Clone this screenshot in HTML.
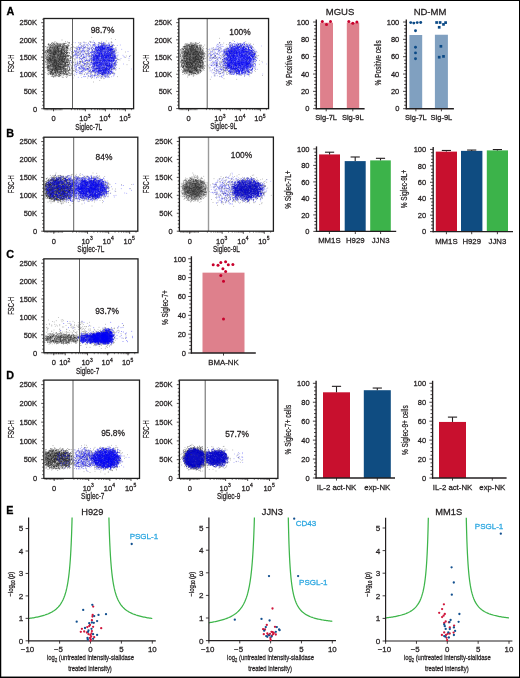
<!DOCTYPE html>
<html><head><meta charset="utf-8"><style>
html,body{margin:0;padding:0;background:#fff;}
body{width:520px;height:678px;overflow:hidden;}
svg{display:block;font-family:"Liberation Sans", sans-serif;}
text{stroke:currentColor;stroke-width:0.26px;}
svg{will-change:transform;}
</style></head><body>
<svg width="520" height="678" viewBox="0 0 520 678">
<rect x="0.5" y="0.5" width="519" height="677" fill="#fff" stroke="#000" stroke-width="1"/>
<text x="6.60" y="14.90" font-size="10.8" text-anchor="start" fill="#000" color="#000" font-weight="bold" >A</text>
<text x="6.30" y="137.40" font-size="10.8" text-anchor="start" fill="#000" color="#000" font-weight="bold" >B</text>
<text x="6.30" y="257.50" font-size="10.8" text-anchor="start" fill="#000" color="#000" font-weight="bold" >C</text>
<text x="6.30" y="379.40" font-size="10.8" text-anchor="start" fill="#000" color="#000" font-weight="bold" >D</text>
<text x="6.30" y="514.30" font-size="10.8" text-anchor="start" fill="#000" color="#000" font-weight="bold" >E</text>
<defs><marker id="mk0" markerUnits="userSpaceOnUse" markerWidth="2.80" markerHeight="2.80" viewBox="0 0 2.80 2.80" refX="1.40" refY="1.40" overflow="visible"><rect width="2.80" height="2.80" fill="#3a3a3a" fill-opacity="0.6"/></marker></defs>
<path transform="scale(0.25)" d="M367 149l78 6 17 3-99 8-5-1-66 4 25 3 6-2 13-2 8 2 19-1 13 1 3 3 29 0 15-1 12 1 11-3 2 0-45 5-7-1-46 3-10-1-18 1 3 5 6 3 1-1 3-1 17 2 17-4 4-1 5 5 23-1 6 1 4-2 4-3 32 1 10 1-6 9-8-1-2-4-5 4-8 1 0-3-2 0-29 1-3-3-24 2-1 3-23 0-5-1-3 1-13-2-17-3-1 3-9 2 5 2 3 2 5 1 1 0 7-3 2 3 13-4 15 4 2-4 3 2 3 3 8-4 1 2 10-1 1 2 4 0 13 0 2-4 10 2 12 1 11-3 4 3 28-3 5 8-15 2-11-2-7-2-3 1-16 4-12 0-12-1-4 0-18 0-12-2-5 1-8 2-8-3-13 1-5-2-14 3-8 7 8 0 4-1 6 1 2-4 5 2 7-1 10 0 2 3 5-3 5-1 35 0 14 0 6 0 6 0 0 4 11-5 25 3 8-1 48 2-38 2-10 5-7-4-2 4-1-2-47 2-1-1-3-3-16 1-25-1-3 2-1 2-6-3-19-2-1 4-3-1-8 2-6-3-14-2 13 8 5 2 5 1 2-1 4-2 12 0 12-2 1 3 11 2 1-1 2 1 20-2 15-2 8 2 5 1 4 0 8 0 7-2 20 3 3-1 74 3-5 2-13-1-41-2-14 3 0-1-5-1-7 1-1-1-24 3-2-2-4-2-10 2-5-1-2 3-1 1-9-5-3 5-10-2-1 2-15-5-17 3-7 1 0-3-25 1-5-1-10 7 1 1 30-2 3-1 11 4 1-3 6 2 3 1 22-1 11 2 1-3 9-1 6 4 22-5 9 5 4-2 9-3 1 1 15 0 13 3 39-2-27 8-7-2-1 0-13 3-7-3-13 3 0-2-5-2-8 4-9-4-2 0-2 3-1 1 0-4-12-1-3 5 0-3-15-2-1 0-10 4-19-3-16 0-6 4-8-3-1 0-15 0 20 9 0 0 7 0 4 0 8-3 7 1 0-3 8 5 0-1 4-4 6 0 1 1 34 3 1-3 0 2 2-2 4 3 7-3 12 4 10-2 43-3 36 1-54 9-2-2-12 0-27 3-8 0-2-4-25 1-4-1-6 3-11-3-15 1-1 2-3-1-20-3-2 5-1-5-2 4-4-4-8 5-6-2-10-1-2 5 11-1 2 4 5 0 2 0 4 0 3 0 1-1 3 0 14 1 3-4 1 3 0-1 6 2 2-4 1 0 5 0 5 5 30-5 7 0 5 0 2 1 7 4 7-2 0-1 0 1 7-1 2 3 29-2 10 1 43 3-65 3-3 1 0-3-1-1-10 2-1 1-4-3-2 1-3 2-12-4-2 4-23 0-4 1-8-4-12 2-12-1-7 2-5 0-4 1-1-4-17 3-10-3-5 1-15 0 44 4 1 5 14-1 0-1 7-3 4 2 2-1 18 4 7-5 6 0 16 2 15 3 9-1 9-2 2 0 3-1 4 0 4 0 30 9-19-4-1 4-31-2-4 2 0-2-1 2-4-1-1 0-6-2-14 1-35-1-4 0-6 2-3 2-8-2-10-3-12 0-1 4-2-2-23 3 9 4 3 1 17-3 12 2 9-3 11 3 2-2 6-1 1 5 17-2 5-2 16 4 11-4 1 2 0 2 2-3 1-1 3 2 8-1 9-1 0 2 11-1 6-1 11-1-49 9-15 0-2-1-1 0-22 3-2-4-1 2-1-2-1 4-2 0-6-5-5 3-4-3-19 1-4 0-27 4-1-3-2-1 23 7 5 3 16-3 9-2 0 2 10 3 0-4 13-1 3 2 6 3 4-4 3-1 6 3 14 1 3-2 3-1 2 4 1-5 9 5 30-1-28 5-13 1-6 1 0-5-1 5-11-5-20 2-10 3-8 0-13-3-10 0-2 1-8-1-10-2 5 6 28 4 3 0 29-4 10 4 3-4 5 1 8 0 8 3 2-3 19-1 31 7-38 0-4-1-16 4-3-4-3 1-37 3-1-3-76 5 59 0 15 1 38-1 1 2 10 1-16 7-25 6" fill="none" stroke="none" marker-start="url(#mk0)" marker-mid="url(#mk0)" marker-end="url(#mk0)"/>
<path transform="scale(0.25)" d="M445 166l-20-2-28 6 2 2 7-3 11 2 35 8-5-2-26 0-4 2 0-1-3-1-11-3-5 2-17 0 25 6 3 1 1-3 1 5 2-4 1 0 10 1 12 1 12-1 2 2 14 6-13-1-7-3-2 1-4 4-7-1-9-4-14 0-1 4-6-1-4-3-2 2-1 2-2-1-3 1 0 1-6 6 8-5 2 4 7-4 1 0 1 2 8-2 0 5 0-3 0 3 4-3 1 2 0-2 2 3 1-5 2 5 1-4 3 1 12 1 5 2 4-5 2 0 14 5 2 6-6-1-4 1-2-5-2 0-1 1-3 1-2 1-2-3 0 0-1 4-10 0-4-2-1-2-3 0-14 5-2-4 0 0 0 1-1 1-1-2-9-1-12 4-12-2-2 1 6 6 4-3 4 2 8-2 1 3 0-3 11 5 2-5 6 1 6 0 2 0 2 1 9 3 0-1 1-3 2 1 2 1 0 0 4 1 3 1 4 0 4-3 1 3 0-4 5 0 2 2 0-2 6 8-8-1-6-2-5 5 0-3-6-1-4 1-6 2-1-4-3 3-5-2-2 3-2-1-9 2-2-4-4-1-3 1-2-1 0 4-5-3-4 3-6-1-1-1-11-1-11 4-4 0 12 1 4 1 0 4 2-2 14 2 1-1 2-1 5 1 4-4 3 2 9 2 1-4 0 1 3 1 4 2 2 0 2-4 7 0 5 0 1 4 8 0 2 1 0-4 0-1 14 5 0 6-1-1-3-1-2 2-5 0-5-3-1 3-2-4-9 4 0-5-1 2 0-2-8 5 0-1-2-4-2 0-4 0 0 1 0 3-7-1-4 2-2-3-5 2 0-1-1 2-2-4-3-1-1 0-2 4-1 1-10-1-12-2-4 3-1 1 13 2 4-1 2 3 2-4 1 0 5 0 1 5 1-5 2 2 0 3 0-4 1 2 13 2 2-4 0 2 6 1 5-3 1-1 3 3 1-3 3 3 2-3 9 4 3-3 1 1 5-1 3 0 7 4 2-2 4-1 1 1 6 1 3 6-11-4-2 1-5-1-3 0-5 1-6-1 0 0-7 4-1 1 0 0-10-3-3 1-1-1-4 3-1-2-4-3-4 1-4 0-6 3-1-1 0 2-8-1-6 1-5-3 0 1-10-2-4 1 2 4 4 1 6-1 1 4 4-3 2 4 6-3 11-1 0 4 2-3 2-1 0 0 1-1 13 3 3 1 1 1 5-5 2 4 2 1 9-5 1 1 0 0 7 4 2 0 0-4 0 2 2 0 4-1 1 2 5-4 2 3 1 1 9 5-26 0-11-2-1 0-8 3-5-2-16-2-4 5-1-4-1 3-7-4-2 5-2 0-5-1-3-1-5-2-7-1-1 3-6-1 13 6 2 0 3 3 0-2 3-2 4 3 3-3 2 3 2-1 4-3 3 1 1 4 0-3 7-2 0 2 0-2 17 5 1 0 1 0 0-4 3 3 1-3 0 1 3-1 7 3 8-2 9 1 0-1 4 0 2 3 0 6-2 0-5-1-1-4-7 0-2 5 0-4-8 4 0-2-3 0-2-2-2 0-1 3-7-4-1 2-6 1-1 2 0-3-1-2-3 5-21-1-1-2-3 3-4-5-22 2-4 7 3 2 13-3 0 0 3 1 9-1 9 1 1-2 6 1 1 3 1-3 5-2 13 4 7-4 7 5 4-5 4 1 0 3 1-3 2 3 9-3 4 4 2-5-6 8-1 3-5 0 0-4-4 0-4 2-3-2-6 3 0-2-6 2-4-1 0 2-2-4-1-1-3 0-4 5-4-1-6-4-1 4 0 1-1-1-4-2-3 3 0-3 0 2-1 0-3 0 0 1-2-2-1-3-1 3-10-1-16 0 23 7 4-2 1 0 11 0 4 2 1-3 3 5 1 0 10-1 1-2 6 3 0-5 3 4 7-3 3 0 5 4 6-3 1-2 2 0 8 2 7 1-21 7 0 0-2-4-7 3-5-3-8 0 0 3 0-3-1 2-4 3-3-4-7-1-5 3-3-3-2 0-5 4 0 2 2 3 3 0 5 0 5-1 3 1 6 2 0-4 0 0 10 2 4 0 8-2 4 4 10 0 3-3 1 5-5-1-10 4-10-4-8 2-6-2 0 0-5 3-1 1-1 1 0-1-2-3-2-1-26 2-15-1 12 8 16-2 40 2 5 7-47-4" fill="none" stroke="none" marker-start="url(#mk0)" marker-mid="url(#mk0)" marker-end="url(#mk0)"/>
<defs><filter id="bl0" x="-50%" y="-50%" width="200%" height="200%"><feGaussianBlur stdDeviation="2.0"/></filter></defs>
<ellipse cx="56.50" cy="59.50" rx="8.50" ry="14.00" fill="#333" fill-opacity="0.6" filter="url(#bl0)"/>
<defs><marker id="mk1" markerUnits="userSpaceOnUse" markerWidth="2.80" markerHeight="2.80" viewBox="0 0 2.80 2.80" refX="1.40" refY="1.40" overflow="visible"><rect width="2.80" height="2.80" fill="#262626" fill-opacity="0.7"/></marker></defs>
<path transform="scale(0.25)" d="M248 160l14 7-42-1-12 5 3-1 5 2 3 0 5 1 3-3 27 3 2 0 6 0 3 0 5-5 5 3 1 1 1-1 1 1 9 6-12-1-5 2-10-5-1 2-1 2 0-4-2 2-2 1-1 1-2 0 0-4-4 2-2 2-2-1 0-3-2 5-1-1-1-3-2 4-2-5-3 4 0 1-1-3-1-2-1 3 0-2-3-1-6 5-1-3-1 2-2 1-2-4-1-1-1 2 0 1-4 1-1-4-1 0-4 4 0 0-6-1-1-2 0 2-1 0-2 0 2 3 2 4 1-3 2 3 1-4 4 2 0 3 0-2 1-2 2 2 3 0 0-3 3 1 1 3 0 1 3-5 0 5 4-3 1-1 2-1 1 2 1-2 0 5 3-3 0 2 2 1 1 0 0-1 2 1 0-2 2 2 0-5 0 0 1 5 0-3 3 0 0 1 2 0 0-2 1 2 1 2 0 0 5-2 1 1 0 1 1-1 0 1 2-5 1 4 1-2 0 3 4-2 0-1 1 0 2 0 4 1 0 2 1-2 3-2 3 3 1-2 0-1 5 2 16 5-4-2-4 5-3-2-11-2-3 2 0-2 0-1 0 3-1 2-1-1-1-1 0-3 0 5 0-1 0-4-1 5 0 0-1-1-2-4-1 2-2 0-1 2-1-2-2-2-2 5-1-5-1 0 0 4-1 0 0 1 0 0-1-1-5 1 0-3-1-2-2 0-4 1 0 2-6 0-1-3 0 4 0-2-1 3 0 0-1-1 0 0-1-1-1 2 0-5-4 0 0 4-1-4-1 4-2-4-1 3-1 2 0 0-2 0-4-4 0 3 0 1-3 0 0-4 0 3-3 0-2 1 0-2-1-3-1 3 0 0-1-2-1 3-7-4 0 5-1 0 0 0-7-4-2-1 3 6 4 4 5 1 3 0 0-5 1 3 1-3 0 3 1 0 2-3 3 4 3-2 1 2 3-2 0-2 4 1 1 4 1-2 0-1 5 0 1 2 3-3 1 2 3 1 0-3 1-1 1 3 0 0 0-2 6 1 0 1 3-2 3 1 2 0 1 0 0 3 1-5 0 4 1 1 2 0 0-5 1 3 2 2 0-5 1 4 2-3 0 1 1 2 2-4 2 4 1-1 1-3 3 2 1-2 0 1 1 0 1-1 1 0 3 2 6-1 3 4-3 4-4-1-5-1-2 3-1-2-1 1-1 1 0-4 0 0-1 5-3 0-3-3 0 1-1-1-3 0 0-1-1 1 0-1-1 4-1-1-4 1 0-2-2 2 0-5 0 1 0 0-1 2 0 0-1-2-1 2-1 0-2 1-5-1-2-2 0 1-1 0-2-2 0 2 0-1-3 4-1-3-1 1-2 2-2-3 0-1-1 4-1-3-2 2-2 0 0-4-1 0-1 3-2-1-5 0-3 3 0-3-2 3 0-3-1 2 0-3-1 1-1-1 0 1-2 3-1-1 0 0-1-3-2 2 0 2 0 0-3-4-1 0 0 3-4 1-1 0 0-1-5 7 1-1 2 0 0-2 6-1 0-1 2 1 0 4 0-3 0 0 0-1 1-1 1 2 4 0 0 0 1 2 1-3 3 0 1-1 0 0 1 4 1-3 1-1 1 4 0 1 2 0 0-5 3 2 3 3 1-3 0-2 1 5 1-2 0-2 0 2 2-2 2 0 0 1 1 3 1-4 0 1 2 3 0-3 2 3 2-3 2-1 1-1 1 5 0 0 0-4 0-1 1 0 1 0 1 2 1-1 1 0 2 1 1 3 2-4 0 0 1 3 1-2 0 3 0 0 0 0 1-3 1-1 1 1 0 1 2 2 6-4 1 1 1 0 0-1 0-1 0 4 1-3 2 3 0-4 5 3 0 2 1-1 0 0 0-3 3 4 2-5 15 4 6 1-4 4-10-2-2 3 0-2-3-2-4 0-1 1 0-1 0 4-1-3 0 1-2 1 0 1 0 0 0 0-1 1-2-5 0 0-1 1-2-1-3 3 0 1 0 1 0-3 0 3-1 0-1-3-1 3 0 0-1-4 0-1-2 3-1 2-1-2-1-1 0-2-1 1 0 1-1 2-1-2 0-1-1 2 0 2-8-2-2-2-3 2-6 2 0-3-1 1-1 0-1-2 0-1-1 0-1 0 0 4-1-3 0 0-4 3-2-3 0 1-1 1 0 0-2-3-1 3-4 1-1-1 0-1 0 2-3-1 0 1 0 0-1-3-1 4-2-4 0 4-1-3-3 0 0-1 0 0-4-1-4 4 0-4-1 2-3-2 2 7 5-1 0 3 5-1 2 0 7 2 0 0 3-2 4-1 4 0 0 0 0 2 1-3 1 0 0 2 1-2 0 1 1 3 1 0 0-3 0-1 1 2 0 1 1-2 2-1 0 1 3 0 4 2 1 0 3 0 0 1 1 1 0 0 2-2 1-3 2 4 1-1 1-3 1 5 1-1 0-4 1 1 0-1 1 3 2 0 2 1 1-4 1 5 2-1 1-2 1 3 0-3 1 2 1 0 4-2 1 3 0-2 0-2 2 3 1-2 3 3 3-4 2 4 3 0 10-5 10 7-4 3-9 1-1 0-2-4-2-1-3 5-1-5 0 3 0-1-3 1 0-3-1 1-1 2 0-3-1 3-1-1-1 3-1-5-2 2 0 1-2 2 0-2 0-2 0 3-1 1-2-2 0 1-1-4 0 4-2-1-1 1-1-4-1 5-2 0-1 0 0-1-2 1 0-5-1 5-4 0 0-1-1-4 0 4 0-2-1 0-1 2-3 0-2-4-1 2-3 1 0-2-1 1-12 1 0-1 0 0-1 3-3-2 0 0 0-3-3 3-1 2 0-3-2-2-2 2-1 2-1-2 0 3-2-5-1 1-1 0-2-1 0 1-2 3-6-4 0 4 0-4-2 3-5-1 0-1 2 5 0 1 2 0 0 4 3-2 2-1 1-2 1 0 1 1 3 4 1-1 1 0 0-1 0-1 1-1 2 2 5 2 1-4 3 2 1 0 0-3 0 2 3 0 0 3 3-4 0-1 2 2 2 1 0-3 0 0 2 5 3-2 2-3 1 2 2 1 5 1 2-2 0 0 1 3 0 0 0-4 1 2 5-3 1 1 2 1 0 3 2-3 1 1 1 2 0-5 2 0 0 0 1 0 4 5 1-4 0 2 2-1 0 2 1-2 1-2 3 5 3-1 10-1 0-2 5-1 2 5 11 6-3-5-14 1-1-1-1 2-4-2-2 3 0 0-3 1-1 1-1-5-1 1-1 3-5-4-1 4-1-2 0 0 0 0-1-1 0-1-1 1 0 2-1 2-1-3-2 2-2-2 0-2-1 2 0-2-2 2 0 1-1-3-2 0-1 4 0-1-2 2 0-4-2 2-1 1-2-1 0 1 0 0-1-2-1 1-1-3-1 0-1 5-1-3-3-2-4 3-2-1 0 3-1-1-4-4 0 3 0 2-1-2-3-1-3-2 0 1-2-1 0 1 0 4-4 0-2-1 0-1-1-1 0-1-1 3 0-4-1 0 0 2-1 1 0 2-2-5 0 4-2 0 0 0 0-3-2 1-2-2-2 5 0-1 0-1 0 2-2 0-3-4-2-1 1 11 0 0 4-5 2 4 1-4 0 0 2 3 1 0 1-1 0 0 0-2 2 1 0 3 1 1 3-3 1-2 0 2 1 3 0-1 0-2 2 2 0-2 1-2 0 0 2 2 0-2 3 2 1-1 2 2 0-3 2 2 4 2 0-3 0-1 0 3 1-2 0-1 0 2 2 1 0 2 1-4 2 4 1-3 0 2 0-3 4-1 2 3 0 1 1 1 0 0 1-1 2 1 1-2 1-1 0-1 4 4 1-2 2 0 0-1 1 0 0-2 1 1 0-1 1 3 2-3 0 5 1-5 0 1 0 3 2-4 1 0 0 5 1 0 1 0 2-5 0 0 1 1 0 0 0 3 5-3 1 3 0-3 1-1 1 5 1-5 0 0 2 2 1-2 3 2 0 2 1-2 2 2 1 0 3-2 1 1 1-1 8 3 9-1-7 6-4 1-4-2-6 0-3 0 0-1-2 0-3-1-1 2-1-2 0 3 0 0 0 1-1-1-1 0-1 0-1-1 0-2-1 0-2 4 0 0 0-3-2 0-2 0 0 3-2-5 0 4-1 0 0-1-1-3-1 0 0 0 0 1-3-1-1 3 0 2 0-5-1 3-2-3 0 2-4-2-1 4-3 0 0 0-2-1-2-2-3 0-3 3-1-1-1 2 0-4-2 0-3 3 0-3-1 4 0-2 0-2-1-1 0 4-1-2 0 0 0 2-1 0-3-2 0 1-1-3-2 2-2 3-3 0 0-5-1 4 0-3-3 2-2-1-2-2-1 4 0-3-2 4 0 0 0-5-3 0-3 4 0-4-2 5-4-1 1 7 3 0 3-1 0-4 1 3 5-1 1 0 0-1 5 3 2 1 2 0 3-1 0 0 2-1 1 1 1-3 0 0 1 0 4 2 0-1 3-1 2 1 1 3 0 0 1-5 1 0 1 2 0-2 1 5 0-2 0-2 2 0 3 4 0-3 0-1 1 2 5-3 0 4 1-1 1-2 1 3 2-1 0-3 1 4 1 1 2-4 2 0 6 4 2-3 1-2 1 0 1 5 0-3 0 0 0 3 1-3 0 1 1-1 0-2 0 4 1 0 5 1 1-5 2 0 4 5 1-3 2 1 0-3 9 3 4 5-5 3-7-4-5 2 0-3-1 2-1-1 0 0-1-1 0 2-1 1-1-3-1 5-1-3-1 3-1-3-2 0-2 1-2-1 0 1-1 1 0-4-2 3-1 2 0-5-1 1 0 4-4-4-1 0-1 2-1-3-2 0-2 2-1-1 0 0-3-1 0 3-1-3-4 0 0 2-1 0 0 3-1-2-2 0 0 0-2 1-1-1-1-3 0 0-1 2 0 3-3-2-1 2 0-2-3 1 0-2-1 2-1-4-1 1-1-1-1 4-1-2-1 3 0-5 0 4-2-2-1-2-6 5-1-1 0-4-1 3-2 2-3-1 0 1-1 0-1-3-2 2-1-2-2 3-1 3 2 3 0-3 0 1 1-2 1 4 0 0 0 0 2-2 0 2 0-5 0 1 3 2 1 0 2-2 4-1 0 1 0-1 4 1 2 1 3-1 0 1 2 3 0 0 1-2 1-1 3-2 0 0 0 3 1-3 1 0 1 3 0 0 1-3 1 4 1 1 1-1 2-2 1 0 3-2 1 3 0-1 2-1 0 3 0-2 1 0 0 2 1-2 0 2 0-1 1 1 3-1 0 0 0 1 1 1 0-3 0 0 4 3 0-3 1 3 1-1 1-1 3 1 0-3 1 3 0-2 0-2 1 2 1 2 1-2 1 2 1-2 1-2 0 5 1-4 1 0 0-1 1 0 2 2 0-2 4 2 1-1 4 1 2-1 2 4 2-5 7 5 1-3 2 0 0 2 7 4-11 1-1-1-6 3 0-1-2-3-1 0-5-1-2 5 0-4-1 3-4 1-2-1-2 1-3-1 0 0-1-3-1-1 0 4-1-1-1 0-1-1 0 2-1-3-1-1-3 2 0-2 0 4-4 0-1-4 0 3 0-1 0-2-2 5-4-5-1 5 0-1-2-4-3 3 0 0-1-2-1 0-2 4 0-5 0 5-1-5-2 5 0-2-1-1-1 0 0 3 0-3 0-2 0 4 0 0-1-4-2 5-5-2-1-1-4 1-6-1 0 1-2-1-1 2-1-2-3 2 0-3-2 4-1 0 0-5-1 1 0 4-6-4-2-1 6 6 3 0 2 5 1-4 4 2 0 2 1-2 1-1 0 1 4-1 2 1 0-1 1-2 1 1 2 1 0-1 1 1 1 1 0-3 3 0 1 5 1-1 1-1 1 0 1 2 1-2 0-3 3 4 1-4 0 1 0 2 1 1 1 1 0-3 2 2 0-2 2 0 1-1 0 1 3-1 1 1 2 0 0-2 1 0 1 2 2 2 0-1 1-2 0 4 1-3 0 1 0 2 4-2 0-3 3 0 1 5 1-1 1-4 1 1 0 1 1-1 2 4 1-4 2 3 1 0 0-3 0 0 1-1 0 0 1 3 3 2 2-3 1-2 2 5 2 0 3-4 0 2 1 0 1-1 3 3 5-5 1 3 2 1 4 4-2-2-4 5-1-4-10-1-2 1-1 1-1-2-1 5-4-3 0 2 0-3-4 3 0-4-1 3 0-2-1 3-1 1-1-4 0 3-1-1-1-3-2 4 0-3-2 1 0 0-1-1-2 4 0-1-4-1 0 0 0 1-3-2 0 3 0-2-3 1-1 0-2 1-1-2-6-1-1 2 0-4-2 1 0 4 0-2-3-2-2 3-1 1 0 0-2-5-1 3 0-2-2 0-7-1-1 1 0 1 0-1 0-1 0 1-3 2 0-2 0 0-1 2 0 2-1-2-2 0 0-1 0 2-2-1-2 0-3-3-1 0 0 0-3 2-1-1-11 6 14 2 4-2 2 4 1-4 1 3 1-3 0 4 1-2 2-2 0 1 1 1 1-2 0 2 1 1 2-1 3 2 2-3 0 0 1-2 3 3 0-1 1 0 1 1 0-3 0 3 2 0 3 2 1-5 2 4 0-1 0-3 2 0 1 1 3 0 0-1 1 1 1 1 1 3 3-1 0-2 1 3 0-5 3 1 2 3 1-3 3 4 1-1 0-2 1-1 1 4 1-5 0 5 1 0 4-1 1-1 0-2 0 1 1 2 1 0 1 1 0 0 2-4 6 1 1-1 3 4 1-3 7-2 4 1 3 9-5-2-1-1-3-1-4 1-6 0-1 4-1-4-1 4-1-1 0-4-3 4-1 1 0-2-1 0-1 1-4 0 0-3-1-1-1 4-3 0-1-4-2 2-3-2-1 3-1-2-3-1-1 1 0 1-1-1 0-1-3 5-1-3-1 2 0-1-1 2 0-3-3-2-6 2 0 1-3-2-1 0-1 4-3-3-3-2-1 4 0-1-1-3 0 1-2-1-1 5 0-3 0 2-1-1-1-1-1-2-1 5-2-5-1 4-2-4 0 4 0-4 0 2-5-1-1 3-3 1-3-5 16 11 5-3 2 3 4-5 2 4 2-1 1 0 1 0 4-3 2 2 0 1 0 0 5 2 1-1 2 0 1-2 1-2 2 3 2 0 1-2 5 3 7-2 9 3 2-5 5 0 5 1 1 1 4-1 0-1 7 1 10 2-29 4-3 3-13-1-4 0-11-3-2 1-13 0-7-1-1 3-1-2-5-1" fill="none" stroke="none" marker-start="url(#mk1)" marker-mid="url(#mk1)" marker-end="url(#mk1)"/>
<defs><marker id="mk2" markerUnits="userSpaceOnUse" markerWidth="2.80" markerHeight="2.80" viewBox="0 0 2.80 2.80" refX="1.40" refY="1.40" overflow="visible"><rect width="2.80" height="2.80" fill="#0808f4" fill-opacity="0.55"/></marker></defs>
<path transform="scale(0.25)" d="M407 165l-33-1-73 7 13 0 10 2 9-4 6 1 15 3 1-1 8-4 1 1 6 0 7 2 1-1 22 1 15-2 25 3 7 0 6 7-15-2-6 1-7 0-4-3-7 0-8 3-18-1-7-1-4 1 0 0-1 2-4-1-12 0-3 0-12-1-7 0-5 2-10-3-4 2-4 5 10 1 3 0 9-2 5 3 4-5 5 1 1 1 10 1 1 1 10-4 0 3 2-3 3 1 1-1 2 3 2 0 7 1 3 1 9-1 2-3 2 1 15 2 4-2 3-1 1 1 4 1 1-1 1 2 4-4 1 1 7 4 3-4 0 3 1-2 1 1 0-2 17 1 12-2-34 6-2 0 0 1-5 3-4 1-1-2-1 0-2-3-1 2-11 0-3-2-1 0-6 4-4-3 0 1-1-2-2 2-3 0-6-2 0 4-1 0-3 1-6 0-2-1-1-3-6 1-5 0-2 1-2 0-8 0-8 2-8-4-2 2-3 1-1 1 0-3-2-1-8 2-2-3-1 3 0 1-5 1 0-1-2 0-1-1 0-3-2 5-3-1-7 0 4 4 2 0 9 3 0 0 0-4 1 2 3-1 5-1 4 3 0-3 1 0 3-1 1 4 4-3 12 0 1-1 4 2 2-1 4-1 2 4 1 0 3 1 5-4 8 2 2-3 2 4 2-4 3 0 2 4 0 0 4-4 2 0 1 1 5 4 10-1 0-1 1-3 0 4 15-4 0 3 1-2 4 4 5-2 3 2 4 0 2 0 3-2 3 0 0-1 5 2 4 0 22 1-22 6-6 0-2-5 0 5-1 0-5-4-1 2-4 2-2-4-2 2-5 1-4-4-4 4-4 0-11-4 0 0-4 4 0-1-1-1-1 2 0-4-5 4-5 0-2 0-1-2-2 3-4-1-1-2-8-1-1 4-7-3-2-2-1 3-12-3-1 0-2 4-3-1-6-1-7 3-3-2-3 2 0-5 0 4-3 1 0 0-2-2-10 0-4-1-3-2-3 1 0 2-9 1 0-1-13 5 13-1 2 2 1 2 2-3 0 1 3-3 2 1 0-1 3 5 1-1 2 1 4-2 5-2 2 1 3 0 2 2 3 1 2-3 3-1 1 2 9-3 3 3 3 1 0-4 0 5 5-4 3 4 5-4 0 4 22-4 6 2 2 1 5-2 2 0 1 1 3 0 8-1 1-2 1 5 2-3 12-2 0 5 9-4 1 2 8 1 2-2 20 3 40-3-50 8-11 0-2 0 0-2 0 0-11 1-1 2-10-1-14-1 0 1-10-4-3 1-2 4-4 0-4-5-29 0-4 3-1 1-4 0-7-1-3 1-6 1-7 0-2-4-2-1-3 5-6 0-1-4-5 0-4 3-2 1-1-1-8 6 3-1 2-3 1 1 2 1 3 2 2-3 0 4 7-1 5-2 5 2 1 1 5-2 1-2 2 0 1 2 0 2 5 0 5-5 0 4 6-2 3 1 0-2 2 4 9 0 18 0 1-1 3 1 5-3 7 0 4 3 4-2 0 0 6-2 4 3 1-1 0-1 6-1 3 1 2 3 5-2 2 0 2-2 1 1 2 2 2-2 10 0 3 3 5 0 31 0 26 4-22 1-33-1-3 1 0 1-1-3-4-2-3 5-4-5-7 0-5 2-2 1-2-3-16 2-5-1-1 0-2 2-1 2-3 0-6 0-2-5-4 0-1 4-1 1-5-5-1 2 0 1-2-2-2 3-2-2-4 1-2 0-10-2-3 4-1-1-4 0-6 1-1-4-2 3-3 1-5 0-1 0-9-4-1 2-4 0-2-2-8-1-1 3-3-3 0 3-6-2-7 0-1 4-6-1 16 4 1 0 4 0 2-1 6 0 0 1 10 3 2-1 1 1 3-4 2 0 0 0 2 2 2-1 0 1 6-1 9-2 4 5 6-5 2 5 1-4 2 4 2-2 1-3 1 2 2 2 2 0 7-4 3 1 1-1 1 0 5 3 2 0 6-3 4 0 1 2 0 2 4-3 9 1 1 3 2-2 1-1 7 1 6-3 1 5 1 0 8-1 3-2 2 3 2-1 1 0 2-3 3 3 1 0 36-3 19 4-32 1-18 0-16 2-6 0-3 0-8 2-4 1-9-3-1-1-4 1-2 3-5 0-1-3-1-1-1 0-8 4-6-2-4 2-5-3-10 3-5-4-3-1-1 1-1 4-4-1-5-1-8 2 0-3-6 1-4-1-5-1-3 2-2-1-2-1-2 0 0 0-10 0-6 0-21 9 25 0 0 1 9-1 9-4 2 4 1-2 7 3 2-5 0 5 3 0 1-3 0 0 2 0 3-1 0 0 0 1 2 2 4-3 2 2 2 1 0-2 8 2 3-2 10 2 5 1 2-4 5 2 1-3 9 3 0 0 2-3 2 0 2 3 3 0 1-3 0 5 3-4 4 2 1 1 1-3 1 0 3 1 5 2 6-1 4 1 2-1 0 1 1 0 2-2 10 0 5 1 8 1-5 3-21 0-2-1-3 5-1-2-1 2 0-3-5 3 0 0-5-4-1 3-8-2 0-2-4 1-3 2-8 0-1 0-5 1-2 0-4-3-1 1-22 2-10-4-13 0-7 4-4-3 0 3-1-1-1 0-8 1 0-3-3-1-2 4-7 0-24-1 13 3 3 5 5 0 3-4 1 1 2 3 5-4 0 0 15-1 2 1 2-1 1 3 1 2 3-3 0 2 1 0 6-3 2 1 9 0 5 2 7-2 7 3 3-1 0 1 10-5 1 4 11 0 0-1 2 2 4-4 0 4 8-4 4 3 0-4 1 1 0 2 10-1 5 0 9-2 1 4 2 1 7-3 5 2 33 0-28 2-5 1-3 0-11 4 0-4-9 4-1-1 0 1-7-3-1 2-1 0-3-2-3-1-1 0 0 4-5-5-1 3-1-1-8 1-8-3-3 2-2 3-2 0-2-3-3 0 0-1-7 4-1-5-2 0-4 1 0 1-10-2-6 2-4-1-2 0-2 0-4 1-5 0-1-2-3 3-11 0 0-3-1 3-10 0-4 1-4-1-5-1-1 2-23 4 14-2 9 2 4 1 2 0 1-1 0 2 11-4 6 2 1-1 1 1 1-1 2-1 3 3 1 1 2 1 1-5 0 5 11-2 2-3 5 2 6 2 7 0 2 1 6-3 0 1 1-1 3-2 3 4 10-4 1 5 2 0 5-5 5 4 2 1 2-5 7 2 3 3 1-2 1-2 5 1 5-1 3 4 2-3 3 2 8 0 1-4 3 1 0 0 2 1 1 1 9-1 3 4-6 5-1 0-1-2-4-2-9 4-6 0-12-4-1 3-1-4-1 4-6 1-4-3-2 0-4 0-5-2-4 3-9-1-2 0-1 2-1 1-4-1-3 0-6 1-3 0-1-2-10 2-4-3-1 1-1 1-1 0-1 0 0 1-1-2-4 0 0-1-6 3 0-5-1 4-2 0-1-1-1 0-3 0-1 1 0-2-4-1 0 2-2-2-2 3-2-1 0 0-2-2-1 1-1-2-2 0-9 4-4-4 0 6 3 0 2 5 0-3 6 2 5-2 9-1 6-1 1 1 0 0 4 2 1 0 2 0 4 0 0 1 0-1 0 1 4-1 2 0 0-2 5 2 5 1 1-3 4 0 4 0 3 2 3-3 1 0 7 2 2 2 0 0 9 0 4 0 2 0 3-2 1-2 0 5 2-2 4 0 0-1 7 2 1-2 4 1 0-2 6 2 1 2 2-2 2-3 15 1 15 4 62-5-73 8-6-2-11 4-1 0-2-2-5-1 0 2-1-2-9 1-1-1-1-1-3 5-9-4-2 1-1 0-1-2-2 5-3-5-1 3-1-2-12 3-2-2 0-1 0 1-2-2 0 4 0-4-4 1-1 1-1-2-1 1-7 4 0-3-3 1 0 1-1-3-2 3 0 1 0-5-14 0-4 2-2 1-4-2 0 1-1 0-3 2 0-4-1 5-1-2 0 0-4 2-2-2-1 0-5-2-4 1-9 3 6 2 0 0 1 2 8 0 2-3 5 5 4-5 4 2 14 3 11-1 8-2 2 2 1-1 1-2 8-1 12 2 0 1 5 2 3 0 0-1 3-3 7 4 4-3 0 0 6-1 6-1 2 3 2 0 7 2 0-2 1 1 1 1 0-3 0 1 0 2 2-1 0-4 10 4 0-2 1 2 11 4 0-1-3 2-1-3-12 2-1 0-6-1-7 3-1-2-3 1-2-3-3 3-8 2 0-1-1 0 0-3-2 0 0 0-1-1-1 5 0-1-7-4-7 4-2 1-1-4-2-1-6 5-5 0-21-4-5-1-3 2-2 2-9 1-10-4-5-1-5 1-10 2-8-1 36 9 19-2 8 2 1-1 1-4 1 3 2-3 1 1 3 4 1-3 5 2 0-1 1-1 0 2 9-3 2-1 6 0 3 5 11-5 7 5 3-3 0 3 5-2 2 1 2-3 1 0 2-1 5 4 17 0 3-1-10 4-11 2-5 0-6 0-1-1-2 0-12-1-3 0-2-1 0 4-11 0-5-1-2 0-18 0-5-1-2-1-5-1-13 0-3 1-4 0-9 3-14-1 64 3 9 0 31 1" fill="none" stroke="none" marker-start="url(#mk2)" marker-mid="url(#mk2)" marker-end="url(#mk2)"/>
<defs><marker id="mk3" markerUnits="userSpaceOnUse" markerWidth="2.80" markerHeight="2.80" viewBox="0 0 2.80 2.80" refX="1.40" refY="1.40" overflow="visible"><rect width="2.80" height="2.80" fill="#0808f4" fill-opacity="0.8"/></marker></defs>
<path transform="scale(0.25)" d="M394 171l11 2 3 0 7-3 20 2 4 7-7 0-14-4-3-1-2 3-1-1-3 1-1-3-2 4-11-1-2 1-8 7 8-2 2 2 1-3 4 3 3 0 1-1 4-2 1 0 3-1 2 2 1 2 3-3 1 1 1 2 0 0 0-5 1 3 4-2 3 0 10 2 0-1 13 3-3 3-3-2 0 2-1 0-3-2-1 4-1-3-2-1-2 5-1 0 0-1-2-2-3 3 0-2 0 1 0 1 0-2-1 0-3-2-3 2-1 1-1-1-3 0-5 1 0 1-1-5 0 4 0-2-1-1-1 4 0-5 0 2-2 3 0 0 0 0-3-5 0 2-1 1-1 1-3 0 0-2-3 0-1-2-1 1-2 1-4 1 0 0-2-2-1 4-2 0-2-3-7 6 5 3 2-3 2-1 0-1 2 5 0-5 3 5 0-5 3 3 5-2 1-1 0 0 0 3 4 0 1 1 0-2 1 3 2-3 0 3 3-3 1 0 0-2 0 1 2-1 0 4 2-4 0 1 1 3 1-3 1 1 0 1 0-2 1-1 0 2 1 0 0-1 2 0 0-1 3 4 1-1 1 2 0-3 2 3 4-3 1 1 0-3 3 0 4 3 1-2 0 3 0-3 1 2 0 1 3 0 1 0 1-1 0-1 0 3 3-4 1 4 2-3 2 4-5 0 0 3-2-3-1 5 0-5-1 0 0 4-2-1-1-3-1 0 0 4-1 0 0-2-1-2 0 4 0-2-3 0-1 0 0 2-1-3 0 1-2 0-1-2-3 3-6 1-2-2-2-1-1 0-1 3-5-4-1 0-3 4-3-3-2-1 0 2-1 0 0-1-1 1-1 2-1 0-1-4-2 5-1-5 0 1-1 0 0 4-3-2-1-2 0 2-1 2-3-4 0 2-1-1 0 0-2 0-18 9 3-2 3-1 1-2 4 3 1-2 1 1 0-1 1 2 6 1 1-1 0-2 0 4 4 0 1-5 1 3 4 2 3-5 4 2 0-2 1 4 0-1 3 1 0-3 3-1 4 2 2-1 6 3 2-1 1 0 1-2 3 1 1-1 2 4 1-4 0 4 2-3 2-2 1 5 6-4 0 1 1 2 2-2 3 0 3 1 2 1 1-1 2 2 0-3 4-1-2 9-2-4-3 2 0-1-2-1-3 5 0 0-2-4-2 3-1-1 0-2-3 0 0 3-2-4-2 0-1 2-1 2 0 1-4-1-2-2-1 2-1-1-3 0 0 0-1-2-2-1 0 1-1 1-1 2 0-4-1 5-2-5-4 1-4-1 0 4-1 1 0-2-1 2 0 0-1-4 0 3-2 0-1 0-2 1-1-1-1-3-1 3-2-4 0 4-4-3 0 0-1 3-1 1-2-2-2 2-1-3-2-2-2 0-1 3-2 2 0-3-2-2-1 3-2-3-2 0-3 2-2 0-2 0 3 7 3 0 1 2 2-2 2 1 2-1 1-3 4 4 1-1 0 1 1-2 1 2 2 1 7-5 0 5 3-2 2-1 0 1 0-2 2 1 6-2 1 1 1 4 0-5 1 2 10-1 1 4 0-3 1 2 0 1 2 0 1-2 1 2 2-1 1 1 1 0 1-2 1 2 0-4 1-1 2 4 1 1 1-5 1 0 0 4 3-1 0 1 1-1 1-1 0-2 0 5 1 0 2-1 3-3 2 3 1 0 1-4 2 2 3 2 0-3 1 0 3 2 11 1-3 4-6 2-3-3-1 1 0-2 0 3-4-3 0 5-3-5-11 0-1 5-1-4-3 3-1 0 0-4-1 2 0 0 0 2-4-2-1 3-2-5 0 3-1-3-1 5 0 0 0-1-1 1-2-2-3-2-2 0-2 0-1 2-1 1-1 1-2-5-1 0 0 3 0-2-1 4-2-1 0 0 0-2-1-2-4 2-1 2-2-3 0 0 0 2-1-2-1-1-2 2-2 2 0-2-1 0-2 2-2-3 0 1 0-2 0 3-4-2-2 1 0 2-4-1 0-2-2 1-1-1 0 3-1-3-6 0-2 2 0 8 7-4 2 4 0-4 3 4 0-4 1 0 3-1 1 0 2 3 2 0 2-1 1 0 1 0 1 3 2 0 1-3 0-2 2 0 1 1 7 4 4-1 0 0 1-2 1 2 1-3 3 2 0 1 1 0 0-1 0 2 3-4 0-1 3 3 0-3 2 4 0-1 1-2 0 2 0 1 1-4 1 0 1 2 1-1 2 3 2-4 0 4 0 0 2 1 0-2 5-1 2 0 0-2 1 0 1 0 0 4 1-4 0 1 1 2 0 1 1 1 0-1 0-2 4-1 0-1 2 2 0 1 0-3 1 4 2 0 2-4 2 1 1-1 4 1 9 10-11-5-3 0-3 4 0-3 0 2 0 2-2-2-2-3-1 5-1-5-3 2-3-1-2 4-3-2 0-2-6-1-5 4-1-4 0 3-2-2-7 3 0-1-4 0-1-2-1 4-10-2-3-2-1 2-4 0-1-3-1 0-2 5-1-5 0 0-2 5 0-3 0 3-1-5 0 1-2 0 0 0-3-1 0 5-1-5 0 5 0-2-3 1 0 1-1 0-1-3 0 1-1 1-1 1-1 0-1-3 0 0-14 6 10-2 3 4 3-2 1 0 2 0 0 1 3-2 1 0 1 3 3 1 0-3 1 1 2 1 3-1 1-1 2 2 2-2 2-1 1 4 8-3 2 2 3 1 0 0 1-4 1 2 0-3 2 1 3-1 0 4 1-3 1 0 0 0 2 1 2-2 2 5 1-3 1-2 1 5 1-2 1-1 4 0 0 0 0-1 0 3 1 1 1-4 0 4 1-2 0-3 1 1 1 0 4 0 1 2 1 1 1-4 0 3 1-3 0 2 2 3 0-2 3 2 1-3 1 1 0-3 0 0 0 3 1-1 4-1 5 0 1 1 0 6-3 2-2-3-4 4-3-5-5 0-1 3 0 2-3-4-3-1-4 5-9 0-3-2-2-3-3 1-2-1-1 3-1 1-5 1 0-4-3 3-3-1 0 2-4-2 0-3-2 4-1-1-2 1 0-1-2 2 0-5-4 4 0-2-1 2-1-1-1-2-2 4-2 0-1 0 0-2-2-3-1 5-2-1-1 0-2-1 0-3-2 4-3-1-4 1-1-1-3 0-8 6 9 1 3-4 1 5 2-4 3 1 0 3 2-2 0-1 1 2 0 1 3-4 0 3 1-3 1 1 1 0 1-1 2 0 1-1 1 0 1 2 2-2 2 0 0 3 1-2 7 4 0 0 0-1 3 0 0-4 1 3 2 1 2-2 2 1 3-3 0 3 0 1 0-3 2 2 8-2 2-1 1 5 1-2 1-1 1-2 2 1 4 4 2-1 1-4 0 3 1-1 0 2 2-1 1 0 3 1 5-4 2 3 0 1 6-4 1 4 0-3 1 3 1-4 3 3 4 5-6 2-2-2-5 0-3 2-3 1 0-1 0-3-2 1-1 3 0-5-1 4-3-2-1 3-2-2-1-3 0 3 0-2 0 3-3 1-1-1-3-3-1 3-1 0-1 0-1 0-1 1-1-2-2-2-4 3-1-4-2 0-6 1-2 4-1-3-2-1 0 0-1 2 0-2-2 3 0-3-2 2-2-1 0 3-1-4-1-1 0 3-1 2-2-2-2 0-3-2 0 3-2-1 0-3-1 3-4 0-3-2 0 3-4 1 0-3-3 3-8 0 4 5 4-3 4 4 3-1 0-4 1 3 0-3 1 5 7-5 2 3 0-1 1 2 2-1 4 0 0-1 1 3 2-1 2 0 0-2 4 2 4 0 1-4 1 5 1-1 2 1 3 0 0-3 5 3 5 0 1-1 1-4 2 3 0-3 2 0 1 2 2-1 2 4 2-2 1 2 1-1 0 1 1-2 1 2 0 0 3-3 1 2 3-1 7-3 4 9-5-2-2 3-1-1-5-2 0-1-1 0-7 3 0 0 0 2-2 0 0 0-2-4-3 4-3-1-1-2-2 0-1-1-1 4 0-1-1 1-8 0-2-1-1-4-3 3-1-1-3 0-1 3-2-1-4-2 0-2 0 4-3-1-2 1-1-3-2 3 0 1-2-1-3 0-1-4-1 4-1 0-4 0-6-2 0 0-2 0-4-1 6 10 3-5 0 1 2 3 2-4 1 3 1 2 7-4 2 4 2 0 0 0 1-4 1-1 2 4 0-2 2-2 3 0 2 4 3 1 3-2 1 0 3 1 1 1 1 0 3 0 0-3 1 1 0 2 0 0 2-2 1 2 0-4 1 2 1-2 0 4 0-2 1 0 0-3 3 5 2-5 0 2 2-2 1 1 0 1 4-2 1 5 0 0 0-3 1 0 6-2 6 3-6 5-1 2 0-1-2 2 0-2-6 0-1-3 0 4-2 0-1 0 0-4-3 4-1-2-3 3-2 0-1-2 0-1-2 3-5 0-1-2 0-2-1 4-1-2-2-1-1-2 0 2-2-1-2 2 0 0-1-3-1 2 0 1-2 0-1-2-1 0 0 2 0 0-1-3-2 1-2-1 0 4-1 0-1 0-4-1-1 1-1 0-2-4-1 2 0 2-7-3-3 0 0 2-3-2-4 3 13 6 2-4 0 3 0 0 11 0 1 0 2 0 6 1 1 1 0 0 4-3 0 0 4 2 1-1 0-2 1 1 3 3 0-5 2 0 0 0 1 4 0 0 0-3 1 3 1-2 2 0 0 3 0-1 3 0 2 0 3 1 1-2 2 0 3-1 4-2 4 1 2 0 3-1 1 3-7 3-3 1-2 0-4 3-11-3-1 1-6-1-1 2-1 0-2-1-3-2-1 1-4 3-4-4-4 2-1-2-6 4-8 5 25-3 6 2 9 2 1 1 10 1" fill="none" stroke="none" marker-start="url(#mk3)" marker-mid="url(#mk3)" marker-end="url(#mk3)"/>
<ellipse cx="103.50" cy="59.50" rx="9.50" ry="12.00" fill="#0a0aff" fill-opacity="0.3" filter="url(#bl0)"/>
<line x1="72.50" y1="18.50" x2="72.50" y2="108.70" stroke="#606060" stroke-width="1.0"/>
<rect x="43.85" y="18.50" width="89.75" height="90.20" fill="none" stroke="#1e1e1e" stroke-width="1.3"/>
<line x1="41.25" y1="108.70" x2="43.85" y2="108.70" stroke="#231f20" stroke-width="0.8"/>
<text x="37.05" y="111.50" font-size="7.5" text-anchor="end" fill="#231f20" color="#231f20" font-weight="normal" >0</text>
<line x1="42.25" y1="105.26" x2="43.85" y2="105.26" stroke="#231f20" stroke-width="0.8"/>
<line x1="42.25" y1="101.82" x2="43.85" y2="101.82" stroke="#231f20" stroke-width="0.8"/>
<line x1="42.25" y1="98.38" x2="43.85" y2="98.38" stroke="#231f20" stroke-width="0.8"/>
<line x1="42.25" y1="94.94" x2="43.85" y2="94.94" stroke="#231f20" stroke-width="0.8"/>
<line x1="41.25" y1="91.50" x2="43.85" y2="91.50" stroke="#231f20" stroke-width="0.8"/>
<text x="37.05" y="94.30" font-size="7.5" text-anchor="end" fill="#231f20" color="#231f20" font-weight="normal" >50K</text>
<line x1="42.25" y1="88.05" x2="43.85" y2="88.05" stroke="#231f20" stroke-width="0.8"/>
<line x1="42.25" y1="84.61" x2="43.85" y2="84.61" stroke="#231f20" stroke-width="0.8"/>
<line x1="42.25" y1="81.17" x2="43.85" y2="81.17" stroke="#231f20" stroke-width="0.8"/>
<line x1="42.25" y1="77.73" x2="43.85" y2="77.73" stroke="#231f20" stroke-width="0.8"/>
<line x1="41.25" y1="74.29" x2="43.85" y2="74.29" stroke="#231f20" stroke-width="0.8"/>
<text x="37.05" y="77.09" font-size="7.5" text-anchor="end" fill="#231f20" color="#231f20" font-weight="normal" >100K</text>
<line x1="42.25" y1="70.85" x2="43.85" y2="70.85" stroke="#231f20" stroke-width="0.8"/>
<line x1="42.25" y1="67.41" x2="43.85" y2="67.41" stroke="#231f20" stroke-width="0.8"/>
<line x1="42.25" y1="63.97" x2="43.85" y2="63.97" stroke="#231f20" stroke-width="0.8"/>
<line x1="42.25" y1="60.53" x2="43.85" y2="60.53" stroke="#231f20" stroke-width="0.8"/>
<line x1="41.25" y1="57.09" x2="43.85" y2="57.09" stroke="#231f20" stroke-width="0.8"/>
<text x="37.05" y="59.89" font-size="7.5" text-anchor="end" fill="#231f20" color="#231f20" font-weight="normal" >150K</text>
<line x1="42.25" y1="53.65" x2="43.85" y2="53.65" stroke="#231f20" stroke-width="0.8"/>
<line x1="42.25" y1="50.21" x2="43.85" y2="50.21" stroke="#231f20" stroke-width="0.8"/>
<line x1="42.25" y1="46.76" x2="43.85" y2="46.76" stroke="#231f20" stroke-width="0.8"/>
<line x1="42.25" y1="43.32" x2="43.85" y2="43.32" stroke="#231f20" stroke-width="0.8"/>
<line x1="41.25" y1="39.88" x2="43.85" y2="39.88" stroke="#231f20" stroke-width="0.8"/>
<text x="37.05" y="42.68" font-size="7.5" text-anchor="end" fill="#231f20" color="#231f20" font-weight="normal" >200K</text>
<line x1="42.25" y1="36.44" x2="43.85" y2="36.44" stroke="#231f20" stroke-width="0.8"/>
<line x1="42.25" y1="33.00" x2="43.85" y2="33.00" stroke="#231f20" stroke-width="0.8"/>
<line x1="42.25" y1="29.56" x2="43.85" y2="29.56" stroke="#231f20" stroke-width="0.8"/>
<line x1="42.25" y1="26.12" x2="43.85" y2="26.12" stroke="#231f20" stroke-width="0.8"/>
<line x1="41.25" y1="22.68" x2="43.85" y2="22.68" stroke="#231f20" stroke-width="0.8"/>
<text x="37.05" y="25.48" font-size="7.5" text-anchor="end" fill="#231f20" color="#231f20" font-weight="normal" >250K</text>
<line x1="42.25" y1="19.24" x2="43.85" y2="19.24" stroke="#231f20" stroke-width="0.8"/>
<text transform="translate(13.55,63.60) rotate(-90) scale(0.62,1)" font-size="9.5" text-anchor="middle" fill="#231f20" color="#231f20">FSC-H</text>
<line x1="53.54" y1="108.70" x2="53.54" y2="111.30" stroke="#231f20" stroke-width="0.8"/>
<text x="53.54" y="121.10" font-size="7.5" text-anchor="middle" fill="#231f20" color="#231f20" font-weight="normal" >0</text>
<line x1="85.40" y1="108.70" x2="85.40" y2="111.30" stroke="#231f20" stroke-width="0.8"/>
<text x="83.50" y="121.10" font-size="7.5" text-anchor="middle" fill="#231f20" color="#231f20" font-weight="normal" >10</text>
<text x="87.80" y="117.70" font-size="5.0" text-anchor="start" fill="#231f20" color="#231f20" font-weight="normal" >3</text>
<line x1="105.42" y1="108.70" x2="105.42" y2="111.30" stroke="#231f20" stroke-width="0.8"/>
<text x="103.52" y="121.10" font-size="7.5" text-anchor="middle" fill="#231f20" color="#231f20" font-weight="normal" >10</text>
<text x="107.82" y="117.70" font-size="5.0" text-anchor="start" fill="#231f20" color="#231f20" font-weight="normal" >4</text>
<line x1="125.43" y1="108.70" x2="125.43" y2="111.30" stroke="#231f20" stroke-width="0.8"/>
<text x="123.53" y="121.10" font-size="7.5" text-anchor="middle" fill="#231f20" color="#231f20" font-weight="normal" >10</text>
<text x="127.83" y="117.70" font-size="5.0" text-anchor="start" fill="#231f20" color="#231f20" font-weight="normal" >5</text>
<line x1="91.43" y1="108.70" x2="91.43" y2="110.20" stroke="#231f20" stroke-width="0.6"/>
<line x1="94.95" y1="108.70" x2="94.95" y2="110.20" stroke="#231f20" stroke-width="0.6"/>
<line x1="97.45" y1="108.70" x2="97.45" y2="110.20" stroke="#231f20" stroke-width="0.6"/>
<line x1="99.39" y1="108.70" x2="99.39" y2="110.20" stroke="#231f20" stroke-width="0.6"/>
<line x1="100.98" y1="108.70" x2="100.98" y2="110.20" stroke="#231f20" stroke-width="0.6"/>
<line x1="102.32" y1="108.70" x2="102.32" y2="110.20" stroke="#231f20" stroke-width="0.6"/>
<line x1="103.48" y1="108.70" x2="103.48" y2="110.20" stroke="#231f20" stroke-width="0.6"/>
<line x1="104.50" y1="108.70" x2="104.50" y2="110.20" stroke="#231f20" stroke-width="0.6"/>
<line x1="71.41" y1="108.70" x2="71.41" y2="110.20" stroke="#231f20" stroke-width="0.6"/>
<line x1="74.94" y1="108.70" x2="74.94" y2="110.20" stroke="#231f20" stroke-width="0.6"/>
<line x1="77.44" y1="108.70" x2="77.44" y2="110.20" stroke="#231f20" stroke-width="0.6"/>
<line x1="79.38" y1="108.70" x2="79.38" y2="110.20" stroke="#231f20" stroke-width="0.6"/>
<line x1="80.96" y1="108.70" x2="80.96" y2="110.20" stroke="#231f20" stroke-width="0.6"/>
<line x1="82.30" y1="108.70" x2="82.30" y2="110.20" stroke="#231f20" stroke-width="0.6"/>
<line x1="83.46" y1="108.70" x2="83.46" y2="110.20" stroke="#231f20" stroke-width="0.6"/>
<line x1="84.49" y1="108.70" x2="84.49" y2="110.20" stroke="#231f20" stroke-width="0.6"/>
<line x1="111.44" y1="108.70" x2="111.44" y2="110.20" stroke="#231f20" stroke-width="0.6"/>
<line x1="114.97" y1="108.70" x2="114.97" y2="110.20" stroke="#231f20" stroke-width="0.6"/>
<line x1="117.47" y1="108.70" x2="117.47" y2="110.20" stroke="#231f20" stroke-width="0.6"/>
<line x1="119.41" y1="108.70" x2="119.41" y2="110.20" stroke="#231f20" stroke-width="0.6"/>
<line x1="120.99" y1="108.70" x2="120.99" y2="110.20" stroke="#231f20" stroke-width="0.6"/>
<line x1="122.33" y1="108.70" x2="122.33" y2="110.20" stroke="#231f20" stroke-width="0.6"/>
<line x1="123.49" y1="108.70" x2="123.49" y2="110.20" stroke="#231f20" stroke-width="0.6"/>
<line x1="124.52" y1="108.70" x2="124.52" y2="110.20" stroke="#231f20" stroke-width="0.6"/>
<line x1="131.46" y1="108.70" x2="131.46" y2="110.20" stroke="#231f20" stroke-width="0.6"/>
<line x1="45.02" y1="108.70" x2="45.02" y2="110.30" stroke="#231f20" stroke-width="0.55"/>
<line x1="46.32" y1="108.70" x2="46.32" y2="110.30" stroke="#231f20" stroke-width="0.55"/>
<line x1="47.62" y1="108.70" x2="47.62" y2="110.30" stroke="#231f20" stroke-width="0.55"/>
<line x1="48.92" y1="108.70" x2="48.92" y2="110.30" stroke="#231f20" stroke-width="0.55"/>
<line x1="50.22" y1="108.70" x2="50.22" y2="110.30" stroke="#231f20" stroke-width="0.55"/>
<line x1="51.52" y1="108.70" x2="51.52" y2="110.30" stroke="#231f20" stroke-width="0.55"/>
<line x1="52.83" y1="108.70" x2="52.83" y2="110.30" stroke="#231f20" stroke-width="0.55"/>
<line x1="54.13" y1="108.70" x2="54.13" y2="110.30" stroke="#231f20" stroke-width="0.55"/>
<line x1="55.43" y1="108.70" x2="55.43" y2="110.30" stroke="#231f20" stroke-width="0.55"/>
<line x1="56.73" y1="108.70" x2="56.73" y2="110.30" stroke="#231f20" stroke-width="0.55"/>
<line x1="58.03" y1="108.70" x2="58.03" y2="110.30" stroke="#231f20" stroke-width="0.55"/>
<line x1="59.33" y1="108.70" x2="59.33" y2="110.30" stroke="#231f20" stroke-width="0.55"/>
<line x1="60.63" y1="108.70" x2="60.63" y2="110.30" stroke="#231f20" stroke-width="0.55"/>
<line x1="61.93" y1="108.70" x2="61.93" y2="110.30" stroke="#231f20" stroke-width="0.55"/>
<text transform="translate(88.72,129.50) scale(0.72,1)" font-size="9" text-anchor="middle" fill="#231f20" color="#231f20" font-weight="normal" >Siglec-7L</text>
<text x="102.50" y="33.40" font-size="8.4" text-anchor="middle" fill="#231f20" color="#231f20" font-weight="normal" >98.7%</text>
<path transform="scale(0.25)" d="M878 153l0 18 1-1 16 2 24-2 84 5-119 2-11 0-54 3 100 4-65 6-9 6 29-3 3-1 5 0 2 3 23-1 3 0 1-1 30 10-14-5-2 0-3 5-14-5-3 0-3 2 0-1-1 1-22 0-3 3-5-5-15 2 0-1-1 0-6 2-9 2-7-4-9 7 17 3 11-1 28 0 28-1 11 0-8 6-5 0-2 0-4-3-1 4-30 0-3 0-3-2-23 1 0 0-4 1 15 5 1 0 7 2 19-5 17 1 9 4 2-2 6-3 16 1 6 1-18 8-4-3-16 1-5-2-6 4-2-4-21 4 0-4-2 4-4 1-12-5-1 4-7-1-6-2-2 8 11-1 3 2 7 1 3-3 2 1 5 0 3 2 3-3 5-2 14 5 13-4 7 2 11 2 8-5 19 5 45-1-53 3-10 2-11 0-2 1-13 1-7 0-21-4-1 4-9-5-16 2-7 4 24 4 8 1 12 0 38-4 0-1 2 3 3-2 14 1 100 0 10 3-111 6-2-1-2-4-7 3-4 0-2 1-4-2-15-1-1 1-8 1-4-3-2 3-2 1-6-2-27-2-6 4-16 7 28 0 10-3 1-1 8 2 3 2 0-4 134 4-94 6-8-3-1-2-9 4 0-4-8 3-11 2-10-2-3-3-1 2-2-2 0 3 0 1-8-3-12 2-15 0 6 8 28-2 15-1 2 2 5-1 4-2 15 4 3-2 1 0 5-1 0-2 3 0-7 11-10-3-7-2 0 0-7 1-7 2-43-1 3 4 9 4 9 1 8-4 5 4 1 0 13-2 9-1 0-1 1 4 5-4 8 1-4 7-4-2-2 0-11 0-13 4-13-3-3 8 8-4 15 5 3 0 4-3 3-1 3-1 5 0 8 2 2-1 12 0 1-1 58 0-101 6 0 3-15-3-7 7 3 3 35-1 155-1-171 5-38 10 55-2" fill="none" stroke="none" marker-start="url(#mk0)" marker-mid="url(#mk0)" marker-end="url(#mk0)"/>
<path transform="scale(0.25)" d="M932 161l51 6-64 3 44 3 51 4-14 2-7-3-7-1-6-1-2 4-17-3-5-1-1 4-1 0-1-1-8 2-18-1-8-2-6 1-7 1 19 6 3-3 4 4 4 0 1-2 12 0 1 0 1 1 2-2 4 2 6-4 3 2 1 0 6 2 7 0 3-4 15 1 14 8-2-3-1 2-5 2-3-1-1 0-7 1-2-2-3-2-4 2-6 2 0 1-2-5-1 1 0-1-6 2-3 2-1-3-1 2-2 2-2 0-3-2 0 1-3-2-5-2-2 4-11-3-10 1-4 1-2-1-11 3-2 5 17-2 2 1 1-1 1 2 1-4 2 3 11 0 0-2 0 4 6-2 2 2 23-4 9 0 4 3 6 1 3-1 5 0 6-3 0 1 1-2 4 5 4 6-3-2-12-2-11 3-5-4 0 2-1 1-2 0-6 1 0-1-5-3 0 4 0 0-1 0 0-1-1-1-3 1-10-3-2 3-5 1-3-2-2 0-2 3-2 0-3-1-2 1 0-2-2-2-3 4-7-5-10 5-15 1 1 2 1 1 3-2 13 2 1-3 3 4 2-1 0-3 1 1 4 1 0-1 1 2 5 1 1-1 0 1 2 0 5 0 0-4 3 5 3-1 1-2 5 2 2 1 4-5 0 2 1 1 6-1 7 1 9-3 4 3 1 2 2 0 7-5 9 1 1 0 0 3 1-1 1 1 4-4 6 2 6 3 5 0-6 4-3 0-2-1-3-1-1 2-1-1-2-1-8 2-1-2-3 4-3-5-1 2-2 0 0 0-2-1-2-1-1 3-3 2-2-2-1 2-1-4-3-1-1 4-9 0-13-2-2-2-2 2-1-2-2 2-1 3-2-5-3 3-2-3-1 3 0 0-2-1-6-1-1-1-1 2 0 3-2-5 0 5-1 0-3-5-1 1-1 2-2-1-5 3-1-5-4 4 0-4-2 1-12 6 9 0 1 4 4-3 1 1 1 2 6-1 1-4 0 1 8 3 2-3 5 4 1-1 1-3 3 1 2-2 4 4 2-4 4 4 1 1 3-5 2 4 0 0 3 0 2 0 6 1 3-5 2 5 5-4 1 0 4 1 0 1 6-2 1 4 2 0 5-5 2 4 2-2 4 2 0-3 1 2 0 2 1-4 5 0 0 0 0 1 7-2 2 1 4 2 12 4-3-1-4 3-6 0-2 0-6 2-2 0 0-3-18 0-4-1 0 0 0 4-3-2-9-2-8 0-1 0-5 0-7 1-6 3-11-5-2 0 0 0-1 5-1-5-1 1-4 1-4 3-3-5-1 3 0-2-2 3-1-4-3 0-1 5-3-4-1-1-15 0-1 0-1 2 0 9 11-2 8-2 4-1 1 1 3 1 1 2 4-4 2 2 6-1 0 1 0-1 0 2 5 1 2-2 0-2 3 1 7 0 5 3 4-3 0-1 1 0 13 2 1 3 2 0 2-3 4-2 2 3 9-1 1 0 3-1 10 1 2 1 0 0 4 0 0-1 5 2 1 0 2-4 1 0-7 6-11 4-3-4-1 1-6 3-3-2-1-2-3 5-1-4-3-1-4 2 0 1-6-1-1-2-4 1-5 0-9 1-10 1-2 2-10 0-5 0-2-3-5 0 0 3-1-4-4 1-8 3 0-3-1-1-3 1-14 3-2-1-7-4 6 10 9 0 2-4 7 1 5 0 4 1 6 0 8-1 3 2 0-2 1 3 5-3 0 0 6-1 12 0 1 0 2 3 1-2 4 4 0-4 1 0 2 1 5 1 0-3 1 4 1-1 10-2 1 2 1-1 2 2 0 1 0-3 0 0 4 0 0 3 10-1 10 1 2-4 5 0 2 7-8-1-8 0-12-1-3 3-5 2-3 0-14 0-2-1 0-1-4-2-4 0-1 3-1-2-2 0-1 0-2-1-3 4-1-4-2 4-5 0-8-4-2 2-2 1-6-4-3 1-2 2-12 0-2-2-6-1-5 11 3-1 5 0 4-4 2 1 1 0 2 2 1-2 5 3 4-4 3 3 2-1 2-2 3 2 3 0 5 0 4-2 1 3 2-1 6-1 3 4 0-5 3 1 0 1 1-2 1 3 0 2 7-2 2-2 2 4 3-4 10-1 1 5 3-3 2-2 2 1 2 3 0-2 0-1 1 0 3 2 3-2 1 2 2-2 11 4 1-4 23 4-25 4-8-2-3 0-1-1-2 2-3 1-1-2-1 1-1-2-2 2 0-1-6 1 0-1-8-1-1 4-2-1-6-2-2 1-2 1-2 2-2-5-4 5-3-2-2-2 0-1-2 4-2 1-1-4-3 0 0 0-2 0-3 2-1 0-1-3-1 0-1 0 0 5 0-2-5-2-4-1-2 5-4-5 0 4-1-2-2-1-2 3-1-2-1-1-2 3-16-1 13 8 2-4 5 0 0 2 1 0 12-2 1 2 1-2 3-1 1 0 12 0 0 0 1 3 2-2 3 4 2-5 9 2 4 1 6 1 2-1 4 2 1-4 3 0 9 0 9 0 4 1 1 0 1 3 1-4 15 10-9-5-3 5-18-5-2 5-11-3-1 1-4 1 0 1 0 0-3-1-2-4-4 3-1-3-4 4-3-2-2-1-1-1-3 0 0 1-3 2-2 0-1-1-1-1-3 2-1 2-1-1-1-4-2 5-2-5 0 4-1 1-3-1-2-1-1-1-1-1-1 2-2-2-9 4-4-4-3 4 0-4 0 4-1-1-7-3-2-1-1 3 28 5 3 1 5 0 0-2 6 1 1 0 3 1 3 2 2-5 3 1 2 0 11 1 7 1 1 0 0 0 1-3 2 1 2 3 12-4 4 1 7 1 1-1 6 2 13 2 3 5-16-3-2-1-8 3-3-2-1 4-1-4-2 2-1 0-6-2-1 1-4-2-14 1-4 3-4 1-3-4-1-1-1 1-2 0-1 4 0-5-7 5-3 0 0-5 0 0-1 2-10-1-9 4-1-2-4-2-8 1-7-1 22 5 2 2 2 2 1-1 1-1 3-2 5 0 0 1 11-1 1 4 1 0 1-3 0 4 0-5 2 5 0-1 6-1 5-2 8-1 6 2 6 3 1-1 1-3 6 4 11-1 0-1 4-1 4 2 1 1-9 4-32 0-7 0-2-2 0 3-3 1-6-5-22 3-5 1-6-4-5 4-4-2 59 6 14 0 20 2-52 13" fill="none" stroke="none" marker-start="url(#mk0)" marker-mid="url(#mk0)" marker-end="url(#mk0)"/>
<ellipse cx="192.50" cy="59.00" rx="9.00" ry="13.50" fill="#333" fill-opacity="0.6" filter="url(#bl0)"/>
<path transform="scale(0.25)" d="M761 173l2-2 4 0 7 2 7-2 3 0 0 2 14-3 2 8-6-4-4 0-2 2-3 1-2-1-3 3 0-4 0 2-2 1-5 1-2-4-1 2-3 0-2-2-2 1-2 2-4 0 0 0-2-1-1 2-6-5 0 2-2 2-5-2 0 0-3 9 1-5 2 3 2 2 1 0 2-3 0-1 3-1 0 5 0-4 0 2 1-3 3 3 1-2 1 2 1 0 1 1 1-1 2-1 4 2 0 1 1 0 1-3 1-2 0 1 0 4 0-4 2 2 1 2 1-2 0 2 0-3 0 0 2 1 0 0 1-1 0 0 2-1 1 3 0 0 2-4 1 2 1 3 0-1 2-4 2 3 0 2 0 0 1-1 2-2 2-1 0 3 1 1 5-3 1 1 1 2 1-4 4 2 0 0 2-3 2 3 6 4-3 4-6-2 0-3-2 4 0-2-3 1 0-1-7 1-1-1-1 0 0-1-1 3 0 1-2 0 0-5-1 5 0-2 0-2-2 4-4 0-1-1-1-4-1 4-3-3-1 2-1-2 0 2-3 1-1 0 0 1-1-1 0-4-1 2-2 0-1-1 0 3-2-2-1-2-1 0-1 3 0-3-1 1-5 0-2 0-1 3-3 1 0-3-1-1-1 1-2-1-2 3 0 0 0-4-1 2-1-1-2 0 0 0 0 0-1 0-3 1-4 7 0 0 3-1 1-1 3-1 2 1 2 0 0 1 1 2 1-3 1 4 0-4 2 2 1 2 1-3 1 2 2-2 1-2 0 0 1 5 3 0 1-5 1 2 2 3 0-4 1-1 1 3 0 0 2 2 0-3 1 2 1-1 0-3 1 1 1 3 3-3 3 0 0 2 0-2 1 2 1-3 0 5 1-1 3 1 2-1 1 0 1-2 2-1 4 4 1-4 1 4 1-5 2 3 0 0 2-3 1 4 1-4 1 5 1-5 2 1 0 3 1-1 0-2 0 0 2 4 2-3 6 2 3-1 10-1-12 7-2 1-2 0 0-2 0-1-5-1-1 1 0 2 0 1-1-3-1 2-1-2-1 4-3 0-2-4 0 1-5 0-1 1-2-1-2 1-1-1-2 3 0-5 0 0-1 5 0-3-4 1 0-2 0 4-1-4-4 3-1-4-1 2 0 0-1-1-1 4-1-4-1 4-1-4 0 2-2-1 0 1-1-1-1 1 0-1-6 3-2-4 0 0-1 2-2 2 0-3-2-2 0 5-1-5-3 4 0-1 0-3-6 4-3-4-1 1 0 0-1 0 0-1 0 2-4 0-4-1-1 2-1-2 1 9 4 1 0-5 1 3 1 2 2-4 1 3 2-1 1 1 1-4 1 1 2 3 0-3 0 1 1 2 0-2 2-2 0 2 1-2 1 4 1-1 0 1 6-3 1-1 1 4 0-4 1 2 0 2 1 0 1-3 0 3 5 0 2-2 1 2 1-4 0 4 1-1 1-1 4-2 1 1 0 3 2-4 5 2 0 0 2 2 1 0 0-2 1-1 0 0 2 0 1 2 0 2 1-2 0 1 1-3 0 4 0-3 1 0 0 1 2-2 1 2 1 1 3-1 1 2 1-2 0 0 3-1 1 1 2-3 3 1 0 3 0-3 1 0 0 4 2-1 2 0 0-1 2 1 5 6-2-3-1 2-3 0 0 1-1-3-1 0-1 4-1 0-1-5 0 5-1-5-1 3 0 1-3-4-1 4-1-4 0 5-1-3 0 1 0-1-1-2-2 0 0 0-2 2-1 0 0 3-1-2-1 2-1-1-1-4-1 0-1 5-1-1 0-1-5 0-1 2 0-4-2 0-1-1-1 3-1-3 0 1-1 4-1 0 0-4-1 0-1 0-3 3 0-3-1 4-2-3-3 0-1 2-2-3-1 3-3-2 0-2-3 4-1-2 0-1 0 1-1-1-1 3-1-3 0 4 0-1 0-1-2-3 0 2 0 1-1 2-2-5-1 1 0 0 0 2-1-2 0 1-3 3-1-3 0 1 0 0-1-1 0 0-1 0-1-2-3 5-1-3-1 3-4-3-1 2-5-1 2 6 1-1 1 3 6 0 2-4 3 2 1 1 1-2 0 1 2-3 1 0 1 4 0 0 4-3 0 1 2 1 0 1 2 1 1-5 0 0 0 5 1-3 1 1 1-3 3 3 1 0 0 1 2-3 0 1 1 0 0-1 1-1 1 3 1-2 5 1 2 0 0 0 2-2 0 0 2 4 1-1 0 0 0 0 1-3 0 0 1 4 2-1 2 0 0-2 1-1 2 3 0-2 1 3 0 0 4-1 1 0 1 0 1 2 0-2 1-1 0 0 1 3 1-3 0-2 1 0 1 5 0 0 2-1 3-1 2 0 0 1 0-4 1 2 3 2 0-1 1-3 0 1 1 3 1-2 2 2 2-3 0 2 1-3 3 5 2-5-2 10-2 1-1-5-2 3-3 1-3-2 0 3-2-5 0 4-1 0-2 0 0 1-1 0 0-1-2 0 0 0-2 0-1-1 0-3-4 2 0 3-1-5-2 4-2 0-1-3 0 1-1 0-2 0 0-2 0 4 0 1-1-1-3 1 0-2-4-3 0 4-3-1-3-2-1 3-5-3-1-1 0 5 0-1-1 1-2-3-1 3-3-5-1 3-3 1-2 1 0 0-1-3-2-2 0 0-1 4-1-2-1-2-1 1-1 1 0 1-1 0-1 0 0 1-1-4-1 5 0-3-2-1 0 3-2 1-1-4-1-1-1 4-1 0-7-1 0 2-2-5 0 5 3 6 0 0 3-4 5 0 2 4 0-4 2-1 0 1 2 4 1-5 1 0 0 5 3 0 2-4 0 1 2 2 5 1 0-1 4-4 0 2 1 2 0-2 1 0 3-1 1 3 3-1 3-2 1 0 1 4 2 0 0-2 1 1 0-2 1 2 1-3 0 4 1-1 3 0 0 0 1 0 0-2 0 0 1 3 1-1 1-3 0-1 0 0 0 1 2-1 0 0 5 2 0 1 1-3 2 1 1 1 1 2 1-2 3-2 1 2 2 3 2-3 0 0 0 3 1-2 1-1 0 3 1-2 1-2 1 1 3-2 0 5 0-4 0 1 3 3 8 0-7 2-1 2 0-2-2 0 0 3-4 1-2-5 0 5-2-5-1 0-1 3-1 0 0 0-2-2-2 2-1 2 0-4-1 1-1 3-1-4-1 0 0 2 0 2-1-1-1-1 0-2 0 0-2 3 0 0-1 1-1-3 0 2 0 1-2-2 0-3 0 0-1 0 0 5-2-1-1-4 0 5-1-1-3-3-2 4-2-4 0 3 0-4-2 4-3-2-3 3-2-3-1 0-2 1 0-2 0 0-1 4-1-1 0-4 0 5 0 0-2-3-1 1-3 0-3 0 0-2 0 0 0 0-1-1-1 1-1 2 0-2-1-1 0 4-6 1 0-5 0 1-1-1-3 2-1-1-3 2-2 0-4 2-3 6 3 0 0-5 0 3 1-1 1-1 2 0 0 2 1-1 0 0 2 1 0 1 2 1 1-5 0 3 3 0 0 1 1-4 0 3 2 1 2-2 1 0 1 0 1 2 1-3 2 4 0-1 1-4 2 4 5-1 2-3 0 2 2-2 0 2 1 1 2 0 2 1 0-4 1 0 1 4 1-2 0-1 3 4 1-1 0 1 2-5 2 3 0 1 1-4 1 0 0 5 0-1 1-3 0-1 0 5 2-2 0-3 1 1 1 1 2 3 1-5 2 4 1 1 1 0 5-1 0 1 0-4 0 1 0-2 1 0 1 3 2 2 2-2 2-1 0 0 0 1 1 1 1-2 1 2 0-3 1 3 0-2 1 2 0-3 7 4 7 2-11 4-1-1 0-3 0-1-1 2-1 3 0-2-3 0-2 2-1-1 0-2 0 2-3 1 0-5 0 2-1 0 0 1-1-2 0 0 0-1 0 3-1 2-2-2-3-1 0 1-1 2-1-5-2 5-2-4 0 3-4-3-1-1-3 2 0 0-1-2-2 5 0-4 0 1-1-1-1 3 0 0-1-3-2 2-1 2 0-5-5 4-2-2 0 2 0 1 0-2-1 2-1-5-1 1-2 3 0-2-1 2 0-1-1 2-2-3 0 1-1-2-1 4 0-1-1-1 0-1-2 2-1 1-1-1-1-1-2-2 0 1-1-2 0 1-1 0 0 0-4-1-2 3 0 0-2 0-1 2 0-4-3 4-2-1-1-2-2 0-2 2 3 4 2 3 1-2 2-2 1-1 1 2 1 1 3-2 1-1 1 1 0 4 1-5 0 4 2-3 0 3 4-3 0-1 1 0 1 4 0 0 0 1 0-3 0 2 1-2 1 2 1 1 2-3 0 0 3 3 1-4 0 3 2 0 1 1 4-3 1 0 0 1 1-2 0-1 0 0 1 5 0 0 1-5 0 1 1 1 2 1 1 0 0 1 0 0 2 0 4-4 1 0 2 0 2 2 0-1 1 3 2 0 0-1 0-1 5 2 1-1 2-2 1-1 0 5 0 0 6-5 1 0 0 2 2 3 0-4 0-1 5 2 0-1 2 3 1 1 0 0 1-5 2 0 0 0 1 4 3 7-5-4-3 3-1-2-1 1-2 2 0-3-2 1-1-1-1 1-1 2 0 0-1-4 0 3-2-3 0 3-3 0 0-4-2 0 0 3-4 2-1-4-4 4-1-5 0 1-1-1 0 2-1 1-4 0 0 1-5 1 0-1-1 0 0-1 0 1-1 1-2-5 0 0-2 1 0-1-2 4-1-2-2 2-1-2-2-2 0 1-1-1-1 2-4-1 0 0-1 1-1 3 0 0-4-5 0 0 0 2-1-2-4 4-1 1-1-4-2 3-1-4-1 4-1 0-5 0-1-3 0 4-1-4-1 1-1 1-2 7 2-3 2-1 1 2 1 1 2 2 1-1 0 1 1-4 0 0 1 1 0-1 0 0 1 4 0-3 1-1 0 3 5-3 0-1 2 3 0 1 1 0 0 1 1-3 1 0 1-1 0 1 0-2 2 0 2 5 0-2 1-3 0 3 1-3 1 2 1 2 3-1 0 1 1 1 0-5 1 5 0-1 1-4 0 1 1 3 1 0 1-2 0 2 1-2 3 0 0 2 1-2 1 1 0 2 2-5 4 4 1-2 1 3 0-4 3-1 1 2 1 2 4-3 1 2 0-2 1 1 1-2 2 0 0 5 0-1 0-3 1 3 2-1 2 2 1 0 1-1 1 1 0-2 0-3 1 3 0 0 0 0 0-2 0-1 1 4 2 0 2-3 1 0 0 2 1-3 1 1 1 3 1-2 3-1 0-1 2 0 5 0-3 9-1-1-4-2-1 2 0 0-2 0-1 3-1-4 0 2-1-1-2-2-2 3-2-2-2-1 0 2-2 0-9 1-2 1 0 0 0-2 0-1 0 2 0-2-1-1-2 0 0 1 0 1-1 3-2 0-1-5-1 3 0 2 0-4-1 3-1-4-1 0 0 2-3 2 0-1-1 1-2 0-3 0 0-3-1 4-1-5-2 0-1 4-4-1-1 2 0-5-1 2 0-1 0 1-2 0-3 0 0-1-1 1 0-1-2 1-1-2 0 1-5 3-3 0-2-1-1 2-1-4-1 4-3-5-1 0-10 11 8-4 7 3 1 1 1-1 1-3 0 4 0 0 1-4 1 2 2-2 1 1 2-2 1 1 0 3 2 1 0-1 2-3 1 2 1 2 1-2 1-3 1 5 0-4 0 0 2 2 0-2 3 4 1 0 0-1 1 1 3-2 2-2 1 4 2-2 3-3 3 4 1 1 1-5 1 0 0 5 1 0 1-4 0 3 1 1 0-2 1-2 1 0 0 0 0 1 2 1 0 1 2 0 0-3 1 4 0 0 1 0 0-4 2 1 1 0 3 3 0-1 1 0 2-2 1 1 2-2 1-1 0 5 2-5 4 5 4-5 2 1 2 5-9 3-2-1-2 1 0-3-1 1 0 0-1 1-1-1 0-1-2 2-4 1-1 2-2-1-2-2-1-2 0 5 0-4-1 1-1-2 0 1-1 0-1 2 0-3 0 4-4-1-6-3-1 3-3 2 0-5-1 5 0 0-1-5-1 5 0-2-1 1-2 0-1-2-1 3 0-3-1 3-1-1-1-1 0 1-1 0 0-3-1 2 0 1-1 1 0-2-1-3-1 3-3-3 0 0 0 3-1 2 0-3-2-1-3-1 0 5-2-3 0-1-1-1-1 3 0-2-1 1 0 0-1 2-2-2-2 3-2-1 0 1-3-5-1 5 2 3 0 0 5 1 2 1 5-4 1 4 1-4 0 0 3 2 4 0 5 0 1-1 0-1 1 3 1-3 0 3 0-3 2 1 1 0 0 3 1 0 0-3 1 2 1-1 1 1 0 0 0-1 3 1 1 1 1-1 3 1 0 0 1-3 1 4 2-1 0-4 1 2 0 3 3 0 4-5 2 1 1 1 1 1 2 0 0-2 1-1 1 4 2-4 4 2 1 1-6 4-3 0-4 0-1 1-1 1-4-2-1-1-1 0-1 0-5 1-2-1-2 0-3 5-1-5-1 3-2 1-6 0-1-1-1-2-7-1-3 0-5 2-3-2-6 4 20 2 2 0 3 1 16 4 1-5 2 0-25 8" fill="none" stroke="none" marker-start="url(#mk1)" marker-mid="url(#mk1)" marker-end="url(#mk1)"/>
<defs><marker id="mk4" markerUnits="userSpaceOnUse" markerWidth="2.80" markerHeight="2.80" viewBox="0 0 2.80 2.80" refX="1.40" refY="1.40" overflow="visible"><rect width="2.80" height="2.80" fill="#0808f4" fill-opacity="0.45"/></marker></defs>
<path transform="scale(0.25)" d="M879 171l117 1-79 7-26 0-9-1-5-4-8 3 0 0-2 5 3 3 4-1 5-1 4-2 5 4 20 0 23-5 115 4-133 7-20-5-5 0-7 1-1 3-3 0-4-2-1-1-4 1-1 0-28 9 0-1 9-4 1 1 6 2 5 1 2 1 1-5 3 4 2 0 3 1 2-2 11-3 3 4 11 0 17-2 13 2 52-4 40 7-84 3-10-2-7 0-9-2-1 1-2 3-1-1-1 2-6 0-2-2-1-2-2 1-1 1-7 0-4-2-3 3-1 1-2-3-1-2-2 3-8-1-1-2-3 1-4 1-7 0-20-2 4 9 8-1 3 0 2 2 2 0 2-2 8 1 3 2 10-3 2-2 1 2 6 1 4-1 1 1 5-3 0 1 3 2 1 2 1-5 1 1 4 1 1 2 1-2 1 3 2-4 2 4 3-4 0 0 6 4 17 2-16 2-9-3-4 3-1-3-4 1-1 4 0-3-2-2-4 3-10-2-6-1 0 5-5-4-2 3-10 0-2-3-3 3-1 0-10-2-11 9 2-3 3-2 4 5 1-3 0 3 0-2 3-2 0 4 5-4 6 0 2-1 0 5 3 0 4-4 4 0 0-1 4 3 0 0 14-3 1 3 1 0 10-1 0 2 0 0 9-2 0-1 3 4 2 0 5-2 2-3 10 3 46 2 39 6-81 0 0 0-3-4-4-1-5 5-5-2 0 2-7-1-2-4-1 0-3 1 0 0-4 2-2 0-15-2-7-1-15 1-1 1-1 0-3 3-11-3-1-2-15 4 7 7 4-5 2 4 3-2 2 2 3-3 1 3 1-1 0 0 2-1 2 3 0 0 5-1 3-3 0 0 8 4 1-4 2 0 2 1 0 2 1-4 1 2 5 1 5-3 0 3 3 0 4 1 4 0 13-2 1 0 0 0 7 3 11-1 44-4-43 9-17-3-3 4-5-1-1-1-4 2-7-3-1 0-4 4-2-1-7-2-2 0-9 0-1 2-5-3-17-1-3 5-6-5-8 6 6 1 4 2 2-1 8-2 10 3 1-1 2-2 1 4 3-4 5 2 14 2 3-4 2 3 3 2 5-4 2 0 3-1 2 3 0 2 0-5 1 5 3-2 1 2 13 0 1-3 4-1 119 10-123-3-4-1-1 3-2-1-6 1-1 0-2 0-3-2-3 2-1-1-3-2-7 1-1-2-1 0-1 3-8 0-5-1-7-1-1 4-2-1-2-2-1 3 0-1-3 1-2-4-3 4-1-3-1 0-4 1-12 8 5-2 7-2 2 3 0-4 2 0 2 0 5 5 2-1 0-3 2 3 1-2 1 1 2 1 9 0 4-2 4-2 1 5 0-2 10-2 0 0 0 0 10 1 1 0 4-1 1 0 2 1 0 0 1-2 2 2 4 2 143 0-138 4-4-1 0 2-8 2-1-3-11 2-3 0-2 0-1-2 0 0-3 2 0-2-2 3-2-1-2-4-6 2-2 0 0-1-12 4 0-1-2 0 0-1-2 2-3 0-5-1-4 1 0 0-3-4-4 3 0 1-1-3-2 1-8 3 14 0 16 1 1 0 3-1 7 4 0-1 0 0 10 0 5-2 3 0 2 3 4 1 2-4 0 2 2 1 4-2 1 0 2-2 0 0 0 4 5-3 0 1 0 1 5-2 2 2 94-2-83 8-10 1 0-4-4 4-2-2-5-1-5 1-4 1-1 0-1 1-12-1 0-2-6 0-2 3-2-2-8 0-2-2-5 0-5 1 0 2-1 2-1 0-1-4-15-1 8 8 6-2 1 5 8-3 0 0 1 3 3-1 6-2 4-1 4 2 0-2 1 1 0 1 1-3 1 2 1 3 3-3 1 2 8 1 2 0 0-2 1 1 1-4 4 5 12-1 11-2 4 3 76-2 20-2-126 6 0-1-10 2-1 1-12 2-1-1-1-1 0 1-6-3-5 3-3-4-1 5-20-5-4 2 7 4 5 5 1-3 3 0 11 3 5-5 1 5 3-1 0-3 13 4 2-2 2-1 22-2 136 8-132 3-13-3-10 1 0-3-2 3-12-2 0 0-18-1-7 4 0 6 4-4 8 3 16 2 1 0 2-3 4 1 88-3-91 10-2-2-7-2-34 2" fill="none" stroke="none" marker-start="url(#mk4)" marker-mid="url(#mk4)" marker-end="url(#mk4)"/>
<path transform="scale(0.25)" d="M938 166l-19 7 3-3 3 3 24-1 27-2 1-1 23 10-11-2-3 1-8 0-1-2 0 1-3-3-4 4-1-2 0 3 0-1-4-2-3 2-2-4-1 2-4 2-1 1 0-3-4 0-3 2-3-1-4-2-2 3-3-4-4 2-1 3-8-1-4 4 3 0 1 1 5-2 3 3 1 0 5 1 1-1 5-3 3-1 0 3 2-1 1 3 3-5 2 5 4 0 3-1 1-1 1 0 0-3 1 5 2-1 0 1 2-4 4 2 4-3 4 5 1-2 5-3 2 4 2 1 0-3 1-2 3 3 4-3 0 2 5 2 1 0 4-1 5 8-6-5 0 3-3 1-1-3-4 1-2 0-1 3 0-1-1-2-1-1-2 0-2 1-4-2-1 2-4 2-4-4-1 3 0 1 0-2-1 0 0 3-1-1-2 0-1 1-5-4-5-1-1 4-1-4-1 0-1 5-1 0-1-3-2 1 0 1-1 0-2-4 0 3 0-1-1-2-2 5-2 0-3-2 0-2 0 1-1-1 0 4 0-5-4 0 0 0-1 5-1-1-3 0-1 0 0-3-1 1-3 3 0 0 0-1-2 1-2-5-1 0-3 4-1-3-13 5 0 3 6-2 3 3 0-1 1 2 1-2 1 1 4-4 1 3 0-3 3 4 2-3 1 4 1-1 1-3 2 3 1 1 1 0 1-2 1 0 0 1 1-1 1 2 0-2 1-3 0 2 0 2 2 1 3-5 0 5 1-3 1 2 0 0 1-2 1-2 0 4 1-3 3 4 0-2 0-3 1 2 0-1 1-1 1 3 8-1 1 3 0-2 2-3 1 5 2-3 0-1 3 0 0 1 0 1 1 2 1-4 1 0 0 1 1 3 1 0 1-1 3 0 1 0 1-2 1 2 1 1 0-3 1-1 0 2 0 2 7 0 1-4 0 0 1 3 0-3 0 3 1-4 0 5 9-4 2 0 0 1 1-1 0 0 9 3 0 7-3-2-4-3-1 1 0 2-1 2-1-1-1 0 0 1-1-1-3-2 0 3-1-1 0 1-1-4-1 0-1 3 0-3-1 0-2 2-4-3-2 2-9 0 0-2-1 4-1-4-2 2 0-2-1 1-1 2-2 0-1-3-1 4-1 1 0-1-1-2-6 1-1-1-2-1-1-1-1 2-1-2 0 3-3 2-1-4-2 3-4 1-3 0-1-2-2-2-1 4 0-4-2 3 0-3-5 4 0 0-2-4-1 4-1 0-1-2 0 2-1-1-2 0-1-4 0 5-2-3-1-1-2 4 0-5-1 5-2-1-2-1 0 1-5-2-10-1-2 9 4-1 1 2 6-3 1-1 1 3 3-3 1 1 0 3 2-2 0-3 1 1 1 0 1 1 1 3 0-5 1 3 1 2 0-5 1 2 0-2 4 2 0 3 0-3 0 0 2-1 1 4 0-3 1 0 1-1 0-1 3 3 1 1 0 1 3-4 0 4 1-4 0 3 1-1 0 0 4-2 1 1 0 2 1 1 0-4 1 4 0 0 1-2 0-3 1 0 4 0 0 5 1-2 2-2 1 3 2-1 2-3 3 1 2-1 0 1 2 2 3-1 1 0 1-1 2 4 0-2 0 0 2-1 0-1 0 1 3 0 1-1 0 2 2 0 1 0 1-3 0 3 0-2 2 2 1 1 0-4 1 3 0-1 1 1 1 0 2-2 1 0 1 2 0-3 1 0 2 5 1-2 1-2 4 0 1 3 4-1 1-3 0 4 0-2 4-2 5 3 3-2 5 0-3 9-3-3-1 1 0 2-1 0-5-3 0 2-2-3 0 5 0-5-2 1-3 1-2-2 0 0-3 3 0-3-1 5 0-5 0 3-1 2 0 0-1-3-2 1 0-3-2 5-3-4-3 1 0 2-4-4 0 4-5-3 0 1-5-2-2 0 0 2 0 0-1-2 0 2-4 3 0-4-1 0 0 0-1-1-2 4 0-3-1 3-1-2 0 0-2 0 0 0-1 0-1-1 0 1 0 3 0-3-6 0 0 1-2-3-1 3-1 2-1-5-1 4 0-2-1 2-3-1 0-1-1 0-2 2-1 0-1 1-3-2 0-1-1-1 0 3-2 0-1 0-3-4-1 3-1 2 0-2-1 2-1-2 0 2-1-3 0 0 0 0-3-1 0 4 0-4-1-1 0 2-1 3 0-5-4 5-1 0 0 0-2-1-3-1-1 1 0-2-1 3 0 0-1 0-6-5-4 5 7 4 3-1 3 0 1-2 3 3 0-1 1-1 0 4 3-4 1 4 2-1 0-1 2 2 1-4 1-1 4 3 0 2 2 0 0-1 2 0 2 1 1-3 1 2 1 1 0-2 4 1 5 1 3-1 1 0 0-4 1 5 0-5 3 4 1-3 6-1 0 3 0 1 1-2 1 2 1 1 4-3 1 0 0-1 1 2 1 2 1-4 0 2 1 0 2 1 4 1 1-4 0 4 6-3 0 2 1-2 1-1 1 4 0-2 6-2 3 2 1-1 1 1 3-3 4 4 1 1 1-4 0-1 0 0 1 0 2 5 2-3 2-1 1 4 1-4 0 1 1-2 1 5 0-2 0-1 1-1 1 2 2 0 4 2-7 1 0 4-2-4-1 3-1 2-1-1-1-2-1-2 0 4-1-1-2 1 0 0 0 0 0-3 0-1-1 3-1-1-1 0-1-2-2 1-1-1-2 4 0 0-1 1-6-5-1 4 0-4-2 4-3 1-1-4-2 4-1-3 0 1-2-3-1 4-1 1-1-5 0 0-1 5-1-4 0 2-2-2-1 3-1 0-2 0 0-1 0 2-1-4 0 1 0 2-2-2-1-2 0 2 0 2-1-1-2 0-2-2-1 0-3 4 0-2-4 0-1-2-2 3-1-2 0 0-1 1-2 2-1 0-4-1 0-2-3 1 0-1-1-2-1 3 0-2-3 3 0 0 0-4-1 2 0 1-4 2-1-5-4 5-3 0 0-5-3 2-2 3-1-4-1 1 0 1-1-1-2 2-11-3-3 4 0 0 5 6 4-3 1 0 0 1 4-2 1 4 1-5 1 3 3-1 2-1 3-1 1 3 1-1 0-2 0 4 1 1 4-5 0 5 2-5 2 3 1-2 2 2 1 1 0-4 0 2 0-1 3 4 3-5 1 3 0 0 1 1 2 1 9-2 1-2 3 3 1-3 2 2 0-1 3-1 1 3 1-3 3 0 4 1 1 1 1 2 0-4 1 2 1-2 4 0 0-1 3 2 2-1 2 2 1 1 0-1 2 0 0 1 2 1 0-4 0-1 0 5 1-2 2-3 1 2 0 1 0-3 1 3 0 1 3-2 0 1 4 2 4-1 1-2 1 0 0 2 4 1 4-1 1-1 2-2 3 2 4 2-6 5-2 1-2 0-3-3 0 1-1 0-1 0-1-2 0 3-1-1-2-1-3 0-2 2 0-1-1-3-3 0 0 1 0-1-1 2 0 1 0-1-1 1-1-2-3 0-3 2-1-3-1 3-1-1 0 3-1-3-2-2 0 2-2 1 0 1-1 0-2-2-2-2-1 1-1 2-1-3-4 1 0 4-2-1-1-4-2 4-1-2 0 2-2-2-1 0-4 0-1 2-4-3 0 4-1-3 0 2-4-4-2 3 0-3-3 3-2-3-1 3 0-1-2 3 0-3-2 0 0-2-1 1-3 3-1-4-1 2-1 2-1-4-1 1-3-1 0 0 0 1-1 4-1-1 0-2-1 0 0 3-1-2-1-1-2 1 0 2-5-5-1 1-3 1 0 2 0-2-1 2-2-3 0 1-3-2-2 4 0-2-1 3-1-5-1 0 0 0-3 4-2 5 3 2 3-3 8-1 2 4 0-2 4-2 0 3 1-2 2 2 1-3 0 3 1-2 2 1 3-1 3 3 1-2 0-3 0 4 0-2 1-1 0 1 0 1 3 2 4-4 1 2 1-2 3 1 0 0 1 3 1-1 1-1 0-3 2 0 6 2 3-1 0 4 2 0 3-2 0-2 2 3 5 0 1 0 0 1 3-1 0-4 2 2 0-2 4 0 0 4 1-1 2-3 2 0 1 5 1-5 2 5 1 0 1 0 1-2 6 2 2 0 1-2 1-3 0 1 1 1 1-2 0 2 1 1 1-3 1 5 0-5 2 4 2-2 1-1 5 0 12 1 0-1-2 5-7 1 0-1-3 4-1-3-2 2-6 2-2-4-2-1 0 0 0 5-2 0-1 0 0-3-1 1 0-1-1 0-3 2-2 0-3 0-1-2 0 2-1-3-4 1 0 2-1-3 0-1 0 2-1 2-3 0 0 0-3-1 0 2 0-5 0 4-1-2-1 1-1 0-1-2-2 1-2 2-1-2 0 3-2-3-3 0-3 1 0-3-1 0-1 1-3 1 0 2 0-4 0 2-2-1-5 2 0-1-1 2-2-2 0 2-1-4-3 4-3-3-1 1 0 2-1-1-3 1-2 0-1-3 0 4 0-5-1 3-2 0 0 1-2-2-1-1-3 2-1 0-2-2-4 2 0 1-8-1-1 0 0 2-1-2-4 1-2-4 0 8 4 2 2-2 4 1 1-3 2 2 3-2 1 3 3-2 0 3 2 1 0-3 1 3 1-3 0 0 3-1 2 0 2-1 1 2 2 3 2-3 0 0 2 1 3-3 1 5 0 0 1-1 0-3 1 0 1-1 1 4 1 0 1-4 1 4 1-2 0 0 2 2 1-1 1-2 1 2 1 1 2-1 1-2 0 3 0-1 1 2 1-4 0 1 2 0 0-2 1 0 0 5 0-3 1 0 3 2 0-4 1 0 0 1 2 4 0-5 1 0 0 2 2 2 2 0 1-3 0-1 2 4 1 0 2-3 0 4 1-1 0-4 1 3 4-1 2 0 0-1 1 4 0-3 0-2 1 4 0-1 3 1 2-4 0 3 0 1 0-2 1-1 1 2 1-1 2 0 0 2 1-3 2-1 0 3 2 1 6-4 1 3 0 2 2 0 8-3 2-1 1 4 0 0 1 5-10-2 0 2-4 1 0-1-2-2-1 3-3-5-1 3-1 2-2-3-4 2 0-4-4 2-1-1-1-1 0 1-1-1 0 2-1 0-1 2-1 0-1-2 0-1-1 4-2-2 0 0-1 0-1-1-6 0-1 0 0-1 0 1-1-1-1 0 0-1-1 0-4 3 0-3-2 5 0-1-2-3-1 4-1-1 0-1 0 1-1-1-1 2 0-5-2 3-1-3-6 5 0-1 0-2-1 1-2 1 0-2-1-2 0 4 0-1 0-1 0 1-2 1-1-4 0 3 0-2-1 4-2-4-6 0-5 2-1-3-1 5-1-3-3-1 0 2-1 0 0 0-1-1 0 2-2 1 0-3 0-2-2 1-1 2 0-3 0 4 0-4-1 1-1 0 0 3-1-2-2 1 0-2-3 3-1-3 0 2-2 2-5 1 10 4 2 1 2-5 1 2 0 3 3-4 1-1 0 4 2 1 0-5 1 3 0-2 1 4 2 0 1-5 0 1 2 1 0 2 1-2 0 1 0 1 1-2 0 1 5-3 1 5 1-1 0-2 1 1 3-2 2 1 2 2 4-4 2 3 6-1 1 2 1-1 6 2 1-5 0 3 0-3 4 1 1 0 5 1 1 2 1 0 1-1 2 1 1-4 1 2 0 1 6-3 0 3 1-2 1 0 0 3 0 0 1-2 2-2 0 5 0-4 1 0 1 2 0-3 0 2 4-1 0 3 1 1 2 0 1-5 1 0 0 0 1 5 2-3 4 2 1-3 4 2 2-2 7 3-5 4-7 1 0 0-2 1 0 1-6-3-1-1-2-1-4 4-2 1 0-5-3 1-3 4-1-4-1 3 0-3 0 0-2 4 0-1-2-4-1 0-4 2 0 3-3-3 0-1-2 0-3 1 0 1 0 1-3 1-1-3-1 0-1 0-1 3-2-3-3-2-1 2-1-1-1-1-6 5 0-2-1 2 0-3-1 3 0-2-1 0-1-1-1 1-1-1 0 0 0 1-3 0 0 0-3 1 0 0-3-1 0-3 0 4-2-3 0 3-1 1-1-3-2 1 0-2-1 4-1-5 0 3-2 2 0-5 0 5-1-3-2-2-1 2-2 1-1-2-2 3-1-1-1-1-7 0-3-1-3 1-7 4 17 2 2-2 8 5 0 0 3-3 1 3 1-3 0 3 2-2 2 1 1-3 3 0 1-1 2 2 2-1 0 0 4 2 0 1 1-4 0 3 1-2 0 4 4-1 3-3 1-1 0 1 1 1 1-1 1 3 1-1 1 2 5-3 1 3 1-2 1 2 1-5 3 0 1 0 0 5 0-1 2 1 0-5 2 3 2-1 2 2 1-3 0-1 5 3 4 0 1 1 1-4 1 0 3 2 2 3 6-2 3 2 2-2 0 1 2 1 0-2 1-1 14 0-14 8-9-4-3 4-3 0 0-3-2-1-1 5-2-2 0 1-1-4-2 0-4 4 0 1-2-3-1 1-3-1-1-1-4 2-1-3-1 1 0 0-1 2-1 1 0-4-1 4 0-2-1 0-5 2-2 0 0-4 0 0 0 3-1 2 0-2-1 1-2-1 0-3 0 0-1 0 0 3-1 2-1-3-2 0 0 2-1 0-2 0 0-3-1 4-2-5-1 5-1-1-2-4-2 5-5-4-2 1-2 3-1-1-4 0-1 0-2-4-1 4-1-1-3 1-1-2-2-2 7 10 0 1 2-5 1 3 0 1 2 1 3-5 0 4 2-3 0-1 4 0 3 4 1-1 0-2 3-1 2 2 5 2 1-2 7-1 0 3 1-2 0 2 1 0 0-2 1-1 8 3 0 1 1-2 1-1 2 1 1 2 1-3 0-2 0 1 2 1 2 2 1 0 2-1 2 1 2-1 0-3 5 2 6 1 0-3 0 1 1-1 3 1 1-1 4 5 5-4-13 9-3 0 0-3-3 1-1 3-6-4-5 3-5-2-1-2-1 2-4-1-3 1-3 0-3-2-1 2-2-1-2 0-2 0 0-1-1 2-2-1-2 1-7-2-2 4-1-2-2 1-2 0 0-3-6 4 20 2 12 0 5 0 16 5 16-5" fill="none" stroke="none" marker-start="url(#mk3)" marker-mid="url(#mk3)" marker-end="url(#mk3)"/>
<ellipse cx="240.00" cy="59.00" rx="12.00" ry="12.00" fill="#0a0aff" fill-opacity="0.5" filter="url(#bl0)"/>
<line x1="207.20" y1="18.50" x2="207.20" y2="108.60" stroke="#606060" stroke-width="1.0"/>
<rect x="178.85" y="18.50" width="89.71" height="90.10" fill="none" stroke="#1e1e1e" stroke-width="1.3"/>
<line x1="176.25" y1="108.60" x2="178.85" y2="108.60" stroke="#231f20" stroke-width="0.8"/>
<text x="172.05" y="111.40" font-size="7.5" text-anchor="end" fill="#231f20" color="#231f20" font-weight="normal" >0</text>
<line x1="177.25" y1="105.16" x2="178.85" y2="105.16" stroke="#231f20" stroke-width="0.8"/>
<line x1="177.25" y1="101.73" x2="178.85" y2="101.73" stroke="#231f20" stroke-width="0.8"/>
<line x1="177.25" y1="98.29" x2="178.85" y2="98.29" stroke="#231f20" stroke-width="0.8"/>
<line x1="177.25" y1="94.85" x2="178.85" y2="94.85" stroke="#231f20" stroke-width="0.8"/>
<line x1="176.25" y1="91.41" x2="178.85" y2="91.41" stroke="#231f20" stroke-width="0.8"/>
<text x="172.05" y="94.21" font-size="7.5" text-anchor="end" fill="#231f20" color="#231f20" font-weight="normal" >50K</text>
<line x1="177.25" y1="87.98" x2="178.85" y2="87.98" stroke="#231f20" stroke-width="0.8"/>
<line x1="177.25" y1="84.54" x2="178.85" y2="84.54" stroke="#231f20" stroke-width="0.8"/>
<line x1="177.25" y1="81.10" x2="178.85" y2="81.10" stroke="#231f20" stroke-width="0.8"/>
<line x1="177.25" y1="77.67" x2="178.85" y2="77.67" stroke="#231f20" stroke-width="0.8"/>
<line x1="176.25" y1="74.23" x2="178.85" y2="74.23" stroke="#231f20" stroke-width="0.8"/>
<text x="172.05" y="77.03" font-size="7.5" text-anchor="end" fill="#231f20" color="#231f20" font-weight="normal" >100K</text>
<line x1="177.25" y1="70.79" x2="178.85" y2="70.79" stroke="#231f20" stroke-width="0.8"/>
<line x1="177.25" y1="67.36" x2="178.85" y2="67.36" stroke="#231f20" stroke-width="0.8"/>
<line x1="177.25" y1="63.92" x2="178.85" y2="63.92" stroke="#231f20" stroke-width="0.8"/>
<line x1="177.25" y1="60.48" x2="178.85" y2="60.48" stroke="#231f20" stroke-width="0.8"/>
<line x1="176.25" y1="57.04" x2="178.85" y2="57.04" stroke="#231f20" stroke-width="0.8"/>
<text x="172.05" y="59.84" font-size="7.5" text-anchor="end" fill="#231f20" color="#231f20" font-weight="normal" >150K</text>
<line x1="177.25" y1="53.61" x2="178.85" y2="53.61" stroke="#231f20" stroke-width="0.8"/>
<line x1="177.25" y1="50.17" x2="178.85" y2="50.17" stroke="#231f20" stroke-width="0.8"/>
<line x1="177.25" y1="46.73" x2="178.85" y2="46.73" stroke="#231f20" stroke-width="0.8"/>
<line x1="177.25" y1="43.30" x2="178.85" y2="43.30" stroke="#231f20" stroke-width="0.8"/>
<line x1="176.25" y1="39.86" x2="178.85" y2="39.86" stroke="#231f20" stroke-width="0.8"/>
<text x="172.05" y="42.66" font-size="7.5" text-anchor="end" fill="#231f20" color="#231f20" font-weight="normal" >200K</text>
<line x1="177.25" y1="36.42" x2="178.85" y2="36.42" stroke="#231f20" stroke-width="0.8"/>
<line x1="177.25" y1="32.99" x2="178.85" y2="32.99" stroke="#231f20" stroke-width="0.8"/>
<line x1="177.25" y1="29.55" x2="178.85" y2="29.55" stroke="#231f20" stroke-width="0.8"/>
<line x1="177.25" y1="26.11" x2="178.85" y2="26.11" stroke="#231f20" stroke-width="0.8"/>
<line x1="176.25" y1="22.67" x2="178.85" y2="22.67" stroke="#231f20" stroke-width="0.8"/>
<text x="172.05" y="25.47" font-size="7.5" text-anchor="end" fill="#231f20" color="#231f20" font-weight="normal" >250K</text>
<line x1="177.25" y1="19.24" x2="178.85" y2="19.24" stroke="#231f20" stroke-width="0.8"/>
<text transform="translate(148.55,63.55) rotate(-90) scale(0.62,1)" font-size="9.5" text-anchor="middle" fill="#231f20" color="#231f20">FSC-H</text>
<line x1="188.54" y1="108.60" x2="188.54" y2="111.20" stroke="#231f20" stroke-width="0.8"/>
<text x="188.54" y="121.00" font-size="7.5" text-anchor="middle" fill="#231f20" color="#231f20" font-weight="normal" >0</text>
<line x1="220.39" y1="108.60" x2="220.39" y2="111.20" stroke="#231f20" stroke-width="0.8"/>
<text x="218.49" y="121.00" font-size="7.5" text-anchor="middle" fill="#231f20" color="#231f20" font-weight="normal" >10</text>
<text x="222.79" y="117.60" font-size="5.0" text-anchor="start" fill="#231f20" color="#231f20" font-weight="normal" >3</text>
<line x1="240.39" y1="108.60" x2="240.39" y2="111.20" stroke="#231f20" stroke-width="0.8"/>
<text x="238.49" y="121.00" font-size="7.5" text-anchor="middle" fill="#231f20" color="#231f20" font-weight="normal" >10</text>
<text x="242.79" y="117.60" font-size="5.0" text-anchor="start" fill="#231f20" color="#231f20" font-weight="normal" >4</text>
<line x1="260.40" y1="108.60" x2="260.40" y2="111.20" stroke="#231f20" stroke-width="0.8"/>
<text x="258.50" y="121.00" font-size="7.5" text-anchor="middle" fill="#231f20" color="#231f20" font-weight="normal" >10</text>
<text x="262.80" y="117.60" font-size="5.0" text-anchor="start" fill="#231f20" color="#231f20" font-weight="normal" >5</text>
<line x1="226.41" y1="108.60" x2="226.41" y2="110.10" stroke="#231f20" stroke-width="0.6"/>
<line x1="229.93" y1="108.60" x2="229.93" y2="110.10" stroke="#231f20" stroke-width="0.6"/>
<line x1="232.43" y1="108.60" x2="232.43" y2="110.10" stroke="#231f20" stroke-width="0.6"/>
<line x1="234.37" y1="108.60" x2="234.37" y2="110.10" stroke="#231f20" stroke-width="0.6"/>
<line x1="235.95" y1="108.60" x2="235.95" y2="110.10" stroke="#231f20" stroke-width="0.6"/>
<line x1="237.29" y1="108.60" x2="237.29" y2="110.10" stroke="#231f20" stroke-width="0.6"/>
<line x1="238.45" y1="108.60" x2="238.45" y2="110.10" stroke="#231f20" stroke-width="0.6"/>
<line x1="239.48" y1="108.60" x2="239.48" y2="110.10" stroke="#231f20" stroke-width="0.6"/>
<line x1="206.40" y1="108.60" x2="206.40" y2="110.10" stroke="#231f20" stroke-width="0.6"/>
<line x1="209.93" y1="108.60" x2="209.93" y2="110.10" stroke="#231f20" stroke-width="0.6"/>
<line x1="212.42" y1="108.60" x2="212.42" y2="110.10" stroke="#231f20" stroke-width="0.6"/>
<line x1="214.36" y1="108.60" x2="214.36" y2="110.10" stroke="#231f20" stroke-width="0.6"/>
<line x1="215.95" y1="108.60" x2="215.95" y2="110.10" stroke="#231f20" stroke-width="0.6"/>
<line x1="217.29" y1="108.60" x2="217.29" y2="110.10" stroke="#231f20" stroke-width="0.6"/>
<line x1="218.45" y1="108.60" x2="218.45" y2="110.10" stroke="#231f20" stroke-width="0.6"/>
<line x1="219.47" y1="108.60" x2="219.47" y2="110.10" stroke="#231f20" stroke-width="0.6"/>
<line x1="246.41" y1="108.60" x2="246.41" y2="110.10" stroke="#231f20" stroke-width="0.6"/>
<line x1="249.94" y1="108.60" x2="249.94" y2="110.10" stroke="#231f20" stroke-width="0.6"/>
<line x1="252.44" y1="108.60" x2="252.44" y2="110.10" stroke="#231f20" stroke-width="0.6"/>
<line x1="254.37" y1="108.60" x2="254.37" y2="110.10" stroke="#231f20" stroke-width="0.6"/>
<line x1="255.96" y1="108.60" x2="255.96" y2="110.10" stroke="#231f20" stroke-width="0.6"/>
<line x1="257.30" y1="108.60" x2="257.30" y2="110.10" stroke="#231f20" stroke-width="0.6"/>
<line x1="258.46" y1="108.60" x2="258.46" y2="110.10" stroke="#231f20" stroke-width="0.6"/>
<line x1="259.48" y1="108.60" x2="259.48" y2="110.10" stroke="#231f20" stroke-width="0.6"/>
<line x1="266.42" y1="108.60" x2="266.42" y2="110.10" stroke="#231f20" stroke-width="0.6"/>
<line x1="180.02" y1="108.60" x2="180.02" y2="110.20" stroke="#231f20" stroke-width="0.55"/>
<line x1="181.32" y1="108.60" x2="181.32" y2="110.20" stroke="#231f20" stroke-width="0.55"/>
<line x1="182.62" y1="108.60" x2="182.62" y2="110.20" stroke="#231f20" stroke-width="0.55"/>
<line x1="183.92" y1="108.60" x2="183.92" y2="110.20" stroke="#231f20" stroke-width="0.55"/>
<line x1="185.22" y1="108.60" x2="185.22" y2="110.20" stroke="#231f20" stroke-width="0.55"/>
<line x1="186.52" y1="108.60" x2="186.52" y2="110.20" stroke="#231f20" stroke-width="0.55"/>
<line x1="187.82" y1="108.60" x2="187.82" y2="110.20" stroke="#231f20" stroke-width="0.55"/>
<line x1="189.12" y1="108.60" x2="189.12" y2="110.20" stroke="#231f20" stroke-width="0.55"/>
<line x1="190.42" y1="108.60" x2="190.42" y2="110.20" stroke="#231f20" stroke-width="0.55"/>
<line x1="191.72" y1="108.60" x2="191.72" y2="110.20" stroke="#231f20" stroke-width="0.55"/>
<line x1="193.02" y1="108.60" x2="193.02" y2="110.20" stroke="#231f20" stroke-width="0.55"/>
<line x1="194.32" y1="108.60" x2="194.32" y2="110.20" stroke="#231f20" stroke-width="0.55"/>
<line x1="195.63" y1="108.60" x2="195.63" y2="110.20" stroke="#231f20" stroke-width="0.55"/>
<line x1="196.93" y1="108.60" x2="196.93" y2="110.20" stroke="#231f20" stroke-width="0.55"/>
<text transform="translate(223.70,129.40) scale(0.72,1)" font-size="9" text-anchor="middle" fill="#231f20" color="#231f20" font-weight="normal" >Siglec-9L</text>
<text x="240.00" y="35.00" font-size="8.4" text-anchor="middle" fill="#231f20" color="#231f20" font-weight="normal" >100%</text>
<path transform="scale(0.25)" d="M372 692l-51 3-97-3 61 7 2 1 4-3 14 0 62 4 52 5-21-2-2 1-6-2-5 4-11-2-23 1 0 0 0-2-7 0-6 2-5-2-20 2-1 1-6-2-3-3-19 1-7-1-3 2-3-2-8 3-11-2-1 4-4-2-1-1-13 0-3 0-9-2-10 1-5 5 3 3 4-3 3 4 22-1 9 2 1-5 20 1 5 3 23 0 1-1 0-2 5 4 6-1 4-2 0 1 3 2 2-1 2-2 13 2 3 1 3-4 3 1 3-1 12 4 1 0 9 0 2-3 5 0 7 0 2 3 5-2 13 1 9 5-17-2-12 3-2 1-4-5-2 0-1 0-28 3-6 0-8-1-5 3-13-1 0-4-4 3-1-1-2-1-4 3-2-1-12 2-3-3-6 2-5-1 0-2-1 3-3 1-7-3-3 0-7 1-6 0-4 0-3-3-4 0-3 5-4 0 0-1 0-3-11-1-2 4-3-2-2 1-23-3 15 7 5 0 7 3 1-1 2-3 1 4 3 0 3-4 5 5 2-1 6 1 6-5 1 1 7 3 7 1 3-1 8-4 0 0 7 2 2 1 4 1 2-4 6 0 1 0 5 2 6 3 4-1 0-4 1 0 3 0 9 4 2-2 6 0 2 0 1 1 2-3 0 3 7 0 7 0 11-3 9 3 1 0 2 0 4-1 0 1 2 1 2-1 2-2 1-1 5 3 5 2 2-3 9 3 4-3 15 1 4 1 8 0-8 4-2 3-9-1-4 1-1-1-4-2-5-2 0 5-2-5 0 1-3 1-7-1-3 1 0 2 0-4-1 4-7 0 0 0-7 1-5-3-2 2-2 0-2-1-1-3-2 4-1 1-4-3-3 0-4-2-2 3-1-2-1 2-3 1-1-4-2 0-1 5-2 0-3 0-3-3-7 0-6 0-2 2-4 1-2-2-3 1 0 0-2-1-1-3-3 5 0-3-2 3 0-1-2-2-1 1-3 0-4-3-1 5-10 0 0 0-1-3-9-1-1 0-1-1 0 5-1-1-5-3-4 3-5-3-1 4-1-5-1 1-2 1-1 3-7-1 0-1-1-2 0-1-9 1 0 2-2 2-14 0-1-1 0-3-8 1 0 4 0 5 4-2 2 2 2 0 6-3 2 1 2-1 1 2 5-3 4-1 2 2 0 3 2 0 1-3 0 1 0-1 0 0 5 0 1 0 3 0 2 0 2 2 4-3 1-1 2 1 1 4 3-4 3 0 4 2 13-3 5 2 1-2 1 1 3 3 1 0 1 1 5-1 0-1 2 0 4 0 7 2 6-3 5-2 6 4 1 0 3-2 0 3 1 0 7 0 8-3 4 3 0-2 2 0 5 0 0-3 12 2 0-1 4 0 2 3 0-4 0 0 4 3 10-2 0 4 2-2 2 0 5-2 3 4 5-1 0 1 5-4 1 2 7-1 0-1 1 1 8 1 1-3 9 5 1-5 1 2 1-2 93 6-41 0-46 1-5 1-5 3-6 0-1-4-1-1-1 0-3 4-6-4-1 1-4 0-4 0 0 4-8-2 0-2-8 1-1 2-3-4-6 3-2-1-6-2 0 1-5 3-2 0-13 1-3-1-1-4-4 0-3 1-5 3-1 1-1-4-1 2-22 0-2 0-2-2-2 1-1-1-7-1-1 5 0-4-1 2 0 1-1-4-5 0 0 1-2 0-1 0-1 2 0 2-3 0-2-5-1 2-5 3-2-2-5-3-6 0 0 0-1 2-1 0-1 3 0-4-6 4-10-1-4-4-1 0-1 5 0-2-6 1-1-2-3-2-3 1-3-1 0 2 0 3-2 0-1-2-1-2-2 0-2-1-1 4-1 1-2-1-2 1-4-5 0 4-1 0 0-1-4-1-1 0-2-2-1 4-4 1-2-1-2 1 1 3 6 2 1 0 3 0 3-1 2 0 1 1 2 0 2 0 2-2 1-2 8 0 0 3 6-3 1 2 16 3 2-5 2 2 3 0 6-1 4 1 6-1 5 4 0-5 0 5 2-4 5 4 3-3 1 1 1 1 1-2 1 1 3 0 6-2 0-1 2 2 1 0 3 0 1 0 5 2 1-1 4 1 2-4 0 4 0-2 3-2 3 2 1-1 1 2 0 1 0 1 1-5 5 1 4 4 7-3 4 1 5-2 1 2 1-2 0 4 1-1 5-2 0-1 4 3 1-3 2-1 6 0 5 5 3-5 2 4 0 0 3 1 3-2 2 1 6-1 0 0 1-3 4 0 2 4 0-1 1-1 2 0 2-2 3 0 0 2 1-1 1 3 1-1 8 1 2-3 11 2 4-3 3 5 2-4 5 4 83 6-88-2 0-1-3-2-2 2-1 2 0 1-5-2-4-1-2-2-2 3-1-1-2 2-4-1-6-2-2 2-3-3-5 0-6 3-2 2 0-5-1 0-4 0 0 4 0-3-3 2 0-2-4 0-3 1-1 3-1-3-2 1-2-2-8 4-1-3-1 3-2-2-5 2-1-4-2 0-7-1-4 1-2 2-1 0-2-3-1 4-2-2-3 2-7 0 0 1-7-2-2 2-3-2-5 0-2 1-1-4-2 0-10 3 0 1-6-1-3 2 0-1-1-2-1-2 0 0-9 4-1-3-4 1 0-1-2 0-1 3 0-1-5-1-4 2-5 1-7-1-1 0-3 0-4 0-2 1-2 0-1-4-1 3 0 0-8-1-3-1-2 2-8-4-3 3-2-2-14 2 8 4 1 1 5 0 0-1 6 2 3 2 2-1 0-1 2-2 1 3 3-2 0 2 1-1 1 1 5-2 11 2 0-2 1 1 2-3 2 0 2 1 1 4 1-5 1 1 2 0 2-1 2 3 1-2 2-1 8 5 10 0 3-4 2 2 10-3 0 1 3 3 1-1 2 0 9 2 5-5 8 2 0 3 4-4 0-1 6 3 1-2 1 3 0-2 5 0 1 2 5 0 1-2 9 0 5-2 9 4 2-1 2 2 2 0 0-1 2-1 2-3 3 2 1-2 4 0 1 1 0 0 3 2 1 0 3-2 2 4 7-4 5 1 1 0 1 0 4 1 1 2 1 0 9-1 0-1 3-3 8 2 5-2 21 0 13 0 1 10-24-4-5 3-4 2-9-3-4 2-1 0-2-3-1 1-4 0 0-2-1 5-1-5-3 4-1-3-4 4-1-2 0 2-2 0-1 0-3-1-2-4-2 0-2 2-4-2-7 5-3-3-5-2-2 3-6-3-1 4-1 0 0-2 0 1-2 1 0-4-3 4-2 1-1-3-1 0-4 2-6 1-2-2-3-1-5-2 0 0-1 1-8 3-3-2-3 0-12-2-1 2-1 2-1 1-1-1-2-1-1-1-3-2-3 2 0-1-1 1-6 2-1-2-3-2 0 3-2 1-4-3-6 1-4 1-2 1-1-1 0-2-10 3-2-3-1 4-2-4-1 3-10-2-4 3-1-2-1 2-4-4-7 3-4-1-3-2-3-1-5 1-1 3-5-3 0 3-1-2-1 1-3-2 3 8 2 1 3 0 5-2 4-2 9 2 10 0 1 1 1 2 2-5 1 0 5 3 1 2 0-4 3 1 11 2 1-2 0-2 4 3 2-3 0 4 0 0 6 1 1-4 1 2 3 2 3-3 1-1 2-1 4 4 0-2 3-2 10 2 7 0 1 3 0-2 1-3 10 4 5-3 0 3 2-1 0-1 1 3 0-5 2 1 1 3 1-4 1 5 3-4 8 2 5 2 6-2 1-2 7 0 2 1 3-1 1 2 1 0 1-3 0 4 3 1 0-5 4 3 0 2 6-4 8 1 2-2 18 2 3 0 1 1 1-2 1 1 3 2 3-3 3 3 0-3 6 1 4-1 4 4 3-5 9 4-16 2 0 5-2-1-13-1-5 1-3-2-10-1-1 1-2-1-1 2-16 1-4-3 0-1-1 4-1-3-3 3-1 1-4-4-5 0-3 4-2 0-2-1-2-1-3-1-4-2-2 1 0 1-2-2-3 3-4-3 0 0 0 2-3-1-1-1-1 5 0-5-2 3-6-2-1 3-8-2-1-2-4 1-1 2-2 2-2-5-1 1 0 2-2-2-8 4-4-3-1-2 0 5-4-1-3 0-1-1-3-3-7 1-2-1-3 1-3 0 0 4-1-4-5 0-1 3-3 1-2-2-4 0-3 1-11 1-3-5-3 1-3 4-2-4-1 2-3 0-2 1-2 1-2-2-1-3-2 5-11-1-4 4 8 1 7-3 1 3 3-2 1 4 4-2 3-1 1-1 1 3 2 1 7-4 0 0 11 1 6-1 0 3 1-3 1 0 4 2 1 0 7 1 3-1 4-3 1 2 2 2 4-1 1 0 2-2 1 3 6-1 3 0 1-3 1 5 6-3 0 0 9 0 6 1 4 0 4-1 4-1 3 3 2-1 3-2 7 2 5-2 4 0 1 2 0 1 4-3 1 3 3-1 8 1 2-1 3 1 0-3 9 4 1-3 0 3 1-2 0-2 2 0 4 1 4-1 1 0 6-1 1 3 1 0 1-3 6 0 9 2 1 1 0-3 8 0 16 7-13 2-4-3-12 5-1 0-8-5-4 0-10 2-1-1-2 1-5 0-1-2-3 2-1 0-3-2-5 3-9 1 0-2-4 0-2 0-8 0-1 1-1-2-1 2 0-3-4 5-1-5-6 1 0 1-18 2-9-2 0 0-1 1 0-3-1 2-11-2-2 2-1 2-2-3-1 1-1-1-2-1-6 1-3 2-2-2-3 3-1-2-1 2-4 1 0-5-11 3 0 2-14-3-4-1-5-1-2 4-5 1-12-1-2 1-12-5-6 2 8 6 12 0 6 0 14 0 5 2 1 0 5 1 4 0 4-3 1 3 5 0 2-1 2-4 1 5 2-3 2 3 0-3 0-1 13 2 5-3 3 0 3 2 0-2 25 4 3-3 0 1 1 0 14-2 5 0 2 3 7-2 2 4 6-3 2 1 1 0 16 1 3 1 5-4 2 2 3 2 2-2 2 1 1 0 1-2 0-2 3 0 1 3 33 0-19 7-24-2-23 0-6-2-10 5-2-2-4 0-5 0-6-2-24 0-15 4-14-3-49 0-4 1-4-3 39 8 16 3 24-5 4 2 1 1 19 0 5-3 36 2 3-1 11 0 42 6-118 3-41-2-5 2-5-2 39 9 48-5" fill="none" stroke="none" marker-start="url(#mk0)" marker-mid="url(#mk0)" marker-end="url(#mk0)"/>
<path transform="scale(0.25)" d="M387 693l-66 8 6 10 22 0 26-1 1 3 14-4 1 1 19 8-10-3-3-1-20 0-15 0-30 4 0 1-5-1 3 7 3 0 5-3 5 0 19 1 1-1 3 0 2 3 0-1 4-4 3 5 9-1 0-3 7-1 0 1 4 2 12-3 2 4 5 5-1-1-5 1-16-3-4 5-7-1 0 1-1-1-2-3-1 0-2 2-2 2-8-4-2 0-4-1-1 4-1-4 0 5-5-4-4 0 0 2-3-2-2 1-1 1-1-3-1 4-4-2-2-1-1 0-9 4-3-4-16 9 13-4 3 3 4 1 2 0 2 1 2-1 8-2 4 3 2-5 3 2 1 0 1 1 2 2 6-4 4 4 3-2 3 1 4-2 0 1 7 0 3 1 5-2 6-2 1 5 5-2 1-2 7 1 0 3 17 4-8-2-1-1-10 2-10 2 0-3 0 2-5 2-1-2 0 2-1-1-2 1-3-2 0 0-2 0 0 0-1 1-4-3-5 1-2-2-1 1-1 3 0 1-2-2-1 2-2-5-5 0-12 2-1 2-1-3-3 4-1-2-1-3-2 1-4 4-2-2-2 2-3-4-10 4-1 2 13 3 1-1 0 2 4-1 9 0 3-1 3 1 2-1 1 2 3-4 1 1 6 2 8-3 7 1 2 1 2-1 1 1 1-1 0 3 2-4 0-1 7 3 10-1 4 2 4-4 5 0 3 5 6 0 11-3-7 7-5-2-5 4-4-4-7 3-1 1 0 0 0-4-1 3-1 1-1-5-2 0-3 5-2-3-2 3-3-1-7-2-2 1 0 2-3-2-9-1-1-1 0 0-3 1 0-1-1 3-3 1-1-3 0 3-11-2-3-2-6 3-2-2-5 2-3-2 0 1-11-2-1 4 0-2-1-1-1-1-1 0-3 4-2 6 4-5 5 1 1 0 0 1 2 1 1-2 4 0 6-1 0 1 0 1 2 0 2-2 3 1 2-1 4 2 6-2 3 1 0 4 2-4 6 4 0 0 2-2 5 2 0-1 6-1 5 1 4-2 1-2 5 5 1-4 1 0 1 1 1-1 7 3 2-3 7 0 0 4 2-1 4-1 3-3 3 2 1 3-21 6-4-1-2-1-3-1-8-2-2 4-7 1-3-3-6 3-4-2-2 0-4-2-1-1 0 1-1 2-2-1-1 2-3-2-2 0-1-2 0 4-2-3-3 2 0-2-1 1-5-2-2 5-3 0-8-2-5 1 2 3 1 3 8-2 4-1 1 3 1-1 2-3 1 4 8 0 3-1 1-1 11 3 0-2 3-3 4 2 4-2 4 1 3 3 2 1 3-5 1 5 3-3 1-1 3 4 2-4 12 2 0-3 1 4 3 0 10-4 1 6-3 5-14-4-1-1-1 4-3-4-1 0 0 2-1-2-1 2-1 3-5-3-10 1 0 2-2 0-3-1-3-2-2 3-5-4-4 0-2 3-6-1-8 2 0-5 0 0-4 0-7 2-6-2-1 4 14 6 3-4 8 4 6 1 1 0 2-3 1-1 1 1 2 3 3-1 1 1 0-5 1 0 2 1 2 4 3-1 0-2 0-2 1 1 5 4 1-3 0-2 2 5 2-3 2 1 2 2 6-3 1 2 3-1 6-2 5 4-7 4-6 0-7 0 0 2-5-4-3 1-5 0-3-1 0 1-2-1 0 0-2 4 0-3-3-1-12 2-4 2 0-4-10 1-9 2-1-2-12 1-14 0 22 4 16-1 8 3 15-3 1 3 14 0 6 1 5-2 16 8-32-2-19-1-3 1 22 8-10 16" fill="none" stroke="none" marker-start="url(#mk0)" marker-mid="url(#mk0)" marker-end="url(#mk0)"/>
<ellipse cx="57.00" cy="189.00" rx="10.00" ry="7.50" fill="#333" fill-opacity="0.35" filter="url(#bl0)"/>
<path transform="scale(0.25)" d="M201 701l21-4 18 4 28 6-14-2 0 1-12-2-1-2-7 1-8 3-4-3-4 1-2-1 0 4-26 5 7 1 7-2 7-2 1 2 1 0 0 2 3 0 0-1 3-3 1 1 2 1 3-1 3 3 5-4 1-1 1 3 3-3 0 3 2-1 3 2 0-2 1 1 0-3 6 3 1 1 3-1 1 0 3 1 3 1 0-4 3-1 3 3 1-2 17 3-16 6-1 0-5 0-1-2 0-2 0 1-1-1-2 0-1 0-3 1-1 0-1-1-1 4 0 0 0 1-3-1-5-2 0-2-2 2-1 0-1 0 0 0 0-1-4 3 0-3-2 4 0 0-1-4 0 4-1 0 0 0 0-1-2-1-1-1-2-1-1 1 0 2-2-3-2 2-2 1-2-2-1-1-1 4-3 0-3-3 0 2-3-1-1-3 0 4-1 1 0-2-4 1 0-1-5 2-2-2-9-1 0-1 3 9 1 0 2-3 2 0 0 2 1-3 2 2 1 2 3 0 1-2 0 1 3-2 1 0 1 0 2 3 1-2 1-2 0 0 2 3 1-1 1 2 1-1 0 2 0-5 2 5 1 0 1-4 0 2 0-1 2 0 0 1 1 0 0 0 0 2 0-4 1 1 0 2 2-1 0-2 1 1 0 0 1 1 1-1 0 2 0-1 2-3 1 3 4-3 1 5 0-3 0 0 4 1 1 1 2-3 0 2 1 0 1 0 0 1 2-4 0 1 3-1 5 5 0-4 2 0 0 3 1-2 0 1 2-3 1 1 0 3 0-3 1 3 1-4 0 3 1 1 1 1 1-3 0 1 2-2 0 4 1-5 0 3 3 0 1 1 3 1 3-1 2-1 1-3 6 2-8 6-1 2-1 0-1 1 0-1-3 0 0 0-2 1-3-1-1 1-1-4-1 3-3-3 0 1 0 0-11 2-1-2 0 1 0-2-2 1-3-1 0 4-1-4-1 3 0-3-5 1-2 1 0 0 0 2-1-5 0 2 0-2-1 4-1 1-1-4 0 2 0 1-1-4-4 3 0 0-3 1-1-1-1-2 0 3 0-3-1-1 0 0-2 5 0-1-1-2 0 3-1-2 0 2-1-4-2 1-1-1-1-1-1 5 0-2-2-1-1 1 0 0-1-3-5 5-1-2 0 1 0-1-6-2-1 0-1 2-1 0 0 1-1 1-3-1-1-1 0 2-1 0-2-3-1-1 0 1-1-1-2 7 1 2 1 1 0-2 1-2 2 2 0-2 1 4 4 0 2-1 2-2 0 0 0 2 1 0 1-2 0-1 1 0 1 4 1 0 2 0 0-5 1 4 1-2 0-1 0 3 1 0 1-2 0 3 2-4 1 1 2 3 0-5 2 1 1 3 2 1 0-3 0 0 0 1 1 1 2 1 4-1 2 0 2-4 1 5 0-3 0 2 1-4 0 4 1-2 1-2 1 1 0 1 0-1 3 1 0 0 3 0 2 0 5 3 3 0 0-3 0 3 1-4 1 2 1-3 0 4 2-3 0 0 0-1 0 0 1 0 2 3 1-3 0 5 2-5 2 5 1-2 2 0 5-3 1 0 0 4 2-3 2 0 0 2 1 2 3-2 1 2 2-3 1-1 0 0 9 3 2 2-9 3 0-2-1 2 0 1-4-4 0 1-1-1-1 3-2 0-1-3 0 1 0 1-1 2 0-2 0 0-1-2 0 2-3-1-2 0-1 0-1-1-1 0-1 3 0 0-2 1-1-1-1-3-3 0-1 4-1 0-1-3-2 2 0 1 0 1 0-5-1 5 0-1-3-4-3 1-1 2-2 1-1-2-1 3-1-1 0-4-4 5-1-2 0 0-1-1 0-2 0 5-2-2 0-3-1 1-1 1-1 0-2 0-1 1-5 0-1-3 0 3 0-3-1 4-5-3-3-1 0 3-2 0-2 2-1-1-2-1 0-3 0 1-1 2-1-3 0 2 0-2-1 0-1 4 0-4 0 1 0 2-2 0 0 1 0-3 0 4-1-5 0 5-1-2-2-2-1 0-1 0 0 0-1-1-1 1-1 1 0-2-3 3 0 0 0-1-1 2-1-3 0 2-1 2-1-4 0 5 0 4 2 0 1-2 1 3 0-4 3 3 0-2 3-1 1-1 4 5 0 0 0-5 0 2 1 2 0 1 2 0 1-1 2-2 0 3 0-4 0 2 5 0 0-3 1 4 1 1 2 0 0 0 1-4 3-1 2 1 1-1 0 0 6 3 1 2 1 0 0-1 1-3 0 1 0 3 0-2 1 2 0-4 1 3 0 1 1-1 0-4 1 5 0-3 1 3 0-3 1-1 0 1 0-2 0 2 1 3 1-2 1-3 0 2 1 0 1 1 0-3 3 5 0-2 1 2 1-3 1 3 0 0 3-4 0 1 0 1 1 0 1-3 1 2 1 0 0-1 4 1 1 1 1 1 0-1 0 0 1 0 1-3 1 0 3 2 1-2 1 3 0 0 1 2 1-2 1 1 2 0 0-2 0 3 0 0 1-4 0 4 0-1 2 1 0-2 1 1 2 1 1-4 3 1 0 2 3 0 0-3 0 0 1 1 2-2 0 5 1-2 0-1 11 7-8 1-2 0-1 1-1-2-1 0-1 0 0-3-2 2-3 1 0 2 0-4-1 1-4 3 0-5-2 0-1 3-3 1 0-2-2 3-1-5-1 2 0 1 0-1 0-2-2 4-1-3-1 4-1-2 0 2-1-3 0 0-1 2 0-4-2 0 0 4-1 0-1 0-2-3 0-1 0 5-2 0 0-4-1 1 0 2 0 1-1-2 0-1 0 3 0-4-1 1-2-2-2 5-1 0 0-3-1-2-1 0-1 2-2 1 0-2-1 4-1-3 0-2-2 3 0-1 0 1 0 1-1 1 0-3 0 3-2-5-1 2 0-2-1 3-3 1-1-4-1 4-1 0-1-1 0-2-3-1 0 5-1 0 0-4 0 0 0 2-2 2-1-4-1 4 0-2-2 0-1-1 0-2 0 1-1 3-2 1-1-5-1 5-1-3-1 3-1-5-2 3-3 2-3 0-2-4-1 1 0-1-2 1 0 1-1-1-1 2-1 0-3-1-1 2-1 2 1 3 1-4 1 2 1 0 0 0 3 0 1 3 0-5 1 2 1 3 1-2 0 0 1-3 2 0 3 4 1 0 0-1 1 0 0 0 1-3 1 4 0-2 0 0 0 1 1-3 1 5 1 0 0-5 1 2 0-1 0 4 0-4 1 1 0 3 1 0 2-5 0 2 1 3 1-2 0-1 0-2 2 5 1-2 1-1 0 1 5-1 0-2 2 5 1-4 4 4 0 0 1-5 1 0 0 0 0 2 1 2 1 1 3-2 1-2 0 0 0 3 1 1 0-4 1 2 0 2 1-1 1-3 1 4 1-3 0 1 1 1 1-2 1-2 0 1 1 3 1 1 0-3 4 0 0 2 1-4 0 4 1 1 0-3 1-2 1 3 0 1 1 0 3-3 1 3 2-2 1-2 3 5 0 0 1-1 4-4 1 1 1-1 0 0 3 2 0-2 1 4 0-2 0-1 1 3 3 1 0 0 0 0 0-1 1-4 0 1 1-1 0 3 6 0 2 2 1-5 3 3 6-2-10 7-1-2-1 0-2 1-3 0-2 2-1-2 0 4-1-5 0 1 0 2-2-3 0 3 0-3-1 3 0 0 0 0 0 2 0-4-4-1 0 3-1-1 0 2-3-3 0 2-2-3-1 0-1 4-1 1 0-1-3-2-1-1-1-1-1 4 0-3 0 4-1-1 0 0 0-2 0-1-1 3-1 1 0-2 0 2 0-2-1-2-1 1-1 1 0 2-1-4 0 1-1 2-4 0 0-4-1 0 0 1-1 2-1 2-1-1 0-3-1 4-1-3-2 2-1-3 0 4-1-5-1 5-2-1-1 1-1-3 0-2-1 2 0-1-1 3-3 1 0-1-1-3 0 2-2-2-1 3-3 0-1-2 0 0-2-2-1 3-2 2-3-4 0 3-4 0-2 1-2-4 0-1-1 3 0 2 0 0-1 0 0-4-2 1-2 0-1-1 0-1 0 5-2-5 0 0-1 5-1-2-1 1-1-1 0-2 0 2-2 1 0-1-2-2-3-1 1 6 2 1 2 4 1-3 1 1 0-2 1-1 0 2 0 1 6-1 3 1 0 2 1-5 0 4 1-2 0 2 1-1 3 2 1-1 2-2 0 3 2-4 0 0 0 3 1 0 1-1 0 1 0-1 1-3 0 2 0-2 2 1 1-1 0 4 0-4 1 3 1-3 0 5 0-1 1-4 1 0 3 3 2-2 1 2 0-3 2 3 1-3 0 5 1-5 1 3 3-1 2-1 0-1 1 2 1-2 0 5 0-2 1 2 1-4 1 2 1-1 0-1 0-1 0 4 1 1 3 0 0-2 4 1 2-1 0-2 2-1 0 4 2-1 0-1 3 2 1-1 0-1 0-2 1 1 1 3 1-3 0-1 2 5 1 0 2 0 1 0 0-4 3 2 1-3 0 2 0 3 1-1 1-3 2 1 3-2 1 5 0-4 1 2 1 1 1-2 1 0 2 1 4-3 1 4-3 2-3 1-5 1-5 1-4-3-2 5 0-4-2 1-2 3-3-3-1 3 0-4-1 1-1-1 0-1-1 4 0-2-1 0 0 0-1 1 0-2-1 0 0 0-1 3 0-4-1 4-1 1 0-5-1 3 0-3-1 2 0 3-1-3-1 2 0-4-1 5-1-1-1 1 0-5-3 1 0 2 0 2-5 0-2-4-1 0-1 4-3-4-2 1 0-1-1 3 0-4-1 5-1-1-1 0-1 1 0-3 0 0-2 0-1-2 0 4-3 1-1-4-3 1-4-2 0 2-1-2 0 5 0 0 0-3 0-2 0 2-2-1 0 2-1 1-1-1 0-1 0 1-1-1 0-1 0 3-1-1 0-1 0 1-2 1-1 0-2-2-1 3 0-4-1 0-1-1-3 1-1 0 0 3-1-4-1 4-2-4-1 0-1 1 0 3 0-4 0 1-4-1 4 7 1-1 0 0 1 5 1-2 0-1 0 3 1-4 2 0 1-1 1 3 0 2 1-1 1 0 1-4 1 5 0 0 1-3 1 3 0-2 2 1 2-2 1 1 0 1 0-3 0 0 1 0 1 4 0 0 2-5 2 2 2 1 0 1 0-2 0 1 1-3 2 2 0 2 1 1 0-3 0 3 0 0 1-5 1 3 2 2 0 0 1 0 1-3 2 2 0-2 2-2 2 0 0 1 1 3 0-4 0 5 1-4 1 3 1-2 1 0 0 0 0 1 1 1 0-1 1-1 5 1 0 0 1-3 0 3 0 0 1 0 0-1 1 1 1-1 2 1 1 0 3-2 0-1 1 0 2 4 0 0 1 1 0-1 0 1 3-3 1 3 0-1 0-3 2 0 2 1 1 2 2-2 0 1 0-2 1-1 1 4 1-3 2 0 1-1 0 5 1-5 0 1 1 4 1 0 0-4 0 0 3 0 1 1 2 1 3 2 2-4 2 6-1 2-3 2-2-5-2 4-1 0-1-2-3 3-5-2 0-2-1 1-1-1 0-1 0 5-3-3 0 3-2-5 0 1-2-1-1 2-1-1 0 3-2-4 0 5 0-3-1-2 0 0-3 1-3 2 0-2-1 0 0 4 0-2-1 1-1-2-1 1-1-3-3 3-1-1 0-1-1 3-1-1-1 0-1 1-1-1 0 2 0 0-1-5 0 1 0 4-1-1 0 0 0-3-2 0-1 0-1-1-1 3-1 0 0 2 0-5-3 0-2 1 0 0-2 0-1 3 0 0-1-2-1-2-1 5 0 0 0-1-1 0 0-1-3-2-1-1 0 0-1 5 0-5-1 5-3-3 0 0-1 0-2 1 0-3 0 3-1 1 0-1-2-3 0 5 0-4-2 3 0-4-1 0-3 3-1 0 0 0-1-1-6-1-2 5 5 1 4-1 5 2 1 1 0 0 0-1 0-1 2 2 0-3 0 2 2 1 0-1 0-1 1-1 2 5 1-5 0 5 0-2 1-2 1 4 1 0 1-4 0-1 2 3 0 1 0-4 2 1 2 0 1 0 2 1 1-2 1 2 1 1 0-1 1 2 2-2 0 3 3-4 0 0 0 3 0 0 0-1 1 1 1-1 1 1 1-4 1 3 6 0 1-3 2 3 0 1 1 1 1-4 1 1 1 1 0 0 2 1 3-4 0 2 0 0 1 2 0-1 0 0 2 1 1-1 2 1 0-1 1-1 1 2 1-1 3 2 5-1 1-3 5 0 2 2 2 1 3 2-5 2-10 0-1-2-5 1-3 1-1 2-3-2-3-2-1 2 0-2-4 0-1 3 0-3 0 1-2 4-1-2-2-3-1 4-2 1-2-5 0 1-1-1 0 5 0-4-1-1-1 2-1 2-2-4-1 0 0 0-1 0-1 3-4-1 0-1 0 0-1 0-1 1 0-2 0 3-1 2-3-3-1-1-21 9 7-4 2 0 6 0 2 3 4 0 3-3 2 3 12 1 3 1 3-5 6 2 1-1 2 3 11-1 4 0 14 3-21 2-49 0 43 4" fill="none" stroke="none" marker-start="url(#mk1)" marker-mid="url(#mk1)" marker-end="url(#mk1)"/>
<defs><marker id="mk5" markerUnits="userSpaceOnUse" markerWidth="2.80" markerHeight="2.80" viewBox="0 0 2.80 2.80" refX="1.40" refY="1.40" overflow="visible"><rect width="2.80" height="2.80" fill="#0808f4" fill-opacity="0.6"/></marker></defs>
<path transform="scale(0.25)" d="M318 700l11-1 56 5-7 2-13 1-1-4 0 2-11 1-4-1-3 1-9-1-32 2-4-2-6 1-10 1-1-1-7-2-3-2-3 2-2 3-1 0 0-2-18 2-3-1-5 0-2-4-18 1-17 6 19 3 1 0 2-3 2 4 1-4 4 1 1 2 1 1 2-1 4-2 0 1 1 2 3-4 2-1 6 0 3 0 7 3 1 1 7 0 4 0 3-3 0 4 3-1 1-1 0 2 17-3 1-2 2 3 3-2 2 3 1 1 1-3 2-2 3 5 0-3 3 3 5-3 3 3 3-3 1 1 4-2 3 3 7 0 0 1 10-2 0 1 2-4 0 2 1 1 0 1 7 1 1-3 1 0 1 3 12 0 1 0 2-5 5 0 1 4 4-3 1 3 21 1 0-1 3 4-6 3-2 0-2-1-2-1-3 0-3 1-9-3-4 1-3 0 0 3-1-4 0 4-1-1-1-2-3 2-1 0-1-2 0 3-8-5-2 5-2-3 0 3 0-3-4-1-1 2-3-1-1 2 0-1-2 2 0-2-2 0-2-3-4 1-1 4-1-4-2 4 0-2-1-2 0 1 0-1-2 1-2-2-4 4 0-1-1-1-1 3-1-4-2-1-2 2-1-2-2 3-1-2-2-1-1 4-3 0-1-2-2-2-1 0 0 3-2 0-1-2-2 2-1-3-5 4-2-4-4 2 0 0-1 3-4-1-3-2-2-2 0 3-4-2 0 2-1 0-1 1-1-2 0 2 0-2 0 1-1-3-1 2-4 3-4-1-1-1-1 2 0-2 0 0-1-2-1 3 0 1-2-1 0-4-2 1 0 0-1-1-10 1-3 4 0-2-2 1-1 0-2 1-3-5-2 3-2 1 0 0-1-1-1-1-2 0-1-1-1-1-1 3-2 2-7-5 0 3-1 0-4 1-1-3-1-1-1 0-5 5-7 1 2 5 3-3 0 3 5-2 1 2 1-5 4 2 1 1 1-3 1 4 1-2 3 3 1 0 1-4 2 4 2-2 1-2 1 4 0-2 2-1 0 2 0-4 1 2 4-1 3 3 2 1 0-2 1 2 1 0 0-2 2 1 3 1 0-2 2-2 2 0 3 1 2 0 2 0 3-2 1 2 2-2 2 4 0-2 0 3 0-2 2-2 2-1 6 0 0 5 2-5 1 3 2 2 0-4 0 4 1-5 1 2 4 1 1 2 0-2 1-2 1 4 0-2 1-1 2-2 4 2 3-1 2 0 1 2 2 0 0-3 1 3 1 1 1-4 2 1 4 1 1-1 3 0 0 1 3 2 0-4 3 2 1 0 1-2 1 1 1 1 1 2 1-4 0 5 2 0 1 0 0-1 1-3 1 2 1 1 1-2 1 3 0-3 0 2 2-1 0-3 1 2 2 0 1 1 0 2 3-2 11-1 4 2 2 1 1 0 1-4 2 1 0 0 6 0 1 1 0-2 1 1 1-1 0 2 1-2 1 1 0 3 1 0 1-5 4 3 0-3 1 2 1 1 1 0 0-3 1 5 0-5 4 2 1 0 1-1 2 4 0-2 1-2 0 0 2 4 1-5 2 4 0-4 1 0 1 3 1-3 1 2 3 1 1 1 1 1 4-1 14 6-2-1-2 1-2-3-1 1-1 3-2-1-2-4-2 1 0 4-1-5 0 3-5 0-3 2-2-3-3 2-2-3-2 4-2-1-2 1 0-5-3 4 0 1-4-1 0 1-1-3-2 1-1-2-3 1-2 2-2-4-1 3-1 1 0-2-1 1-2-3-1 3 0-1-2-2-1 2-2-2-2 2-1 1-1-2-3-1 0 0-2 4-1-4-3 1 0 2-1 1-2 1-1-1 0-1 0 2-1-2-1-2 0 2 0 1-4 0-1 1-1 0-1-5-1 5 0-5-1 3-1-2 0-1-2 3 0-3-1 1-1 1-2 0-2 0 0 2-1-3 0 2-5-1-2 2-4 1-2-5-2 4-2 1 0-2 0-3-2 1-2 0-1 0-3 1-1 1-2 0-1-2-1 3 0-4 0 0-2 0 0 4 0 1-1-1-2 1-1-5-1 4 0-3-4 0 0 4-4-5-1 3-3 0-5 2-3 0-1-5-1 3 0-3-1 0-1 5-1-3-4 2-3 1-1-4-1 1-1-2-1 3-1 2-2-3 0 3-1-4 0-1 0 2-2 0 0-1-1 0-2 1 0-2-1 4-1-3-2 3 0-2-1 3-4 0 0-2 0 1-1-3 0 3 0-2 0-1-1-1 0 0-1 3 0 1 0 1-1-1-1-1-2-3 0 4-1 0 0 1-1-3 0-1 0-1 0 2-1 3-1-3-2 1 0-3-1 0-2 3-1-3 0 5-1-4-1 0 0 3-1 0-1 1 0-2-1-1 0-1-3 3 0-1-1-1-1 3-1 0-1 0-5-1-2-3-1 2-2 0 0-3-2 3-2 2-1-3 0 3-5 4 1-1 3-1 4-1 1 0 1 2 1-2 0 4 1-2 3-1 3-1 1 1 0 3 3-2 1 2 1-1 2 0 1 2 0 0 1-4 2 4 2-5 0 3 0 1 0-1 1 2 3-4 0 1 0-2 1 4 1-2 0 2 1 0 1-1 1 1 2 0 0-2 2-1 1 0 1 4 1-2 0 2 1-1 0 0 1-1 1-2 0 1 3 0 1-1 3 1 0-2 1 1 0 0 3 0 0 2 1-1 0-2 1 3 2-3 1 0 4 3 1-1 5 2 1-2 2-1 1 1 1 0 0-2 0 3 1-1 0-1 0 2 3 2 2-1 3-2 0-2 0 3 2 2 1-2 0-3 1 2 1-1 4-1 1 4 0-3 0 1 1 0 0 3 1-3 0 2 1 1 0-3 1 1 0 1 1-3 2 0 2 1 2-1 1-1 0 5 0 0 1-2 0-2 1 1 0 1 4-3 0 0 1 0 1 4 0-2 1 0 0 2 0-1 4 1 2 0 1-3 4 4 5-2 3 2 0-5 0 4 3 0 0-4 1 2 3 1 1 1 2-2 3 1 0 1 0 0 0-2 1-2 0 3 0 2 1-1 1 1 0-4 2 3 3 1 1-1 3 1 1-5 0 0 1 3 2 0 0 2 2-5 0 0 1 0 0 2 2 3 1-3 1 1 0 2 3-5 1 5 2-2 0-2 1 1 0 3 2-5 0 5 1-1 1 0 1-4 0 0 2 2 1-2 2 3 1 2 1-4 0 0 2 2 1 2 0-4 0 0 2 4 0 0 4-4 1 4 1-2 1 0 3-1 5 3 0-4 3 3 0-1 1-2 0 4 1-5 0 5 0-4 2 3 0-1 1 2 1-2 0-2 1 2 2-1 3 0 1 2 9-3 1 3 2-1 9 1 24-2 70 3-39 5-7 0-56-3-7 1-2 2-3 1-3-3-1 0-1-1-2 2-4 2 0-1 0-4-3 3 0-2 0 0 0 4-2-4 0 0 0 4-1-5-1 5-2-5-1 0-3 5 0-2-3-2-1 0 0 1-1-1 0-1 0 1 0 3-2-4-1 2 0-1 0 0-1 3-3 0-2-1-1 2 0-2-1-3-1 1-1-1-1 0 0 0 0 2-1 2 0 1-1-5 0 5 0-2 0 1 0-4-1 0-1 4 0-1 0 2-1-4-2 1-1 1-1-1-1 1 0 1 0-3-1 4-1 0 0-4-1 0-2 2-1 0-2 1-4-1-1-1 0 2-2 0-1-3 0 1-3 1 0-1 0 2-1 0 0-2-1-1 0 0 0 3 0 0-1-1-1-3-3 4-1-1-3-1-2 2-1-4-1 5-1-3 0-1-8 0-3-1-4 1-1 1-2-1 0 2 0-2-1 3-5 1 0-2-1 2 0-3-3 0 0 1-2 0-2-1 0 3-2-1-3-2 0 2-1-2-1-2-1 0 0 1-2 0 0 4-1-2 0 0 0 2-1-1 0 0-2 0-3-1 0 1-2-3-2-1-4 1-2 3-4 0-1 0-1 0-1 0 0-2-2 0-2-1 0 4-1-5 0 3-1-3-1 0-1 4-2-2-1 3-1 0-1-1-1 0-1 0 0 0-1 1-1-1-1-4-4 5-1-3 0 2-3 0-1 0-2-3 0 3-2-1-1 1-1 0 0-2-2-2-3 0 0 1-2 2 0-2-1-1-2 5 0-5-1 1-5 1 0 0-1-1 0-1-1 2-3 0-1 0-1 2-2-1-2 1-3 0-4-2-1 3-1 0 0-2-1-2-1 1 0 2-2-4-6 3-1-3-2 9 2-2 0 0 1 2 1-1 2-2 1 4 1 0 6-2 0 3 2-2 1 0 1-2 1 3 2 1 1-3 1 2 1-3 1 4 1-5 3 3 1 2 0-3 3 1 1 2 2-4 0 4 2-5 2 4 2 1 0-4 2 2 2 1 0 0 1 1 1-1 1-1 0-1 0-1 1 0 0 2 1 2 1-4 0-1 0 1 0-1 3 4 0-4 0 3 2-3 1 4 3-4 0 3 0-3 4 4 0 0 1-1 1-1 0 1 1 0 1-1 0 2 2-4 0 4 1-4 1 2 0 3 0-1 2-1 0-1 1 0 3 0 1 2 1-1 0-2 1 2 2 1 0 1 2-4 2 0 0 3 0-1 1-1 1 2 0 0 4-3 3 4 0-2 1-1 0-2 1 2 0 2 0-4 1 3 1-2 0 3 1-4 0 4 0 1 4-2 1 0 1-3 5 0 2 0 1 4 1 0 0-4 3 2 4 2 0-1 3-1 1 2 0 0 1 1 0-1 2 0 0-3 2 3 1 1 0-2 4-2 2-1 0 2 3 1 0 2 1 0 1-2 0 0 1 1 0 0 3-1 0-1 1 1 1-2 2 2 1 1 1-3 0 2 0-3 1 5 0-1 0-2 3 2 0 1 2-5 3 2 0 2 1-4 2 4 6-4 1 3 0 1 2 1 2-1 1 1 2-2 1 1 1-2 0 0 4 1 0 1 5-4 2 3 1-3 0 5 1-1 2-1 0 1 1 1 0-5 0 1 2 3 2-1 0-1 2 0 4 0 0-1 0 0 2 1 1-1 1 0 0 1 4-2 2 3 0-2 4 1 1 0 0 3 0-5 0 3 1-2 2-1 0 4 1-1 1-2 1 3 0-3 1 1 1 3 5-5 1 2 0 3 4-3 1-2 5 0 0 3 4 2 11-2 72 8-33 0-48 0-3 0-2-5-1 2-1-2-3 1 0-1 0 0-2 0-5 4-1-1-1 0 0 2-1-4 0 0 0 1 0 1-1-3-3 5-1-3-3-2 0 0 0 0-1 1-1-1 0 4-2 1-1 0 0 0-1-2-3 2-9-3-1 2-1 0 0-4-3 1-3-1 0 1-1 1-1 2 0 1-1-2-1 1-1 0-1-1-2 1-1-4 0 4-1-3-2 4-1 0-1 0-1-5-1 4-1-2-2 0 0 1-1-2 0 0-1 1-3-2 0 3-1 1-3-1-2 2-1-1-2 1 0-2 0 1-1-1 0 0-2-1-3 2-3-3 0 1-1 3 0-2-1-3-1 3-1 0 0-1-2-1-3-1-1 4-2 1 0-5 0 4-2-2-1-2 0 2-1 3 0-1 0-4-1 0-1 3-3 0-1 2 0-3-1 3-4 0-1-3-1 1-2 1-1 1 0-3 0-2 0 4-1 0 0 0-3-1 0 2-1 0-4-3 0-2-1 5-1-4-8 2-6-3 0 3-1-3 0 0 0 2-1 0-1 1-3-1 0 1-1-3-1 5-1-3-3 2 0 0 0 1-2-1-1-1-1-1-2 0-1 0 0 1 0 2 0-2-3-1-3 3-1-4-1-1 0 1-1 1-1 1-1-3-1 5-1-5 0 3-2 1-1-2-1 2 0-3-3 0-2-1 0 3-1 1 0-1 0-3-1 2-1-2 0 1 0 2-1-2-2 1-1 1-3-3-1 3-5 1 0 0-1-3-1 1 0-2-2 4 0-3-1 3-1-2-2 1-1-1-1-2-1 0-2 5-1-1-2-1-1 0-2-3 0 3-3-2-1 0-1 4-3-4-1 2-1-1-1 0-1-1-1 3-1-4 0 2-2-1-1 1-3 3-3-1 0 0-3-4-3 10 4 0 3-3 0 4 3-5 0 1 1 0 0 1 2-2 0 0 1 5 0 0 0-2 2-2 1 3 4-2 3-1 0 0 0 2 1 1 5-2 1-2 0 4 1-4 1 0 0 3 0 2 3-1 0 0 0-1 1-3 3 5 1-1 1-4 3 5 1-1 3 0 1-4 4 3 1-1 2 1 0 0 1 0 0-1 0-2 0 4 0-1 2-1 0 0 0-2 1 5 0 0 2-3 0 1 5 0 1-3 2 0 3 4 3-1 1-2 1 2 1-2 1 2 3 1 1 0 1 0 0-4 0 4 2 0 1-4 5 3 0-2 1 1 7 1 0 0 0-1 1 0 3 2 3-1 2-2 0 4 0 0 3-4 1 2 1 0 0 1 1-1 4 1 0 0 1-3 1 0 0 4 2-1 0 0 0-4 0 0 0 2 2 1 0 0 1 1 0-4 2 4 1 0 3 0 1-3 2 1 0 0 1 0 3 2 1-1 6-3 1 2 1-1 1 3 0 0 2-1 1-3 2 0 0 5 1-3 1 2 2 0 2-2 1 2 0-1 1-1 1-2 2 3 1-2 0 1 0 2 1 1 2-2 2-2 0 3 1-1 0 2 2-1 0-3 2 4 1-3 1-1 1 3 3-1 1-2 1 2 1 2 1-3 0 2 1-1 0 0 1-3 0 2 0 3 2-3 0 3 1-5 1 3 1-3 2 0 0 1 1 0 1 1 0 2 2-3 1 1 0-1 1-1 4 1 0 3 1-1 0 2 0 0 1-5 0 3 1-3 0 0 2 0 1 0 1 2 1 1 0-3 5 1 1 1 2 2 0 0 2 0 1 0 0-1 3 2 2 0 1 0 0-4 1 3 1 1 0 0 2-2 2-2 1 1 1 1 1-2 0 1 1 0 0 0 3 3 1-1 0-4 1 0 0 0 8 4 92 1-66 3-26 3-1-2-1 2-2 0-3 0-1-2-1 1 0 0 0-3 0 2-1 2-1-3 0 3-1-4-4-1 0 0 0 1-3 4-1-5-2 0 0 3-2 1 0 1-2-2-1 2-1-5-3 0-1 2-2 3-4-3-2-2-1 2 0 3-1-1 0-1-1 1-1-3-6 1-1 2 0-2-3 3 0-4-1 0-1 0-2 2-1-1 0 0-1 3-1-4 0-1 0 5-3-3 0 2-1-2-2 1-2-1 0-2 0 4-7-3-1 2-1-2 0-1 0 1 0-1-5 4-1-4 0 5-2-1-1-2 0 0 0 2 0-4-1 0-1 5-1-1-1-2-2 2-2-4 0 5 0-4-5 1-1-1-1 1 0 1-1 1 0-4 0 1-1 3-1 1-1-5-1 0 0 2 0 2-2 0-1-1-2 2-2-2-1 1-2 1-1-1 0 1-1-2-1-1-1-2 0 4 0-2 0-1-2-1-3 0-5 2-1 2-3 1 0-5 0 1-3 1 0 1 0 0-1 1 0-2-2 0-1 1-2 2-2-1 0-4-1 1-2 4-2-3-1-1-3 3-2-1-3 1 0-3 0 0 0 2-3-3-1 4 0-1-1 1-1-4 0 1-1 3-2-3 0 3-1-3 0 1-1-1-1 0-1-1-4 0-1 1-1-1-2 4-2 1-2-2 0 2 0-5-1 3-1 1-4-4-1 5-8-4 0 4-2 0-1-4-2 4-1-2-2-2-4 0-2-1-2 1 0 1-2 2-3-2 0 3-1-5 0 5-1 0 0 0-1-4 0 0 0 3-2-4-1 4 0 1 0-2 0-3-3 2-2 2-1-3-5 0 0 3 0-2-1-1 0 1-1 0-4-2 0 1 0 1-4-1-3 5 5 3 1 2 1 0 2-1 0-2 0 0 3 0 0 1 1-3 1 5 1-4 1 0 2 3 1 0 1-3 1-1 2 4 0 1 2-5 0 2 3 3 1-4 1 4 1-2 1-1 4 2 1-4 4 5 1-5 1 3 3-1 3-2 1 4 1 1 0-3 0-2 1 3 1 2 0 0 1-1 1 1 0-2 3-2 2-1 1 0 2 1 0 4 0-1 2-2 1 2 0-3 1 3 3-1 0-2 0 0 0 2 2-2 1-1 0 0 0 4 4 1 0-1 1-3 1 3 5 1 2-1 2 1 2 0 0-3 1-2 0 2 1 1 1-2 0-1 1 1 0-1 0 4 3-3 2 3 1-4 0 1 2 2 3 0 0 1 2-1 0-2 1 4 1-3 0 3 1-2 1-3 1 5 0-3 1-1 1 1 0 1 3 2 1-3 4 1 0-3 1 2 0 3 0-4 2 3 1-4 1 0 6 0 3 4 1-4 0 1 1 1 0 3 0-1 1-4 0 0 2 5 1 0 0-3 0 0 1 1 2 1 0-2 3 2 2 0 0 0 0-3 1 3 0-3 0 2 2-3 1 5 1-4 1 0 2 0 2 0 2 1 1-1 0 3 2 1 4-5 1 0 2 4 0-1 3 0 0 2 0-5 1 4 1-3 1 2 0 0 1 0 2-2 0 4 4-2 0-3 1 1 1 2 0 0 1-3 1 1 3 4 1-1 3 0 0 1 0-1 4-4 0 0 1 0 2 0 0 1 3 1 3 0 0 0 1 3 0 0 5-2 1 0 0 0 1 2 0-3 0 3 3-2 0-3 0 4 1-1 1 0 2 0 5 0 1 0 0 1 3-4 0 5 0-1 1-2 6-1 1 3 0-2 0 0 1 3 1-5 0 3 3-3 70 4 8 1-66 1-7 0-5 1-4-1-1 0 0 1-1 1-5 3-1-5 0 3 0 0-1-1-1-1-1 1-1 1-2-3-1 5-2-1-2-1-1 0-3 1 0-1-4-2-2 2 0 2-4 0-2-3-1 2 0-1-2 2-1 0-1-2-1-2-2 2-1-2-2 4-4-1-3-2-1-1-1 0 0 0-1 1-3 0 0-1-3 4-1 0 0 0-1-4-2 3-1-4-4 1-2 3-3-2 0 1-3-1-1-1-2-1-2 5 0-3-1 1-1 0 0-1-2 3-1-5 0 0-1 2 0-1-1 0-2 1-1-2 0 5-7-2-2-3-1 4 0-3-3 1-2 0-2 0-1-2-1 5 0-2-4-3-2 0-1 1-1 2-1 0-2-3 0 0-1 1-1 3-2-2-1-1-1 2 0 0-2 1 0-3-1 0-2 1-1-1-2 2-1 1-1-3-1 2-2 2-1-1-1 0-1-1 0-2 0-1-3 3-1 1-2-4-3 4 0-3 0 4-1-2 0 1-1-2-1 2-1 1-1 0-1-4-2 2-1-3-1 3-2-3 0 2-1 1-1 0 0 0 0 0-1 0-1 2 0-4-2 2-3 0-3-3 0 0 0 3 0-2-1 2-1 0-2-1 0 2-1-3-3-1 0 2-2-1 0-1-1 0-2 3-3 1 0 1-2-2-1 0 0 1-1-2 0 0-3 0 0 3-1 0-1-1-2 0-1-1-2-3-1 1 0 1-2 1 0-3 0 5-1-5-1 0 0 2-2 0-2 1 0 0-1 0-2-2-2 4-1-4-1 1-1-1 0 2-6 0 0-2-1 4 0-4-1 1-7 3 10 5 3-2 0-1 0 2 6 2 2 0 0-5 2 2 0 1 1-3 1 3 1-3 0 4 0-1 0-3 0 5 1-5 1 3 0-3 2 5 6-4 6-1 1 0 0 1 2 3 0-4 0 1 0 0 3-1 2 5 3-3 0-1 0 4 1-4 0 2 6 2 3-1 2 1 0-2 1 0 2 2 2-1 2-4 0 5 3-5 0 1 0 1 1 0 0-2 2 2 2 1 0 2 3-2 1-2 3 3 2 0 1-1 0-1 2 1 1-3 2 0 1 0 2 3 1 0 1 1 1 1 1-3 1-1 0 4 1-1 0-2 4 0 0-2 4 0 0 4 3-2 1-1 1 1 1 2 2 0 1-3 9 3 1 1 2-4 1 2 1-2 0 3 1-2 2 2 0-4 0 4 2-2 1 0 1 3 1-1 0-4 2 1 0 2 1 0 2-3 1 5 1-4 3 4 2-3 0-1 1 2 1 1 0-1 2-3 1 2 1 3 4-5 3 1 2 3 2 0 1-3 0 1 5-1 3-1 2 4 0-1 1 0 1 0 1 1 2 1 0-3 4-1 0 2 3-3 0 5 1-5 1 0 0 1 1 2 0 1 1 0 0-1 3 0 0 2 2-1 3-4 3 4 3 0 4-3 3 3 1 1 3-5 0 3 6 0 3-2 2 0 2 0 5 1 7-2 23 2 8-1-7 7-27-1-7-1-3 0 0 0-5 4-15-1-2-1 0 0-2-1-1 4-3-4 0 2 0 1-1 1 0-4-1 4 0-1-1 0 0-3-1 2-1-2 0 3-3-1 0 2 0-5-1 2-2-1-2 4-2-3-1-1-1 3-3 0-2-2-1-1 0-1-2 1-4 1-3 2-1 0-2 1 0-2 0 0 0-1-1 1-1 2-2-5 0 0-1 5-1-1 0-4-1 1-1 1-2 2-4 1-2-5-3 5-2-5-1 5-1-4-1-1-1 0-2 2 0 3-1-1-3-1 0 2-1 0 0-5-1 4-1-3-1 3 0 0-1-1-1 1-3-2-3 0 0 3-7-5-2 0-1 2-1-2-5 2 0-2-1 5-2 0-2-5 0 3-4 0-1-3-3 1-2 3-2-3-2 4-3-1-1-4-1 2-1 0 0 2-6-1-1-2-1 3-2 1-1 0-1-5-1 2-1-2-4 5 0-1-3-2-1 1-5-3-2 4-1-1 0-2-2 3 0-1-1-2-1 2-5-1 0 3-1-5 0 5-1-1-1-4-1 2 0-2-1 4 0 0-3-4-2 3-1 0 0 1-4-2-2 2-1-3-1-1-5 5-1-4-1 0 0 3-1-4 0 2-3 1-2 0-1-3-3 2 6 8 10 0 2-3 3 4 1 0 2-2 1 2 14-4 1 1 2-1 1 2 2-2 1 2 2-1 2 3 1-3 2-2 2 1 3-1 1 0 2 0 5 1 0 0 1 3 3-1 3 1 1-4 2 1 1-1 1 2 1 1 0-2 1 1 1-1 2-1 0 4 2-4 0 3 0 0 1 2 3-4 5 4 7-4 2-1 0 2 3 1 5 2 0-4 4 2 1 0 1-3 3 5 0-4 2 4 6-2 1-3 3 4 2-2 0 0 3-2 3 2 1-2 1 3 0-3 3 2 9 1 0 2 1-2 2 0 5 0 3 2 5 0 3-3 3 1 0-1 6 2 1-1 1 0 1 1 1 0 1-4 2 1 1 3 7-3 5 1 5 1-16 5-5 3-12-5-1 3-6-1-1-2-1 0-1 3-9-3-5 0 0 4-6-3-6-1-2 5-17-5-19 2-6 3-2-3-6 3-2-2 0 0-1-1 0 1-8 2-2-3-2-2-5 4-8-3-5-1 0 3-15 1-10-1 41 4 18 2 2-3 3 2 19-2 7 1 35 0 63 0-76 7" fill="none" stroke="none" marker-start="url(#mk5)" marker-mid="url(#mk5)" marker-end="url(#mk5)"/>
<defs><marker id="mk6" markerUnits="userSpaceOnUse" markerWidth="2.80" markerHeight="2.80" viewBox="0 0 2.80 2.80" refX="1.40" refY="1.40" overflow="visible"><rect width="2.80" height="2.80" fill="#0808f4" fill-opacity="0.7"/></marker></defs>
<path transform="scale(0.25)" d="M367 707l-36 5 2-1 35-2 10 3 26 6-9-2-9 0-4 0-2 0 0 2-1-1-2 2-4-5-5 1 0 0-10 2-2-2-4 4-40 6 17 0 0-2 2-2 1 3 4 1 0-4 2 2 1 1 1 1 2-3 1 3 1 0 3-5 0 3 5 0 2 0 3 1 0-3 2 0 0 1 2 3 0-2 0 2 2 0 0-2 2-3 2 1 5 4 0-4 2 2 0 2 0-2 0 1 9 1 9-1 1-1 0 2 2 0 1-3 2 1 2-2 1 2 9 1 4 2-1 0-3 0-1 0-1 3-2-1 0 2-1-3-4 0-1 2-1-3-1 3-1-3-2 5-1 0 0-1-3-1-1-3-2 1-4-1-1 4-1-1-2-1 0 0 0 3-2 0-2 0 0-4 0 4-1-5-1 1-1 2-1-1 0 3-1-3-1 0-1-2-3 4 0-3-1 2 0-1-1 0 0 2-2 0-3-4-1 5 0-5-5 1-2 0 0 3-1-1-1 1 0 1 0-3 0 0-3 2-3 0 0-1-1-1-1 3-1-5 0 2-1 1-1-3-4 0-1 5-3-1-2 1-1 0-1-5-1 2 0 0-4-1-4 6 4 3 1-4 0 4 0-3 2 1 0 1 2 2 1-1 1-2 1-2 3 3 1 1 2-3 2 1 0-2 4 3 1-2 1 1 3 2 1 0 1-2 0 2 1 1 0-2 1-1 3-2 0 4 3-2 3-1 4-1 2 0 1 2 0-1 1 0 1 0 2 1 1-1 0 3 0-1 2-1 1 1 2 0 3 1 1 0 2 1 0-2 1 1 2-1 1-2 0-1 1 5 3-1 0 1 2-3 0-1 1 3 0-1 0-1 2-2 0 0 1 5 0 0 1-1 1 1 3-4 1-1 1 3 0 0 2 1 2-3 7 4 13 6-9-4-2 3-1-1-1 2 0-1-3 1-1-2 0 1-1 1 0 0-1-5 0 3-1-1-1 0-1 3 0-3-6 1-1 0-3-1 0 1-3 0-1 0-1 0-1 2 0-3-1-2-1 2 0 2-1 1-3-2-1 2 0-5-3 3-2 0 0-3-3 5 0-2-2-3 0 5 0-1-1 1-2 0-3-4-1 0 0 4-2-5-2 2 0 3 0-2-1-2 0 3-3-1-2-3-5 2-3-2-1 1-1 3-1-1 0-3 0 5 0-4-3 2-2 0-2 0-1 2 0-2-1 1 0-2-1 1-2-2-1 2 0-2 0 1-1 2 0-1 0 2-2-3-1 3-2-2-1 2 0-1 0-2-1 1-2 2-2-4-8 2 1 8 2-5 5 3 2 0 0-2 1-1 2 0 0 4 1-4 2 4 0-3 1 2 1 0 1-1 3 3 3 0 0-5 1 4 1 1 5-2 1-3 0 1 0 0 0 0 7 2 2-1 1 1 1 0 2 0 0 0 0 2 2-1 2-3 0 0 1 4 0 0 0-1 0-4 0 1 3 4 0-1 2-1 1-2 1 2 1 2 1-2 3-3 0 5 2-4 2 2 1-3 2 5 1-5 1 1 0-1 1 5 1-1 1 1 0-1 0 0 2-2 0 0 2 3 1-4 1 3 0 1 3 0 2-5 1 0 2 0 1 5 3-1 2-4 4 0 0 3 2 2 3 0 1-1 0 1 1-3 8-1-2 8-2-1-1 3-2-4-3-1-1 2-2 2-1-1-2-1 0-1 0 0-1-1-3 0-1 2 0 0-1 3-2-4-1 0-1 4-3 0 0 0-2-1-2-4 0 4-4-1 0 0-6-1-3 1 0 2-1-2 0-3-2 4-2 1 0-2-2 2 0 0-2-3 0 3-1-3 0-2-3 3 0-2-2-1 0 3 0 0 0-2-1 1 0 2 0-4 0 4-4-4-2 0 0 3-3 1 0 0 0-1-2-2-1 3-4-1-1-1 0 0-1 0-1 2 0 1-3-2 0 1-3 0 0 0-2 0 0-1-2 1 0 1 0-2-1-3 0 0-2 4 0-2 0 0-1 1-2 1-1 1-1-3 0-1 0 4 0 0-2-1-1-3 0 3 0 0 0-4-1 3 0 0-1-2 0 4-1-3 0-2-2 3-4-2-1 3 0-4-2 10 3-4 3 1 1 4 0-5 4 1 0 1 1 0 0-1 1 0 1-1 0 4 2-3 1 0 0 4 3-4 1 4 1-2 2 2 3 0 0-1 1-3 0 3 3 1 0-2 3-3 0 3 2-3 4 2 1 1 0 2 1-3 1-1 0-1 4 0 0 1 1-1 0 2 0 2 0-4 1 4 2 0 2-4 1 1 2 3 1-4 1 2 2-1 1 0 1-1 1 3 1 2 1-4 1 1 0 3 1-4 2 0 0-1 1 4 1 0 1-1 0-2 0-1 1 1 0 2 0-2 1 2 1-3 2 3 1-1 1 3 4 0 1-1 4 1 1-5 1 4 1-3 0 4 4-1 1 0 0-2 1 0 2 1 0-2 0 2 1-2 5 0 1 1 2 1 1-3 2 5 4-1-4 6-2-1-1-1-1 0-1 2-5-1-1 1 0-3-1 1-1 0-1 1-1-3-2 5-1-5-2 4-4 1-1-5 0 2-2 1 0 2-1-2 0 0 0-1 0-2-1 3-1-2-2 0-1 3-1-1-4 2-2-4-1 4-2-5-2 3-3-1 0-2-6 2 0-2 0 5-2-3 0-1-2 3 0 1 0-2-1 0-3 1 0-4-1 2-1 2 0-1-1 0 0 1 0 0 0 0 0 0-2-1-2-2-1 2-4 2 0-5-3 3-1 1 0-1-1-2-5-1 0 4-2 0-2 0-2 1-1 0-1 0 0-1-2-3-1 3 0 0-2-2 0-1-1 0-1 4-5-3-5-2-7 3 11 3 6 0 1 1 3 3 6-2 0-1 1 3 1-1 1 1 4-2 1 0 1-2 1 2 1-1 0 0 1 4 2-1 3-3 7 1 0-1 1 2 0-1 2-2 0 3 2-2 1 3 3-1 3-2 0 0 1 1 1-2 0 1 1-1 0 2 2 1 1 2 3-1 1-4 4 2 0 3 0-1 0 0 0-3 4-1 0 2 3 0 1 3 0 0 0-2 3 2 3-3 0 1 3-2 1-1 1 3 1-1 5 0 8-2 8 3-8 5-2-1-1-1-3 0 0 5-3-4-3 3-1-2-2 1-1 1 0-3 0 4-1-4 0 1 0 1-1 2-1 0-3-1 0-1 0-1-1-1-3 4-1 0-4-1-2-4-1 3 0-2 0 2 0-1-1-1 0 1-1-1 0 3 0 1-1-4-2 3 0-1-1-1-1-1-3 2-2 1-1-1-2 1 0-1 0 1-1-3-2 4-1-1-1 0-3 1-5-2-4 1-1 0-1-3-2 1-1 1 0-2-1 1-1-2 0 0-1 5 0-3-2 1 0-2-4 0-2 0-1 3 0-3-1 3-2-4-1 0 0 1 0 0-3-1-2 4-4-2-6-2 7 10 9-3 0-1 1 3 0 1 1-1 3-3 3 3 5-3 0 4 0-2 1 2 0-4 1 2 1 3 3-5 2 1 1 3 1 1 2 0 3-3 0 0 1 0 0-1 2-1 0 0 0 4 1-3 0 3 1-1 1-1 0-1 4 2 1 2 0-2 1 0 0-1 0 0 2 3 1 0 1-2 4 0 1-2 0 1 0 0 0 2 4-2 0 0 2-2 0 2 1-2 1 4 0-3 2 1 1 2 0-2 1 0 1-1 2-1 2 2 0 0 2 2 1-3 0 0 2 2 4-3 0 3 1 1 1-4-7 7-2 1-3 1-1-1-1-1-2 1-1-2-1 0 0 2-5-2-1 5-1-4 0-1 0 1-2 4-1-4-1 2-4-3-3 4-2 1-6-3-1 3-2-1-1-2-3-1-1-1-3 0-5 0-1 1-4 0-11-1 5 8 7-2 10 0 1 2 1-2 10 0 1 3 4-2 2 2 4 2 6-3 2-1 3-1-18 9" fill="none" stroke="none" marker-start="url(#mk6)" marker-mid="url(#mk6)" marker-end="url(#mk6)"/>
<ellipse cx="86.00" cy="188.50" rx="17.00" ry="7.00" fill="#0a0aff" fill-opacity="0.25" filter="url(#bl0)"/>
<line x1="73.70" y1="137.20" x2="73.70" y2="231.20" stroke="#606060" stroke-width="1.0"/>
<rect x="43.85" y="137.20" width="93.95" height="94.00" fill="none" stroke="#1e1e1e" stroke-width="1.3"/>
<line x1="41.25" y1="231.20" x2="43.85" y2="231.20" stroke="#231f20" stroke-width="0.8"/>
<text x="37.05" y="234.00" font-size="7.5" text-anchor="end" fill="#231f20" color="#231f20" font-weight="normal" >0</text>
<line x1="42.25" y1="227.61" x2="43.85" y2="227.61" stroke="#231f20" stroke-width="0.8"/>
<line x1="42.25" y1="224.03" x2="43.85" y2="224.03" stroke="#231f20" stroke-width="0.8"/>
<line x1="42.25" y1="220.44" x2="43.85" y2="220.44" stroke="#231f20" stroke-width="0.8"/>
<line x1="42.25" y1="216.86" x2="43.85" y2="216.86" stroke="#231f20" stroke-width="0.8"/>
<line x1="41.25" y1="213.27" x2="43.85" y2="213.27" stroke="#231f20" stroke-width="0.8"/>
<text x="37.05" y="216.07" font-size="7.5" text-anchor="end" fill="#231f20" color="#231f20" font-weight="normal" >50K</text>
<line x1="42.25" y1="209.69" x2="43.85" y2="209.69" stroke="#231f20" stroke-width="0.8"/>
<line x1="42.25" y1="206.10" x2="43.85" y2="206.10" stroke="#231f20" stroke-width="0.8"/>
<line x1="42.25" y1="202.51" x2="43.85" y2="202.51" stroke="#231f20" stroke-width="0.8"/>
<line x1="42.25" y1="198.93" x2="43.85" y2="198.93" stroke="#231f20" stroke-width="0.8"/>
<line x1="41.25" y1="195.34" x2="43.85" y2="195.34" stroke="#231f20" stroke-width="0.8"/>
<text x="37.05" y="198.14" font-size="7.5" text-anchor="end" fill="#231f20" color="#231f20" font-weight="normal" >100K</text>
<line x1="42.25" y1="191.76" x2="43.85" y2="191.76" stroke="#231f20" stroke-width="0.8"/>
<line x1="42.25" y1="188.17" x2="43.85" y2="188.17" stroke="#231f20" stroke-width="0.8"/>
<line x1="42.25" y1="184.58" x2="43.85" y2="184.58" stroke="#231f20" stroke-width="0.8"/>
<line x1="42.25" y1="181.00" x2="43.85" y2="181.00" stroke="#231f20" stroke-width="0.8"/>
<line x1="41.25" y1="177.41" x2="43.85" y2="177.41" stroke="#231f20" stroke-width="0.8"/>
<text x="37.05" y="180.21" font-size="7.5" text-anchor="end" fill="#231f20" color="#231f20" font-weight="normal" >150K</text>
<line x1="42.25" y1="173.83" x2="43.85" y2="173.83" stroke="#231f20" stroke-width="0.8"/>
<line x1="42.25" y1="170.24" x2="43.85" y2="170.24" stroke="#231f20" stroke-width="0.8"/>
<line x1="42.25" y1="166.66" x2="43.85" y2="166.66" stroke="#231f20" stroke-width="0.8"/>
<line x1="42.25" y1="163.07" x2="43.85" y2="163.07" stroke="#231f20" stroke-width="0.8"/>
<line x1="41.25" y1="159.48" x2="43.85" y2="159.48" stroke="#231f20" stroke-width="0.8"/>
<text x="37.05" y="162.28" font-size="7.5" text-anchor="end" fill="#231f20" color="#231f20" font-weight="normal" >200K</text>
<line x1="42.25" y1="155.90" x2="43.85" y2="155.90" stroke="#231f20" stroke-width="0.8"/>
<line x1="42.25" y1="152.31" x2="43.85" y2="152.31" stroke="#231f20" stroke-width="0.8"/>
<line x1="42.25" y1="148.73" x2="43.85" y2="148.73" stroke="#231f20" stroke-width="0.8"/>
<line x1="42.25" y1="145.14" x2="43.85" y2="145.14" stroke="#231f20" stroke-width="0.8"/>
<line x1="41.25" y1="141.55" x2="43.85" y2="141.55" stroke="#231f20" stroke-width="0.8"/>
<text x="37.05" y="144.35" font-size="7.5" text-anchor="end" fill="#231f20" color="#231f20" font-weight="normal" >250K</text>
<line x1="42.25" y1="137.97" x2="43.85" y2="137.97" stroke="#231f20" stroke-width="0.8"/>
<text transform="translate(13.55,184.20) rotate(-90) scale(0.62,1)" font-size="9.5" text-anchor="middle" fill="#231f20" color="#231f20">FSC-H</text>
<line x1="53.81" y1="231.20" x2="53.81" y2="233.80" stroke="#231f20" stroke-width="0.8"/>
<text x="53.81" y="243.60" font-size="7.5" text-anchor="middle" fill="#231f20" color="#231f20" font-weight="normal" >0</text>
<line x1="87.54" y1="231.20" x2="87.54" y2="233.80" stroke="#231f20" stroke-width="0.8"/>
<text x="85.64" y="243.60" font-size="7.5" text-anchor="middle" fill="#231f20" color="#231f20" font-weight="normal" >10</text>
<text x="89.94" y="240.20" font-size="5.0" text-anchor="start" fill="#231f20" color="#231f20" font-weight="normal" >3</text>
<line x1="108.68" y1="231.20" x2="108.68" y2="233.80" stroke="#231f20" stroke-width="0.8"/>
<text x="106.78" y="243.60" font-size="7.5" text-anchor="middle" fill="#231f20" color="#231f20" font-weight="normal" >10</text>
<text x="111.08" y="240.20" font-size="5.0" text-anchor="start" fill="#231f20" color="#231f20" font-weight="normal" >4</text>
<line x1="129.63" y1="231.20" x2="129.63" y2="233.80" stroke="#231f20" stroke-width="0.8"/>
<text x="127.73" y="243.60" font-size="7.5" text-anchor="middle" fill="#231f20" color="#231f20" font-weight="normal" >10</text>
<text x="132.03" y="240.20" font-size="5.0" text-anchor="start" fill="#231f20" color="#231f20" font-weight="normal" >5</text>
<line x1="93.90" y1="231.20" x2="93.90" y2="232.70" stroke="#231f20" stroke-width="0.6"/>
<line x1="97.62" y1="231.20" x2="97.62" y2="232.70" stroke="#231f20" stroke-width="0.6"/>
<line x1="100.26" y1="231.20" x2="100.26" y2="232.70" stroke="#231f20" stroke-width="0.6"/>
<line x1="102.31" y1="231.20" x2="102.31" y2="232.70" stroke="#231f20" stroke-width="0.6"/>
<line x1="103.99" y1="231.20" x2="103.99" y2="232.70" stroke="#231f20" stroke-width="0.6"/>
<line x1="105.40" y1="231.20" x2="105.40" y2="232.70" stroke="#231f20" stroke-width="0.6"/>
<line x1="106.63" y1="231.20" x2="106.63" y2="232.70" stroke="#231f20" stroke-width="0.6"/>
<line x1="107.71" y1="231.20" x2="107.71" y2="232.70" stroke="#231f20" stroke-width="0.6"/>
<line x1="72.76" y1="231.20" x2="72.76" y2="232.70" stroke="#231f20" stroke-width="0.6"/>
<line x1="76.48" y1="231.20" x2="76.48" y2="232.70" stroke="#231f20" stroke-width="0.6"/>
<line x1="79.12" y1="231.20" x2="79.12" y2="232.70" stroke="#231f20" stroke-width="0.6"/>
<line x1="81.17" y1="231.20" x2="81.17" y2="232.70" stroke="#231f20" stroke-width="0.6"/>
<line x1="82.85" y1="231.20" x2="82.85" y2="232.70" stroke="#231f20" stroke-width="0.6"/>
<line x1="84.26" y1="231.20" x2="84.26" y2="232.70" stroke="#231f20" stroke-width="0.6"/>
<line x1="85.49" y1="231.20" x2="85.49" y2="232.70" stroke="#231f20" stroke-width="0.6"/>
<line x1="86.57" y1="231.20" x2="86.57" y2="232.70" stroke="#231f20" stroke-width="0.6"/>
<line x1="115.04" y1="231.20" x2="115.04" y2="232.70" stroke="#231f20" stroke-width="0.6"/>
<line x1="118.76" y1="231.20" x2="118.76" y2="232.70" stroke="#231f20" stroke-width="0.6"/>
<line x1="121.40" y1="231.20" x2="121.40" y2="232.70" stroke="#231f20" stroke-width="0.6"/>
<line x1="123.45" y1="231.20" x2="123.45" y2="232.70" stroke="#231f20" stroke-width="0.6"/>
<line x1="125.12" y1="231.20" x2="125.12" y2="232.70" stroke="#231f20" stroke-width="0.6"/>
<line x1="126.54" y1="231.20" x2="126.54" y2="232.70" stroke="#231f20" stroke-width="0.6"/>
<line x1="127.77" y1="231.20" x2="127.77" y2="232.70" stroke="#231f20" stroke-width="0.6"/>
<line x1="128.85" y1="231.20" x2="128.85" y2="232.70" stroke="#231f20" stroke-width="0.6"/>
<line x1="135.99" y1="231.20" x2="135.99" y2="232.70" stroke="#231f20" stroke-width="0.6"/>
<line x1="44.88" y1="231.20" x2="44.88" y2="232.80" stroke="#231f20" stroke-width="0.55"/>
<line x1="46.25" y1="231.20" x2="46.25" y2="232.80" stroke="#231f20" stroke-width="0.55"/>
<line x1="47.61" y1="231.20" x2="47.61" y2="232.80" stroke="#231f20" stroke-width="0.55"/>
<line x1="48.97" y1="231.20" x2="48.97" y2="232.80" stroke="#231f20" stroke-width="0.55"/>
<line x1="50.33" y1="231.20" x2="50.33" y2="232.80" stroke="#231f20" stroke-width="0.55"/>
<line x1="51.69" y1="231.20" x2="51.69" y2="232.80" stroke="#231f20" stroke-width="0.55"/>
<line x1="53.06" y1="231.20" x2="53.06" y2="232.80" stroke="#231f20" stroke-width="0.55"/>
<line x1="54.42" y1="231.20" x2="54.42" y2="232.80" stroke="#231f20" stroke-width="0.55"/>
<line x1="55.78" y1="231.20" x2="55.78" y2="232.80" stroke="#231f20" stroke-width="0.55"/>
<line x1="57.14" y1="231.20" x2="57.14" y2="232.80" stroke="#231f20" stroke-width="0.55"/>
<line x1="58.51" y1="231.20" x2="58.51" y2="232.80" stroke="#231f20" stroke-width="0.55"/>
<line x1="59.87" y1="231.20" x2="59.87" y2="232.80" stroke="#231f20" stroke-width="0.55"/>
<line x1="61.23" y1="231.20" x2="61.23" y2="232.80" stroke="#231f20" stroke-width="0.55"/>
<line x1="62.59" y1="231.20" x2="62.59" y2="232.80" stroke="#231f20" stroke-width="0.55"/>
<text transform="translate(90.83,252.00) scale(0.72,1)" font-size="9" text-anchor="middle" fill="#231f20" color="#231f20" font-weight="normal" >Siglec-7L</text>
<text x="104.00" y="160.00" font-size="8.4" text-anchor="middle" fill="#231f20" color="#231f20" font-weight="normal" >84%</text>
<path transform="scale(0.25)" d="M920 701l2-5 34 2-18 8-54 1 10 3 8-1 1 0 9 2 16 1 138 6-140 0-19 1-18-5-10 0-1 3-22-2 23 10 18-3 7 0 19-1 17-1 22 2 82 9-81-1-3 1-1 0-3 0-16-4-14 0-6 2-2-1-1-2-8 3-10 0-9-1-9-1-10 0-20 7 11 3 4 0 28-4 5 3 6-1 2-1 18 3 5-4 7 3 1-1 6 2 6-3 3 2 43-1 26 3-66 0-2 1-9 1-13-2-8 1-4-1-4 5-3-5-1 0-6 0-5 3 0-1-6 2-28 1-3-5-22 2 17 5 3 0 18 2 8 2 0 0 1-4 28 4 19-1 8-2 9 2 13-4 105 8-86 3-12 0-14-3-1-2-6 3-7 2-5-3-8 0-3-2-4 5-8-3-5 2-7 0-6 0-2 0-6 1-5-4-1 2-9-2-10 4-10-5 22 6 9 1 12 2 7 1 39-1 10 0 5 2 1 0 2-3 4 6-16 3-4 0-7-4-5 0-11 3-1-2-10 1-14 1-9-1-8 0-14 0-8-3 0 7 6 4 24-1 1 1 9-1 1 0 1 1 13-4 2 4 26-3 1-2 5 0 1 5 4-3 24 1-1 7-19-4-9 4-4-1-6-2-3 1-7-2-15 5-3-3-3 3-13-4-1 2-1-2-11 4-11-5-6 4-2 0 13 6 0-3 8 2 4 2 22-1 1-1 2-2 25 3 6-3 23 2 118-2-104 6-36 3 0 1-17-5-11 0-11 5-6-1-1-1-33-1-3 2 28 4 5 0 3 1 10 0 12 2 1-1 8-2 21-1 92 1-91 5-18 1-17 1-10 2-35-2-26-3 41 8 2 2 2 0 13 0 4-1 6-3 0 0 22 3 6 1 0-4 9 0 4 5 6 0-58 1-15 5-19-4-17-1 18 11 24-4 41 8" fill="none" stroke="none" marker-start="url(#mk0)" marker-mid="url(#mk0)" marker-end="url(#mk0)"/>
<path transform="scale(0.25)" d="M1009 701l6-1-13 6-54-2 12 9 10-4 18 3 1 0 3 1 13-2 0 0 22 0 23 5-7 3-14-2-8 2-4-5-4 3-1-2-18-1-13 4 0 1-1-4-2-1-1 4-4-2-10 2-9 1-22 1 15 1 4-1 6 4 9 0 4-2 1-2 2 2 1 2 3-3 4 4 1-4 1 2 1-1 21-2 2 1 2 1 1 2 6-1 9-1 10 0 32 7-10-3-4 3-19 2-4 0-2-4 0 2-10 2-2-1-2-3-3 2 0 0-4-3 0 3-1 1-9-3-4 1-1-2-3 3-7 1-3 0-1-1-5 2-1 0-1-2-4-3 0 2-5 0-2 2-1 0-4 0-1-2-1-1 0 3 0-2-22-1-5 2 13 4 17 1 2 3 2 0 0-3 4-1 2-1 1 0 3 0 1 4 1 0 0-4 2 1 1 1 0 2 1-1 8-3 1 3 6-1 1-1 1 2 2-3 1 1 3 2 5 1 7-1 1-1 7 3 1-2 4-2 1 2 6 1 0-4 2 0 1 3 1 0 5 1 2-2 17-1 3 10-6-1-2-1-8-1-5-1-2 0-1 1 0 0-6 3-1-3-3 2-1-4-2 4-1-4-1 4-3-2-1 3-1-4 0 4-1 0-3-1-1-2-2 3-1-1-1 1-3-3 0 1-2-3-4 0-1 1-3 0-4 1-2-1-1 1-3-2-3 0-3 5-1-4-1 3-3-1-8-2 0-1-2 1-1-1-6 5-4 0 0 0 0-5-1 3-5 0-3-2-2 4-2-2-1 2-3-4-6 0-4 6 0 3 2-1 1 0 5-1 0-2 1 4 14-1 1 0 4-2 2 1 0 1 0-3 5 1 0-1 2 2 6 1 0 0 1 1 0-3 1-1 5 3 0-1 1-1 11 4 2-5 1 0 1 2 2 1 2-3 1 4 1-4 0 4 2 1 1 0 2-4 1 3 5 0 1 0 1-2 0-2 1 2 0 1 4-1 3 0 1 1 0 0 0-2 0 2 1-1 1-1 1 1 0 2 1 1 0-4 10-1 3 3 1 1 7 1 1-5 0 0 6 5 2-3 1 1 1-3 2 0 3 1 1-1-13 8-5 3-2 0-11-1 0-1-3 1-2-1-1-3-1 1-2 3-3 1-4-3-1 0-3-1 0 1-1-2 0 2-2-1-1 2 0 0 0 1-8-2 0 2-3-3 0-1-5 5-2-3 0-2-2 1-2 2 0 0-1 2-2 0-2 0-1-2 0 1-4-4-2 2-2-2-3 0-2 1-5 4 0-1-3 1-2-5-2 5-3-3-1-1-2-1-4 4-2-2-1-1-4-1-4 5-4-1-17 2 10 0 14 2 4 1 0-2 0-1 2 2 2 3 3 0 4-3 3-1 5 1 0 3 2 0 3-4 1-1 8 4 1-1 0-3 8 1 0-1 4 3 0 1 1-1 4-2 0-1 2 5 1-4 1 4 3 0 4 0 3-1 0-2 1 3 0-3 2-1 2 1 2 0 3-2 1 0 1 3 1-2 3 2 3-3 1 4 1-1 0 1 2-4 1 1 2 2 0 0 6-1 3 1 1 1 1-2 1-1 1 3 1-4 1 0 2 6-5 3-2 2-1-1-3 0-4-1-2 2-3-4-1 2 0 2-1-4-1 4 0-2-3 1-5 1 0-2-3 0-1-3-1 4 0-2-1 3-3-2-6 2-4-4-4 2-1-2-1 1-1 1-1 0 0-3-1 3-2-1-1-1-3 0-3 4-4-2-3 2-1-3-1 0-1 3 0-2-1 0-3 1-1-4-5 2-3 3-5-4 0 2-2 1-3-3-3 3 0-3-2 3 0-3-2 0 0-1-1 1-3 3 0-1 0-3-7 0 0 5-7-4-3 3 11 4 2 3 3-1 4-1 4 2 4-3 0-1 1 4 7-4 0 1 3 1 2 0 1-1 1 0 3 1 2 0 3-1 1 3 0-2 2-3 0 4 1 1 3-5 2 2 4 3 3-1 0 0 0-3 2 0 0 2 0-2 0 2 2-2 1 2 2-3 2 5 0-5 0 0 2 3 2 1 4-1 0-3 3 4 5 1 1 0 0-4 0 0 3 4 5-5 1 5 1-3 0-1 3 4 1-4 4-1 1 5 1 0 0-4 2 4 6-2 1-3 3 0 2 1 1 1 3 1 4 0 1 1 3-2 4-1-6 6-1 4-1-4 0 3-2-4-6 3-3-2-11 1 0 0 0 1-5-2 0 2-1-3-1 2-4-1-8-1-2 2-2-2 0 0-5 5-1-2-2 1-5-4-7 2-4 2-4 0-1 1-4-2-2-1 0 3 0-4-2 3-1-3-1 3-9 0-1-4-3 2-1 3-4-2-2 1-2-3 0 1-6-1 0 3-12-3-4 3 1 5 3 0 5-1 11 1 3-1 2 2 1 1 2 0 0-3 0 0 3 3 1-2 1 0 3-2 0 2 1 2 6 0 3-5 4 5 0-2 7-3 1 3 3-2 1-1 1 0 2 1 0 1 1 0 2 1 3 1 3-1 5-2 6 2 2 1 4-3 6 1 3 1 1 2 1 0 1-2 5 0 1-1 2-2 11 2-2 7 0-3 0 2-8-1-2-1-5 4-6-3-2 2-8-2-4-1-8 3-2 1-2-2-1 0 0-2-3 0-1 3-3-2-5 1-4 0-4-1-3 2-2-2-1 3-4 0-1 1-5 0-5 0-3-4-10 0-2-1-3 0-6 4-18 1-2 0 21 6 1 0 12-5 0 3 6 2 22-1 1 1 3-1 0 1 1-1 1-2 1-2 1 1 0 2 1-3 2 5 1-2 2 0 11 0 15 1 8-1 4-2 2 1 12-2 8 1-36 8-2-1-12-1-1-1-2 3 0 0-5-2-3-1-8 4-1-3 0 4-5-3-4 3-3-1-30 1-5-2 37 7 17 0 3-4 2 3 0-2 4-1 52 7-1 4-28-4-5 0-16 1-15-1 56 7" fill="none" stroke="none" marker-start="url(#mk0)" marker-mid="url(#mk0)" marker-end="url(#mk0)"/>
<defs><filter id="bl1" x="-50%" y="-50%" width="200%" height="200%"><feGaussianBlur stdDeviation="2.2"/></filter></defs>
<ellipse cx="194.30" cy="189.00" rx="10.00" ry="8.00" fill="#505050" fill-opacity="0.75" filter="url(#bl1)"/>
<defs><marker id="mk7" markerUnits="userSpaceOnUse" markerWidth="2.80" markerHeight="2.80" viewBox="0 0 2.80 2.80" refX="1.40" refY="1.40" overflow="visible"><rect width="2.80" height="2.80" fill="#262626" fill-opacity="0.5"/></marker></defs>
<path transform="scale(0.25)" d="M771 692l4 5 7 4 33 4-26 2 0-5-1 3-11-1-3 0-6 2-26 6 16-1 3 2 1-2 1 2 1 0 1-2 0 2 6-1 1 0 7-1 0-3 1 0 1 2 6-1 1 0 4 2 0-3 13 1 2 3 3 2-3 0-3 0-3 2-1 3-6-2-4-3-1 0-3 5-4 0 0 0-6-3 0 0-2 2-1 0-4-1 0 1-1-3-1 3-1-1-1-1 0 3-2-3-2-2-2 3-1 0-10-2 0 1-5 3-1-2-9 5 5-2 1 2 1 0 0 0 3-1 1 0 0 4 1-1 1 1 1-3 7-1 1-1 0 3 0-1 1 1 1-1 2 1 1 2 1-3 1 1 0 1 0-3 2 0 1 2 4-2 2 4 2-2 0-1 0 3 1-5 1 4 1-3 0 4 0 0 4-5 1 3 0-2 1 3 0-4 1 0 0 1 0-1 0 4 0 0 1-1 1 0 1 2 0-3 0-1 1-1 1 0 1 3 1-1 0 0 2 0 1-1 1 0 2 4 0 0 1-2 3-3 1 3 1 0 1-2 0 2 0 2 2-4 1 3 5 0 1 1 4-1 1-4 12 11-5 0-5 0-1 0-2-4 0 4-1-1 0-4-2 4-1-3-1 2-1-3-1 2 0 1 0-2 0 4-2-5-1 4 0-3 0 4 0-1-1 0 0-4-1 4 0-1-2 0-1-1 0-2 0 0-5 1-1 3-1-3-2 2-1-1-1 1 0-2-1 0-1 1 0 2-2-4 0 1 0 4-1-4-2 0-4-1-2 1-1 3-1-4-1 0-1 3 0-3-3 1-3 4 0-1-1-2 0-2-4 2 0 2 0 0-2 0-1 1 0-2-1-2 0 2-3 2-1-1-1-4-1 1 0 2-1 1-1-4-1 2-1 0-2 1-4 2 0-3-7-1-1 3-1-2-8 5 5 2 2 2 2-3 0 2 5-4 3 4 2-4 0 2 1 1 0 2 0 0 1-3 0 3 1-5 0 1 1 2 1-2 1 4 1-5 2 3 2-1 3-1 2 2 0-1 0 0 1 1 3 0 1 2 1-1 2-2 1 3 0 0 1-1 1-2 0 0 1-1 0 1 1-2 1 2 1 0 1 3 2-2 0 0 0 0 1-1 1-1 1 0 0 2 1-1 0 2 1-1 1-3 0 4 1-2 1 2 1-3 0-1 2 0 0 4 0 0 1-4 1 0 2 4 1-1 1-1 0-2 1 4 1 1 1 0 1-1 0 1 2 0 0-5 2 0 0 4 0-4 3 4 0 1 1 0 1-5 1 2 0-1 0 3 2-3 1-1 2 3 1-1 1 0 0 3 1-2 0-1 1 2 2 0 12-2 0 9-4-4-1 4-4-5-1 1-1 3-7-1 0-2-2 4-3-3-1 3-2-4-3 1-4 1-1 1-2-3-1 0-2 1 0 0-1-1-3 0-2 1-2 3 0 0-2-4 0-1-1 4 0 0 0-2 0 2-1-3-1-1-2 2-2 0 0 2-4 0-1-1 0 0-3 1-4-2-3-1 0-1-2 2 0 3 0-4-9 2-1 0-1-3-2 5-2-5 0 3 0-3-1 2-1 0 0 3-3-4-1 0-1 4 0-4-2 1-1 1 0 1-2 1-2-1-3-3-3 7 3 0 1 3 1-2 1 1 1 1 1-5 2 1 0-1 2 2 1-1 1 0 1 1 2 2 0-2 0 2 0 1 2-3 1 2 0-3 1 4 0-1 1-4 0 3 2 0 0 2 1-5 1 2 1 0 0 1 2-1 0 1 4 0 1-3 0 0 0 5 2 0 0 0 5-5 2 2 0-1 2 1 2 3 3 0 2-3 0 3 2-4 2 4 1-4 0-1 0 0 1 4 0 1 0-2 1 1 1-4 1 1 1 4 0-4 2 1 1 2 1 0 0-2 0 3 1-5 0 2 1 3 0-2 1-2 0 3 1-1 1 2 2-5 3 3 3 1 0-4 1 1 0 1 2 0 1-1 0 1 0 3 3-1 2 0 1-1 0-1 2-1 2 0 3 2 2-3 1 0 2 4 0-3 7 4 1-4-1 10 0-3-1 0-4-2-2 5-2-4 0 4 0-3-1 2-1-2 0 2-1-1-1 0-1 2 0-4-3 2-6-3-2 3-1-1-1 2 0-2 0-2-3 2 0-1-1 1-1-1 0 0 0 2 0-1-1 3 0-4-1 1-1-1-1 0 0 1 0 3-1-2 0-1 0-2-1 5-3-2-2 2-1-3-1 2 0-3-1 2 0-2 0-1-1 2 0-2-3 4-2 1-2-4-1 0 0 1-1-2 0 3 0-3-1 1-1 1-1-1-1 4-1-5 0 4-2 0-4 0 0 0 0-3-1 3 0 0-1 0-1 0-1 0-1 0-2 0 0-3-1 2 0-1-1-1 0-1-3 2 0-1-1 4 0 0-3-4 0-1-1 0-1 1-1 3-1-2 0 3 0-5-1 2 0 2-1-3 0 2 0 1-3-4 0 5-1-5-1 3 0 0-1 2 0-3 0 3 0-3-2 1 0-2-2 0-1 2-1 1-2-1 1 3 2 4 0-4 1 4 0-3 3 4 0-2 1-2 0 0 0-1 3 1 1 1 1 2 1 0 1-2 0-2 3 2 2 0 0-2 1 5 4-4 0 4 2-1 1 1 1-3 0 2 1 0 0-4 1 5 5-2 1-2 0-1 1 5 1-1 0-4 3 5 2 0 0-3 0 1 2-1 2-2 1 3 0 2 0 0 1-1 0-2 2 0 1 1 0-2 0-1 1 0 0 5 2 0 1-4 4 2 0-2 1 1 0 0 2 3 0-3 0 0 0 2 1-2 4 2 0-2 0-2 1 0 2 5 0-5 2 3 0-2 7-1 1 2 2 0 1 0 0 2 1-2 3-1 1 4 1-2 0 0 1-2 1 3 1-3 0 3 7-3 4 4 4 5-8-3-4 3-2-2-2 0-1 3-3 0-2 0-2-2 0 1 0 1-2-5-1 4-1-2 0-1 0 3-1 0-1 1 0-3 0 0-2 1 0-2 0 1 0-2-1 0-1 1 0 2-1 0 0 0 0-1 0 0-1 3-1 0 0-1-1-4-2 1 0 4-2 0-1-2-1-2 0 4-2 0-2-4-2 3-1-3-1 2-2-1-1-2 0 5-2 0 0-1-1-1-1 2-1 0 0-4-1 1-1 2-2-3 0 3 0 0 0-1 0-1-2-1 0 1-1 1-1 2 0-2-1 2 0-5-2 2-2-1 0 0-1 4-1-3-1 0-4-1 0 0-3 2 0-2-1 1-1 2-1-3-1 4 0 0 0-2-1-3 0 0-1 2-2 3-1-2-1-2 0 3-1 0-1 1 0-3-2 0 0 3-2-4-1 0 0 3-1-4 0 5-6-5-4 1-3 2 2 4 2 3 2-3 3 3 1-4 0 4 4-3 1 0 0 0 2 1 0 2 1-1 0-2 2 0 1 3 2-3 1 3 0-3 1 2 0 0 0-2 1-1 0 4 0-2 2-1 0 1 1-1 0 0 3 0 0-1 0 1 2 1 0 3 1 0 2-1 0-1 1-2 0 2 1 1 0-2 4 3 0-1 1-2 0-2 0 1 3 3 0 1 1-1 1 1 0-5 1 4 1 0 0-3 3 1 1 0 0 2 1-2 1 3 2 0 2 0 1-1 1 0 0-4 1 1 0-1 0 1 1 2 0-1 1 0 1 0 2 1 2 2 0 0 2-3 0-1 1 2 1-3 0 2 2 3 2-2 2 1 0 0 2-3 1-1 0 1 2 3 2-1 4-2 1 1 2-2 0 1 1 1 0-1 1 0 0 1 1 0 1-1 2 1 1-1 1 3 1-4-3 8 0 3-1-3-2 3-2-1-1-1 0-1-2 2-1-3 0 4-1-2-1-2-1 0 0 4 0-1-1-3-3 2-1 0-2 2 0-3-1 3-1-3 0 1-1-2-2 2-3-2 0-1 0 4-2 1 0-5-1 1-1 4 0 0-1 0 0 0-2-4 0 2-2-3 0 2-1 3-1 0 0-1-2-3 0 1-3-1 0 4-1 0 0 0-1-2 0 1-1-4 0 1-1 4 0-1-2-2 0 0-1 3-1-4-1 0 0 4-3-3 0 1-1 2-1-3 0 0-1 2-2 1-1-2-1 2-2-2 0 2-1-1 0 1-4-5-1 1-1-1-1 1-1-1-4 1-2 4-1-3 0 2-1-1-2 2 0-5-1 1 0 1-1-1-1 1 0 2 0 0-2-3-1 0-3 2-1-2-1 2-1-2-1-1 0 2-5 8 8 1 3-4 2 4 0 0 2-5 1 4 3 0 2-4 1 4 1 1 1-2 1-3 0 2 1 0 0 2 3-1 1-1 1 0 1-1 1 3 1 1 0-1 0-2 1 3 2-1 3-3 1 0 0-1 1 5 0 0 1-2 1-2 1 2 0 1 1-1 2-3 1 4 1 0 1 0 0-4 3 4 1-4 2 0 0 5 1-5 1 0 1 3 2 1 0-1 1 0 1-1 0 3 0-4 0 0 1 4 2-2 0-2 0 3 1 1 0-5 1 2 1 0 1 2 1-1 1 2 1 0 1-3 0 2 1-1 0-3 2 5 1 0 1-1 0-1 4 1 1 0 2-2 2 3 0-3 1 0 2-2 3 2 0-2 3 5 2-2 0 3-6 3-9 2-2-1-1-3-2 0-5 0 0 2-2 0 0 0-1-2-2 2-3 2-3-5 0 5-2-4 0 1 0-2-2 0-1 5-1-5-1 5-1 0 0-5 0 0 0 1 0 2-2 1-1-1 0 0-1-3 0 4-6-2-2 3 0 0-3 0 0-4-1 0 0 4-1-4-3 0-1 1-3 0 0-2-1 5-1-2-2-2 0 4-5-3 0 1 0 2-1-5-3 5-6-4-6 0 8 7 0-1 5-1 1 0 3 2 3 2 1-4 0 3 0 2 2-5 2 1 9 1 0-1 0 0 1-1 1 5 1-5 0 5 1-1 0-3 3 0 0 4 0-5 1 1 0 4 1-4 1 4 2-4 2 1 1 2 0-2 2 0 3 3 0-5 2 2 0 0 3-2 3 2 0 0 1 3 5 0 0-5 2 5 1-4 1 1 0 1 1 1 0-3 2 4 7-3 0-2-20 8-3 1 0-3-1 1-4-1-2 1 0 0-1 2-2-3-1 1-1 1-3-1-6 0 0 3-4-1 0 2-3-5-2 0-1 4-3 1-1-5-1 4-2-1-2-2-3 3-11-4 27 10 0-1 3-3 9 2 5-2 9 1 5-1 10 2-5 4" fill="none" stroke="none" marker-start="url(#mk7)" marker-mid="url(#mk7)" marker-end="url(#mk7)"/>
<path transform="scale(0.25)" d="M928 692l2 4 0 9-14 1-10 1-1 4 4 0 5-1 20 1 11 2 8-2 115 8-134 0-5-4-2 1-2-1-1 0-6-1-4 0-19 1-4 3-9-3-6 1-5 4 1 2 13 0 1-2 6 2 9-2 2 1 10 4 6-1 12 1 9 0 13 0 6 0 5-2 99 1 20 1-36 5-80-2-3-2-5 4-3 1-4-3-7 3-3 0-1-3-1 0-1 2-8-1-2-1 0-1-1 0-3 3-1-3-4 1-5 1-1-1-1 3 0-4-2 3-9-4-1 3-6-3-5 5 0-1-1 1-8 0-1-2-9 1-3-1-2 0-3 2-8 5 4 1 4-1 1-1 16 1 8-4 3 5 1-2 1-3 4 5 0 0 22-3 2 0 6-2 3 5 7-1 1-4 3 5 3-5 18 2 0-2 2 2 0 2 4 0 88-2-2 6-6 2-75-2-3-2-11 0-1 4-1 0-9-3-2 3-3 0-7 1-3-5-1 1-3 1-1-1-1 4-5-2-8 0 0 2-1-4-3 1-5 2 0-1-5 2-1 0-4-1-4 1-3-5 0 4-2-4-2 5-1-4-2 3-15-1-3-1-4-2-7 0-8 10 9 1 0-3 5-2 1 5 5-3 5 2 1-2 6-1 1 4 1-1 1-4 2 0 1 4 3-3 0 2 4 1 0 0 2-3 1 2 5 2 0-2 0-3 3 1 3 2 0 1 1 1 10-5 0 2 4 1 8 2 6-3 0 1 2-2 3 4 2-2 6-1 0 3 2-2 1 2 1-5 2 0 1 5 0-3 6 1 1-2 5 2 63 1 6-1 34 8-8-5 0 5-83-5-5 3-15 2-6 0-4-2-1-1-4 1-3 2-2-2-1 2 0 0-1 0-4-1-12-2-1 0-2 2-3 0-2-1-2 1-3-2-1 0-3 3-2-3-9-2-3 2-4 2-3 1-3-2-1 1-1-1-1-1-2-1 0-1-16 2-11 6 11-1 6 4 1-4 1 0 4 2 7 0 4 1 5 1 0-4 1-1 7 0 2 0 6 4 2 1 5 0 3-5 6 5 1 0 3-2 4-3 11 0 6 1 7 4 0-4 1 4 6-4 1 1 1 3 3-5 7 5 2-5 2 4 5-1 2-3 6 5 71-2 5-2 7 4-1 6-99-3-3 1-1 0-8 0-2-3-3 1 0 0-3 3-3-2-1-2-3 3-1-2-6 3-19-2-6 2 0 0 0-3-1-1-8 1-5 4-3-3-3 2-1-4-2 3 0-2-1 3-4-2-21-1-15 7 5 0 2-1 1 0 5 1 3-1 1-1 5 3 2-2 1 2 15-1 6-1 5 3 2-4 0 4 2-2 2 2 3-4 4 5 0-5 5 2 4 3 2-4 3 2 5-1 1 2 3-1 7-1 1-1 2 0 1 0 1 2 2 2 21-2 2-3 58 3 27 3-74 2-17-2 0 3-21-3-6 3-1 0-12 1-4-3-1 2-1 1-6-1-1 1-2-1 0-2-4 1-1-2-1 0-2 2-2-2-3 2-1 2-1-4-5 1-9 1-5 2-4 1-4-3-4 0-8-1 13 5 16 0 1 1 13 0 5 3 0-2 1 2 0-1 2 0 1-1 5-2 6 2 1 2 1-3 3 4 3-1 11-2 5-1 14 3 2 0 9-4 2 4 21-1 67-3 1 2 3 2-106 2-3 2-7 1-3 1-6 0-2 1-9 0-1 0 0-1-5-1-8-3-5 5-13 0-5-2-9 2 0-3-1-2 0 4-8 1 0-3-2 6 14 2 6-1 0 1 2 0 1-1 0-1 0 3 7-5 1 3 8-3 0 5 2-2 4 1 9 1 0 0 0-5 1 3 10-2 2 2 0 2 7-3 1 1 2-1 0-2 16 4 10 1 60-3 14 3 5-2-86 3-13 3-5-2-3-1-8 2 0 0-2 1-8-2-3 1-6 1-7 2 0-2-1 1-4-3-3 0-1 2-15 1-3-1-2-1-5 8 12-4 2 0 0 4 16-2 12 0 15 0 0 1 23-3 90 0-84 9-37 1-4-4-3 2-14 0-6-2-10 0 0 1-19 2-1-2 53 5 5 0 5 0 2 0" fill="none" stroke="none" marker-start="url(#mk4)" marker-mid="url(#mk4)" marker-end="url(#mk4)"/>
<defs><marker id="mk8" markerUnits="userSpaceOnUse" markerWidth="2.80" markerHeight="2.80" viewBox="0 0 2.80 2.80" refX="1.40" refY="1.40" overflow="visible"><rect width="2.80" height="2.80" fill="#0a0ad8" fill-opacity="0.8"/></marker></defs>
<path transform="scale(0.25)" d="M975 713l2-2 11 1 4-2 13 3 2-1 5 1 7 4-4-3-4 4-1 1-4-3 0 3-1-2 0 0-3 2-1-4-3 2-3-3-3 2-1 3 0-4-2 3-3-3-14 4-7-5-17 3-4-2 5 6 4-1 4 4 1-3 1 3 4 1 2-3 2 0 1 3 0-5 0 4 1-4 1 0 1 5 0-1 2-4 1 2 2 0 0-1 2 2 2 2 4-1 1 1 1-4 0 0 3 1 0 1 2-2 0 4 2-3 0 3 1 0 0-2 3-3 0 0 0 3 1-1 2 2 2-1 0 1 2 1 1-1 1 1 1-1 6-4 0 2 1 1 3 1 0 1 1-1 0-1 0 0 4 2 6-1 0-2 8 7-2 2-1-2-1 0-3 2-1-4-5 0-1 4 0-1-1 1-1-4 0 2-1-1 0-2-2 2-2-1 0 0 0 0-1 0 0 4 0-1-1-2-3 3-2-2-3 2-1 0 0-1 0-1-1-2-1 0 0 1-1 3 0-1-1 0 0-2-2-2 0 3 0 1-1-4-1 5 0-3-1 3-5-2-1-1 0 0-3 1-1 1 0-4 0 1-2-1-1 5 0-3 0-1-2 4-1-2 0-2 0 2-2-2-1-1 0 5-1-4-3 2 0-2 0 4-1-5 0 4 0 1 0-2-1 1-1-3-1 4 0-4-4 2 0 2-7-1 0-4-1 5 0-4-2-1-1 1-1 4-1-2 0 0 0 1-1-4-6 0-1 3-3 2-2-1-5 7 0-5 6 5 3-3 3 2 2 1 2 0 0-1 2-4 5 0 0 5 0-2 1-1 0 1 0-2 1 2 0 1 1 1 1-4 0-1 0 0 1 5 0-2 1-2 3 4 0-4 2-1 0 4 2 1 2-3 0-2 3 1 0 2 1 0 0-3 0 5 0-4 1 3 1-3 4-1 0 2 1 1 1 2 0-2 1 2 1-5 4 0 0 1 2 1 2 0 1-1 3 0 0 3 1-3 1 1 1 2 0 0 1-3 1 1 0-2 1 2 0 1 1-1 1 3 2-3 1-2 0 4 1 1 1 0 2-4 2 3 1-4 1 0 1 3 2 2 0-1 2 0 0 0 0-3 1 0 0 3 0 0 0-2 2-2 0 2 0-1 0-1 1 0 0 1 2 1 0 1 2 0 0 2 1-5 0 2 2 0 1 2 0 0 0-1 1 0 1 2 0 0 2-2 1-1 1 0 3-2 2 5 6-3 6 5-5 1-1-2 0 5-3-3 0 3-4-2-1-3 0 5-1-2 0 2 0-1-2-1-1 1-1-4-2 1-1 1 0 2-1-2-2 0-2 2-1-3-1-1 0 4-2 0-1-1-1 2-1-4-2 2 0 0-2 1 0-3-1 0 0-1 0 4-1 0 0 1-1-5 0 2-2-2-1 5-1 0-1-3 0 3 0-5-1 5-1-4-1-1 0 4-3 1-1-2 0 0-1 2-2-5 0 0-3 4 0-2 0 2-1-1-1-2 0 4-2-2-2 1-2-4-1 3 0 2 0-5-1 0-1 2 0-2-3 2 0-1 0-1 0 5-1-4 0 2 0 0 0-3-1 5-1-1-1-3-1 4 0-3-2-1-2-1 0 0-1 2-1 0-4 0 0 3 0-2-2 0-1 1-1 1-2-3 0 0-1-1 0 4-1 0-4-3 0-1-1 3 0-3-2-1 0 4-1-4-1 5-2-2 0 2-2-5-4 5-1-2-1 2-1-2 0 2-2-5 0 5-21 6 8-4 6 1 0 2 0-4 4 3 0-1 1 2 1 1 0-1 1-2 0 3 1-5 1 3 2 2 6 0 0-4 0-1 1 3 1-3 0 2 0 2 1 0 0-1 1-2 0-1 3 2 0-1 2 4 1 0 2-3 0-2 2 4 0 1 1-4 0 2 1 0 1-3 1 4 0 1 1-2 1 2 0-1 1-1 0 1 2-4 1 1 0 0 1-1 0 4 1 1 1-4 1 1 0-1 1 3 0 1 1-1 1-2 1 1 0 1 1-3 1 2 0-1 3-1 0 0 1 2 0-1 1-2 0 2 2 0 3 2 1-4 0 1 0 3 1 0 0-4 2 2 1 1 1 1 0-1 0-3 1 4 0-3 0 4 0-2 1 2 0-2 1-2 0 3 0-2 0 0 1 1 0-3 1 0 1 3 1-1 1 2 1-3 2 0 4 1 0-2 1 3 3-3 1 2 1 2 1-4 0 2 0-1 1 0 0-1 1 2 1 1 1 2 1-1 0-3 1 0 0 3 1-1 1-2 1 4 0-2 0 0 1 0 0 2 1-1 0-3 1-1 1 0 2 0 0 0 0 0 2 5 2-1 0 0 0-3 5 0 0-1 4 5 0-5 2 4 8-4 2 2-5 4 0 2-4-2 0 5 0 0-2-1-1-2-3 1-2 1 0-1-1 0 0-1 0 1 0 2-1-2 0-2-1 2-1-3-1 0 0 1 0 3-2 1-2-1-1 1-1-5-1 2-2-1-1 0-3-1 0 4-1 0-1-3 0 2 0 2-1-5 0 2-2-2 0 3-1 2 0 0-1-1-2-4-2 4-1-3-1 1-2 2-1 1-1-2-1 1-1-4 0 4-1-1-1-2-2 2 0 2 0-4-1 4 0-2 0-1-1-1 0 2-1 1 0-2-4 3-1 0 0-3-1-2-1 4 0-3-1 1-1 2-1-4-1 0-2 5 0-4 0-1-1 3-3-3-1 3-2-3-3 5 0-5-3 1-1 4-1-4 0 3 0-2-1 0-2 0 0 2-1 1-2-2 0-1 0-2 0 2 0 1 0-3-3 0 0 5 0-1-2-3-2 4-1-2-1 0-3-1 0 1-1-2-2-1-1 3 0 1-1 1 0-2-1 2 0-1-1-4 0 2-1-2 0 0-2 0 0 1 0 2 0 2-2-4 0 4 0-3-1 3-2-4-1 2 0 2-1-5-1 1-1 2-2-1-4 1-4-2-7 7 9-1 2 0 1 1 2 2 5-3 3-1 0 4 2-4 0 2 1-2 1 0 1 3 0-1 0 2 1 0 1-4 2 5 0-1 1 0 1-3 0 1 4 2 3 0 1-1 0-3 1 3 0 1 1-2 0 2 0-3 1-1 1 4 0 1 0-4 2-1 0 1 1 3 0-3 0 3 1 1 1-4 0 4 0 0 0-3 0 1 1 1 1 0 0-4 0 5 0-5 4 3 0 0 1-2 0 1 1-2 0 1 1 0 0-1 2 1 0-1 0 0 2 4 0-1 1-1 0 2 0-2 0-1 2 3 1 1 1-5 2 4 0 0 0-1 0 0 1 1 2-3 1 3 1-2 0 3 0-4 1 0 0 4 0 0 0-4 1 0 1 2 1 2 0-4 2-1 3 3 0-2 1 1 0 3 1-1 3 0 0-4 0 0 2 1 0 2 1 1 2 0 0-2 1-2 1 1 1 1 1 0 0 0 1 1 0 2 2-5 1 0 0 1 0 4 1 0 0-1 1 0 2-4 2 0 0 3 0-2 2 2 0-3 0 4 2-4 1 3 0-1 0 3 2-3 0 2 1-3 1 1 2 2 1 0 0-2 1-1 1 3 0-1 0-1 1 0 3 1 1-1 1 1 1-3 0 2 2 2 2-1 1 1 1-3 3 4 1-5 4 9-9 1-2-3-6 0 0 0-2 2-2 1-1 0 0 1-2-5-2 3-1 1 0-1-1-3-2 1 0 1 0 3-1-5 0 5-1 0 0-5-3 1-1 0-1-1 0 3-1 2 0-4-1 1-1-2 0 0 0 4 0 1-3 0-1-5-2 4 0-4 0 2 0-1-1 4-4-1-1 0-1-4 0 3-1-2-1 4 0-1-1 0 0 1 0-2-1 0 0-2 0-1-1 2 0 3-2-4 0 2-2-3-4 5-1-2-2-2 0 4 0-5-1 0 0 4-2 1-1 0-1-3-1-2-1 2 0 0 0 0-1 3-1-2 0 1-2-4 0 0 0 1 0-1-1 4 0-1 0-3 0 4-1-4 0 4-1-3-1 0-2 0 0 0-3 3 0 1-1-1-1-4 0 0-1 2 0 0-1 0 0 1-4 2-2-4 0 1-2-1-3-1-1 0-1 0 0 0 0 2-1 0-1 2 0-3-1 1-1-1 0-1-1 4 0-3 0 3-2-3-1-1-1 5-1-3-1-2-1 2 0-1-1 2-1 0-1-1-1 3-2 0-2-5 0 1-3 4-6-4-2 8 6 0 0-1 4 2 1-1 2-3 1 3 0 0 0-3 2 3 1 0 1 0 1-3 0 2 0-2 2 0 1 3 0 0 2 0 1-3 0 3 0-1 0-1 1 4 1-3 1-1 1 2 0-3 0 1 0 4 1 0 1 0 0-1 0-4 2 1 1 4 0-5 2 0 1 2 0 2 1-2 1-2 1 1 2-1 1 5 2-1 3-4 1 4 0-4 0 4 3-1 0-3 1 0 0 2 0 1 2 2 0-1 1 0 0 0 1-1 0 0 1 0 0 0 0-1 1-1 0 4 1-4 1 0 0-1 0 4 3-1 0-1 2-2 0 5 0-2 2-2 2 4 0-2 2-2 0 0 2 4 0-1 0-1 2 0 0 1 0-1 1-3 1 0 1 4 0-1 1-3 0 0 1 3 0 2 2-1 1-4 2 2 0 3 2-3 2-2 1 0 2 0 1 3 1-3 1 5 0-5 0 1 1 1 0 1 1 2 0-2 3-3 1 3 3 1 1-4 0 4 1-1 0-3 0 5 1-4 0 3 1-3 0 2 1-1 0-1 1 1 1 1 0-3 0 3 0 0 1 2 4 0 0-1 1-1 0 2 3-5 3 5 1 0 3-2 5-2-1 7-8 0-1 0-1 0 0-2 0 2-1-1-1-1-1 5 0-2-1-2-6-1 0 4-1-1-1-1 0 3 0-3 0-2 0 3-1-2 0 2-1 2 0-3-1 2 0-2-3-2 0 2-1-2 0 0-1 3-1-2-2 3 0 1-1 0 0-2 0 2 0-3 0 0-2 2 0-1 0 1-1-4-1 1-1-1-1 0 0 1-2-1 0 3 0-3 0 5-1-5 0 2-2-1 0 0-4-1 0 5 0-5-1 4 0-2-1 1-2 1-1 0-1-3-1 0-1-1-2 5-1-4 0 0 0 1-2 0 0 1-1 0-1-3-1 3 0-2-1 3-1-3-1 3 0 1-1 0 0-5-1 2-1 1 0-2-2-1 0 4-1-3 0 1 0 1-1-2 0 4-3-1-2 0 0-1-3 0 0 2-3-3 0 3 0-3-1 3-1-4-1 4-1-5 0 1 0 4-1-3-2 1-1-2-1 4-2-4-1 3 0-1-1-3 0 4 0 1 0-3-2 1-1-3-2 4-1 1 0-5 0 4-1-4-2 3-2-2 0 2 0 0-1 1-2-2 0-1-2-1-2 0 0 0-1 0 0 3-1-1 0 2-5-2-1 2-7 1 10 3 8 1 0-3 1 5 1-5 0 5 1-2 1 0 1 0 0 0 0-3 1 1 3 0 0 0 2 3 0-1 1 0 2 0 1-1 0-2 2 3 4 2 1-2 0 0 1 2 1-3 1-2 1 0 1 5 0-3 1-2 0 1 0 0 0 2 0 1 1-3 1 1 2 1 1 0 0 2 1-2 2-2 2 3 1 1 0-1 0-4 1 2 2 1 3-2 0 4 0-1 3 1 1-1 0-4 2 1 0 3 1-1 0 0 0 1 3 0 1-2 0 1 1-3 2 5 2-1 0 1 1-1 1 1 0-5 1 4 0 1 1-1 1-1 0-3 2 2 1-1 0 0 4 4 0-4 1 3 1 0 1 0 0-1 4 2 2-2 2-2 2 0 1 3 1-1 0 0 0-2 1-1 0 2 0 0 0 0 4 0 0 2 0 0 1 1 1-3 1 3 3-4 2 4 0-2 3-1 2 1 3 1-2 6-10-3-1-1-4 0-5 0 0 4-2-2-1 0-1 0-2 2-1-3 0 2-2 0-4 0-1-2-1 1-1 3-2-1-2 1-1-3 0 1 0 0-1 2 0-5 0 0 0 2 0 0-3-2-1 4 0-1-1 0 0 2-2-5 0 1-1 2 0-2-1 1 0-1-2 2 0-2 0 4-1-5 0 5 0-3-1 2 0 0-1-2 0 2-1 0 0 0-3-1 0 1 0-4-1 5 0-3-1-1 0-1-1 4-1 0-4 1 0-5-1 1-2-1-1 2 0 1-4-1 0 3-5-3-1 0-1 3-1-5-2 5 0-5-4 5-6-1-1 1-2-4-2 2-2-3-1 3-3-3-1 4-1 0-8 1 10 6 3-3 5 1 0 2 2-3 1 2 7-4 5 4 1-1 2-3 2 3 1-2 1 4 1-4 3 0 1 3 4-2 0-2 1 3 0 0 0-1 1-2 2 3 2 1 0-2 2 3 0-5 0 1 2 2 0 0 0 2 1-1 2-3 3 2 2-3 2 0 1 0 2 3 3 0 1-3 1 4 5 1 10-2 6-1 12 5-14 0-12-1-1 2-8-1-7 0-5 0 0 2-1 2 0-1-4-4 0 0-3 1-3 2-3-2-2 0-4 2-5 0-7-3-15 1 0 2 28 5 3-1 11 3 1-4 2 3 3-3 19 0 7 3" fill="none" stroke="none" marker-start="url(#mk8)" marker-mid="url(#mk8)" marker-end="url(#mk8)"/>
<ellipse cx="247.50" cy="189.60" rx="11.50" ry="6.50" fill="#0000b8" fill-opacity="0.5" filter="url(#bl0)"/>
<line x1="208.50" y1="137.10" x2="208.50" y2="231.20" stroke="#9a9a9a" stroke-width="1.4"/>
<rect x="179.40" y="137.10" width="94.00" height="94.10" fill="none" stroke="#1e1e1e" stroke-width="1.3"/>
<line x1="176.80" y1="231.20" x2="179.40" y2="231.20" stroke="#231f20" stroke-width="0.8"/>
<text x="172.60" y="234.00" font-size="7.5" text-anchor="end" fill="#231f20" color="#231f20" font-weight="normal" >0</text>
<line x1="177.80" y1="227.61" x2="179.40" y2="227.61" stroke="#231f20" stroke-width="0.8"/>
<line x1="177.80" y1="224.02" x2="179.40" y2="224.02" stroke="#231f20" stroke-width="0.8"/>
<line x1="177.80" y1="220.43" x2="179.40" y2="220.43" stroke="#231f20" stroke-width="0.8"/>
<line x1="177.80" y1="216.84" x2="179.40" y2="216.84" stroke="#231f20" stroke-width="0.8"/>
<line x1="176.80" y1="213.25" x2="179.40" y2="213.25" stroke="#231f20" stroke-width="0.8"/>
<text x="172.60" y="216.05" font-size="7.5" text-anchor="end" fill="#231f20" color="#231f20" font-weight="normal" >50K</text>
<line x1="177.80" y1="209.66" x2="179.40" y2="209.66" stroke="#231f20" stroke-width="0.8"/>
<line x1="177.80" y1="206.07" x2="179.40" y2="206.07" stroke="#231f20" stroke-width="0.8"/>
<line x1="177.80" y1="202.48" x2="179.40" y2="202.48" stroke="#231f20" stroke-width="0.8"/>
<line x1="177.80" y1="198.89" x2="179.40" y2="198.89" stroke="#231f20" stroke-width="0.8"/>
<line x1="176.80" y1="195.30" x2="179.40" y2="195.30" stroke="#231f20" stroke-width="0.8"/>
<text x="172.60" y="198.10" font-size="7.5" text-anchor="end" fill="#231f20" color="#231f20" font-weight="normal" >100K</text>
<line x1="177.80" y1="191.71" x2="179.40" y2="191.71" stroke="#231f20" stroke-width="0.8"/>
<line x1="177.80" y1="188.12" x2="179.40" y2="188.12" stroke="#231f20" stroke-width="0.8"/>
<line x1="177.80" y1="184.53" x2="179.40" y2="184.53" stroke="#231f20" stroke-width="0.8"/>
<line x1="177.80" y1="180.95" x2="179.40" y2="180.95" stroke="#231f20" stroke-width="0.8"/>
<line x1="176.80" y1="177.36" x2="179.40" y2="177.36" stroke="#231f20" stroke-width="0.8"/>
<text x="172.60" y="180.16" font-size="7.5" text-anchor="end" fill="#231f20" color="#231f20" font-weight="normal" >150K</text>
<line x1="177.80" y1="173.77" x2="179.40" y2="173.77" stroke="#231f20" stroke-width="0.8"/>
<line x1="177.80" y1="170.18" x2="179.40" y2="170.18" stroke="#231f20" stroke-width="0.8"/>
<line x1="177.80" y1="166.59" x2="179.40" y2="166.59" stroke="#231f20" stroke-width="0.8"/>
<line x1="177.80" y1="163.00" x2="179.40" y2="163.00" stroke="#231f20" stroke-width="0.8"/>
<line x1="176.80" y1="159.41" x2="179.40" y2="159.41" stroke="#231f20" stroke-width="0.8"/>
<text x="172.60" y="162.21" font-size="7.5" text-anchor="end" fill="#231f20" color="#231f20" font-weight="normal" >200K</text>
<line x1="177.80" y1="155.82" x2="179.40" y2="155.82" stroke="#231f20" stroke-width="0.8"/>
<line x1="177.80" y1="152.23" x2="179.40" y2="152.23" stroke="#231f20" stroke-width="0.8"/>
<line x1="177.80" y1="148.64" x2="179.40" y2="148.64" stroke="#231f20" stroke-width="0.8"/>
<line x1="177.80" y1="145.05" x2="179.40" y2="145.05" stroke="#231f20" stroke-width="0.8"/>
<line x1="176.80" y1="141.46" x2="179.40" y2="141.46" stroke="#231f20" stroke-width="0.8"/>
<text x="172.60" y="144.26" font-size="7.5" text-anchor="end" fill="#231f20" color="#231f20" font-weight="normal" >250K</text>
<line x1="177.80" y1="137.87" x2="179.40" y2="137.87" stroke="#231f20" stroke-width="0.8"/>
<text transform="translate(149.10,184.15) rotate(-90) scale(0.62,1)" font-size="9.5" text-anchor="middle" fill="#231f20" color="#231f20">FSC-H</text>
<line x1="189.74" y1="231.20" x2="189.74" y2="233.80" stroke="#231f20" stroke-width="0.8"/>
<text x="189.74" y="243.60" font-size="7.5" text-anchor="middle" fill="#231f20" color="#231f20" font-weight="normal" >0</text>
<line x1="222.17" y1="231.20" x2="222.17" y2="233.80" stroke="#231f20" stroke-width="0.8"/>
<text x="220.27" y="243.60" font-size="7.5" text-anchor="middle" fill="#231f20" color="#231f20" font-weight="normal" >10</text>
<text x="224.57" y="240.20" font-size="5.0" text-anchor="start" fill="#231f20" color="#231f20" font-weight="normal" >3</text>
<line x1="243.32" y1="231.20" x2="243.32" y2="233.80" stroke="#231f20" stroke-width="0.8"/>
<text x="241.42" y="243.60" font-size="7.5" text-anchor="middle" fill="#231f20" color="#231f20" font-weight="normal" >10</text>
<text x="245.72" y="240.20" font-size="5.0" text-anchor="start" fill="#231f20" color="#231f20" font-weight="normal" >4</text>
<line x1="264.28" y1="231.20" x2="264.28" y2="233.80" stroke="#231f20" stroke-width="0.8"/>
<text x="262.38" y="243.60" font-size="7.5" text-anchor="middle" fill="#231f20" color="#231f20" font-weight="normal" >10</text>
<text x="266.68" y="240.20" font-size="5.0" text-anchor="start" fill="#231f20" color="#231f20" font-weight="normal" >5</text>
<line x1="228.54" y1="231.20" x2="228.54" y2="232.70" stroke="#231f20" stroke-width="0.6"/>
<line x1="232.26" y1="231.20" x2="232.26" y2="232.70" stroke="#231f20" stroke-width="0.6"/>
<line x1="234.90" y1="231.20" x2="234.90" y2="232.70" stroke="#231f20" stroke-width="0.6"/>
<line x1="236.95" y1="231.20" x2="236.95" y2="232.70" stroke="#231f20" stroke-width="0.6"/>
<line x1="238.63" y1="231.20" x2="238.63" y2="232.70" stroke="#231f20" stroke-width="0.6"/>
<line x1="240.04" y1="231.20" x2="240.04" y2="232.70" stroke="#231f20" stroke-width="0.6"/>
<line x1="241.27" y1="231.20" x2="241.27" y2="232.70" stroke="#231f20" stroke-width="0.6"/>
<line x1="242.35" y1="231.20" x2="242.35" y2="232.70" stroke="#231f20" stroke-width="0.6"/>
<line x1="207.39" y1="231.20" x2="207.39" y2="232.70" stroke="#231f20" stroke-width="0.6"/>
<line x1="211.11" y1="231.20" x2="211.11" y2="232.70" stroke="#231f20" stroke-width="0.6"/>
<line x1="213.75" y1="231.20" x2="213.75" y2="232.70" stroke="#231f20" stroke-width="0.6"/>
<line x1="215.80" y1="231.20" x2="215.80" y2="232.70" stroke="#231f20" stroke-width="0.6"/>
<line x1="217.48" y1="231.20" x2="217.48" y2="232.70" stroke="#231f20" stroke-width="0.6"/>
<line x1="218.89" y1="231.20" x2="218.89" y2="232.70" stroke="#231f20" stroke-width="0.6"/>
<line x1="220.12" y1="231.20" x2="220.12" y2="232.70" stroke="#231f20" stroke-width="0.6"/>
<line x1="221.20" y1="231.20" x2="221.20" y2="232.70" stroke="#231f20" stroke-width="0.6"/>
<line x1="249.69" y1="231.20" x2="249.69" y2="232.70" stroke="#231f20" stroke-width="0.6"/>
<line x1="253.41" y1="231.20" x2="253.41" y2="232.70" stroke="#231f20" stroke-width="0.6"/>
<line x1="256.05" y1="231.20" x2="256.05" y2="232.70" stroke="#231f20" stroke-width="0.6"/>
<line x1="258.10" y1="231.20" x2="258.10" y2="232.70" stroke="#231f20" stroke-width="0.6"/>
<line x1="259.78" y1="231.20" x2="259.78" y2="232.70" stroke="#231f20" stroke-width="0.6"/>
<line x1="261.19" y1="231.20" x2="261.19" y2="232.70" stroke="#231f20" stroke-width="0.6"/>
<line x1="262.42" y1="231.20" x2="262.42" y2="232.70" stroke="#231f20" stroke-width="0.6"/>
<line x1="263.50" y1="231.20" x2="263.50" y2="232.70" stroke="#231f20" stroke-width="0.6"/>
<line x1="270.65" y1="231.20" x2="270.65" y2="232.70" stroke="#231f20" stroke-width="0.6"/>
<line x1="180.81" y1="231.20" x2="180.81" y2="232.80" stroke="#231f20" stroke-width="0.55"/>
<line x1="182.17" y1="231.20" x2="182.17" y2="232.80" stroke="#231f20" stroke-width="0.55"/>
<line x1="183.54" y1="231.20" x2="183.54" y2="232.80" stroke="#231f20" stroke-width="0.55"/>
<line x1="184.90" y1="231.20" x2="184.90" y2="232.80" stroke="#231f20" stroke-width="0.55"/>
<line x1="186.26" y1="231.20" x2="186.26" y2="232.80" stroke="#231f20" stroke-width="0.55"/>
<line x1="187.62" y1="231.20" x2="187.62" y2="232.80" stroke="#231f20" stroke-width="0.55"/>
<line x1="188.99" y1="231.20" x2="188.99" y2="232.80" stroke="#231f20" stroke-width="0.55"/>
<line x1="190.35" y1="231.20" x2="190.35" y2="232.80" stroke="#231f20" stroke-width="0.55"/>
<line x1="191.71" y1="231.20" x2="191.71" y2="232.80" stroke="#231f20" stroke-width="0.55"/>
<line x1="193.08" y1="231.20" x2="193.08" y2="232.80" stroke="#231f20" stroke-width="0.55"/>
<line x1="194.44" y1="231.20" x2="194.44" y2="232.80" stroke="#231f20" stroke-width="0.55"/>
<line x1="195.80" y1="231.20" x2="195.80" y2="232.80" stroke="#231f20" stroke-width="0.55"/>
<line x1="197.17" y1="231.20" x2="197.17" y2="232.80" stroke="#231f20" stroke-width="0.55"/>
<line x1="198.53" y1="231.20" x2="198.53" y2="232.80" stroke="#231f20" stroke-width="0.55"/>
<text transform="translate(226.40,252.00) scale(0.72,1)" font-size="9" text-anchor="middle" fill="#231f20" color="#231f20" font-weight="normal" >Siglec-9L</text>
<text x="241.50" y="157.90" font-size="8.4" text-anchor="middle" fill="#231f20" color="#231f20" font-weight="normal" >100%</text>
<path transform="scale(0.25)" d="M349 1293l-24-1-40 5 137 0 72 4 0 1-148 5-96 1 5 0 141 1 23 0 0 4 3-3 3 3 20 0 12-1 15-1-14 4-6 0-12 1 0 2 0 0-3 1-1-3-8-2-9 4-6 0 0-1 0 2-1-4-20 4-15-2-19 7 10 1 6 0 5-5 4 4 4 1 12-3 4-2 1 5 11 0 1-4 0 3 2-4 0 2 4-2 5 4 2 0 2 0 0-4 1 4 3-3 2 0 0 3 2 1 1 0 3-5 1 4 2-4 23 3 5-2 3 3-16 7-4 0 0-3-2 3 0-5-1 2-5-1-4 2 0 0-1-1-2-2-3 4-3-1-2-3 0 5 0-4-1 0 0 3 0-1-2 2-1-3-1-2-2 5 0-3-4 1 0 2-1-3-1 1 0-3-4 1 0-1-2 4-1-2 0 2-3-4 0 1-3 1-2-1-2 0-1-1-4 4-1 0-1 0-3-3-2 1-2 3-4-2-1-3-6 5-7 0-5 0-13-1-11-3-2 2-19 6 7 2 4 0 3-3 1-2 4 1 1 1 6 1 0 0 0 2 0-5 2 5 16-2 4 0 1 2 1-4 1 4 0-1 0-4 1 4 1-3 0 3 0 0 3-2 3 3 0 0 2-3 3-1 3 2 3 1 1-1 0-2 1 3 1 0 1-4 0 1 1 4 0-5 2 4 0-2 2 1 1-1 2 3 1-1 0-4 2 2 2-2 0 3 1 0 0 1 0 0 2 1 0 0 0-1 3 0 1-2 1-1 1 4 1-2 1-3 2 4 0 0 1 1 2-1 1-4 1 3 3 1 0-4 0 5 1-1 0 0 3-1 0 0 1-1 1 3 2 0 1 0 0 0 1-2 4-2 1 1 5 0 9 1 25 0 19 2-47 6-1 0-2 0-1-1 0 1-1 0-6-3-1 3-1 0-1-1-1-3 0 2 0 1-4 0-2-1-1 0-2 1-2-1-1-3 0 4 0 1-1 0 0-5-1 4 0-3-1 4-3-5 0 3 0-1-4-2 0 0-3 5 0-3-1 0-1-1 0 3-3 1-1-3-1-1 0 3-1-2 0 1-2 0-1 2-1-5 0 2 0-1-1 4-1-5-2 1 0-1 0 2-1 0-1-1-1 2-1 1-2-1-3-1-1-2-1 2 0 0 0 2-1-3-1-1-3 4 0-1-1 2-1 0 0-2-3-1-2 3-1-2-1-3 0 4 0-3-1-1-4 1 0-1-1 0 0 2-4 2-1-3 0 3-3 0 0 1-1-1-1 0-2-4-3 4 0-3-4 4-1-3-4 3 0-3-3-2-2 1-3 1-6 1-5 2-1-1 0-2-6 6 2-2 2 3 2-2 2 3 1 1 4-1 0 0 3-3 2-1 2 5 0-5 2 2 2 1 0 2 2-4 0 4 1-4 1 2 3-2 2 1 1 3 0-4 3 3 3-1 0-2 0 1 1-2 1 1 1 4 0-3 1-2 0 4 3-1 0 1 3-3 0 1 2-2 0 5 1-2 0-3 0 1 2 0 1 0 1 1 1 2 1-1 0-1 2 0 0 0 0-1 1 1 0 3 0-2 1 0 0 2 1-1 0-3 0 4 1 0 0-5 6 3 1 2 1-3 1 1 1-1 0 3 2-1 1 1 0-3 1 0 3-2 0 0 1 4 1 1 2-1 0 0 1 1 3-1 0-1 0-3 1 1 1 0 1 0 0 2 1-3 0 1 1 1 0 1 0 1 1-4 1 5 0-2 0-3 0 5 0 0 1-5 1 2 0 2 0-2 0-1 1 2 1-3 0 4 1-3 0 3 1 0 0-2 1 0 1 1 3 2 0-3 0 1 1-3 0 5 0-2 2-1 2 0 0-2 2 0 1 0 0 5 1-1 0-4 1 4 0-1 1 1 0-2 0-1 1 3 0-3 2 3 0-2 3 2 1-4 0 2 2 1 0-2 0 4 3-4 3 0 1-1 50 0-2 9-9 0-33 1-1-4-1 0-6 5-6-3-3 2 0-1 0 1-1-3-4 3 0-3-1 1-1 0 0 3-1 0 0-2-2 1-1-2 0-1-1 4-1-1 0-1 0-2 0 0-2 3-1-1 0 0-1 1 0-4 0 2-2 0 0-2-1 2-1 0-1 3-1-4 0 4-1 0 0-5-1 1 0-1 0 4-1-4 0 0-1 3 0-3-1 3 0 1 0 1-1-3 0 2 0-2 0 0-1-2-1 2 0-1 0 4 0-4-1 2-1-1-3-1 0 1-1-2-1 0-1 5-1-3 0 1-1 2-2-2 0 1-3 0 0-1-2 0-1 0 0 2 0-5-1 1-1 0 0 4-1 0 0-4-1 1-1 2 0 1-1-4 0 2 0-2 0-1 0 0-1 3-1 1 0-3-1 1 0 3-1-4 0 2-1-3 0 0 0 3-2 0-1 2 0-1-4 0 0 1-1 0-1-2-1 0-2 2 0-3-2 2 0-4-2 0 0 2-1-2 0 3-3 0 0-2 0-1-2 1-2-1 0 4-3-2-3-2 0 3-3-2-2 3-6-4 0 0-3 2-1-2 0 3-1 1-1 0-4-2-1 0 0-1-1 3-4-4 0 2-9 2-7 6 6 1 10-3 1 1 0-2 1 2 7-2 7 0 1 3 0-2 4-2 0 0 0 3 1 1 0-2 0 3 2-5 5 4 0-1 1 1 1-2 2 3 0-5 0 5 1-2 0 1 0-4 2 5 1-5 2 2 1 3 1-5 0 5 1-4 0 2 1 1 3 0 1-1 3 2 0 0 1-1 1-4 1 1 0-1 0 1 0 2 0-3 1 3 2 0 1-1 4 2 1-4 0 3 0 0 0-2 1 3 1-3 1 0 0 3 0-3 2 1 0-1 0 0 1 3 1-4 1 3 0-1 1-1 0 4 1-5 1 3 2-1 1 3 1-4 1 3 0-1 2 2 1-2 0-1 1 1 1-2 0 1 1 0 0-1 1 2 1-3 1 5 1-3 0-2 1 4 1-1 0-1 1-2 1 4 0-2 0 1 0-1 1 0 1 3 0-5 1 5 1-1 0 0 0-3 0 0 0 2 2-1 1-1 0 1 0 3 0-2 0-1 1 1 2 2 0-4 1 2 0 0 0 1 2-1 0 1 1-4 0 2 0-2 0 0 0 5 1-1 0 0 0 1 1-5 1 0 1 4 1 1 2-5 2 0 3 3 1-3 1 0 1 5 2-5 4 2 2-1 6 4-8 4-3 0-4 2-2-1-1-2-1-2-2 4 0-2-1 2-4 0-1-2 0-2-3 1-1 3 0 1-1-1-2-4 0 5 0-3 0 1 0-3-3 4-1-2-1 2 0-1-1 0 0 1 0-2-1 3-1-5 0 3-1 0-1-2 0 0-2 4-1-3 0 3-1 0 0 0 0 0-3-3-2 2-2-2-2 3-3 0 0-5-2 1 0 3-1-3 0 0-4-1-1 3-1-2-1 4 0-3 0 2-3-2 0 2-1-3 0 4-1-5-1 5-1-4 0-1-1 1 0 1-1-1-1 3-1-3-1 0-2 3 0-3 0-1-1 0-2 0-1 5-1-4-1 3 0 1 0-1 0-4-1 2-3 1-2 0-1-1-1 2 0 0-2 0-1-4-2 1-3-1 0 0-2 2-1 2-1-3 0 3-3 0-2-4-2 2-3 2-1-2-6 0-2 1-2-1-3-1-3 2-6-1-1 2-8-2-1 6 16-1 9 0 13 2 1 1 4-2 11 0 2 3 3-5 0 2 2-2 0 2 1 2 3-3 1 4 1-5 7 1 0 1 3 3 0-5 0 3 4-1 0-2 1 5 3-4 1 4 0 0 1-5 4 3 4 1 5 0 1-3 0 0 0 2 1 2 5-4 0 1 0 3 1-1 0-1 1-3 0 1 1 0 1 3 1-1 0 0 4-1 0-2 2 3 0-3 1 1 2 0 1-1 0 3 1 2 1-5 1 2 2-2 6 2 3 1 9-1 1 2 1 0 3-3-11 6-1 2-10-3-2 2-8 0 0-1-2 2-2-3-5 4-2-3-5 2-6 2 0-5-4 1-1 2 0 1-1-3 0 4-2 0-1-5 0 2 0 1-1-3 0 1 0 1-4-2-6 3-2 0-3 1-1-2-12 0-5-2-2 0-11 5-5-3-2 1-19-3-18 0 19 8 1-1 51 2 3-3 3 3 0-3 4 1 20-1 0 1 21 4 3-2 1-3 7 1 7 1-6 5-8 3-6-2-27-2-37 3-14 0 59 5 16 1" fill="none" stroke="none" marker-start="url(#mk0)" marker-mid="url(#mk0)" marker-end="url(#mk0)"/>
<defs><filter id="bl2" x="-50%" y="-50%" width="200%" height="200%"><feGaussianBlur stdDeviation="1.5"/></filter></defs>
<ellipse cx="66.00" cy="338.50" rx="12.00" ry="2.50" fill="#555" fill-opacity="0.25" filter="url(#bl2)"/>
<path transform="scale(0.25)" d="M234 1270l19 13-2-4-6 1-20 3-31-3 16 6 7 2 31-1 32 0 12-2 32 4 4-4 30 4-28 3-17-2-15 1-21 3-5 0-75 1-11 3 12 1 9 1 12-3 6 3 14-2 45 3 14-2 9 2 6-4 9 0 1 2 10-1 30 6-8 2-11 0-6 0-7-1-13 2-1-5-2 1-1 2-5 0-11-2-6 2-9-3-19 0-25 1-9 1-9 1-14-1-21 6 2-1 6 4 90-4 3-1 5 1 5 2 3 0 13-2 2 0 2 1 5 2 0-4 5 2 7 3 7 0 21 3-6 0-18 3-7-3-3 1-5-2 0 0-5 0-2 2-1 2-15-1-11-3-22 2 0 0-28-1 0 3-50-4 0 2 2 7 16 0 9-4 25 3 25 2 12-3 15 1 2 1 30 0 10 1 3-1 5-1 10-3 9 1-21 8-5-2-3 1-3-2-6 5-5-5-11 1-1 2-4 2-2-1-5-3-6 4-6-3-11 1-4 2-2-3-7 0-9 0-8 3-1-3-1 2-4-4-11 5-1-1-1 1-9-2-8-3-20 3 3 7 5-1 3-1 3-1 1 3 1 0 2 1 0-1 4-2 1 3 1-1 1-1 2 2 2 0 2 0 4-2 3 0 2 1 2-2 3 3 1-1 2-2 2 0 2 2 1-1 0 0 3 0 2 0 1-3 1 4 0 1 1-5 4 5 2-1 2-1 9-3 0 5 1-1 12-4 11 1 18 1 21 2 12 3-23 1-6 0-3-1-3 3-1-2-2 2-5 0 0 1-1 0 0-3-1-2-1 0-1 3-1-3-1 4-2-3-1 4-1-2 0-1-1 1 0 1-2-1-5-1 0 0 0 0-1-1 0 4-1-5 0 3-2-1-1 1 0 1-1-2 0 0 0 1 0-1-1 1-1-1-1 2-4-2 0 1-1 0-2-2-1 1 0-2-1 4 0-3-2 4 0-2-1-1-1-2 0 0-1 0-1 1-2 4-4-4 0 3-1-1-1 2 0-1 0 0-3 1 0-3 0 1 0 2-3-1-1-3-3 2-2 2-1-2-2-1-3-1 0 1 0-1-2 4-1-2 0 2 0-2-4 1-2 0-2-2-2 0-1 2 0-1-1 1 0-1-1-1-1-1-3 2 0 2-3-1 0-2-4 3-1-5-2 4-1 1-1-5-4 0-6 4-6-1 1 4 1 2 1-2 2 0 1 2 1 0 2-3 0 2 0 2 1-1 0 1 2-1 0 0 2 0 0-1 0 3 0-2 0-2 1-1 3 4 0 1 0-5 2 4 1 0 0-2 0 2 0-1 0-2 0 0 1 3 0 0 2 1 1-5 0 3 2-1 0 0 1 2 0-1 0-2 1 2 0 0 1 2 0-3 0 3 1-4 1 0 0-1 2 1 0-1 2 3 1-2 2 4 2 0 0-1 0-1 0-2 2-1 0 0 1 2 2 1 1 1 1 0 1 0 0-1 1 1 1-2 0 2 1-3 0 3 1 1 0-3 1-2 2 2 1 3 1 0 0-4 1 1 0-2 0 5 1-2 0 2 1-4 0 1 0-1 1 3 0-1 1 0 0 1 0 1 1-3 0 3 1 0 0-1 1 1 2 0 0-3 0 3 1-5 0 5 0 0 3-1 0-3 1-1 0 1 1 2 0 2 1-4 1 1 0 2 2 1 0 0 1 0 2-4 0 2 0 1 0-1 1 2 4-1 0-4 0 1 1 3 0-2 0 2 1-2 1-1 0 2 0-2 1 1 1 2 1-2 0 2 1-4 1 1 0 4 3-1 1-1 0 2 1 0 1-1 0-2 1-2 0 5 0-1 1 0 1-4 0 4 0-1 1-3 1 1 1 0 0 4 0 0 1-1 5 1 1-1 0-2 0-2 1 0 0 1 2 4 1 0 0-1 1 1 0 0 1 0 0 0 1-1 3 1 0-3 3-2 1 4 1-2 0 2 1 0 2 1 0 0 1-3 2 3 1 0 2 2-4 0-1 1-2 0-2-1-3 4-1-2 0 0-1 2 0 0 0-4-1-1 0 3-1-2-3 2-1-2 0 0-1 4-1-5 0 1-1 2-1 1-1 0-2 1-2-2 0 0-1-1-1-1 0 0-2 4-2-1 0-4-2 2 0-1 0 4-1-1 0-4-1 1 0 1-5 0 0 0 0 0-1 0-2 0 0 2-2-1 0-1 0-1-1 2-1-2-1 3 0-3-1-1-2 1 0 2-2 1 0 0-1-4 0 1-1 2-2-3-2 2 0-1 0 3 0-3 0-1-1 4-2 1-6-5 0 1-1 4-2-2-1 1 0-1-1 0-1-3 0 4 0-1-1 0 0-3-1 3-2-2-1-1-1 5 0-4 0-1-3 4 0 0-1-4 0 3-2-2-1 3 0 0 0 1-1-5 0 4-2 1-2-5-2 4 0-2-1 3-1-2 0 0-1 1-1-2-3-1-2 3-2-1-2-2-1 3 0-3-1 2-1 0 0-3-1 5 0-5 0 0-1 1-1 1-1 0 0 3 0-5-1 4 0-3-2 3 0-4-1 5 0-5 0 5-1-1-1-1-2-3 0 0-1 3 0-2-1 2-1 2 0 0-1-3 0 2 0 0-1-1 0-1-1-2-1 0-2 5-1-2 0 1-1 0-1-4-1 6 1 5 2-2 2 1 1-3 0 3 1-3 1 4 0-3 0 3 1-4 0 0 2 3 1-2 0-2 0 0 1 0 0 4 0-4 0 4 1-2 1 0 2-1 0-1 1 3 3-3 1 1 0 0 0 0 0-1 0 2 1 3 0-5 4 1 2 0 2 4 1-1 0 1 1 0 1-1 0 0 2 1 1-1 2-4 0 1 1 1 0 3 1-5 0 4 0-1 1-2 0-1 1 5 4-2 1 0 0 0 0-1 3 1 1 2 0-3 1 3 2-5 0 2 0-1 2 1 2-1 1 0 0 3 1-1 0 0 2-3 0 0 0 2 0-1 1 2 1 2 0-1 0-2 4 2 1 0 0 0 2-2 1-1 0 4 1 0 2-2 0 2 0-3 1-2 0 1 0 3 0-2 2 0 0-1 1 2 0 2 2-4 1 1 0 1 0 2 1-2 1-1 0-2 3 3 0 2 1-5 3 4 1-4 2 3 1 0 0 0 0 2 0-2 1 1 0-2 1 3 2-3 0 2 0-3 2 3 0-4 0 2 1-1 0 0 1 1 1-2 1 1 0 2 1-3 2 2 1-1 1 4 1-3 1-1 0 4 0-5 1 0 3 0 0 5 0-5 1 4 0-4 2 5 0-3 2-2 1 4 6-4 0 5 1-3 1-1 1 3 6 0-7 2 0 1-2-1-1 3-2-2-1 2 0-1-1 2 0-2 0-1-1 0-1 3 0 0 0 1-2-1-2-4-1 3-1-1 0 2 0 0-1-2 0-1-1 0-1 0 0 1-1 1-3 1 0-4 0 0 0 5-1-2 0-1-5-2 0 5 0-5-1 2-2 0-2-1 0 2 0 2 0-5-1 1-2-1 0 1-1-1 0 5 0-1-2 1-3 0-1-5 0 5 0-2-2-2-1-1 0 0 0 5 0 0-1-2-2-1-1 0-1-2-1 3-1 2-2-1-1 1 0-1-1-4-1 1-2 2 0-2 0-1-2 2 0 1-2 1-1-4 0 3 0 1-1-4 0 3-1-2-1-1 0 5 0-1 0-2-1 2 0-4 0 1 0 4-1 0 0-4-1-1-2 4-1-2-1 0 0 3-1-4-1 3-1 0-2 0 0 1 0 0-1 0-1-1 0-1 0 2-1 0 0-5-1 4 0-3 0 3-1-2-1 2 0-4-1 5-1-1 0-2-1 0 0 3 0-3 0 1-1-3-1 3-2-2-2 4 0-1 0-2-1 1 0-2 0 4-1-3 0-1-1-1-1 4 0-4 0 0-1 0 0 3-1-2-1-1 0 2-1-2 0 3-1 1-1-1-1 2 0-3-1 2 0-2 0-1-1 3-2-2 0-2 0 1-1 2-1-2-3 1-2-1-1 4 0-5-1 0-2 5-1-4-1 0-3-1 0 0-5 7 1 0 10-1 1 3 1-1 0-2 0 1 6 1 0 1 0-3 3 2 2 1 1-1 2-2 2 0 5 2 0-2 2 0 1 1 3 1 0-2 2 1 1 1 1-1 2 3 1-2 0 3 3-5 0 3 1 2 1 0 1-3 4-1 0 2 0-1 0 2 1-3 2-1 2 0 3 0 0 4 1 1 0-5 1 4 0-3 1-1 0 4 2-4 0 4 1 0 1 0 2-1 1 2 0-1 1-4 0 2 0-2 0 2 1 3 6 0 0-3 2 2 0-2 0-2 1 2 0-2 1 3 0 2 4-3 1 2 0-3 0 2 1 0 0-3 0 1 0-1 2 1 0 2 1-1 0-2 2 0 1 5 0-5 0 4 8 0 9-2 4-2 1 0 0 0 1 3 3 2 0-2 1-3-30 6-5 5-3-5-2 0-4 0-2 0-5 3-1-2-6-1-14 1-5-1-2 2-7-2-2 1-8 1-6-2-3 1-4 2" fill="none" stroke="none" marker-start="url(#mk7)" marker-mid="url(#mk7)" marker-end="url(#mk7)"/>
<path transform="scale(0.25)" d="M270 1286l58-1 8 4 107 0 46 5-234 0 28 2 74 5 118 4-201 6 19 1 82-1 37 1 9 1 2 0 12 0 11-2 25 1 13-1 8-2-44 9 0 0-7-1-3 2-1-2-1 1 0 1-1-4-2 2-1-2-2 0 0 4-3-2-1 1-3-2-1 3-3-2-1 2-175 3 160 2 8 0 0-3 1 0 1 1 7 2 1-1 1-2 0 2 0-1 1-2 1 1 0 2 1 2 0-4 0-1 0 4 1-3 0 3 0-4 1 2 1 0 2-1 0 3 0 1 1-4 1-1 1 3 0 1 1 1 1-4 0-1 0 3 1-3 0 0 1 2 2 3 1-3 1 3 2 0 0 0 0 0 1 0 3 0 3-3 3 0 74 3-34 3-7-2-11 5-8-3-16 2-2 1-2-1-1 0 0 0-2-1 0 0 0 2-1-4 0 4-1-2 0 0 0 1-1-1 0-1 0 3 0 0-2-2 0-2 0 2-1-1 0-1 0 2-2 2 0-4-2 1-2 2-1 1-1-1-1 0 0-1 0 1 0-1-1-1 0-2 0 5-1-3 0 2 0-1 0-2 0 3-1-3-1 3 0 1-1 0 0 0 0-3-1 0 0 2 0 0-1-1 0 2 0 0 0-3-1 3 0 0 0-1-1 1 0 0 0-4 0 4-1 0-1-1-1-2 0 3-1 0-1-2-1-1 0 3 0-2-1 2-1-3-2 3-2 0-1-1 0-1 0 2 0-5-1 5-2 0-2-2-3 2-6 0 0-2 0 0-2 0-2-1 0 3-9 0-7-4-11 2-15-3-21 11 0-2 1-3 4 2 4 2 1-2 7 2 3 1 1 0 1-1 0 0 4-3 5 2 1-2 2 4 3-3 0 2 1 1 1-4 1 0 1 1 3 2 0 0 3-1 1 1 0 0 1 1 0-1 1 1 2-1 1-2 1-1 1 3 3-2 1 3 0-1 0-2 1-2 0 4 0 1 1-5 0 4 0-3 1 4 0-2 0-1 1 1 0-1 1 0 0 1 0 2 0-2 0 1 2-1 0-1 0 1 1 1 0 1 0-3 0 1 1-2 1 4 0-4 0 4 1-4 0 0 1 2 0 1 1 1 0-1 0-2 0-2 0 0 1 1 0 3 1 1 1-2 2 0 0-1 0-1 1-1 0 2 1 2 0-1 1 0 1 1 1 1 0-5 0 1 1 4 0-4 0 0 1-1 0 4 1 0 0 0 1 0 0-4 1 4 0 1 0 0 0 0 0 0 0-5 1 2 0-2 0 3 0-2 1 3 1 1 0-2 0 0 1-2 0 2 0-1 0 1 1-2 1 4 1-5 0 1 0 4 0 0 2-1 0 1 0-5 0 0 1 5 0-4 0 2 0-1 1 3 0-1 0 0 0-3 2 1 0 1 0-1 0-2 1 2 1 1 0 2 1-1 0-3 1 4 0-2 0-2 0 4 0-4 0-1 0 2 1 0 0 1 1-1 1 2 0-1 1 2 0-2 2-2 0 3 0 0 1-1 0 2 1-4 1-1 0 3 1-1 0 0 0 3 1-3 0-2 1 4 1-4 0 0 0 5 1 0 1-2 0 1 0-3 1 0 1 2 0-3 0 1 0-1 2 4 3 1 3 0 4 0 42-2 4-3-20 9-17 0-12 1 0-3-1 3-2 1-1-4-1 3 0 1-1-3 0-1-2 0-1 3 0-2-1 2 0 1 0-2 0 0-1-3-1 5 0-3-2 2 0 0 0 1 0-5 0 5-1 0 0-1 0-1-1 1 0 1 0 0-1-2-1 2 0-2 0-2 0 1-1 3 0-1 0 0 0-1 0-1-1 3-1-4 0-1-1 5 0-5 0 2-1-2-1 1-1 2-1-1 0 3-1-3 0 2 0 1-1 0 0-4-1 3-1-3 0 0 0 1 0-2 0 5-1-2-1-3 0 1 0 3-1-4 0 1 0 3-1-4 0 5 0 0 0-3 0 0 0 0-1 2 0-1 0 2 0-5 0 3 0 1 0-2 0-2 0 2-1-2 0 1 0 0-1 1 0 1 0-1 0-2-1 0 0 2 0 0 0-1-1 4 0 0 0 0 0-1 0 0 0-1-1 2 0-5 0 2 0-2-1 0 0 5 0-4 0 3 0 1 0-5 0 3-1 1 0 1-1-2 0-2 0 4 0-5 0 5 0-5 0 4-1-2 0-1 0-1 0 1 0 1 0 0-1 1 0 2 0 0 0 0 0-5-1 2 0-1 0 2 0 0-1-3-1 3 0 1 0-1 0-1-1-1 0 3 0 1-1 0 0-3 0 1-1 0 0-2 0 1 0-2 0 2-1 1 0 2-1-3-1 1-1-1 0 3-1-5 0 4-1-3-1 0 0 3 0-4-1 5 0-1 0-3-1 0-1 3 0 0 0-1-1 2 0-3 0-1 0 1-1 0 0 1-1-1 0 2 0-2 0-1 0 2-1 1 0 0-1 0 0-2 0-1 0 1 0 0 0 2-1-1 0 1-1 1 0-1 0-1-1-2 0 3 0-2-1-2 0 2 0-2 0 1-1 1 0 2 0-3-1 1 0 2 0-1-2 0-1-2 0 1 0-1 0 1 0 1 0 1-1-1-1-2 0 3 0-4-1 2 0 0 0 2 0-2 0 3 0-2-1-2 0 1 0-1-1 2 0-2 0 4-2 0 0 0 0-4 0 2 0 0-1 2 0-5 0 2 0-2-1 3 0 2 0-1 0-4 0 4-1-4-1 5 0-1-2 1 0-3-1 3-2-3-1 0 0 3-1-2-1-2-1-1-1 2-1 3 0 0-1-1-1-1 0 2-1-2 0-1-1 3-2 0 0-2 0 0-2 0 0 0-1 1 0-3 0 1-2 2 0 1 0 0-1-4-1 4-1-3-2 1 0 2 0-1-1-1 0 0-1-1-1-1-1 2-1 2-1 0-1-1 0-1-2 2 0 0-1-1-2-2 0 3-1 0-2-1-1-2 0 3-1-2-5 2-1-4-6 6 4 2 1-1 4 0 1 2 0-2 2 2 1 0 1-3 1 2 1-3 1 2 1 3 1-5 2 4 0 1 1-5 0 5 1-1 2-4 0 0 0 5 0-1 2-3 1 3 0-4 1 5 1-1 1-2 0 1 2-3 0 4 0 1 1 0 0-1 0-1 0-2 0 3 0-1 2 0 0-3 0 2 1 1 0-1 0-1 1 0 0 2 0 1 1-3 2 1 0 2 0 0 1-1 1 0 1 0 0 2 1-1 0 0 2-3 2 1 1 1 0-2 0 0 0-1 0 3 1 1 0-3 0-1 0 5 0-3 0-1 1-1 1 3 0-2 0 2 0-2 1 3 0 1 0-1 1-1 0 2 1-3 1-1 0 2 1 2 0-4 0 2 0 2 0-5 0 5 0-2 0 2 0-1 0-1 1 2 1-3 1-2 0 1 0 3 0 1 1-5 1 5 0-4 0 0 1 2 0 0 0-2 0 4 1 0 1-2 0-1 1-2 0 0 0 0 0 3 0-2 1 4 0-5 0 2 1 2 0-2 1 1 0 1 0-2 0 2 1 1 0-5 0 3 0 1 0 1 0 0 1-3 0 1 0 1 1-4 0 4 2 0 0 1 0 0 0-3 0-1 1 4 0-2 0 1 0-4 0 3 0 1 1-3 0 1 0-2 1 0 0 0 2 2 0-2 0 0 1 2 0 2 2 0 0-2 1-1 0 3 1-1 0-1 0 2 0-3 1-1 0 5 1 0 0-2 0-2 0 3 0-4 1 0 0 3 1-1 0-2 1 3 0 2 0 0 0-1 1-3 1 0 0 0 1 4 0 0 0-3 0-1 1 0 0 3 0 0 1-1 0 2 0-2 1-1 0 1 0-3 0 5 0-5 1 4 0 1 0 0 0-3 0-2 1 2 0-1 1 1 0 2 0 1 0-2 0-3 0 1 0 1 0-2 1 2 0-1 0 4 0 0 1-1 0 0 0 1 0-1 0-3 0 0 0 2 1 0 0-2 0 0 0 2 0-1 0 0 0 0 0-2 0 4 1-2 0-1 0 2 1 2 0-2 0 2 0-5 1 4 1-2 1 3 0-5 0 5 0-1 0-3 0-1 1 4 0-1 1-1 0-1 0 0 0 2 0 1 1 1 0-2 1-1 0 2 0 1 0-3 0-2 1 0 0 3 0 0 0 1 1-2 0 1 0-1 0 0 0 0 0 0 0-1 1 3 0 1 0-5 1 4 0-4 1 3 0-3 0 5 0-1 0 1 0-5 0 3 1-2 0 4 0-1 1-2 0 1 0-1 0 2 0-4 1 4 2-2 0 3 0-4 0 3 1-1 0 2 2-5 0 2 1 2 0-4 0 5 1-4 1 3 0-4 0 4 0-3 1 4 0-1 1 0 0-1 0-1 0-1 1 1 0-2 0 4 1 1 0-3 0 2 0 0 0-2 0-2 1 1 0 3 0 1 1 0 0-3 1-1 1 2 0-1 0 1 1 0 0 1 2-1 1 0 7-1 20 1 50-2 0 6-25 0-2 1-15 0-20 3-9-5-2 5-5-1-1-3-1 1-1 3-3-5 0 5 0 0-1 0-2-1-1 1 0-3-2-1 0 2-1 2 0-3 0 0-1 2 0-3 0 2 0 2-2-3 0 1-1 1 0-2-1 0-1-1 0 0 0 3-1 1 0-5-1 0 0 2 0 2 0 0-1-2 0 1 0 0-1 1 0-4 0 1-2 0 0 0 0 3 0 0-1 1 0-5-1 5 0-4 0 0 0 2 0 0 0 2-1-3 0 3 0-3 0 3 0-4 0 1-1 3 0 0 0 0 0-3 0 1-1-2 0 0-1-1 0 2 0-1-1 3 0-1 0 2 0-4 0 2 0 2 0-2-1 2 0-5-1 5 0-3-1-2 0 1 0 2-1 0-1-3-1 4 0-3 0 2 0 0 0-2-1 0 0 4 0-1 0 0 0-4 0 4-1-2 0 2 0 0 0-3 0 2-1-2 0 1 0-1 0-1 0 2-1 0 0-2 0 5-1-4 0-1 0 0 0 3 0-3 0 2 0 3-1 0 0 0-1-1 0-2 0 2 0-1 0-3 0 3-1 1 0-2 0-2 0 3 0 0 0-3-1 4 0-2-1 3 0-3-1 0-2-2-1 3 0-3-1 5 0-3 0 0-1-2 0 4-2-4 0 1 0 0 0 3-1 1-1-5 0 4 0-3 0 1 0 1-1 0 0-3-2 5 0-2 0-1 0 1 0-2 0 1 0-2-1 4 0-2 0-1 0 0-1 2 0-3 0 4 0-2-1 0 0 0 0 0 0 1-1-2 0 1 0-1 0 1-1 0 0 0 0-1 0 1 0 0 0-1-1 3 0-1 0-2 0 4-1 0 0-4 0 0 0 3 0-4 0 1 0 2-1 1 0-2 0 1-1 2 0-4 0-1-1 0 0 5 0-3 0 3-1-1 0-2 0 1-1-2 0 1 0 0 0 1-1 2-1-1 0-4 0 4-1-3 0 0 0-1 0 1 0 0-1 2 0-1-1-1 0 2-1-2 0 3-1-2 0-2 0 2 0 2 0 1 0-5 0 0-2 1 0-1-1 5 0-3 0 2 0-4-1 0 0 2-1 3 0 0 0-3-1-2-1 1-1 2-1 1 0 0 0-4-1 5 0-4-1 0 0 0-1 0-1 4-1-1-2-1 0-3 0 5-1-4-1 3 0-1-4-3 0 4-1-1-1 0-1-2 0 0-1 0-1 1 0 3-1-3-4 3 0 0 0-2-1 1 0-1-1-3-1 0 0 4-2 1 0 0 0-1-1 1 0-3 0 3 0-5-3 0-1 0-1 3 0 0 0 2-1-3-1 2-1-2 0-2 0 3 0-1-1-1-1-1-1 0 0 5 0 0-2-3-2-2-1 5 0-3-2-1-1 2 0-3-3 1-4 5 11 5 1-3 3 1 0-2 1 4 1-5 0 0 2 1 0 3 0 1 1-1 0-4 0 3 1-1 0 1 2 2 0-1 1 0 0-2 0 1 1-3 0 1 0 3 1-4 0 0 0 4 2 0 0-2 1 1 0-1 1-1 1 4 1 0 1-2 0-1 1-1 0 1 0 2 2 1 0-5 1 3 0 2 1 0 1-3 2 2 0 0 2-3 1 1 0 1 1 1 1 0 1-2 1 1 1-3 0 0 0 3 1-1 0-1 0 1 0 0 0 1 0 0 2 0 0-3 1 4 0-4 0 0 1 1 1 4 0-3 0 0 1 3 0-5 0 2 1 2 0 0 0-1 0 0 1-3 1 1 2 2 1-1 1 0 0 0 1 1 0-1 1 1 0 2 0-2 0-1 0-2 1 2 0 2 1-3 0 0 0 2 0-2 0 2 0 0 0 0 0-2 1 1 0 3 1-3 0 0 0-1 0 4 1-2 1-1 0 1 0 2 1 0 1-4 0 2 0 1 0-4 0 0 0 0 1 5 0-1 1-4 1 1 0 2 0 0 0-1 1-1 0 0 0 2 0-3 1 0 0 4 0-2 1 1 0-1 0 3 0-3 0-1 1 4 0-2 0 2 0 0 1 0 0-2 0-1 1 0 0 3 0-5 0 1 0-1 0 3 0-1 1 0 1-2 0 1 0 3 0 0 0-2 0 2 1 1 0-5 0 3 0 0 1-1 0 0 1 0 0-1 0 3 1-3 0 0 1 4 0-2 2 1 0-1 0-2 1 0 0 3 0 1 1-3 0-1 1 2 2-3 0 3 1-2 0 4 0-4 0-1 1 0 0 3 0 1 0 0 1-4 0 5 0-4 0 3 1-4 1 1 1 4 0-4 0 2 0-3 0 1 1 1 0 0 1-2 0 4 0 1 0-2 1 1 0 0 0-2 0 0 1 2 0-3 0 0 0 1 0 1 1 2 0-1 0-1 1 1 0 1 0-2 0 0 1 1 0 0 0 0 1 0 0-4 1 4 0-2 0-2 0 2 0 0 0-2 0 5 1 0 0 0 1 0 0 0 0 0 0-2 0 2 1-1 0-2 0 2 1-3 0 2 0-3 0 3 1-3 1 5 0-2 0-2 1 4 0-2 0-1 0 2 0 1 1-5 0 4 0 1 0-1 0 0 1 0 0 0 0-1 0-3 0 1 0 1 0 2 1-3 0 2 0 1 0-2 0-2 0 0 1 0 0 2 0-1 1 1 1-2 0 2 0 0 1-2 0 4 1 1 0-4 1-1 0 0 1 2 1 0 1 0 0 2 1-2 1 3 0-1 0-3 1 3 0-2 1 3 0-5 0 2 0-2 1 3 0-1 1 3 0-5 1 1 0 3 1-2 1 2 1-3 0 3 1-3 0 4 0-3 1 2 0-4 0 4 4-3 0 2 56 8-3-5-15 4-38-2-3 2-2 0-1 1-1 0-1-4 0-1-1 1-1 1-2 0-1 0 0 2-1-2 0 0 0-1-1 0 0 1 0 1 0 0 0 2 0-2-1 0 0-2-1 0 0 0 0 1 0 1-1 1 0 0-1-2 0 2 0-1 0-1-1 3 0-4-1 0 0-1 0 2-1-1 0-1-1 4 0 0 0-4 0 0 0 2-1 1 0-2 0-1 0 5 0-3 0 1-1 0 0-3 0 3 0-2-1 4 0-4 0-1 0 5 0-5-1 0 0 4 0-3-1 3 0-1-2 0 0-3 0 1 0-1 0 5 0 0 0-1-2-1 0-2 0 4 0-2 0-3-1 0 0 2 0-1 0-1 0 0 0 2 0-2-1 3 0 0 0-2 0 0 0 4-1-5 0 4 0 1 0-3-1 2 0 0 0 1-1-1 0 0 0-1 0 0 0-3 0 5 0 0 0-3 0 3-1 0 0-4 0 0 0 2 0-3 0 2-1 2 0-3 0 3-1-1 0-3-2 3 0-1 0 3 0-4 0 1-1-2 0 0 0 5 0-4 0 1 0 0 0 2-1-4 0 0-1 3 0 0-1 1-1-1 0-3-1 4 0 1 0-1-1 1 0-2-1-2 0 0 0-1 0 1-1 1 0 0 0 2 0-4 0 4-1-4-1 0 0 1 0 0 0 1 0 1-1-1 0-2-1 1 0 3-1-3 0 4-1-2-1 1 0-1 0 0-1 1 0-1 0 0-2-3 0 3 0-3-1 1 0-1-1 3 0 2 0-1 0-3-1-1 0 3-1 1 0-2 0 1 0 1-1 1 0-1-1-3 0 3 0-2 0 1-1-3 0 4 0 1-1-1-1 0 0-4 0 2 0 3 0-5-1 4 0-4 0 1 0 3 0-4 0 1 0-1-1 2 0 2 0 1-1-1 0 1 0-1-1 0 0 1 0-1 0-2 0 3 0-3 0 2-1-2 0 0 0 2 0-1 0-1-1 1 0 1-1 1 0 0 0-3-1-1 0 4-1-5-1 3 0 1 0-3-1 3 0-4 0 5 0-3 0 1-1 0 0-1 0-2-1 3 0 2-1 0 0-5-2 3-1-2 0 1 0 2-1-3 0 1-1-1 0-1-1 3-1-2 0 4 0-4-1 3-2-2 0 0 0 0 0 1-1-2 0 1-2 2 0-3-1 2 0 1 0-4-3 1 0 1 0-1-1 0-1 3-1-2-1 3-4-1 0-3-2 1-1 0-1 2 0-4 0 3-1-3 0 0 0 4-2-4-1 3 0 2-1 0-1-4 0 1-1 1 0-1-1-1 0 0-2 1-1 0 0-2-2 5-2-4 0-1 0 4-1-3-1 3-2-3 0 2-1-3 0 1-1 2 6 3 2 0 1 0 1 3 1 1 0 0 0-4 1 0 0 1 2 1 2-2 1 0 8 2 0 1 3-1 2 3 0-2 0 1 1-4 2 0 2 2 4 1 0 1 1-2 0 0 2-1 0 3 0-2 1-1 0 3 1 0 1-1 0-2 0-1 2 1 2 2 0-2 1-1 2 0 3 0 1 1 2 0 0 0 0-1 2 0 1 3 0 2 1-5 0 2 0 1 1 0 2-3 0 3 2 0 2 1 1-1 2 0 0 0 0-3 1 1 0-1 0 3 1 2 0 0 1-2 0 1 1-1 0 0 4-3 0 0 1 0 1 1 0 1 1-2 1 0 0 2 1 0 0 1 1-2 0 1 1 1 1 2 0-2 2-2 0 2 1 2 1-3 0-2 0 0 1 4 1-1 1 0 0-2 0 0 2 3 0 0 1-1 1 1 1-2 0 2 1 1 1-3 0 2 0-4 0 0 1 0 0 1 0 2 0-3 1 0 0 3 0 1 0-3 2-1 1 5 2-3 1-2 1 2 0 3 0-1 1-2 0 2 0-3 1 1 0-1 2 0 1 2 2 1 1-3 1 0 1-1 4 2 0 3 0-4 1 0 1 0 3-1 0 0-2 7-5 3-7-4-2 0-1 0-1 1 0 2-2-2 0 0-6 0 0-1-2 3-2 0 0-2-2 0-2 1-1-2-1 3 0-3-11 1-3 3-4-3-3 2-3 0-2-3-2 3-9-2-15 0 26 5" fill="none" stroke="none" marker-start="url(#mk3)" marker-mid="url(#mk3)" marker-end="url(#mk3)"/>
<ellipse cx="103.00" cy="337.50" rx="8.00" ry="4.00" fill="#0a0aff" fill-opacity="0.45" filter="url(#bl2)"/>
<line x1="79.50" y1="258.85" x2="79.50" y2="352.70" stroke="#606060" stroke-width="1.0"/>
<rect x="43.85" y="258.85" width="94.15" height="93.85" fill="none" stroke="#1e1e1e" stroke-width="1.3"/>
<line x1="41.25" y1="352.70" x2="43.85" y2="352.70" stroke="#231f20" stroke-width="0.8"/>
<text x="37.05" y="355.50" font-size="7.5" text-anchor="end" fill="#231f20" color="#231f20" font-weight="normal" >0</text>
<line x1="42.25" y1="349.12" x2="43.85" y2="349.12" stroke="#231f20" stroke-width="0.8"/>
<line x1="42.25" y1="345.54" x2="43.85" y2="345.54" stroke="#231f20" stroke-width="0.8"/>
<line x1="42.25" y1="341.96" x2="43.85" y2="341.96" stroke="#231f20" stroke-width="0.8"/>
<line x1="42.25" y1="338.38" x2="43.85" y2="338.38" stroke="#231f20" stroke-width="0.8"/>
<line x1="41.25" y1="334.80" x2="43.85" y2="334.80" stroke="#231f20" stroke-width="0.8"/>
<text x="37.05" y="337.60" font-size="7.5" text-anchor="end" fill="#231f20" color="#231f20" font-weight="normal" >50K</text>
<line x1="42.25" y1="331.22" x2="43.85" y2="331.22" stroke="#231f20" stroke-width="0.8"/>
<line x1="42.25" y1="327.64" x2="43.85" y2="327.64" stroke="#231f20" stroke-width="0.8"/>
<line x1="42.25" y1="324.06" x2="43.85" y2="324.06" stroke="#231f20" stroke-width="0.8"/>
<line x1="42.25" y1="320.48" x2="43.85" y2="320.48" stroke="#231f20" stroke-width="0.8"/>
<line x1="41.25" y1="316.90" x2="43.85" y2="316.90" stroke="#231f20" stroke-width="0.8"/>
<text x="37.05" y="319.70" font-size="7.5" text-anchor="end" fill="#231f20" color="#231f20" font-weight="normal" >100K</text>
<line x1="42.25" y1="313.32" x2="43.85" y2="313.32" stroke="#231f20" stroke-width="0.8"/>
<line x1="42.25" y1="309.74" x2="43.85" y2="309.74" stroke="#231f20" stroke-width="0.8"/>
<line x1="42.25" y1="306.16" x2="43.85" y2="306.16" stroke="#231f20" stroke-width="0.8"/>
<line x1="42.25" y1="302.58" x2="43.85" y2="302.58" stroke="#231f20" stroke-width="0.8"/>
<line x1="41.25" y1="299.00" x2="43.85" y2="299.00" stroke="#231f20" stroke-width="0.8"/>
<text x="37.05" y="301.80" font-size="7.5" text-anchor="end" fill="#231f20" color="#231f20" font-weight="normal" >150K</text>
<line x1="42.25" y1="295.42" x2="43.85" y2="295.42" stroke="#231f20" stroke-width="0.8"/>
<line x1="42.25" y1="291.84" x2="43.85" y2="291.84" stroke="#231f20" stroke-width="0.8"/>
<line x1="42.25" y1="288.26" x2="43.85" y2="288.26" stroke="#231f20" stroke-width="0.8"/>
<line x1="42.25" y1="284.68" x2="43.85" y2="284.68" stroke="#231f20" stroke-width="0.8"/>
<line x1="41.25" y1="281.10" x2="43.85" y2="281.10" stroke="#231f20" stroke-width="0.8"/>
<text x="37.05" y="283.90" font-size="7.5" text-anchor="end" fill="#231f20" color="#231f20" font-weight="normal" >200K</text>
<line x1="42.25" y1="277.52" x2="43.85" y2="277.52" stroke="#231f20" stroke-width="0.8"/>
<line x1="42.25" y1="273.94" x2="43.85" y2="273.94" stroke="#231f20" stroke-width="0.8"/>
<line x1="42.25" y1="270.36" x2="43.85" y2="270.36" stroke="#231f20" stroke-width="0.8"/>
<line x1="42.25" y1="266.78" x2="43.85" y2="266.78" stroke="#231f20" stroke-width="0.8"/>
<line x1="41.25" y1="263.20" x2="43.85" y2="263.20" stroke="#231f20" stroke-width="0.8"/>
<text x="37.05" y="266.00" font-size="7.5" text-anchor="end" fill="#231f20" color="#231f20" font-weight="normal" >250K</text>
<line x1="42.25" y1="259.62" x2="43.85" y2="259.62" stroke="#231f20" stroke-width="0.8"/>
<text transform="translate(13.55,305.77) rotate(-90) scale(0.62,1)" font-size="9.5" text-anchor="middle" fill="#231f20" color="#231f20">FSC-H</text>
<line x1="53.74" y1="352.70" x2="53.74" y2="355.30" stroke="#231f20" stroke-width="0.8"/>
<text x="53.74" y="365.10" font-size="7.5" text-anchor="middle" fill="#231f20" color="#231f20" font-weight="normal" >0</text>
<line x1="65.22" y1="352.70" x2="65.22" y2="355.30" stroke="#231f20" stroke-width="0.8"/>
<text x="63.32" y="365.10" font-size="7.5" text-anchor="middle" fill="#231f20" color="#231f20" font-weight="normal" >10</text>
<text x="67.62" y="361.70" font-size="5.0" text-anchor="start" fill="#231f20" color="#231f20" font-weight="normal" >2</text>
<line x1="87.54" y1="352.70" x2="87.54" y2="355.30" stroke="#231f20" stroke-width="0.8"/>
<text x="85.64" y="365.10" font-size="7.5" text-anchor="middle" fill="#231f20" color="#231f20" font-weight="normal" >10</text>
<text x="89.94" y="361.70" font-size="5.0" text-anchor="start" fill="#231f20" color="#231f20" font-weight="normal" >3</text>
<line x1="107.68" y1="352.70" x2="107.68" y2="355.30" stroke="#231f20" stroke-width="0.8"/>
<text x="105.78" y="365.10" font-size="7.5" text-anchor="middle" fill="#231f20" color="#231f20" font-weight="normal" >10</text>
<text x="110.08" y="361.70" font-size="5.0" text-anchor="start" fill="#231f20" color="#231f20" font-weight="normal" >4</text>
<line x1="128.02" y1="352.70" x2="128.02" y2="355.30" stroke="#231f20" stroke-width="0.8"/>
<text x="126.12" y="365.10" font-size="7.5" text-anchor="middle" fill="#231f20" color="#231f20" font-weight="normal" >10</text>
<text x="130.42" y="361.70" font-size="5.0" text-anchor="start" fill="#231f20" color="#231f20" font-weight="normal" >5</text>
<line x1="71.94" y1="352.70" x2="71.94" y2="354.20" stroke="#231f20" stroke-width="0.6"/>
<line x1="75.87" y1="352.70" x2="75.87" y2="354.20" stroke="#231f20" stroke-width="0.6"/>
<line x1="78.66" y1="352.70" x2="78.66" y2="354.20" stroke="#231f20" stroke-width="0.6"/>
<line x1="80.82" y1="352.70" x2="80.82" y2="354.20" stroke="#231f20" stroke-width="0.6"/>
<line x1="82.59" y1="352.70" x2="82.59" y2="354.20" stroke="#231f20" stroke-width="0.6"/>
<line x1="84.08" y1="352.70" x2="84.08" y2="354.20" stroke="#231f20" stroke-width="0.6"/>
<line x1="85.37" y1="352.70" x2="85.37" y2="354.20" stroke="#231f20" stroke-width="0.6"/>
<line x1="86.51" y1="352.70" x2="86.51" y2="354.20" stroke="#231f20" stroke-width="0.6"/>
<line x1="56.34" y1="352.70" x2="56.34" y2="354.20" stroke="#231f20" stroke-width="0.6"/>
<line x1="58.51" y1="352.70" x2="58.51" y2="354.20" stroke="#231f20" stroke-width="0.6"/>
<line x1="60.27" y1="352.70" x2="60.27" y2="354.20" stroke="#231f20" stroke-width="0.6"/>
<line x1="61.77" y1="352.70" x2="61.77" y2="354.20" stroke="#231f20" stroke-width="0.6"/>
<line x1="63.06" y1="352.70" x2="63.06" y2="354.20" stroke="#231f20" stroke-width="0.6"/>
<line x1="64.20" y1="352.70" x2="64.20" y2="354.20" stroke="#231f20" stroke-width="0.6"/>
<line x1="94.25" y1="352.70" x2="94.25" y2="354.20" stroke="#231f20" stroke-width="0.6"/>
<line x1="98.18" y1="352.70" x2="98.18" y2="354.20" stroke="#231f20" stroke-width="0.6"/>
<line x1="100.97" y1="352.70" x2="100.97" y2="354.20" stroke="#231f20" stroke-width="0.6"/>
<line x1="103.13" y1="352.70" x2="103.13" y2="354.20" stroke="#231f20" stroke-width="0.6"/>
<line x1="104.90" y1="352.70" x2="104.90" y2="354.20" stroke="#231f20" stroke-width="0.6"/>
<line x1="106.39" y1="352.70" x2="106.39" y2="354.20" stroke="#231f20" stroke-width="0.6"/>
<line x1="107.69" y1="352.70" x2="107.69" y2="354.20" stroke="#231f20" stroke-width="0.6"/>
<line x1="108.83" y1="352.70" x2="108.83" y2="354.20" stroke="#231f20" stroke-width="0.6"/>
<line x1="114.40" y1="352.70" x2="114.40" y2="354.20" stroke="#231f20" stroke-width="0.6"/>
<line x1="118.33" y1="352.70" x2="118.33" y2="354.20" stroke="#231f20" stroke-width="0.6"/>
<line x1="121.12" y1="352.70" x2="121.12" y2="354.20" stroke="#231f20" stroke-width="0.6"/>
<line x1="123.28" y1="352.70" x2="123.28" y2="354.20" stroke="#231f20" stroke-width="0.6"/>
<line x1="125.05" y1="352.70" x2="125.05" y2="354.20" stroke="#231f20" stroke-width="0.6"/>
<line x1="126.54" y1="352.70" x2="126.54" y2="354.20" stroke="#231f20" stroke-width="0.6"/>
<line x1="127.83" y1="352.70" x2="127.83" y2="354.20" stroke="#231f20" stroke-width="0.6"/>
<line x1="128.98" y1="352.70" x2="128.98" y2="354.20" stroke="#231f20" stroke-width="0.6"/>
<line x1="134.74" y1="352.70" x2="134.74" y2="354.20" stroke="#231f20" stroke-width="0.6"/>
<line x1="44.79" y1="352.70" x2="44.79" y2="354.30" stroke="#231f20" stroke-width="0.55"/>
<line x1="46.16" y1="352.70" x2="46.16" y2="354.30" stroke="#231f20" stroke-width="0.55"/>
<line x1="47.52" y1="352.70" x2="47.52" y2="354.30" stroke="#231f20" stroke-width="0.55"/>
<line x1="48.89" y1="352.70" x2="48.89" y2="354.30" stroke="#231f20" stroke-width="0.55"/>
<line x1="50.25" y1="352.70" x2="50.25" y2="354.30" stroke="#231f20" stroke-width="0.55"/>
<line x1="51.62" y1="352.70" x2="51.62" y2="354.30" stroke="#231f20" stroke-width="0.55"/>
<line x1="52.98" y1="352.70" x2="52.98" y2="354.30" stroke="#231f20" stroke-width="0.55"/>
<line x1="54.35" y1="352.70" x2="54.35" y2="354.30" stroke="#231f20" stroke-width="0.55"/>
<line x1="55.71" y1="352.70" x2="55.71" y2="354.30" stroke="#231f20" stroke-width="0.55"/>
<line x1="57.08" y1="352.70" x2="57.08" y2="354.30" stroke="#231f20" stroke-width="0.55"/>
<line x1="58.44" y1="352.70" x2="58.44" y2="354.30" stroke="#231f20" stroke-width="0.55"/>
<line x1="59.81" y1="352.70" x2="59.81" y2="354.30" stroke="#231f20" stroke-width="0.55"/>
<line x1="61.17" y1="352.70" x2="61.17" y2="354.30" stroke="#231f20" stroke-width="0.55"/>
<line x1="62.54" y1="352.70" x2="62.54" y2="354.30" stroke="#231f20" stroke-width="0.55"/>
<text transform="translate(87.63,373.50) scale(0.72,1)" font-size="9" text-anchor="middle" fill="#231f20" color="#231f20" font-weight="normal" >Siglec-7</text>
<text x="107.00" y="314.00" font-size="8.4" text-anchor="middle" fill="#231f20" color="#231f20" font-weight="normal" >93.7%</text>
<path transform="scale(0.25)" d="M253 1795l16 21 4-1-9 7-2-3-10-1-7 0-13 0-17 9 12 2 29 0 17-3 6-2-7 9-4-2-1 4-12-2-1 1-20-4 6 8 13 0 7-1 12-1 1 3 26-2-26 5-11 2-47 1 41 4 1 0 19 9-11-2-15 3-18-3 16 7 11-3 4 3 5-2-23 5 25 9" fill="none" stroke="none" marker-start="url(#mk0)" marker-mid="url(#mk0)" marker-end="url(#mk0)"/>
<path transform="scale(0.25)" d="M339 1780l7 1-20 2 12 7 2 0 3 1 3 1 4-3 26 4 91-4-133 7-20-2-18 5-16-1 28 7 3-3 5 2 2 1 10-1 2-3 12 1 1-2 3 2 2-2 2 5 2-2 7-2 2 0 2 2 31 5-23 2-3-2-3-1-1 1-5 0-1 0-4 0-7 0-2 0-4-1-7 2-3-2-4 2-2 0-1-2-4 4-3-3-22 4 6 2 12-2 15 2 2 3 1-2 9 0 2 0 2-1 3 2 2 0 7 0 14 1 110-3 30 5-134 4-4-3-7 3-1-4-2 1-4-2-2 3-4 1-2 0-2-3-1 2-9-2-2-1 0 4-1 1-4-3-6-1-3 4 0-4-10 4-6 0-20 2 34 0 4 2 4-1 2-1 1-1 4 2 8-1 2 0 3 4 0-1 3-2 1 2 1-4 4 3 21-3 2 5 3 0 114-5-33 7-93 3-3-3-4 4-2-3-1 3-4-5 0 1-2 2-7 1-1-2-6 0-1-1-2 0-1 0-9 3-2 0-3-3-1 2-3-3-2 2-4 3-4-4 0 1-5 1-19 2 18 6 3 0 9 0 2-1 8-4 6 3 1 0 3 1 1-2 2 0 2 0 4 2 0-1 1 0 2-1 2 1 2 0 4 2 11-5 6 0 113 3-106 6 0 0-6 1-15-4-6 5-1-2-3-1-9 1-11 1-4 0-20-1-4-2-6 2 0-1-3-2-4 0 4 10 3 1 5-3 1 2 7-4 3 1 0 3 2-2 4 1 5-2 10 0 0 4 4-1 6 0 5-3 4 4 10-1 14-4 5 5 3-3-14 5-4 3 0-2-6 0-5 1-10-1-6 0-10 3-3 0-7-1-16-2-3-2-2 2-3-1 4 5 5 4 4 0 8 0 10-2 8 2 4-1 4 0 0-3 1 3 2 1 1-3 3 2 4 0 0-1 7 2 3-3 18 10-25-5-11 4-15-4-3 5-6-4-6-1-4 0-28 4 25 4 39 3-9 10 12-3 32 1-20 5" fill="none" stroke="none" marker-start="url(#mk0)" marker-mid="url(#mk0)" marker-end="url(#mk0)"/>
<path transform="scale(0.25)" d="M446 1781l18 2-25 2-59 4 19 1 3 3 0-5 12 3 1-1 5 2 0 1 2 0 4-1 16-1 19-1 10 1-1 6-8 2-2-4-4-1-2 3-1 0-2-1-17 1-4 0-3 0 0-2-1-1-2 3 0 1-1-1-1 2-10-4-1 2-5 2 0 0-1-2-31 1-2 5 16 0 1 2 5-4 5 2 1-1 0 2 4-4 0 2 6 0 1 1 2 2 1-4 0 1 12 1 5-1 0 2 1-3 0 4 7-5 0 0 2 0 1 1 7 0 2 0 0 1 2 3 1-2 1 2 1-2 0 2 3-5 10 2 14 1 7 8-10-3-4 2-3 1-2-4-1 2-1 1-11-1 0-2-5 2-1-2-1 1 0 1 0-2-1 3-2-2 0 3-1-2-5 0 0-2-4 2-1-3-2 3-6-3-1 3-3 2-1 0-1 0-1-4 0 2-3 0-1-3 0 0-1 4-9-2-4 3 0-2-3-1-4-2 0 3-1-2 0-1-1 0-3 4-3-2 0 3-1-3-6 0-16 1-6 2 10 2 0 4 8-1 1-4 2 2 1 3 0-2 1-2 0-1 4 3 2 0 1-2 0 4 0-3 4 2 0 0 2-1 0-3 3 5 1 0 1-4 1 1 3 3 0 0 1-2 0 2 3-4 4 2 4-3 3 4 8-4 1 5 0-3 1 3 5 0 1-5 2 5 0-4 1 2 0-3 1 1 1 0 0 3 0-4 4 5 1-4 1 4 4 0 2 0 5-1 1 1 6-1 1-2 3-2 18 1-18 8-3 0-6 2-2 0 0-5-1 0-4 4-1-3 0 0-2 3-2-2 0 1-1 0 0-3-7 1 0 2-4-2-1-1-3 2-3 0 0 1-2 1 0-1-1 0-1-2 0-1-3 3-3 1 0 0-1-1-1 1 0-4 0 5-2-3-1-1-1 4-3-5-1 5-2-5-5 0-3 2-1 2 0 1-1-3-2 3-4-2 0 1-2-4-2 5-8-4-1 1-6-1-2 3-8 5 5-3 4 0 1 4 0 1 2-5 0 3 4-1 1-1 3-1 7 3 1 2 1-3 0-2 0 1 4 0 1 4 1-3 0-1 5 2 0-1 1-2 1 2 0-1 5-1 2 3 0 2 3-4 1 0 1-1 0 0 4 1 3 3 1 0 0 0 0-1 3 2 0-5 2 4 1-1 2 0 3 2 1-5 1 2 1 1 1 1 1-3 1 3 2 1 1-1 2-3 0 1 3 1 1 2 3 0 2-1 3 0 2 1 1-1 0-2 1 1 1-2 2-1 0 0 2 3 0 1 0-1 2 2 5-1 1-4 2 5 2-5 1 5 18 4-17 2 0-3-3 2-2-2-1-1-2 4-1-1-5-4-1 3-1-2-1 4-4-3 0 0-1 1-1-3-5 0-4 4 0 0-2-4-1 0-2 1-1 2-1 2 0-2-1 1-3-3-1 0 0-1-1 0 0 2-1 2 0 1-1-4-1-1-1 1 0 0-1 4-2-4 0 0-2 1-1 1-1 0 0-3-3 3-1 0-1 2-1-3 0 2-1-1-1-3-1 2-2 1 0 1-1-3-4 2-1 2-1-5-1 3 0-3 0 1-1 2-2-1 0 1-2 0-2-1 0 3 0-1-1 0 0-1-1-1-1 1-2 2 0-4-2 3-3 0-4-3 0-1-2 1-1 1-2 0 0 2-4-2-1 2-1 0 0-1-1-1-1 3-2-3-11-2-3 7 6 2 7 1 3-4 6 4 2-1 1 1 2 1 1-1 2-4 4 2 1 0 1-1 2 4 4-5 1 1 1-1 2 3 3 2 2-1 0-2 3 1 0 0 5-3 1 3 1-1 2-2 1 3 2-3 1 0 1 2 0 1 1 0 1 1 2-1 2-3 1 2 2-1 1-1 1 4 2-3 3 0 0 4 0 0 2-1 0-4 1 2 1 0 0-2 1 3 0-3 1 1 1 1 0 2 0-2 2 1 2-2 2-1 1 1 1 4 1-1 0-3 1 4 0-5 0 4 1-3 0-1 0 1 2 0 1 3 2 1 0-5 1 0 0 3 4-2 0 4 0-2 8-2 1 0 14 10-9-4-2 2-1-3 0 2-6 3-1-2-1-2-1 4-1-1-1 1-7-4-4 0-1-1 0 5-4 0-1 0-3-1 0-1-2 1-1 1-1-2 0 2 0 0-1-1-6 0-2-2 0 3-1-5-2 4-1 1-4 0-2-3-3 2-2-3 0 0-5 1-2-1-1 3-1 1-3-3-2 2-4-4-1 4-1-3 0 2-1-1-1-1 0 1-2 0-3 2-7-3 0 1-1 3-1-4 0 4-1-4-2 0-1-1 0 1-1 2-2-1-5 0-2-2-2 2-1-1 11 5 4 1 4 1 0 0 2-1 0 4 0-1 7-3 1 0 11 2 0 2 1-2 1 0 2 2 2-3 0 1 2 0 1-2 0 3 3-2 1 0 3-2 0 2 1 0 1 1 1-2 2 4 0-2 0-2 2 1 1-1 2 1 2 3 1-2 4-2 1 1 5 3 1-4 2 0 1 3 0-3 0 2 1-3 2 5 2-2 2 1 6-1 5 1 0-1 3-2 0 1 2 2 0 0 0-4 8 5-10 2-4-1-2 1-1 4-1-5-4 3 0-2-3 4-1-1-1-3-2 3-1-3-1 2 0-2 0-1 0 1 0 4-1 0-4-5-1 5-1-1-1-1-1-3-2 1-2 3-2-1-2 2-1-5 0 3 0-3-3 1-1 4-3-2-1 0-3 2-3-2 0-2-9 0 0 0-1 0 0 3-1-4-1 3-2-3-1 5-1-3-2 1-3 0 0-3-6 0 0 1-1-1-2 2-2-2 0 4-2-3-1 0-1 3-9-1-8-1-3 4 13 1 2 3 1-3 8 3 1-1 1 0 4-2 1-1 0 4 5-1 0-2 3 3 1-2 1-2 0 1 1 3 1 0 9-2 2 2 1 1 0-1 8-4 1 5 2-5 2 0 0 5 3 0 1-2 1 2 1-5 3 4 3 1 3-3 1-2 5 5 1-3 5 0 1-2 7 3 6 4-2 3-2-3-1-1 0 1-4 0-2 1-2 1 0 2-1-1-3-1-3 0-3-3-4 5-1-1 0 1-8-4 0-1-1 2-3-1 0 0 0 4-9-5-2 2 0-2-3 1-3 1 0-2 0 3-1 0-4 1-3 1-4-3-2-1-1 2-3 1 0 1-1-2-5-2 0-1-3 1 0 0-5 1-4 0 0 8 17-2 11-1 1-1 8 5 5-2 0 0 3 1 1-1 4-2 3-1 0 1 11 0 22-1 1 5 1 3-16 3-1-2-2 1 0-4-6 4-20-3-17 1-20-2 19 10 30-3 0 5-13 6" fill="none" stroke="none" marker-start="url(#mk0)" marker-mid="url(#mk0)" marker-end="url(#mk0)"/>
<ellipse cx="57.00" cy="459.00" rx="11.00" ry="5.50" fill="#3a3a3a" fill-opacity="0.4" filter="url(#bl0)"/>
<path transform="scale(0.25)" d="M212 1783l5 8 4 2 20-1 46 7-10 0-3 0-3-5-5 5-14 0-1 0-2-3 0-2-2 5-8-4-4 3-7 0 0 1-1-2-7 1-2-3-3 3-3 1-4-5 0 4-3 1-1-5-2 0-17 5-2 0-1 5 11 0 3 0 2-3 1 2 0 1 1-3 1 3 0 0 1-4 0 5 1-4 1 3 1 1 0-4 2 3 1-3 1 2 0 2 1-4 1 3 0 1 2-2 0-2 0 2 1-1 2-1 1 4 3-1 2-3 0 3 0-2 1 2 1 0 0-1 2 0 0 1 1-3 2 0 5-1 1 2 5 3 0-5 2 4 2-4 1 3 1 0 0-2 2 4 0-3 6 0 1-1 2 2 3 0 1 2 1-1 1-1 1 2 0-3 2 1 4 1 0-1 18 3-5 5-1-1-7-1-1-1-4 1 0 0 0 2-3 0 0-1 0 1-1-3 0 2-2 0-1-2-1 0-1 0-1 1-1 1-1-1 0 1 0-4-4 1 0 3 0-1 0 2-1 0 0-5 0 5-2 0-3 0-2-3 0 2 0 0-5-3 0 1-2 1 0 0 0 0 0 1-1-2-1 0 0-1 0 2 0-2-1 4-1-4 0 1 0 2-1-2 0 1-3-3-1 4-1-2-1 3 0 0 0-4-2 3-1 1 0-1-3 0-2 0-1 1-2-3-1 3 0 0-1-5-1 2-1 0-3-2 0 0 0 4 0-2-1 0-2-2-1 2 0 2-3-1-3-3-1 5-2-5-1 3 0 1-1 0 0 0 0 1 0 0 0-4-1 3-1-1-2 1 0-2 0 2-3 0-1-1-3 0 0-3 0 3 0-1-1 3-2 5 0-4 0 2 2 2 0-2 3 2 0-2 1 3 0-3 1 1 1-1 1 2 0-3 0 2 1 0 0 1 2-3 1 1 1 1 1-2 0-1 1 2 0 3 0 0 3-3 1 1 1 1 2-4 0 5 2-4 1 1 0 2 1 1 0-5 0 0 0 4 2 0 0-3 2 1 0-1 1 3 0 0 3 1 1-4 0 0 1 3 1-2 0 3 2-2 1 2 0-4 0 1 0 1 1-1 1-1 0 4 1-3 0 0 1 0 2 3 0-4 0-1 0 1 1-1 0 2 1 3 0-2 2-2 0 0 0 2 1-2 0 4 0-4 1 3 3-3 1 1 0 1 1 1 1 0 0 0 1 0 0 1 2-2 1-2 0 4 1-3 0 2 0 1 0-1 1-3 2 4 0-5 1 1 2 0 0 2 0 2 2-4 0 4 1-2 1-3 1 4 0-4 1 3 0-1 0 3 0-4 2 0 0 0 1 1 0-1 1 3 0-2 1 0 0 1 2-1 1-1 0 1 0 1 0-3 3 5 2-5 1 1 1 2 4 0 1 0 1 0 1-1 1 1 0 1 4-1 0-3 1 2 6 7-5 1-1 1-3-2-2-2-1 2-1-2 0 2 0 1-1 1-1-2 0-1 0 1-1 0 0-2 0 0-1 4 0-2-2 0 0-3 0 5-1-2-1-3 0 4-1 1-1-5-5 4 0-1-1 1 0-4-1 2 0 1-3 2-1 0 0-3 0 3 0-5-1 4 0-2-1 1 0-2 0-1-1 3 0-3 0 4-1-4-1 1-1 0-2 4-3-2 0 2 0-3 0 3-1-5 0 3 0-2-1 3 0-1-2 1 0-1-1 2 0 0-2-1 0-2-1 0-1 2 0 1-2 0-1-5 0 5 0-5-1 2 0 3 0-3 0-2-1 4-1-3-1 0-1 1-1 0-1-1-1 2 0 0-1 1-1-1 0 0 0 1-1-1 0 0-1 2-2 0-1-2 0 1-1-3 0 2-1-2-1 4 0-3 0 3-1-2-1 2-4-3 0 2-1-2-3 0-1 1-1-2-1 3 0 1-1-5 0 0 0 2 0 2 0-1-1 1 0-2 0 0 0 2-1-1-1-3 0 4-3-1-1-2 0 3-2 0 0 0-1-2-4-2 0 3 0 0-1-1-1 1-2-1 0-2 0 3-1-3-2 1-2 1 1 8 3-4 0 0 0 3 1 1 0 0 2 0 0 0 1 1 0-2 2-3 1 0 1 4 0-3 2-1 1 0 0 1 1 1 1-2 0 1 2 0 1 2 1-2 1-1 1 4 1-1 1 2 1-4 2 2 0 0 1 1 0-3 1 2 2 2 0-5 2 4 1 1 0-3 1-1 0 2 0-3 1 4 2-4 2 1 1 4 0-5 0 2 1 0 1 1 2-2 0 4 1-2 3 1 0-3 1 2 0 1 1 0 0-4 1 0 1 0 1 5 0-2 1-1 2 0 0 2 1-3 5-1 1 0 1 3 1 2 0-3 0 0 0-1 2-1 1 4 0 0 1-1 0-3 0 5 0-1 1-3 2 4 1-5 1 1 0 2 0-3 2 1 1 3 1-4 1 1 2 0 1 3 0 1 0-3 2 0 0 2 0 0 2-2 2 1 0-2 2 0 0 4 0-1 1 1 0-5 2 3 0-3 1 3 1 1 1 0 1 0 0 1 0-5 1 3 1-2 4 1 0 0 2 0 1 1 7-1-6 8-1-3-3 0-4 4-1 0-1-3 0 1-5-3 0 5-1 0-1 0 0-4-1 3 0-1-2-1 0 0-1 2-1 0-1 1-1-3-2 2-1 0 0-3-2 0 0 1-1 2-2-1-4 2-2 0 0-1-1 1 0-4 0 4 0-4-1 2 0 0 0 1 0-2-2 0 0 3-1-4 0 3 0 0 0-2-2 3 0-2 0-1-2 1 0-3-1 1 0 2 0 2-1-4-1 1-1 1-1-2-5 4-2-4-2 3 0 0-1-1-3 1 0-3 0 1-1 2 0-4-1 5-1 0-1 0 0 0 0-3-2 2-1-2 0-1-1-1-4 5 0-2 0-3-2 0-1 3-1 2 0-4-1 4 0 0-1 0 0-3-1 2-3 0-1-3-3-1-1 5-1 0-1-5 0 5-1 0-1-3 0-2-1 3 0-1 0 2-1 0-1 0 0-1-1-3 0 5-1-2 0-2-3 4-1-3 0 0-1-2 0 5-2-3 0 9 2-5 0 5 0-1 0-3 1 0 3 0 0 2 1 0 1-3 1 5 0-4 0 4 1-3 2-1 2-1 1 3 0 0 1-3 1 3 1-2 1 0 0-1 0 1 1 4 0-3 1 0 1-1 3-1 0 1 0-1 1 3 0-2 1-1 1 4 4 1 1-1 0-3 1 3 1-2 0-2 2 0 0 4 1-2 1-1 0 1 0 2 1-3 0 0 0 1 1-2 3 0 0 2 1 0 0 2 0-2 1-1 2 0 0-1 0 0 0 1 1 1 0-2 1 4 0-1 0 0 1 0 1-3 1 5 1-5 1 3 0 0 1-3 1 2 0 0 0-2 0 0 2 0 0 0 2 4 0 1 2-5 0 0 2 5 2-1 1-2 0 1 1 0 1-2 0-1 1 4 0-3 3 3 0 1 0-4 0-1 1 0 1 3 0 0 0-1 1 2 1-2 0 1 1 0 1 1 0-4 0 5 2-5 0 5 1-3 0-2 0 4 0-1 1-3 3 0 0 4 0-2 1-2 1 0 1 5 3-5 0 4 1 0 1-3 2 0 0 1 0 2 1-3 0 2 1-3 0 2 0 3 0 0 2 0 1-2 2-1 1-2 1 3 0 0 0-1-4 7 0-1-2 1-1-3-3 0 0 4 0 0-1-3 0 4 0-4 0 4-1-1-2-1-1 0 0 1-1-3-1 0 0 2 0-1 0-2-2 0-1 2-1-2 0 4 0-2 0 3 0-4-1 0 0 2-1 0 0-2-2 0-1 3 0-3-1 4 0-2-1-3-1 5-1-1-1-1 0-2-1-1 0 1-5 1 0 2-2 1 0-1 0-2-1 2-1 1-1-3-2 2-2-2 0 0 0 1-1-2-1 2-1-3-1 0 0 4-1 0-1-3-1 0-5-1 0 1-3-1-2 3-2-2 0 2-1-3 0 4 0 0-1-2 0 0 0 1 0-2 0 3-1-3-1 0 0 3-3-1-1 1 0 0-1 0 0 0-1-3-1 0-1 1-1-2 0 1-1-1 0 5-4-5 0 5-1-4 0 3-1-4-1 2-1 0 0 3-1-3-2 3 0-2 0 1-1-1 0 2-1-4-1-1 0 5 0-1-2-4 0 3-2 0-1-2-2 4-1-3 0-1-1 2-2 2-2-3-1 6 1 0 2 1 2-1 1 2 1 1 0-5 2 3 1 2 3-3 0-2 1 4 0-3 0 1 0 1 0 0 0 1 1-2 1 1 0 2 1 0 1-5 1 5 2-3 1 3 0-5 0 1 1-1 0 2 1 3 1 0 1-3 2-2 0 3 1-1 1 1 0 1 0-4 0 0 1 5 0-1 3-4 1 2 3 1 1-2 0 3 0-1 1-2 0 4 2-3 1 0 0-2 0 0 3 4 4 1 0-1 0-2 3 2 0 0 2 1 1-5 1 4 2-3 0 1 1 3 1-2 2 2 0-2 0-3 0 5 1-5 1 1 1-1 2 3 0 2 1-1 3 1 0-3 1 3 0-3 0 3 1-4 2 1 2 2 1-4 2 0 1 4 1-2 0 1 3-1 0-2 0 5 2-2 0-3 0 5 1-2 1 2 0-4 1 3 5-3 0 3 1-4 0 3 1 2 1-4 0 4 0 0 0-5 1 3 0 1 2-2 3 3 0-2 2 2 3-4 0 3 3-3-6 7-1 1-2-1-2 3-2-1 0-1-3-3-1 3 0-1 0 1-2-3-1 2-1 2-4-3-1 4-1-5-1 2 0-1 0 4-2-3 0 1 0 0-2-2 0 1 0 3 0-1-1 1 0-4-1 3-2-1 0-1-2 1-1-2-1 4 0-4-2 0 0 4-3-5-1 4-4-3 0-1-1 0-1 3-1-2 0 1-1 0 0-1-1 0 0-1-3 0 0 5 0 0-1-3 0 0-1-1 0 3-1-1 0-1-1 2-1-2-1-1 0 3 0 0-2 1-1-5 0 1 0-1-1 5-2-3-2 1-2 2-3 0-2-1-3 0-1-4-3 5 0 0 0-1 0-4-1 5-1-2 0-1-1 2 0-3-2 3-1 0-1-2-3-2 0 1-1 3-1-4 0 2-1 2 0-1-1 1-1 1-1-5-1 5 0-4-1 1-1 0-1 2-1 1 0-5 0 1-2 3 0-1-2 1 0 5 1-3 2 0 3 2 1 1 1 2 2-3 1 3 0-5 1 2 1 3 0-1 0 0 3 0 0-3 0 3 1-2 2-1 0 0 0 1 2-1 1 2 2-2 1 4 2-4 1-1 1 3 1-1 2-2 0 4 2 1 0-3 3 0 1 0 0 3 2-3 1 0 2-1 1 2 1-1 1 0 0 3 3-4 1 1 1 0 1-1 0 1 1 0 1 2 2-3 2-1 1 1 2 2 2 0 3-1 0 3 2-5 1 1 1-1 0 1 3 0 1 2 0-3 2 3 0-1 2 1 1 0 1-1 1 0 2 3 0-1 1 1 1-4 0 2 0 2 0-5 1 1 1 2 1-1 2 1 0-3 1 4 0-3 2 0 1 1 1-2 2 2 1 0 15-2-14 9-2-3 0 1-1 0-1 0-1 4-1-5-2 3-3 1-5-3-1 0-1 0-1 2-5 2-4-5 0 0-2 3 0 1-2-1-4-2-1 4-4-4-4 4 0-4 0 0-2 3-2-2-2-2-2 0 0 1-1-1 0 1-1 1-1-2-3 2-1-1-1 2-1-1 0 0-1-1 0-1-2 5 0-4 0 0-1-1-1 1 0-1-1 2-2 3-3-3 0-1-1 1-3 2-1-1-2-2 0 2-2 2 0 0-2-3-2-2-7 2-4 4 4 0 5 5 6-2 2 0 7-3 0 0 0 0 3 4 2-2 2 1 1-3 1 2 2-2 3 1 1 3 0-2 3 0 2 0 0-1 1 3 1-2 4-2 1 2 1-2 2 0 0 5 1-4 0 1 2 2 8-3 0-1 1 2 6 2 2-2 3-2 19 1-48 9-24-2" fill="none" stroke="none" marker-start="url(#mk1)" marker-mid="url(#mk1)" marker-end="url(#mk1)"/>
<path transform="scale(0.25)" d="M253 1801l20 8-8 1-33 4 6 0 0 3 0-5 22 1 0-1 2 1 0 2 9-2 6 3-3 5-1 1-2 1-1-3-8 1-7 0-3-1-4-1 0 3-10 0-5 0-1-1-2-1 3 9 0-3 4 3 2-2 2 2 3-3 6 1 6-3 3 0 1 2 1 0 3-2 0 2 11-1 1-1 4 6-4 4-1 1-3-3-1 1-11 2-1-4-7 4-3-1-10-2-9 3 0 0-12-1 12 4 2 3 4-4 3 1 11 3 40 5-11-2-6 1-5 0-5 2-19-4-7 3-1-4 4 7 6 2 1 2 7 0 0-3 4-2 11 1 6 1 1 7-6-3-3 0-8 1-2-1-3 3-10 2-1-5 3 8 15 0 16-2-4 7-1-1-16 6 7 0" fill="none" stroke="none" marker-start="url(#mk5)" marker-mid="url(#mk5)" marker-end="url(#mk5)"/>
<path transform="scale(0.25)" d="M327 1789l9 4 3-3 136 8-113-4-21 3-2 2 0-5-3 2-7 2-8-3-7 4-14 0 0 4 8 1 2 0 3 1 1-2 1 0 9 0 0 1 4-4 9 5 3-5 0 1 1 3 0 1 4-3 1-2 1 1 4 4 1-3 2-1 0-1 2 1 2 3 8 0 14-2 0 9-15-5-5 1-1 1-2 2-1 0-1-3-7 2-6-1-1 2-2 0-2-2-1 3-1-3 0 3-3-4-4-1-1 2-7-1-2 4 0-3-2 3-9-1-1-2-3 1-3 0 3 7 1-3 1 4 11-2 1 2 2-4 2 0 2-1 1 5 1 0 0-2 1-2 1-1 2 0 2 4 2-4 1 2 3 1 1-1 0 0 3 0 2-1 0 3 0-1 3 2 2-1 2-4 1 1 3-1 0 2 1 3 0-1 0-4 1 1 0 3 1-1 2 1 1-1 0 0 4-3 2 1 1-1 1 4 3-3 1-1 105 10-106 0 0 0-4-1-4 1-3-2 0 1-2 1-1 1 0 0-1-2 0 1-2-4 0 0-3 0-1 3-2 2 0-4-1 0-2 1 0 1-4-1-1 0-2 0 0-2-1 4 0 1-1-1 0-2 0 2 0-4-2 5-1-5-6 2-3 0-1 3-6 0-2-3-3 1-3-3 0 1-1 4-3-5-1 1-4 2-4 7 7 1 2-3 1-1 0 0 1 0 0 4 1-5 0 0 3 0 1 2 2-2 1 0 1 0 2 3 0-3 1 3 0 1 1-1 3 1 0-3 1 0 4 2 0 2 1-4 0 1 2 2 0-2 0 2 1-1 1-1 1 0 1 2 0-3 1 4 3 0 1-2 0 2 1-3 1-2 0 1 1 0 3-1 2 1 3 3 4-4 1 1 1 0 2 3 0 0 1 1 1-5 0 4 2-2 1-1 1 4 1-5 0 4 1-3 0 3 5 1 1-1 4 1 2-3 5-2 95 5 5-3 8-2 12 5 12 1-34 3-1 1-6 1-92-5-8 1-5 1 0 0-3 3 0-2 0 1 0-4-1 5-5-1 0 1-1-5 0 4-2-1-8 1 0-2-1 0-1 0 0 1-1 0-1-2-1 3-1 0-2-4-3 5-4-4 0 3-4-4 0 4-2-3-1 0-1 1-2-1 0 4-1-1 0-2 0 2-1-3-1 2-4 0-4-2-11 3-1 0-3-4-3 0-8 5 1 4 6-2 0 0 1 3 10 0 1-1 3-3 2 3 3 2 1-5 1 3 0-1 0 2 3-3 1 4 1-2 5 2 4-2 1-1 3 2 0-3 1 4 3-5 1 4 0 0 4-3 1 1 1 3 2-4 0 0 1 1 0 2 0-1 1-1 1 2 5-3 4-1 2 0 0 3 3 1 0 1 1-3 1-2 0 4 1-3 0 2 4-2 7 5-1 3-5 2-1-1 0-4-1 5-8-4 0 0-4-1-1 4-1 0-2-2-3 1 0-1-5 0-2 1-4 0 0-3-3 4-2-1-2 2-1-2 0 2-5-2-1-1-1-1-1-1 0 4 0-1-4 1-6-3-1 4 0-5-1 0-2 4-6-4-3 5-1-5-3 1-4-1-4 3 8 6 4-2 5-1 0 5 1 0 0-1 1 0 1-4 0 5 2-1 1-3 1 1 0 2 0-3 2 3 1-4 0 3 2-2 4 4 0-1 1-2 2 2 1 0 3-2 0 1 1-3 0 4 2-3 3 1 4 1 0 1 1-3 0-1 0 4 4-3 5 3 4 0 0-4 2 1 2 2 3-1 6-2 1 0 8 4 3-2 98-2-103 7-3 2-7-3-1 0 0 1-2 4-3-4 0 0-1 2 0 2-2-1 0 1-4-5-4 3-2-2-1 2-2-2-3 1 0 3-3-1-2-4 0 1 0 1 0 2-2 1-2 0 0-5 0 0-1 3 0-3-3 1-5 3-7 0-1-3-5-1-1 0-3 4 0 0-3 1-4-1 2 5 3 0 4-2 0 3 2-4 1 0 6 5 0-2 5 2 1-4 4 3 1-1 4-3 3 5 1-4 2-1 0 4 1 0 4-2 0-2 2 0 1 3 2-1 3 1 3 2 1 0 4-1 1-4 2 3 2-2 1-1 0 3 1-3 9 1 113 0 9 7-17-1-9 2-103-3-6 4-1-4-7 0-1 1-7-1-11 0-5 5 0-4-1 4-6-5-3 2-2-2-3 0-1 1 0 0-6-1-4 2-4 6 8 2 7 0 1-3 5-1 1 4 12-2 3 1 6-2 4 1 2 8 5 4" fill="none" stroke="none" marker-start="url(#mk5)" marker-mid="url(#mk5)" marker-end="url(#mk5)"/>
<path transform="scale(0.25)" d="M432 1787l-24 4 1 0 1 2 21 0 4-1 4-2 4 2 11 0 16 5-16-3-2 2 0 3-1-5 0 5-2-2-4 0-1 1-1 0-3-1-3-2-2 1 0-2-2 5-4-5-2 2-3-1 0 0-1 2 0 1-2 1-1-4 0 2-1 2-1 0 0-1-3 1-1 0 0-3-1 0 0 0 0 1 0 0-2-1-1-1-4 3-1-2-1-2-3 0-3 2-1-2-3 5-4 0-1-3-1 3-6 5 9-2 1-2 2 3 1 1 4 1 1-1 2-2 0 2 1-1 1 2 0-3 1 1 3 0 0-3 1 5 4-2 1-1 1-2 1 0 1 2 0 1 1 1 0 1 3-1 0 1 1-3 2 2 2-3 0 1 0 2 1-2 1-1 2 1 2 3 1-3 2-1 0 4 1-5 1 4 0-1 1-1 2 2 1-1 0-1 3 0 0-2 1 0 0 5 1-1 2 1 1-5 1 4 2-1 0-2 1 1 0 1 2-1 1-2 2 4 0-1 0 2 1-5 0 4 3 0 0-2 1 3 6-1 0 1 8-2 2 8-3-1-4-1-2 0-1 1-1 0-1 1-3-1-1-2-1 1-1-3-1 3 0-1-1 3-1-3-1 1-2 2 0-3-1 2-1 1-1-3 0-1 0 2-1 0-1 0-1-3-1 3 0-3-1 4 0-2-1 1-1 0 0-1 0 0 0-1-2 0-1-1 0 5 0-4 0 2-1-3 0 2-2 1 0-1 0 2-1-2-1-2-1 1-1 1 0 2 0-1-1 1 0-4-2 3-3 2 0-3-1-1 0 0-1 0-1 3 0 1 0-3-1 3-1-2 0 1 0-1-1-3 0 2 0-2 0 3-1-2-1 2 0-2-1 2 0-2 0 2-1-1 0 0 0 1 0 0-1-1-1 2-2-3-1 1-1-1-2 0 0 0-1-1 0 5-1-4 0 2 0 2-2-1 0 1 0-4-2 0 0-1 0 5-1-4-1 0-1 4 0 0 0-1-1-1-1 1-1-4 0 1-1 0 0 2-1-3-1 3-3-3 0 4-1-1 0 0-1-3-1 2-3 3-1-2-1 0 0-1 0 3 0-5-2 1-2-1-1 5 0-3-11 9 4-5 3 0 0 4 3-3 0 4 1-1 3-2 1 3 0-3 0 2 2-4 1 5 0-1 1 0 0 1 1 0 0-1 2-4 0 4 1 1 3-5 1 2 1 3 1-5 1 0 1 0 1 5 0-5 0 1 1 1 1 2 2 0 1 0 1-4 2 1 1 0 0 2 0 1 1 0 0 1 1-3 0-2 1 1 0 0 1-1 1 4 1-3 1 4 1-4 2-1 1 4 0-1 0-1 1 2 1-4 0 5 0-4 1 2 0 2 0 0 1 0 4-3 1 3 1-4 1 1 2-2 0 1 0-1 1 1 2 3 0-2 1 3 0-5 1 2 0 1 0 0 2 0 0-1 1-1 1 3 1-2 0 0 1-2 0 4 1-3 1 2 0 1 2-2 0 3 1-5 0 1 1 0 0 3 1-1 0 0 1 1 0-3 0 0 1 0 1 4 0-3 1 3 0-1 2-4 0 5 1 0 0-2 2 2 1-3 0 3 1-5 1 5 0-1 1-3 1 2 2-1 3 2 13 5-1-1-7 2-4 1-1-1 0-4-1 2 0 2-1-4 0 4-2-1 0 2-1-4 0 4-1-3-2 2-1 0 0-4 0 0-1 0 0 2-1 1 0-3 0 4 0 0-2-4 0 4 0 0 0-2 0 2-1 0 0-4 0 0-1 4 0-2-2 1 0 1-1-1 0-2-1 1 0-1-4 0-1 4 0-2 0 1-1-3-1 4-1-4 0 4 0-4-1-1 0 5-1-1-1-1 0-1-2 3 0-2 0-3-1 2 0 0-1-2-1 2-1-2 0 0 0 3 0 2-1-1 0-2-1-1-1 2 0 0-1-1 0 2-2-3 0 3-1-4 0 1 0 0 0 1-1 2 0 1-1-5 0 2 0 3-2-3-1-1-1 2 0-3-1 2 0 3-1-2-1-1-2 1-1-1-1 1-3 2 0-1-1-4 0 4-1 0 0-2 0 0-1 3 0-2-2 2 0 0-2-1 0-3 0-1 0 5-1-2 0 1 0-3-4-1 0 0 0 5 0-1 0 0-2-3-1 0 0 3 0-2-1 2-1-1-1 1 0-1-1-3 0 5 0-3-1 0-2-2-1 1 0 4-1-5 0 1-1 1 0 1 0-2 0 4-1-1-5 1 0-2 0-3-1 0-2 5-1-3 0 1 0-1 0-1-1 3 0 1-1-1 0 1 0-4-1 4 0 0-1 0 0-3-6 2-1-3 4 6 1 2 2 0 3 1 1-2 0 3 1-3 1 3 1-1 1-1 1 1 0-1 0-3 1 1 0 0 0 3 1-2 3 2 2-4 0 5 2-5 0 3 0-2 1-1 1 4 1-4 0 4 2 1 0-3 0-1 3 2 0-1 0 2 1 0 0 0 0-2 0 0 1-1 0 3 0-4 1 0 0 0 2 0 0 5 2-2 1 1 1 1 1-3 1 2 0-1 0 0 0-3 1 5 2-4 1-1 0 0 2 3 0 0 1 2 0-5 0 0 1 2 1 1 0-1 1 0 1 3 0-4 0 4 0-2 2-1 0 3 1 0 0-5 0 1 2 4 0-3 1-2 0 1 0 4 1-3 1-2 0 0 0 0 1 4 0 1 1 0 1-1 0-3 1 0 0 3 1-4 0 3 1 2 0-4 2 4 0-2 2 1 0-4 0 2 1 0 0 3 1-5 1 1 0 2 1 2 2-5 1 1 0 0 0 0 0 3 0-4 3 2 0 2 1-3 0 1 0 2 1-2 1-1 0 2 1-3 0 1 0 0 2 1 0 0 1 1 1 0 1 2 0 0 0 0 0 0 2-4 1 4 0-3 2-1 1 2 0 1 0 0 0-3 1 2 0-1 2 0 0 0 0-2 1 5 0 0 1-4 0 2 0-1 0-2 2 3 0 2 1-3 0-1 1 2 0-2 1-1 0 2 0 2 2 0 2-4 1 2 4 2 0 5-2 0-1-1-3-1 0 1-3-1-1 1 0-1-1 4 0-1-1-2 0 0-1 0 0 0-2 0-1 3 0-4-1 2-3 1-1-3 0 1-1 2 0-4-1 1-1 1-1-2-1 0 0 4 0 0-1-2 0-1 0 2-1-1-2 1 0 1 0 1 0-4-2 0 0 3-1 0 0-1 0-3-1 5-1-2-1-1-2-1-1 1 0 1 0 0-1 0-1 0-1-1-1 3-1 0-1-1-1-3 0 4 0-5 0 1-1 1 0 2 0-1 0 1 0-2-1 3 0-2 0-2-1 2 0-2-1 0 0 3 0-3 0 3-1 0-1 1-2-2-2-2 0 2-1 1-1 1 0-5 0 2-1 2 0-3-2 1 0 3 0 0-1-2-1 0-1 0 0-1-1-2 0 0 0 4-1 1-1-2-1-3-3 5-2-4-1-1-1 5-2-3 0 0-2 1 0 1-1 0-1-2 0-2 0 5-1-1 0-3-1 4-1-5 0 3-3-3-1 5 0-2-1-1 0 0-1 1 0-3-1 3 0 0-3-1 0-1 0 0-1 0-1 2 0 1-2 1 0-3-1 1 0-3-1 3 0 0 0 2-1-5 0 4-1 0 0-2 0 3-1-2-1 2-2-5-1 3-1 0-1 1 0-3 0 1-3 2-1 0-1-2 0 0-1 0-2 0 0 0 0 5 6 4 1-4 0-1 1 3 0-1 1-2 2 2 0 2 0-2 0-2 2 2 0-1 1 3 0 0 1-1 1 2 1-5 1 4 1 1 0-5 0 3 1-2 1 3 0 0 1 1 1-5 1 1 1 2 3-2 0 0 0 4 1-4 0 1 1 3 1-1 1-2 1-1 0 2 0-1 0 3 1 0 2-2 0-2 1 3 0 0 1 0 1-1 0 0 1 2 1-1 0 0 0-2 1 3 1-3 0 2 1-1 0-1 1 2 1 0 1 1 0-5 2 3 0 1 1-3 1 1 0 3 1-4 0 4 1-5 0 3 1 1 2 1 0-3 0-2 1 5 1-5 0 4 2-2 0 0 2 0 0-2 1 3 1 0 0 2 0-5 0 5 1-3 0 0 1-1 1 4 0-2 1 1 0-3 0 4 0-1 0 0 1-4 0 3 0-1 1 0 1 1 0 1 1-3 0 0 1 0 0 3 1 1 0-3 0 1 1-3 0 5 0-5 1 5 1-4 1 4 1-5 0 2 0-1 1 4 0-5 0 0 1 4 1 0 1-2 0 3 2-1 0 0 1-3 0 0 0-1 1 3 0-3 0 1 0 4 2-4 0-1 0 3 1 0 0-2 1 1 0-2 0 2 4 0 0-2 2 5 1-4 1-1 0 3 0 1 1-3 1 2 0 2 0-1 1-1 1 2 2-2 2-3 1 0 1 2 0 3 1 0 0-2 0 1 1-1 1 2 2-2 1 2 2 0 4 3-9-2-4 0-1 1-1 3-1 0 0-4-2 2 0 3-1-2 0-1-1 0-1 3-1-4 0 3-1-2 0-2-1 0 0 1-1 1-1 0-1-1 0 4 0-4-2 2 0 1-2-1 0 2-1-3 0 3 0 0-2 0 0-3-1-2 0 0 0 1 0 2-2-1-1-2 0 3-1-2-2 1 0 1 0 0 0-2 0 3-1 1 0-1-1-1-2-2 0-1 0 1 0 3-1 0 0 0 0-2 0 1-1 2-1-3 0-2-2 3-1 1-1 1 0-2 0 2-1-4 0 1 0 1-1-2 0 2-1 0 0-2-1 4 0-4-1 3-2 0 0-2 0 2-1-2 0 1-1 1 0 0-1-3-1 3-1-2 0 3-1-2-1-1-1-1 0 0-1-1 0 0-1 2 0 3-1-4-1 0-1-1-1 5 0-4-1 3-1-1-1 1 0-2-1-2 0 3-1 2-2-5-1 4 0-3-1 3 0 0 0-4 0 0 0 4-1 1 0-5-1 0 0 4-1 0-1-3 0-1-1 3 0 1-2 0 0-2 0 3-1-4-2 3 0 1 0-2-1-3 0 0 0 4 0-4-2 3-1-2 0-1-1 1-1 0 0-1-1 1-1 1-1-2 0 0 0 3 0-2 0-1-1 0-1 1-2 1-2 2 0-1 0-3 0 0-1 0 0 1-3 1 0-2 0 1 0 3-7-4-3 3-1 5 2 2 0 0 2-1 1 1 1-3 1 4 3-5 0 5 1-3 0-1 4-1 0 1 0-1 1 1 1 2 0-3 0 2 0 0 1 3 0-4 2 1 0 2 0-1 0-3 1 5 1-4 1 2 0 2 1-4 1 1 0 1 1-2 0 4 0-5 2 3 0-2 0 1 1 3 0 0 0-2 0-1 1-2 1 3 0 0 4 1 0-2 0 3 1-3 0-1 1 0 0 0 1-1 0 4 0-1 1-1 0-2 1 4 0-2 0-2 2 5 0-5 0 2 0 0 1-2 0 4 2-1 1-2 1-1 2 3 0-1 0-1 1 2 0 2 1-5 0 5 0-4 1 4 1-2 0-1 1-1 0-1 0 4 0-1 0 1 1 0 0 0 1 0 1-1 0 2 2-5 3 3 0-1 0-1 1 2 0 0 0-3 1 4 0-3 2 0 0-1 2 2 0-2 1 4 0 1 0-3 1 1 0 0 0 1 2 1 1-4 0 2 1 1 2-4 0 1 0 0 1 4 1 0 1-1 1-1 0 0 0 2 0-3 0-1 1 1 0-2 2 3 0-1 0 2 1-3 0 2 1-3 0 1 0-1 0 0 3 3 2-3 0 1 1 1 0 0 0-1 1 4 1-3 0 1 0-2 0-1 0 5 1-2 1-2 1 0 1 2 0 2 2-2 2-1 1-1 1 0 0 4 1 0 1-3 1 0 0 1 0-3 0 2 1 0 0 3 3-2 1-2 0 4 4-5 0 0 8 0-13 10-1-4-2 0-2 1 0 3-2 1-1-2 0 2-2-5 0 5-1-1 0 0-1-4-2 4 0 0-2-1-1-2 0 3-1-4-1 3-1-1 0-1-1 1 0-2-1 3 0 1-2-4-1 3 0 2-1 0 0-2 0 2 0-4-1 1 0 2-1-2-1 2 0-2 0 3 0 0-1-5 0 0-1 2-1-1-1 4 0 0 0-5 0 2 0 2 0-4-1 3-2 2 0-5-1 0-1 2 0-1-1 2-2 2 0 0 0-5-4 5 0-1-3 1-1-4 0 0 0 0-1 1 0 1-1-2-1 0-1-1 0 4-2 0 0-4-1 5 0-3-2 2 0-2 0 3-1 0 0-3-1 0 0 1 0-3-1 0 0 3-1 1 0 1 0-4 0 1-2 0 0-2-1 5 0-4-1 0 0-1-2 5-2-2-1-2-1 1 0 0-2 3-1-5 0 4 0-1-1 2 0-2 0 2-1-5-1 4-3-4-1 3 0 2-1-3-1 1-1-2 0 3-1-1-1-1 0 1 0-3 0 3-2-2 0 2-1 0-1-3-1 2 0-1-1-1 0 3-1-2 0-1 0 1 0 2-1 0-10 4 0-1 6 0 3 1 3 2 4 0 2-2 2 0 1 2 1-3 1 3 0-3 2 1 0 0 1 1 1-1 1 3 0-1 3-2 0 0 1 0 1 2 1-2 0-1 1 0 0 0 2 1 0 4 1 0 0-1 1 1 0-3 1 3 0-1 0 1 0-4 1 1 1-2 0 5 1-4 0 0 0-1 0 3 0-2 1-1 0 5 0-1 3-2 1 1 0 2 0-2 0 0 1-1 0 2 0-2 2-2 0 2 3 2 1 0 0-2 2 3 1-3 0 2 1-3 1 4 0-4 1-1 0 4 1-3 0 3 1 1 0-5 0 2 1-1 0 0 1 3 0 1 0-5 1 2 0-2 1 2 1 1 1-3 1 5 0-4 0 4 1-2 0 2 1-3 1 1 0-3 0 0 0 4 1-1 1-2 0-1 0 1 1 0 1 0 1 2 0-2 0 2 1-1 4 2 1-4 0 3 0-1 0-2 1 1 1 0 1 2 0-1 1-1 1-1 1 4 1 0 3-3 2 1 0-1 2 3 1 0 0 1 1-1-5 4-3-1-1 0-2 0-1 1-2 0-3 1-1-1-1-2-3 2 0 1-1 0-2-3-1 0-1 4-1 0 0-4 0 2-1-1-1 1-1-2-1 1-1-1 0 0 0 1 0 0-3-1-1 1-1 4 0-1-1 1-2-5-1 4 0-2-2 0 0 2-1-2 0 0 0 1-2 2 0-5 0 4 0-4-2 5 0-1 0-2-1 3-1-4-1-1-3 2-1 3-1-2 0 1-1-2 0 0-1 2-2-2-3-2 0 1 0 4-4-3-1 2-2-2-3-1 0-1-2 4-1 0-4-2-1 0-4 2 3 4 4-2 1 5 6 0 5-3 4-1 4-1 3 2 5 2 1-1 2-3 10 0 8 5 1-5 1 3 1-3 0 2 2-2 10 1-13 5-3 0-26 2" fill="none" stroke="none" marker-start="url(#mk3)" marker-mid="url(#mk3)" marker-end="url(#mk3)"/>
<ellipse cx="106.00" cy="458.50" rx="10.50" ry="6.50" fill="#0a0aff" fill-opacity="0.45" filter="url(#bl0)"/>
<line x1="73.00" y1="380.10" x2="73.00" y2="478.40" stroke="#606060" stroke-width="1.0"/>
<rect x="43.85" y="380.10" width="95.65" height="98.30" fill="none" stroke="#1e1e1e" stroke-width="1.3"/>
<line x1="41.25" y1="478.40" x2="43.85" y2="478.40" stroke="#231f20" stroke-width="0.8"/>
<text x="37.05" y="481.20" font-size="7.5" text-anchor="end" fill="#231f20" color="#231f20" font-weight="normal" >0</text>
<line x1="42.25" y1="474.65" x2="43.85" y2="474.65" stroke="#231f20" stroke-width="0.8"/>
<line x1="42.25" y1="470.90" x2="43.85" y2="470.90" stroke="#231f20" stroke-width="0.8"/>
<line x1="42.25" y1="467.15" x2="43.85" y2="467.15" stroke="#231f20" stroke-width="0.8"/>
<line x1="42.25" y1="463.40" x2="43.85" y2="463.40" stroke="#231f20" stroke-width="0.8"/>
<line x1="41.25" y1="459.65" x2="43.85" y2="459.65" stroke="#231f20" stroke-width="0.8"/>
<text x="37.05" y="462.45" font-size="7.5" text-anchor="end" fill="#231f20" color="#231f20" font-weight="normal" >50K</text>
<line x1="42.25" y1="455.90" x2="43.85" y2="455.90" stroke="#231f20" stroke-width="0.8"/>
<line x1="42.25" y1="452.15" x2="43.85" y2="452.15" stroke="#231f20" stroke-width="0.8"/>
<line x1="42.25" y1="448.40" x2="43.85" y2="448.40" stroke="#231f20" stroke-width="0.8"/>
<line x1="42.25" y1="444.65" x2="43.85" y2="444.65" stroke="#231f20" stroke-width="0.8"/>
<line x1="41.25" y1="440.90" x2="43.85" y2="440.90" stroke="#231f20" stroke-width="0.8"/>
<text x="37.05" y="443.70" font-size="7.5" text-anchor="end" fill="#231f20" color="#231f20" font-weight="normal" >100K</text>
<line x1="42.25" y1="437.15" x2="43.85" y2="437.15" stroke="#231f20" stroke-width="0.8"/>
<line x1="42.25" y1="433.40" x2="43.85" y2="433.40" stroke="#231f20" stroke-width="0.8"/>
<line x1="42.25" y1="429.65" x2="43.85" y2="429.65" stroke="#231f20" stroke-width="0.8"/>
<line x1="42.25" y1="425.90" x2="43.85" y2="425.90" stroke="#231f20" stroke-width="0.8"/>
<line x1="41.25" y1="422.15" x2="43.85" y2="422.15" stroke="#231f20" stroke-width="0.8"/>
<text x="37.05" y="424.95" font-size="7.5" text-anchor="end" fill="#231f20" color="#231f20" font-weight="normal" >150K</text>
<line x1="42.25" y1="418.40" x2="43.85" y2="418.40" stroke="#231f20" stroke-width="0.8"/>
<line x1="42.25" y1="414.65" x2="43.85" y2="414.65" stroke="#231f20" stroke-width="0.8"/>
<line x1="42.25" y1="410.90" x2="43.85" y2="410.90" stroke="#231f20" stroke-width="0.8"/>
<line x1="42.25" y1="407.15" x2="43.85" y2="407.15" stroke="#231f20" stroke-width="0.8"/>
<line x1="41.25" y1="403.40" x2="43.85" y2="403.40" stroke="#231f20" stroke-width="0.8"/>
<text x="37.05" y="406.20" font-size="7.5" text-anchor="end" fill="#231f20" color="#231f20" font-weight="normal" >200K</text>
<line x1="42.25" y1="399.65" x2="43.85" y2="399.65" stroke="#231f20" stroke-width="0.8"/>
<line x1="42.25" y1="395.90" x2="43.85" y2="395.90" stroke="#231f20" stroke-width="0.8"/>
<line x1="42.25" y1="392.15" x2="43.85" y2="392.15" stroke="#231f20" stroke-width="0.8"/>
<line x1="42.25" y1="388.40" x2="43.85" y2="388.40" stroke="#231f20" stroke-width="0.8"/>
<line x1="41.25" y1="384.65" x2="43.85" y2="384.65" stroke="#231f20" stroke-width="0.8"/>
<text x="37.05" y="387.45" font-size="7.5" text-anchor="end" fill="#231f20" color="#231f20" font-weight="normal" >250K</text>
<line x1="42.25" y1="380.90" x2="43.85" y2="380.90" stroke="#231f20" stroke-width="0.8"/>
<text transform="translate(13.55,429.25) rotate(-90) scale(0.62,1)" font-size="9.5" text-anchor="middle" fill="#231f20" color="#231f20">FSC-H</text>
<line x1="54.18" y1="478.40" x2="54.18" y2="481.00" stroke="#231f20" stroke-width="0.8"/>
<text x="54.18" y="490.80" font-size="7.5" text-anchor="middle" fill="#231f20" color="#231f20" font-weight="normal" >0</text>
<line x1="88.71" y1="478.40" x2="88.71" y2="481.00" stroke="#231f20" stroke-width="0.8"/>
<text x="86.81" y="490.80" font-size="7.5" text-anchor="middle" fill="#231f20" color="#231f20" font-weight="normal" >10</text>
<text x="91.11" y="487.40" font-size="5.0" text-anchor="start" fill="#231f20" color="#231f20" font-weight="normal" >3</text>
<line x1="109.85" y1="478.40" x2="109.85" y2="481.00" stroke="#231f20" stroke-width="0.8"/>
<text x="107.95" y="490.80" font-size="7.5" text-anchor="middle" fill="#231f20" color="#231f20" font-weight="normal" >10</text>
<text x="112.25" y="487.40" font-size="5.0" text-anchor="start" fill="#231f20" color="#231f20" font-weight="normal" >4</text>
<line x1="130.99" y1="478.40" x2="130.99" y2="481.00" stroke="#231f20" stroke-width="0.8"/>
<text x="129.09" y="490.80" font-size="7.5" text-anchor="middle" fill="#231f20" color="#231f20" font-weight="normal" >10</text>
<text x="133.39" y="487.40" font-size="5.0" text-anchor="start" fill="#231f20" color="#231f20" font-weight="normal" >5</text>
<line x1="95.07" y1="478.40" x2="95.07" y2="479.90" stroke="#231f20" stroke-width="0.6"/>
<line x1="98.80" y1="478.40" x2="98.80" y2="479.90" stroke="#231f20" stroke-width="0.6"/>
<line x1="101.44" y1="478.40" x2="101.44" y2="479.90" stroke="#231f20" stroke-width="0.6"/>
<line x1="103.49" y1="478.40" x2="103.49" y2="479.90" stroke="#231f20" stroke-width="0.6"/>
<line x1="105.16" y1="478.40" x2="105.16" y2="479.90" stroke="#231f20" stroke-width="0.6"/>
<line x1="106.57" y1="478.40" x2="106.57" y2="479.90" stroke="#231f20" stroke-width="0.6"/>
<line x1="107.80" y1="478.40" x2="107.80" y2="479.90" stroke="#231f20" stroke-width="0.6"/>
<line x1="108.88" y1="478.40" x2="108.88" y2="479.90" stroke="#231f20" stroke-width="0.6"/>
<line x1="73.93" y1="478.40" x2="73.93" y2="479.90" stroke="#231f20" stroke-width="0.6"/>
<line x1="77.66" y1="478.40" x2="77.66" y2="479.90" stroke="#231f20" stroke-width="0.6"/>
<line x1="80.30" y1="478.40" x2="80.30" y2="479.90" stroke="#231f20" stroke-width="0.6"/>
<line x1="82.35" y1="478.40" x2="82.35" y2="479.90" stroke="#231f20" stroke-width="0.6"/>
<line x1="84.02" y1="478.40" x2="84.02" y2="479.90" stroke="#231f20" stroke-width="0.6"/>
<line x1="85.44" y1="478.40" x2="85.44" y2="479.90" stroke="#231f20" stroke-width="0.6"/>
<line x1="86.66" y1="478.40" x2="86.66" y2="479.90" stroke="#231f20" stroke-width="0.6"/>
<line x1="87.74" y1="478.40" x2="87.74" y2="479.90" stroke="#231f20" stroke-width="0.6"/>
<line x1="116.21" y1="478.40" x2="116.21" y2="479.90" stroke="#231f20" stroke-width="0.6"/>
<line x1="119.93" y1="478.40" x2="119.93" y2="479.90" stroke="#231f20" stroke-width="0.6"/>
<line x1="122.58" y1="478.40" x2="122.58" y2="479.90" stroke="#231f20" stroke-width="0.6"/>
<line x1="124.62" y1="478.40" x2="124.62" y2="479.90" stroke="#231f20" stroke-width="0.6"/>
<line x1="126.30" y1="478.40" x2="126.30" y2="479.90" stroke="#231f20" stroke-width="0.6"/>
<line x1="127.71" y1="478.40" x2="127.71" y2="479.90" stroke="#231f20" stroke-width="0.6"/>
<line x1="128.94" y1="478.40" x2="128.94" y2="479.90" stroke="#231f20" stroke-width="0.6"/>
<line x1="130.02" y1="478.40" x2="130.02" y2="479.90" stroke="#231f20" stroke-width="0.6"/>
<line x1="137.35" y1="478.40" x2="137.35" y2="479.90" stroke="#231f20" stroke-width="0.6"/>
<line x1="45.09" y1="478.40" x2="45.09" y2="480.00" stroke="#231f20" stroke-width="0.55"/>
<line x1="46.48" y1="478.40" x2="46.48" y2="480.00" stroke="#231f20" stroke-width="0.55"/>
<line x1="47.87" y1="478.40" x2="47.87" y2="480.00" stroke="#231f20" stroke-width="0.55"/>
<line x1="49.25" y1="478.40" x2="49.25" y2="480.00" stroke="#231f20" stroke-width="0.55"/>
<line x1="50.64" y1="478.40" x2="50.64" y2="480.00" stroke="#231f20" stroke-width="0.55"/>
<line x1="52.03" y1="478.40" x2="52.03" y2="480.00" stroke="#231f20" stroke-width="0.55"/>
<line x1="53.41" y1="478.40" x2="53.41" y2="480.00" stroke="#231f20" stroke-width="0.55"/>
<line x1="54.80" y1="478.40" x2="54.80" y2="480.00" stroke="#231f20" stroke-width="0.55"/>
<line x1="56.19" y1="478.40" x2="56.19" y2="480.00" stroke="#231f20" stroke-width="0.55"/>
<line x1="57.58" y1="478.40" x2="57.58" y2="480.00" stroke="#231f20" stroke-width="0.55"/>
<line x1="58.96" y1="478.40" x2="58.96" y2="480.00" stroke="#231f20" stroke-width="0.55"/>
<line x1="60.35" y1="478.40" x2="60.35" y2="480.00" stroke="#231f20" stroke-width="0.55"/>
<line x1="61.74" y1="478.40" x2="61.74" y2="480.00" stroke="#231f20" stroke-width="0.55"/>
<line x1="63.12" y1="478.40" x2="63.12" y2="480.00" stroke="#231f20" stroke-width="0.55"/>
<text transform="translate(92.78,499.20) scale(0.72,1)" font-size="9" text-anchor="middle" fill="#231f20" color="#231f20" font-weight="normal" >Siglec-7</text>
<text x="113.00" y="436.00" font-size="8.4" text-anchor="middle" fill="#231f20" color="#231f20" font-weight="normal" >95.8%</text>
<path transform="scale(0.25)" d="M768 1777l128 8-3 1-46 1-40 0-30 0-4-5-33 8 28 3 5-2 1 1 1-3 5 4 15-3 4 2 1 1 30-3 22-2 23 2 28 6-4 0-10 0-8-2-4 3-6-1-14 2-2-4-6 2-26 3-3-2-28 2-9-1-5-3 0 2-5 1-6-4-8 0 0 4-18-1-2 1 3 3 8 2 9-2 1 4 0-1 1-1 2-2 2 2 1-1 0 3 2-3 0 3 1-1 0-1 1 2 1-1 2 1 0-2 1 0 0-1 1 3 4-3 0-2 2 2 1 3 1-5 0 4 2-4 3 0 0 2 1 2 1-1 0 2 1-3 0 1 0-2 1-1 1 3 0 0 2 0 0-1 1 2 1-1 3 2 4 0 7-3 3 3 4-1 15-1 13 1 7 1 4-2 0 2 1-2 5 2 4-4 2 0 1 0 3-1 0 0 1 4 3 0 0-2 2 2 0-4 3 2 1 3 0-2 2 0 3 2 1-1 2 0 2 0 4 1 11-5-11 9-2-3-2 2 0 0-3-1-1 4 0-4-4 2-1 1-5-4 0 0-1 1-3 3 0 0-1-3 0-1-1 5 0-3 0 2-2 0-1-3-2 4-1 0-1 0-4-5 0 3-1 0-2-2 0 4-1 0-1-2-1 2-1-3-4 3-1-5-1 1-1 4-2 0-1-1 0-3-2 4-1-2-4 0 0-2-3 3-1-2 0-1-6 3-3-3-1 1-5-1-1 0-2-1-1 1-5 3-4-1 0 2-2-1-1 0-1 0-1-2 0 2 0-2-1-2-1 1-3 4 0-1-1-1-3 1-1-4 0 5 0-2-1-1-4 3-1-2-3-3 0 2-5 1-2-3 0 2-5-2-1 5-1-3-3 3-1-4-1 3-2-2 0 3-1-5-1 1-4 2-1 2 0-1-2-1 0 1-1-3 0 4-3-3-3 1-6-2-2-1-2 2 3 7 4-3 2 1 3 4 4 0 0-3 2-2 2 0 3 1 2 2 0 1 0-4 3 2 1 3 0-3 1 2 1 1 1 0 1 0 2-1 1-1 3-3 0 2 3-2 4 3 0-3 0 0 0 0 1 1 2 3 2-4 0 3 1-2 1 2 3-3 0 3 3-1 0-2 1 1 5-1 2 0 2 3 0 2 1-3 0 1 2 1 4-4 2 4 2-2 5 3 0-5 2 5 3 0 4-1 1-3 0-1 6 0 5 3 4-1 2-1 1 2 0-1 2 1 2-2 5 2 3-3 0 4 1-3 0 4 0-2 3-1 1 0 2-1 0-1 3 4 2 0 0-1 2 2 2 0 0-1 1 0 5-1 1-1 1 0 0 3 1 0 1-5 0 2 4 0 2 0 0 1 1 0 0 1 2 1 0-3 0 1 2 1 5-1 1 2 0-1 0-1 1 2 1 0-1 1-1 1-1 3-1-4-4 3-2 1-2-2-1-2-2 5 0-3-2 0 0 1-1-2 0-1-2 0 0 3-5 1-2 1 0-2-1-3-1 4-1-1 0 1-2 1-1-1-3-2-3 1-3 1-2 1 0-1-1-2-5-2-1 0-2 4 0-4 0 3-1-3 0 3-1-2-2 2-1 0-1 2-5-4-3 1 0 1-4-1-3 3-2-5-1 0-4 3-2-2-7 3-2 1 0 0-3-5-2 5-1-4-1 3-1-2 0 0-1 0-2 2-1-4-1 3-1 1-1 1-2 0 0-1-2 1-2-1 0 0-2-4-1 3-1 1 0-3 0 0-2 1-2 3-2-2 0-3-3 2-1-1 0-1-3 0 0 4 0-1-3-2-1 2-1 1-2-2-2 1-1-3-2 0-1 0 0 0 0 0-1 0 0 1-2 4 0 0-1-4-2 3-2 1-1-3-2-1 0 1-1 0 0 0-1-1-1 1-1 2-3-2-1-2-1 2-1-1-2 3 0-1-2-1-1 5 1 2 4 2 0 0 2 0 0-4 1 2 1-3 3 2 3-2 0 2 0 1 0-1 1-2 0 3 0 2 0-1 2-1 1 1 0-2 0-1 0 2 5-3 0 0 2 1 0 1 1 3 2-4 1 4 1-5 0 5 2-3 0 0 0 0 0 3 1-3 1 2 1-2 3 0 1 1 0-3 1 5 0-4 0 0 2 3 0-1 0 2 2-5 1 2 1 2 1-1 2-1 1-2 1 4 1-2 2-2 1 2 3 1 0 2 0-1 1-4 2 4 0 0 4-3 1 4 0-2 1 2 3-5 0 1 5 3 0-4 2 2 1 2 2 1 1-3 2-1 2 2 3-1 5 0 0 0 1 1 0 1 2-4 2 3 0-1 2-2 0 4 1 0 0 1 1 0 1-1 1-4 0 4 0-1 2-1 1-2 1 3 3-1 1 1 2 2 1-1 2-4 2 2 0 0 1 1 1-3 0 5 1-4 0 1 0 3 3-2 0-3 1 0 2 5 1-4 1 1 0 1 2 0 2-3 1 3 0-3 1 3 3-2 0 4 1-2 0-2 0 4 1 0 2-5 3 1 1 0 1 0 3 3 5 1 1-1 4 0 1 0 2 1 1-4 0 2 1 0 0 0 2-3 2 2 0 2 4 1 1-3 1 3 1 0 8 4-6 2-6 0-1-3-1 1-4 1-1-3-5 3-2 0 0-1 0 1 0 0-1-4-2 4-3-4 0 3-1-3-4 5-3-1-4 1 0-2 0-3 0 4-1 1 0-4-4 0 0 4-2-3-1-1 0 1-1-2-1 2-5 3-3-4-1-1-1 5-1-3-4 2-1-2-2 3 0-4-2 2-3-1-1-2-2 2-1-2 0 2-1 1-1 1-2 1-1-5-4 0-4 5-4-3-6 3-1-5 0 0-1 2-2 1 0-3-4 3-2 0 0-2-1 1-10 2 0-2 0-2 0 1-1 2 0-3 0 1-3 3-1-3-1 2-1 0 0-3 0 2-1 1-1 2-1 0 0 0-1-4-2 1-1-1 0 1-1-1-2 3-2 1 0 0-3-4-3 3-2-3-2 4-1-4-1 0 0 3 0 1-1-3-1-1-1 1-1 3 0-2-1 2 0 0-1-5-1 5 0 0-1-2 0 0-1 2-1-1 0-1-1 0 0-3-2 3 0 2-1 0-1-3-1-2-2 4 0 0-1 1-1-5-2 5-1-5-3 2-2 3-1 0-2 0-2-1-3 4 0-2 6 2 1 3 3-4 1-1 3 4 1 1 0 0 1-3 1 0 1-1 0-1 1 1 3 3 1 1 1-4 0 1 0 1 1-3 0 4 0-2 1 1 2-2 0 3 1-4 0 3 1 2 0-2 1 2 1 0 1-3 0 2 3 1 0-2 1-3 1 4 0 1 1-5 4 5 0-4 2 0 0 2 1 0 0 1 1-4 1 0 0 4 5-3 0-1 0 2 0 0 2 1 1-2 1 0 0 3 1-1 1 0 1 1 1 1 1-5 0 2 1-2 1 4 0-2 3 1 1 0 1-2 0 2 4 1 1-2 1 2 1 1 1-2 1-1 2 3 2-5 2 1 1 0 0 4 1 0 1-5 1 3 7 2 2-5 4 0 3 2 1 3 0-1 0-1 3-1 0 0 1 3 1-4 0 1 2 2 2-4 1 1 0 2 1-3 0 4 4-3 0 3 0-1 3-2 1 2 0-1 1 0 2-2 0 2 1 1 3 2 0-3 2 2 2 1 1 0 1-5 1 3 1 1 1-3 0 3 5-2 3 1 2-1 2 1 2 2 0-1 1 0 1-3 0 1 1 2 1-1 1-1 2-2 1 4 1-1 1-1 4-2 1 2 2 1 2-2 6 0 13 3-19 6-1-1-3 0 0-3-2 3 0-1-3 0 0 3-1-1-3-4-1 0-6 1-2 1 0 1-1 0-2-3-1 3-3-2-2-1 0 2 0-2-2 4-1-1-1 0 0-2-3 2 0-3-5 4-1 1-1-4-1 4 0-4-1 4-2-5-1 1 0-1-1 4 0-4 0 2-1 0-1 1-1-1-2 1-1-2-1 0-1 3-1 1-1-5-1 4 0 1-3-3-5 0-1 3-1-3 0-1-5 2-6 0-2-3-5 3-1-3-6 1-3 1-1 3-1-2-1-3-2 4 0-1 0-2 0 3-1-2-1 3-1-3 0 0-1 3-1-5 0 4 0-3-2 3-2-4-1 3 0-3-4 5 0-2-2-1-1 3-2-5 0 2 0-1 0 3-1-1-1 2 0 0 0-1-1 0-1 0-1-1-1 2-1 0-1-1-1-3-1 1 0 0-1 0-1 1-1-2-1 1-1 0-2 1 0-2-2 4-1-3-2 1-1-2 0 3-1 0-1 1-1-1-1-3-2 4-1-1 0-1-3 1-1-1-4-1 0 2-1-2-4 3-2-3-10 4 13 5 2 0 3-1 1-1 0-1 2-2 6 2 0-2 0 3 1-2 0 1 0-2 1 1 0 3 2-4 1 1 0 4 2-3 0-2 1 0 0 4 0-1 0-1 1 1 0 1 1-2 4-2 1 3 0-2 0 4 1-3 0 1 0-3 1 1 1-1 0 2 2-1 1-1 0 1 1 0 1-1 0 1 3 3 0 1 1-1 3-4 1 4 2-3 0 0 4-1 1 4 1 0 2-4 1 5 1-4 2 1 1 1 1-1 1 3 2 0 0-4 2-1 1 1 0-1 4 1 3 1 1 2 1 1 1-3 0 3 2-4 0 0 6 0 5 0 10 1 0 0 2 3 6-5 0 2 1-1 5 3 0-2 2-2 0 4 0 1 0-5 0 0 2 4 1 0 2-1 1 0 1-2 1 2 0-1 0 2 1-2 1 3 0-4 2 2 1-1 0 2 2-2 1 0 0 2 1 0 1 1 4-3 1-1 0-1 0 5 3-5 2 3 2 2 4 0 1-5 0 2 2 2 2-3 1 2 1-1 2-1 1 0 0 0 2 1 1 3 3-2 1-1 3 2 2-1 1 2 0-3 6-1-26 6-1 2-3 0-2-3-3 1 0 3-2-2-1-1-2-1-2 0-1 0-2 3 0 1-2 1-1-2-2-3-3 4-1-1-1-3-4 1-1 1-1 0-1 3-5-2-2-2-2-1 0 5-1-5-5 0 0 1-1-1-5 5-1-3-4 0-1 0-5 0-4 2-2-2-3 1-4 0-4-2 0 3-1 0-1-2-1 1-1-2 0 0-4 0-2 4 0-1 0 1 0-5 0 5-1 0-2 0-1-2-1-2-1 4-6-1 0-3-1 3 0 1-2-3-1-2-1 3 0 1-2 1-1-1-2-2-3 3 0 0 0-1 0-1-1-3 0 5-1-5-1 4-1-1 0-1 0-1 0 0-1 3-2-2-1 3-2-3 0 2-2-1-2-1 0-1-3 4-1-5-3 4 0-4-2 0-3 3 0 0-1 1-4-1 2 5 12 0 1-1 2-1 4 3 1 2 0-2 1 0 1-1 0 0 1 0 0-1 2-1 3 2 1 3 1-5 1 2 2-1 1 2 1-1 4 3 0-3 0 0 3 1 1 2 2-2 2-2 2 3 0 0 0-4 1 0 0 4 2-2 5 2 5-1 0 1 1-4 0 0 2 4 3-1 6-3 7 1 2 0 5 1 1 1 8 0 6-1 6 0 2-2 4 5 16-5 6 4 0-4 1 0 2 4 2-4 2 3 6-2 3 1 5 1 8 0-2 4-2 3-10 1-7-5 0 0-3 3-1-3-2 3-1-2-15 1-2 0-4-2 0 2-28 1-17-3-1 3-11-1-4-1-5 0-1-1-1 0-3 3-4 2-2-2-3-3-1 3-1 0 0-1-7 0-1-1-1 0-10-1-1 3-1-1 0 0 0 1-8-1-1-1 2 6 1 0 23 3 2-2 2 0 4-1 1 3 7 1 2-5 2 5 1-2 0 0 9-2 1 2 49 2 24-3 23-1-62 5-35 3-4 1-3 0-9-2-1-2-6 0-11 0-5 0-6 1-2 0-2 1 50 6 8-2 53 0" fill="none" stroke="none" marker-start="url(#mk0)" marker-mid="url(#mk0)" marker-end="url(#mk0)"/>
<path transform="scale(0.25)" d="M931 1800l21 16-1 6 3 7 2 3 0 1 12 10-22 4 15 2" fill="none" stroke="none" marker-start="url(#mk0)" marker-mid="url(#mk0)" marker-end="url(#mk0)"/>
<path transform="scale(0.25)" d="M764 1781l46 5-11 0-2-2-7 2-11 0-18-4-3 3-6 2 0-1-2 5 12-1 4-1 4 1 5 1 1 0 4-1 7 2 2 1 0-3 0 3 3-2 0 1 8-1 2-2 1 3 0 0 3-2 3 3 1-1 13 6-12-2-3 0-5 2-1 0 0-2-2 1 0-2 0-1-5 4-3-3 0 3-1 1-6 0-2-3-1-1-2-1 0 4 0 1-1 0 0-2-1-1-2-2-1 3-1-3 0 5 0-3-1-2-1 3-2-3-5 1 0-1-1 2-3-2-6 4 0-3-2 0-5 4-1-4-14 7 0 3 2-5 6 4 1 1 1 0 5-2 1 0 0 0 3 0 0-1 1 0 0 1 1 0 0-2 4 4 1-3 2-2 3 4 0-3 1 3 2-4 0 4 3-1 1-1 0 2 1-2 3 2 1-3 1 2 1-3 1 3 1-3 5 2 1 2 8-3 3-1 3 5 1-5 0 1 1 0 3-1 0 4 1-1 2 1 1 0 10-2 6 9-4-2-2-1-1 3-4-2-2-1-1 1 0-3-3 4-1-2-2 3 0-2-1-3 0 3 0 0-1-3-2 3-1-2-1 2-1-3-4 2 0 2 0-3 0-1-3 2-1 0 0 0-2 2-2-4 0 5-1 0 0-3 0 3-6-3-2 0 0-2 0 1-1 3 0 0-2 0-1-4 0 2-2 1 0-2-2 1 0 1-1 0-2-1-2 2-1-2-2 1-2-1-1-2-1 4-1-4-3 2-3-2 0 1-1 3 0 1 0-4 0 0-3 1-7 0-3 3-8 2 6 4 1-5 3 2 5-2 1 0 1 4 2 0 0-3 5-1 1 3 1 1 0-3 1 3 0-2 1-1 0 0 1 3 1-1 1 2 0-3 1-2 1 0 2 2 0 3 2 0 1-4 1 3 3 0 1-1 1-3 1 1 1 2 0 0 4-2 2 3 0-2 3 2 1 1 0 0 0-2 1-1 1-2 1 1 1 1 1 1 0 1 2-3 1 2 1-3 1 3 1-1 0-2 1 2 0 3 1 0 1-2 2 0 7 0 1 1 5-2 0 2 1 1 1-4 1 2 1 2 1 2-3 0-2 3 0-4-1 2-1-1-2 0-2 1-1 1 0-2-1 2-3-3-1 1 0-1-2 4 0 0-3-1 0-2 0 0-1 4 0-1-1-4 0 4-1 1-2-4 0 1-3 2-1-1 0-2-1 2-1-3-2 1 0 0-1 3-1 1 0-3-2 0 0 0-11 3-1-3-5 0 0 3-2-4-1 3-10-1-6-3-1 3 0 2 0-1-2-4-2 2-1 1-2 2-11-4 5 10 4-1 0-4 0 4 3-2 2 1 2-2 2 4 0-2 4-1 3 3 1-5 1 5 2 0 1-3 0 1 0 1 1-4 1 1 0-1 1 1 1 3 1 0 1 0 0-1 1 2 3-3 0 2 2-2 1-2 1 4 1-2 1-2 1 5 2-1 3 1 1-3 1 1 1 2 2-2 5 1 0-3 1 0 3 3 1-2 2 2 1-3 1 1 0-1 0 2 2-1 0-2 1 2 0-1 0-1 0 1 1 0 0 0 5 0 1 2 9-2 2 0 0 1 2 1 2 2 1-3 3 0 5 7-3 1-7-3-3-1-4 1-4 3-1-3-5 4-3-2 0 2-1 0-2-5 0 4-1-3-2 0-3 4-1-2 0 1 0 0-1-3 0 2 0-2-3 4-1-2 0 0-2-1 0-2-3 5-2-3-4-2-7 1 0 4-3-1-1-2-1-2-2 2-2 2-1-3-2-1 0 5-1-3 0 3-1-5 0 3-3 1-1-4 0 2-10 0 0 2-4 0 0-2 0 0-6 0-3 0-3 6 19 1 2-3 2 4 0 1 0-5 0 4 7 0 1 0 5 0 0 0 3 1 1-1 1-2 0 3 1-3 3 2 1 0 2 1 1-3 3 2 1-3 1 0 2 4 0-5 2 3 0-1 2-2 0 1 1 2 1-1 1 3 3-5 1 5 0-2 0-2 1-1 1 4 4-3 2 3 2-4 1 0 5 2 0-1 2 4 2-5 2 3 0 2 1 0 12-5 9 6-6 2-6 1-1 2-4-1-1-2-3-1-3-1 0 3-2 2-2-1-2 1-3-1-1-4-2 0 0 1 0 0-1 4 0-1-3 0-1-1-1 1 0-3-4 3 0 0-2-1 0 2-4 0-3-3-3 2 0-4-1 2 0 1-1 0-5 0 0 2-2-2-3 0-3 2-2-2 0 2-3 0-1-2-3-3-1 4-1 0-1-4-4 3 0 2-1-1-2-4-1 3-1-3-1 0 0 3-1 7 2 0 1 0 1-4 6 1 1 3 1 0 0 1 5-4 0 4 2-1 3-4 1 4 1 0 0-2 0 1 0-3 1 3 1-2 1 0 1-1 1 2 1 1 1-3 2 0 0 0 5 0 0 4 4-3 1-1 1 0 2 0 3 3 1-1 0 0 1 3 2-3 1-2 3 4 0-1 1-2 5 4 1-2 0 1 2-1 1 0 1-3 2 1 1 1 2 0 2-2 14 2 4 2 2-2-14 5-5 4-2-2-4-2 0 3-2 1-1-3 0-2-1 5 0-4-1-1-3 3-2-1-4 3-1-2-3 0 0 0-2-2-2 1-2-1 0 0-1 2-7 2 0-3-4 2-1 0-5 1-1-1-2 1 0-2-3-2-7 0-2 0 0-1 0 2-2 1-2-3-19 6 16 2 6 2 6-1 1-2 0 1 1 1 2 0 0 2 1 0 0-5 1 1 5 1 2 1 1 1 0 0 2-4 4 3 2-2 1 2 1 2 3-4 1 4 2-4 2-1 3 4 4-4 2 3 0 0 3-3 1 1 4 1 1-2 4 1 3 0 0 4 3-3 3-1 1 1-3 5-11 0-4 0-1-1-4 1-1-1-2 1-3 1-3 1-1 0-1-1 0 2-4-3-1-1 0 4-2-3-3 2 0-1-2 1-3-1-1 3-1-5-1 5-4-4-7-1-10 0-7 1 24 7 2 1 2-2 2-1 5 3 1 2 3-3 2-2 2 0 0 0 5 2 1-1 0 4 11-5 1 4-16 4" fill="none" stroke="none" marker-start="url(#mk1)" marker-mid="url(#mk1)" marker-end="url(#mk1)"/>
<defs><marker id="mk9" markerUnits="userSpaceOnUse" markerWidth="2.80" markerHeight="2.80" viewBox="0 0 2.80 2.80" refX="1.40" refY="1.40" overflow="visible"><rect width="2.80" height="2.80" fill="#0808d0" fill-opacity="0.8"/></marker></defs>
<path transform="scale(0.25)" d="M764 1793l13-2 2 1 13 1 63 0 13 0 10 2-24 2-1 2-2-2-2 2-2-1-14 0-41 1-1-3-3 3-1-1-3-3 0 0 0 4-1-3 0 2-2 0 0 0 0-1-1 2-1-1 0-3-2 4 0 0-1-2-1 0-1-3 0 3-3 1-4-1-3-3 0 3-3-2-1 3-2-4-1 5 0-1-1-1 0-1-6 9 3 0 0-1 0 0 2-2 0-1 3 3 2-2 0-1 0 3 1-4 0 3 0 0 3 0 1 0 1 2 1-4 1 1 0-2 1 0 0 2 0-2 1 4 0 0 1-3 1 4 0-3 0 1 1 0 1-3 0 0 1 5 1-3 2-2 0 2 1-1 0 0 0 0 1 1 0-2 2 5 0-2 0 0 0-1 1 1 0-1 0 3 2-5 0 2 0 2 1-1 0 0 1-1 0 2 1 0 0-1 1 1 0 1 2-4 0 0 0 0 0 3 0 1 1-4 0 0 0 4 1-4 1 1 0 2 1-2 1 1 0-3 2 5 0-2 3-1 1 2 2 1 0-2 1-3 4 4 0 0 2 1 17-1 6-4 2 5 1-1 9 0 1 0 1-4 2 5 1-1 5 0 0 1 1-3 1 2 3-1 0 1 1 1 1-5 1 5 0 0 1-2 0 1 3-1 3-2 3-1 1 2 2 1 1 2 1-5 2 4 1-1 2-1 1-2 1 5 0-1 1 1 1-5 6 2 4 1 3 0-2 6-1 0 0 0-1-3-3 3-1 0 0 0-1 0 0 2-1 0-1-2 0-2-1 0 0 2-1-1-2-1-1 4 0-2 0-1 0-1-1 3 0-3-1 4 0 0 0-1 0-1-1 2-1-3 0 3-2-4-1 3-1 0 0-1-1 1 0-2 0 3-1-1 0-4 0 3-1 2 0-4-1 1 0 3-1-1-2 0 0-4 0 4 0-1-1-2-1 1 0-1-1 1 0 0-1-1 0 3-1 1-1-2-2-2 0 1-1-2 0 2 0 3-1-1 0-1 0-2 0-1-1 3-1 1-1 1 0-1-2-4-1 4-1-1-1 2-1-2-1 0 0-3-1 5 0 0-2-1 0-1-1 2-3-1 0-1-1 2-1 0-2 0-1-1-1-1 0-2-2 3-2-3-1 4-1-1-1 0 0-1-2-1 0-2-6 5-7-1-2 1-2-2 0-3-1 5-1-1-1 1 0 0-1-2-2-2 0-1 0 5 0 0-3-5 0 2-1 0 0 0-1 1-1-1 0 0-2 2 0 0 0-4-1 1-1 0 0 2 0-3 0 5-1-1-1 1 0-2-1-3 0 4 0 0-2-1 0 1 0 1-1 0 0-2 0 1 0-4-1 4 0-1 0 1 0-2-1 1 0-2-2 2 0 0 0 2-1-1-1-1 0-3 0 2-1 0-1 0 0 1 0 1 0 1-1-3 0 2-1-4 0 5 0-4 0 0-1 1-1-1 0 1 0 0-1-2 0 2-1-2 0 3 0 0-1-3 0 0 0 1 0 3 0-1-1 1-1-2 0 3-1 0 0-1-1-1-1-1 0-2-1 2 0 1-1 0 0 1-1-1 0 0 0 1-1-3 0 4 0 0-1-1 0 1-2-4 0 0-1 2-1-1-1 1 0 0 0-3-1 1-1-1 0 2-1 1-1-2 0-1 0 0 0 5 0-3-3 3 0 0-1-4-1 0 0 2 0 0-1 2-1-3-1 1 0-2-12 2 6 6 1-3 0 3 2 0 0-1 0 1 1-1 0 1 0-1 3 0 0 2 1-1 1-3 0 5 1-1 0 0 1-2 1 0 0 0 1 2 0-3 0 0 1 4 1-2 0 1 0 1 0-3 1-1 0 2 1 2 0-3 0 1 0-1 0 2 1 0 0-2 1-1 0-1 1 4 0-4 1 2 0 1 0-1 1 0 0-2 0 2 1 0 1 0 1 1 1-1 0-1 1 0 1-1 0 0 0 2 1-1 0 2 1 0 0-2 0 1 1-2 0 5 1-2 1-3 0 5 1 0 0-5 0 4 0-4 1 5 0-5 0 1 1 0 1 2 0-2 1-1 0 3 0 2 0-1 1-3 0 1 0 1 1 0 0 1 0-2 0 2 1-2 0-2 0 2 1 3 1-5 0 2 1-2 1 4 0-3 0 0 0 4 1-1 0 0 1-2 0 3 0-4 1 2 0 1 0-4 0 3 1-1 0 0 0 3 3-4 0 4 1-4 1 0 0-1 1 5 0 0 1-1 0 1 0 0 1-4 0 3 0-1 1-2 0 0 0 1 1-2 0 3 0 2 1-2 0 1 0-1 0-3 0 0 0 2 1 1 2-2 1-1 0 4 1-4 0 4 1-1 0-3 0 3 1 2 0 0 0-4 1 2 0-2 1 0 1 4 0-3 0 0 0-1 2 0 0 3 1 1 0-4 0 2 2 2 2-1 1 1 1-3 3 1 0-2 2 1 1-2 0 0 0 5 1-5 1 1 1 3 1 0 1-2 1 3 0-4 2 0 1 1 1-2 1 1 1-1 0 0 0 1 2 1 0 0 0 1 0-1 0 2 1-1 1-3 0 3 0 0 1-3 1 1 1 2 0-2 1 1 0 0 2 1 0-2 1 1 1 0 0-2 1 2 0 2 2-1 0-1 1-2 0 0 1 3 0-2 1-1 0 1 1 1 1 0 0 2 0-1 0-3 1 5 0 0 1-5 0 5 3-4 0 0 0 1 0 2 2-2 0 0 0 2 0-4 1 1 0 0 0 1 1-2 0 5 0-5 0 3 0 2 1-2 0 2 0 0 0-3 1-2 0 5 1 0 1-1 0-3 0 4 0-4 1 1 0 0 0 2 0 0 1-4 1 4 0 0 0 1 0-5 1 4 0 0 1-4 1 0 1 2 0 1 1 2 1-5 1 3 0 1 1-2 0-1 1 0 0 3 2-3 0-1 2 3 0 1 0 1 1-5 0 0 0 5 1 0 2-3 1 1 0 1 1-3 0 4 2 0 0 0 1-4 2 1 0 0 0 0 1 1 1-3 0 3 0 2 0-4 1 4 0 0 1-2 0 0 1-2 1 2 0 1 1 1 3 4-1 2-1-2-1-3 0 5-1-3-1 1 0-1-2-1 0 2-1-1 0 0-1 1-1 1 0-3 0 3-2-3-1-1-1 0-1 5-1 0-1-5 0 2 0-1-1 3 0-3 0 2 0-3-1 5 0 0-1-3 0 2 0 1-1-4 0 1 0-2 0 3-1 1 0-1 0-2-1 3 0-1 0-2-2 3 0 1-1-5 0 2-1 3 0-3 0-2 0 0 0 5-1-3 0 2-1 1-1-4 0-1 0 5-1-4 0 1-1 3 0-4 0-1 0 0-1 5 0-4-1 2 0 2-2-3 0-1-1 4 0-3 0 2-1-1-1-3 0 3 0-1-1 0-1 2-2-3 0 1 0-2-2 4 0 1 0 0 0-3-1-2 0 1 0-1 0 1-1 2-1 0-1-3-2 2 0-2-1 0 0 0-1 2 0 3-1-1 0 1-1-2 0 1 0 1-1-5 0 1-1-1 0 2 0 3 0-1 0-1-1 0 0-2-1 3-1-2 0-2-2 3-1 2 0-4-1-1 0 5 0-1-1 1-1-1 0-4 0 1-2 4 0-2-1 0-1 2-1 0 0-5-2 3-1 2 0-3-1 2-1-4 0 0 0 0-1 3 0 1-1-4 0 1-1-1-1 3-1-3-1 5-1-2 0 1 0-4 0 4-1-1 0 1 0 0 0-1-1 0 0-3-1 1 0 2-1 0 0-2 0 0-3 1 0-1-1 4-2-5-1 1-1 1-1 2 0-3-1 4 0-1-1 1 0-3 0 1 0-2-1 2-1 1 0 1 0-3 0 2-1 1 0-4-2 1-1-1-1-1 0 3 0-2-1 3-1 1 0-5-1 1 0 2 0-1-1 0 0 1 0 0-2-2 0 0-1 3-1 0 0-2 0 2 0-1-1-3-1 0 0 5 0-4-1 2-1-2-1 4 0-4-1 2 0-2 0-1-1 2-1-1-1-1-1 2-1 0 0 3 0-4-1 2-1 0 0-2-1 4 0-5 0 4-1 1-1-4 0 2-1-1-3 2 0 1 0 0-1-2 0 1 0-1-1-3 0 3-1 1 0-4 0 3-1-2-1 4 0-5 0 0-1 0-1 0 0 1-1 4-1 0-1-2-1 0-2 2-1-2-1-2 0 3 0-2 0 0-1-2 0 5 0-1 0-1 0 1 0-2-1 2 0-1-1-1 0-2-1 4-1 1 0-2 0-1 0 0 0 0-1 0-1-2 0 0-1 3 0-2 0 3 0 0 0-4-1 3 0 1-1-4 0 0-1 3-1 1 0-1 0-2 0-1 0 0-2 0 0 4 0-1-1 1 0 1 0-3 0 3 0-5-1 5 0 0 0-4-1 1 0 3-12 2 5 4 2 0 0-4 3 0 1-1 1 5 1-2 2-1 0-1 1 1 0-2 1 2 0-1 0 4 0-4 0 4 0-1 0-4 1 1 1 3 0-4 1 2 0 2 0-2 1 3 1-5 1 3 0-2 1 0 2-1 0 0 0 0 0 1 0 3 0-1 0-3 1 3 1-2 0 3 0 1 0 0 0-1 0-1 0 0 0 0 1 0 0 2 0-1 1-3 1 0 0-1 0 5 0 0 1-1 1-1 1-2 0 3 1-2 0-1 0 2 1 0 0 0 1 2 0-5 0 5 1-5 0 5 1-3 0 2 0-4 1 5 1-4 0 3 0 1 0-3 1 0 0 3 1-3 0-2 0 5 0-5 0 2 1 0 0-1 1 4 0-1 0-2 1 3 0 0 0-3 1 0 0 2 1-2 0-2 1 5 0-3 1 3 0-3 0-1 2 4 0-3 0 2 1-4 0 0 1 0 0 5 0-3 1 3 0 0 0-1 0 0 1 0 0-2 0 3 1 0 0 0 0-1 0-3 0 4 1 0 2-2 0 2 1-2 0 0 1 2 0 0 1-4 0 0 0-1 0 4 0-2 0-2 0 0 2 5 0-3 0-2 1 1 1-1 0 0 0 4 1-4 0 5 1 0 0-4 0 1 1 0 0-2 0 3 0-2 2 1 0 0 0 2 0-4 1 5 0-5 0 5 1-5 1 2 1 2 2-4 2 5 0-2 1 0 0 0 0-2 1-1 2 5 1-4 0 2 2-3 0 4 0 0 1-2 2 3 0-3 3 2 1-1 0 0 0-1 2-2 0 0 0 2 3-1 0 1 1 3 1-3 0-2 0 4 1 1 0-5 1 5 0-4 1 4 1-1 2-4 1 5 1-1 1-2 0 0 0-1 0 3 0-3 1 4 0-5 1 0 0 5 0-4 0 1 1-2 0 4 0-1 1 1 0-3 2 0 1 3 0-3 0-1 1 5 0-2 1 2 0-1 1-4 0 5 1 0 0-4 1-1 0 1 2-1 1 1 0 1 0-1 1-1 0 1 1 3 0-4 1 2 0 0 1-2 0 2 1 2 1-1 0 2 0-4 1 1 0 1 1-2 0 3 0-2 2 0 0 1 1-3 0 4 1-2 1 3 2 0 0-2 1-1 0-1 1-1 1 4 0 0 0 0 1-2 0-1 1 4 2-2 0-1 0 3 0-5 2 5 1-3 0 1 0 2 2 0 0-4 0 3 0-1 1-2 0 4 0-2 1-3 0 0 0 0 1 0 1 1 0 1 0 2 1 1 0 0 2-4 2 0 0 0 0 3 2-3 1 3 0 1 0-4 0 1 2 1 0-2 1-1 0 2 1 0 2-1 0 4 1-3 3 3 0-3 1 3 0-5 1 5 0-3 5 4 0 4-3-1 0-3-1 3 0 0-1 1-1 0-2-2-1-1 0-1 0 2 0 1-1 1 0-3-1-1 0 0-1 3-1-1-1 2 0 1 0-5-1 1 0 1 0 3-2-1-1-4 0 2 0-2-2 5 0-4 0 4-1-2 0-3-1 2 0 2-1-4-2 0-1 0 0 2-1 0 0 0-1 3 0-2-2 0-1 0 0-1-2 0-1-1-1 3 0 1-1 0 0-3-1 3 0-1 0-3-2 2 0 1 0 0-1-1-1-3 0 1-1 3-1-2 0 0 0 3-1-5 0 1-1 4 0-2 0 2-1-5-1 0 0 4-1-2 0 3-2 0-1 0-2-5-1 0 0 5-1-2-1 2-1-4 0 3 0-4-1 5 0-5 0 4-1 0-1-2-2 2 0-2 0 0-1 3 0-1-1 1-1-1-1-3 0 2 0 2 0-5-1 5 0-3-1 2-1-3 0 0-1 2 0-2 0 3-2-2 0 0 0-2-1 2-1 0-1-2-4 2 0-2-1 4-1-1 0-3-1 0-1 0 0 5 0-1 0-3 0-1-1 1 0 4-1-1-1-3 0-1 0 3 0 1 0 1-1-2 0 1-1-3-1 2 0 1 0 0-1 1 0-5 0 5-1 0 0 0-1-2-1 2 0 0-2-2-2-2 0 1-2 1-1 0-1 2-1-3 0 0 0 2 0-3 0 4-1 0-2 0-1-4-1 1 0 1 0-3-1 1 0 2-1 0-1 2 0 0-1-4 0 2 0 2 0-5-1 1 0 2 0 0-2-1-1 3-1-2 0-3 0 2 0-1-1 2 0 0-1 0 0 0 0 1 0 1 0-1-1 0-1-2-1 1-1-2 0 4-1-5-1 4 0-4 0 1 0 3-1-3 0-1 0 1 0 0-1 2 0 1 0 0 0-1-1-2 0 3 0-3 0 1 0 2-1-4 0 1-1 0-1-1-1 1 0 4 0-5 0 4 0-3-1 3-1 1 0-3-1 1-1-1-1 1 0 2-1-1 0 1-1-4 0 0 0 0-2-1 0 1-1 3 0-4 0 4 0 0 0-3-1 4 0-1-1-3 0 3-1 0 0-1 0 0 0-2 0 3 0 0 0-3-1 3 0 1 0-2 0-1-1 1-1-2-1-1 0 2-1 0 0 0-1-1-1-1 0 5 0-1-1 0 0-1 0-3 0 5-1-1 0-4-1 3 0 1 0-4-1 5 0-2 0-3 0 0-1 5 0-1 0-1 0 0 0 2-1-1-1-1 0-1 0 3-2-1 0-1 0 0-1-1 0-1-1 2 0 2 0-3-1 1-1 2 0-1 0-2-1 1-1 0-1-3 0 3 0-1 0 2-1 1 0-2-1-2 0 2-1-2-1 4 0-3 0 1-2-1 0-1 0 4-2-5-2 4-1 1-2-3 1 8 2-1 4 0 0 1 1-3 1 1 0 2 1-1 0-1 0 1 1-3 1 5 0 0 3-3 0 1 1-3 0 3 0 1 0-1 1-1 0 3 1-4 0-1 1 1 0 2 0 2 1-5 1 3 0-3 0 0 1 4 1 1 1 0 1-3 0 1 1 0 0 0 0 1 1-3 0 3 0-1 1 1 0-3 1 3 0-3 0 1 1 2 0-2 0 2 0 1 1-1 0-2 0 2 0 1 1 0 0 0 0 0 0 0 1 0 1-4 0 4 0-2 0-2 0-1 0 4 1-4 0 3 1-1 1 1 0-2 1 0 0 3 0-4 0 4 1 1 0-3 1 2 0 0 0-3 0-1 2 1 0 3 0 1 1-1 0 0 1 1 0-1 1 0 1 1 0-2 0 2 1-2 1-3 0 4 1-1 0-2 0 0 0 1 1-2 2 3 0 2 0-4 2 0 0 1 1 2 0 1 0-2 1 1 0 1 0-1 1 0 0-1 1-3 0 4 0-4 0 3 0 0 1 0 0 2 0-1 1 1 0-4 0 1 1 3 0-5 0 0 1 4 0 1 0-3 0-2 1 3 1 0 1-3 1 5 0-4 1 0 0 2 2 2 0-3 1-1 0 3 1-2 0 3 1-4 1 1 1 0 0 2 0-4 0 0 2 5 0-3 0-1 0-1 0 1 1-1 1 1 0 3 1-4 0 2 0-1 0-1 1 5 1-5 1 2 0 2 1-3 1 4 0-1 1-1 0-2 2 3 2-1 2-3 0 4 1 0 1 0 0-1 2 0 1 0 1 1 0 1 0-1 1-2 1 2 1-3 1 2 0 1 0-3 0 1 0-1 1 4 0 0 2-4 0 3 0-3 2 1 0-2 1 5 0-3 1-1 1 1 1-2 0 4 0 1 3-4 0 4 0-4 1 0 1-1 0 4 1 0 2-1 0-2 1 1 0-1 1-1 0 3 0 2 2 0 0 0 0-5 0 1 0 2 0 0 1-2 0 0 1 4 1-2 1-3 0 1 0 0 0 3 0 0 2 1 1-4 0-1 1 3 0-1 0 3 3 0 1 0 0 0 0-3 1-1 0-1 0 2 1-1 0-1 0 1 0 1 1 2 1-4 1 1 0 4 0-1 0-4 1 0 1 4 2 0 0-1 1-3 0 5 0-2 0-2 0 1 1 3 0-1 0 0 0-2 0 0 1 0 1 0 0-1 1 3 0 1 0 0 0-1 1-4 0 0 1 3 0-2 0 2 3-1 1 1 1 0 2 0 2 2 0-5 0 4 1 0 0-1 0-2 2 0 0 1 0-2 0 3 1-2 0 1 1 2 0 0 2 1 0-2 1-1 1 3 0-5 0 3 3-2 0-1 1 3 2-3 0 1 1 3 2 1 1-4 0 4 3-5-1 10-5-2-5 2 0-4-3 5 0-2 0 1-1-4 0 1 0 4 0-2-1 1 0-3 0 2-1-2 0 4 0-5-1 2-1-2-1 5 0-3 0 3 0-5 0 0-1 1-1 3 0-3 0 0 0 3 0-2 0 2-1-3-1 0 0 0 0 1-2 1 0 0 0-2-1 4 0-1 0-4 0 5-1-4-1 1-1 2 0-3-1 1 0 3-1-3-2 2-1-4 0 2-1 0-1-1 0 2 0 0-1 1 0-3-1 2 0 0-2 0 0 1 0-4 0 3 0 2-1-1 0-2 0-2 0 1-1 4 0-2-1-1 0-2-1 4 0-4 0 5-1-5 0 2 0-2 0 1 0 3-1 0-1-2-1-2 0 4-2 0 0-1 0-1 0 0-1-2-1 0-1 5 0-4 0 0 0 3-1-4 0 0-1 5 0-5 0 2 0 3-1-3 0 0-1 1-1-2 0 1-1 0 0 2-1-3 0 4 0-3 0-2-2 2-1 2 0-3-2 2-1-2-1 1 0 2 0-2-1 3 0 0-2-1 0-1 0 0-1 0 0-3 0 1 0 0-1 3 0-4-1 2 0 3 0 0-2 0 0-2 0-1-1-1 0 0-1-1-1 0-1 2 0-1 0 0-1 0-1 3-1-4 0 2-1 2 0-4-2 2-1-2-1 2 0-1-6 3-3-1-1-3-1 0-1 3 0 0 0-2 0 0-1 4 0-4 0 1 0 1-1-2-2 4-1 0 0-5-1 3-1 1 0 1-1-5 0 2 0 0 0 2 0-1-1-3 0 4 0 1 0-2-1 2 0-2 0 0-1 1 0-1-1 0 0 0-1 1-1-3 0 2-1 0-1-3 0 5-1-3 0-1 0 2 0 1-1-4 0 1 0 1 0-1-1 4-1-5 0 0 0 3 0-3 0 5-1-3 0 3 0-5 0 5-1-2-3 0-1-2 0 3 0 0 0 0 0-3-1-1-1 2 0 3-2-1-1 1 0-2-1 2-1-4 0 2 0-2 0 1 0-1-1 3 0-4-1 3 0-1-1 2-1 0 0-1 0-2 0 3-1-3 0 4 0-1 0-2 0 2 0-3-1 0-1 2-1-2-1 3 0 0 0 1-1-4 0 4 0-5 0 4-1 1 0 0 0-4-1 3-1-1-1-2 0 0-1 2 0-1-1 0 0 3-2 0 0-4-1 4 0-5-1 2 0 1 0 1 0-3 0 0 0 2 0 1 0-2-2-2 0 5 0-4-1 3-1 0 0-1 0-3-1 1-1 2 0 0-1-1-1 2 0 0 0 0-1-2 0 1 0 0-1-3 0 5-1-3-1 1 0-3-1 1 0-1-1 0 0 4-1 1 0-4-1 3-1-3 0 1-2 0-5 0-1 0 0 2-2-3 5 5 1 4 1 1 0-5 1 1 0 1 0 0 2 1 1 0 1 0 1-2 0 4 0-5 0 2 0 2 1-1 0-2 1 4 0-2 1-1 1 1 1-1 1-2 0 3 1-1 0 1 1-2 0 3 0-4 1 4 0-2 1 0 0 2 1-4 0 3 0-3 1 1 0 1 1 3 0-5 0 2 0 3 1-5 0 1 0 3 0-3 1 2 0-3 1 1 2 1 0 3 0-3 0-2 1 2 0 1 0-3 1 0 0 4 0-1 0-2 1 1 0-1 1 0 0 3 0-3 1-1 1 0 1 0 0 1 0 0 1 4 0-3 0 0 0 0 1 0 0 2 0 0 0-3 1 4 0-2 0-3 1 1 0 3 0 1 1-1 0 1 1-1 0-3 1-1 1 2 1-2 0 2 1 2 0 0 1 0 1-3 0 3 1-1 1-2 1 0 0 3 1 1 1-1 0-3 0 2 0 2 0-5 1 2 0 2 0-2 0 1 2 2 0-4 1-1 0 0 1 5 1 0 0-2 0-2 0 0 0 1 2-2 0 5 0-3 1 1 1 2 1-1 0-2 0 2 0-2 1 2 0 0 0 1 0-1 0-4 1 1 0 0 1 4 0 0 0 0 1-3 1-2 0 3 0 2 1-3 0 3 0 0 1-5 2 2 0 3 1-3 0-2 0 2 2-2 0 0 2 4 0-1 1-1 0 1 1-2 7-1 2 0 0 1 3 4 0-4 2 0 0 0 0-1 1 1 1 2 1-3 1 1 1 3 0-2 0 3 1-2 2 2 1-2 1-3 1 3 1-1 1 2 0-4 0 4 0 1 0-4 1 1 0 2 3-1 1 2 0-4 0 1 0 2 1 1 0-4 0 3 0-3 1 3 0 0 0 1 1-2 1-1 0 3 1-2 0 0 0-1 0 1 1-2 0 1 0 0 0-2 2 4 0-2 0-1 0 4 0-5 0 2 1 0 1 3 2-4 0 3 0-4 1 4 2-1 0-3 1 4 0 1 1-5 0 3 0-3 1 1 0 1 0 0 2 0 0-2 0 1 1 3 1-1 0 2 1-3 0 0 0 2 2 0 1-3 1 1 1 1 1 0 0-3 0 3 0 0 0 0 1-1 0-1 1 0 0 4 1-1 0-1 1 0 1 2 1-4 0 1 2 0 1 2 0-3 0 3 1-4 4 1 0 2 1 1 0-4 0 2 3-1 0 0 1-1 1 3 0 0 0-3 1 5 2-3 1 1 2-3 1 0 1 4 0-3 4 0 3 2 0-3-9 7-2 1-1 1-3 2-1-2-3-2 0-1-2 2 0 3 0-1-1-1 0-1-1 1-4-1 0-2-1 3-1 0-1-2-3 1-2-1 0 4 0-5-2 0-1 2 0 3-1 0 0-1-2-1 0 1 0 1 0-2-2 0 0-3-2 0 0 2-1 0 0 1 0-1 0 0-1 3-1-5-1 3 0-2-3 1 0 1 0-2 0 0-1 3-1-1 0 0 0-1 0 1-1-2-2-1 0 5-1-1 0 1 0-3-1 1-1 2 0-3-1 2-1-1-1-2-1 1 0-1 0 3-1-1-1 0 0-2-1 0-1 3 0-2-2 2 0-4-1 4-2-4-1 4 0-4-2 5-1-5-13 2-3 1-2-2-2 1-1 2 0-4-2 1-1 1 0-2-1 5-3-2-1-2-1 2-1 1 0-2-1 0 0 2 0-3 0-1-2 1-1 3 0-3-1 1 0 1 0 1-1 0 0 0-1-1 0 1 0-2-1-1 0-1-1 3 0 1 0-2-1 1 0-3 0 3-1-2 0 3 0-3-1-1-2 1 0 2 0-3-1 2 0 3 0-2 0-1-1 0 0 3 0 0 0-5-1 0 0 0 0 1 0 1-2 0-1 2 0-4 0 4-1-2-1 0-2 1-1-1 0 0-1 2 0 1 0-2 0 0 0 0 0-2-1 3 0-4 0 3 0 1-1-3-1 4-1 0-1-1 0 0 0-1 0-3-1 5 0-4-1 3 0 1 0-5 0 2 0 3-1 0 0-1-1-1-1-1 0-1-1 0 0 3 0-1-1 0 0 1-1 0 0-2 0 1 0-2-1 2 0-3 0 4 0-2-1 1 0-3 0 0 0 0-1 1 0 1 0 0 0 3 0-4-1 2 0 2 0-3 0 1 0-3-1 2 0-1 0 0 0 0-2 2 0 2-1-3 0 1 0 2-1-3 0 0-1-2 0 5 0-4 0-1-1 5 0-3 0 3-1-3 0-2-1 5 0 0 0-2 0 2-1-5-1 2 0 0-1 1-1 1-1-2 0-1-1 1-2 2-1-4 3 6 2 4 0-2 4-2 2 2 0-2 1 3 0 1 2 1 1-2 0 2 2-5 0 5 1 0 1-5 1 2 2-1 0 4 1-4 0 1 0-2 0 0 0 3 1-2 0 2 0 1 1 0 1 1 0-4 0 1 0 0 0 2 0-2 1 3 1-3 0-1 0-1 1 1 0 0 0-1 1 4 0 0 1 1 1 0 0-1 2-2 0 1 0 0 1-3 0 0 0 3 0 0 0-1 0-2 1 2 0-2 1 5 0 0 0 0 0-4 1 1 0-1 0 4 0 0 1-5 1 1 1 1 0-2 1 4 2 1 0-5 3 2 0 1 0 1 0 1 1 0 1-3 1 0 1 2 2-4 1 0 0 4 0-3 1 3 0 0 0 0 0-4 0 5 1-1 0-2 0 0 1-1 0 2 0-1 3-1 0 4 2-2 4-3 7 1 1-1 19 1 6-1 1 1 2 1 5-1 2 0 1 0 1 2 2 1 8 0 0-2 3 2 0-3 2 3 0-1 1 0 1-1 1 0 2-2 1 3 2-1 2-2 1 0 1 0 0 1 2 0 4 0 1 1 1-1 0 3 6 1 1-4 1 0 2 1-8 5-13 2-1-1-10-1-4 1-4-2 0 0-5 1-43 1-3-1-3 3-1-1-2 2-1-4-2 1 0 2-2-2-2 3 0-4 0-1-1 3-3-2 0 2-2-3-1 4-1-3-2 0-2 0-1-1 0 1-3 1-1-2 0 0 0 0-2 0 0 0 0 4 0-4 0 2-2 0-1-1-1-1-1 2 0 0 0 2-1-3 0-1 0 0-1 5-3 0-1 0 0-1 0-3-1 1 0 1-4-3-2 0-1 4 0 1 0-3-9-2 15 8 6-2 4 1 6-1 1 0 3 2 1-1 3 2 3 2 4-5 2 0 1 0" fill="none" stroke="none" marker-start="url(#mk9)" marker-mid="url(#mk9)" marker-end="url(#mk9)"/>
<defs><marker id="mk10" markerUnits="userSpaceOnUse" markerWidth="2.80" markerHeight="2.80" viewBox="0 0 2.80 2.80" refX="1.40" refY="1.40" overflow="visible"><rect width="2.80" height="2.80" fill="#0808f4" fill-opacity="0.5"/></marker></defs>
<path transform="scale(0.25)" d="M970 1811l-16-1-16 6 21-1 11 0-18 3-6 6 11 2 11 2 0 0 3 1-18 1-1 0-16 5 25 2 10 2-18 6-9 0-8 5 35 0" fill="none" stroke="none" marker-start="url(#mk10)" marker-mid="url(#mk10)" marker-end="url(#mk10)"/>
<ellipse cx="194.50" cy="458.50" rx="7.50" ry="7.00" fill="#1010c0" fill-opacity="0.45" filter="url(#bl0)"/>
<ellipse cx="216.00" cy="458.00" rx="8.50" ry="5.00" fill="#1010d0" fill-opacity="0.4" filter="url(#bl2)"/>
<line x1="205.20" y1="380.10" x2="205.20" y2="478.40" stroke="#606060" stroke-width="1.0"/>
<rect x="179.40" y="380.10" width="98.50" height="98.30" fill="none" stroke="#1e1e1e" stroke-width="1.3"/>
<line x1="176.80" y1="478.40" x2="179.40" y2="478.40" stroke="#231f20" stroke-width="0.8"/>
<text x="172.60" y="481.20" font-size="7.5" text-anchor="end" fill="#231f20" color="#231f20" font-weight="normal" >0</text>
<line x1="177.80" y1="474.65" x2="179.40" y2="474.65" stroke="#231f20" stroke-width="0.8"/>
<line x1="177.80" y1="470.90" x2="179.40" y2="470.90" stroke="#231f20" stroke-width="0.8"/>
<line x1="177.80" y1="467.15" x2="179.40" y2="467.15" stroke="#231f20" stroke-width="0.8"/>
<line x1="177.80" y1="463.40" x2="179.40" y2="463.40" stroke="#231f20" stroke-width="0.8"/>
<line x1="176.80" y1="459.65" x2="179.40" y2="459.65" stroke="#231f20" stroke-width="0.8"/>
<text x="172.60" y="462.45" font-size="7.5" text-anchor="end" fill="#231f20" color="#231f20" font-weight="normal" >50K</text>
<line x1="177.80" y1="455.90" x2="179.40" y2="455.90" stroke="#231f20" stroke-width="0.8"/>
<line x1="177.80" y1="452.15" x2="179.40" y2="452.15" stroke="#231f20" stroke-width="0.8"/>
<line x1="177.80" y1="448.40" x2="179.40" y2="448.40" stroke="#231f20" stroke-width="0.8"/>
<line x1="177.80" y1="444.65" x2="179.40" y2="444.65" stroke="#231f20" stroke-width="0.8"/>
<line x1="176.80" y1="440.90" x2="179.40" y2="440.90" stroke="#231f20" stroke-width="0.8"/>
<text x="172.60" y="443.70" font-size="7.5" text-anchor="end" fill="#231f20" color="#231f20" font-weight="normal" >100K</text>
<line x1="177.80" y1="437.15" x2="179.40" y2="437.15" stroke="#231f20" stroke-width="0.8"/>
<line x1="177.80" y1="433.40" x2="179.40" y2="433.40" stroke="#231f20" stroke-width="0.8"/>
<line x1="177.80" y1="429.65" x2="179.40" y2="429.65" stroke="#231f20" stroke-width="0.8"/>
<line x1="177.80" y1="425.90" x2="179.40" y2="425.90" stroke="#231f20" stroke-width="0.8"/>
<line x1="176.80" y1="422.15" x2="179.40" y2="422.15" stroke="#231f20" stroke-width="0.8"/>
<text x="172.60" y="424.95" font-size="7.5" text-anchor="end" fill="#231f20" color="#231f20" font-weight="normal" >150K</text>
<line x1="177.80" y1="418.40" x2="179.40" y2="418.40" stroke="#231f20" stroke-width="0.8"/>
<line x1="177.80" y1="414.65" x2="179.40" y2="414.65" stroke="#231f20" stroke-width="0.8"/>
<line x1="177.80" y1="410.90" x2="179.40" y2="410.90" stroke="#231f20" stroke-width="0.8"/>
<line x1="177.80" y1="407.15" x2="179.40" y2="407.15" stroke="#231f20" stroke-width="0.8"/>
<line x1="176.80" y1="403.40" x2="179.40" y2="403.40" stroke="#231f20" stroke-width="0.8"/>
<text x="172.60" y="406.20" font-size="7.5" text-anchor="end" fill="#231f20" color="#231f20" font-weight="normal" >200K</text>
<line x1="177.80" y1="399.65" x2="179.40" y2="399.65" stroke="#231f20" stroke-width="0.8"/>
<line x1="177.80" y1="395.90" x2="179.40" y2="395.90" stroke="#231f20" stroke-width="0.8"/>
<line x1="177.80" y1="392.15" x2="179.40" y2="392.15" stroke="#231f20" stroke-width="0.8"/>
<line x1="177.80" y1="388.40" x2="179.40" y2="388.40" stroke="#231f20" stroke-width="0.8"/>
<line x1="176.80" y1="384.65" x2="179.40" y2="384.65" stroke="#231f20" stroke-width="0.8"/>
<text x="172.60" y="387.45" font-size="7.5" text-anchor="end" fill="#231f20" color="#231f20" font-weight="normal" >250K</text>
<line x1="177.80" y1="380.90" x2="179.40" y2="380.90" stroke="#231f20" stroke-width="0.8"/>
<text transform="translate(149.10,429.25) rotate(-90) scale(0.62,1)" font-size="9.5" text-anchor="middle" fill="#231f20" color="#231f20">FSC-H</text>
<line x1="189.84" y1="478.40" x2="189.84" y2="481.00" stroke="#231f20" stroke-width="0.8"/>
<text x="189.84" y="490.80" font-size="7.5" text-anchor="middle" fill="#231f20" color="#231f20" font-weight="normal" >0</text>
<line x1="225.60" y1="478.40" x2="225.60" y2="481.00" stroke="#231f20" stroke-width="0.8"/>
<text x="223.70" y="490.80" font-size="7.5" text-anchor="middle" fill="#231f20" color="#231f20" font-weight="normal" >10</text>
<text x="228.00" y="487.40" font-size="5.0" text-anchor="start" fill="#231f20" color="#231f20" font-weight="normal" >3</text>
<line x1="247.66" y1="478.40" x2="247.66" y2="481.00" stroke="#231f20" stroke-width="0.8"/>
<text x="245.76" y="490.80" font-size="7.5" text-anchor="middle" fill="#231f20" color="#231f20" font-weight="normal" >10</text>
<text x="250.06" y="487.40" font-size="5.0" text-anchor="start" fill="#231f20" color="#231f20" font-weight="normal" >4</text>
<line x1="269.53" y1="478.40" x2="269.53" y2="481.00" stroke="#231f20" stroke-width="0.8"/>
<text x="267.63" y="490.80" font-size="7.5" text-anchor="middle" fill="#231f20" color="#231f20" font-weight="normal" >10</text>
<text x="271.93" y="487.40" font-size="5.0" text-anchor="start" fill="#231f20" color="#231f20" font-weight="normal" >5</text>
<line x1="232.24" y1="478.40" x2="232.24" y2="479.90" stroke="#231f20" stroke-width="0.6"/>
<line x1="236.12" y1="478.40" x2="236.12" y2="479.90" stroke="#231f20" stroke-width="0.6"/>
<line x1="238.88" y1="478.40" x2="238.88" y2="479.90" stroke="#231f20" stroke-width="0.6"/>
<line x1="241.02" y1="478.40" x2="241.02" y2="479.90" stroke="#231f20" stroke-width="0.6"/>
<line x1="242.77" y1="478.40" x2="242.77" y2="479.90" stroke="#231f20" stroke-width="0.6"/>
<line x1="244.24" y1="478.40" x2="244.24" y2="479.90" stroke="#231f20" stroke-width="0.6"/>
<line x1="245.52" y1="478.40" x2="245.52" y2="479.90" stroke="#231f20" stroke-width="0.6"/>
<line x1="246.65" y1="478.40" x2="246.65" y2="479.90" stroke="#231f20" stroke-width="0.6"/>
<line x1="210.17" y1="478.40" x2="210.17" y2="479.90" stroke="#231f20" stroke-width="0.6"/>
<line x1="214.06" y1="478.40" x2="214.06" y2="479.90" stroke="#231f20" stroke-width="0.6"/>
<line x1="216.82" y1="478.40" x2="216.82" y2="479.90" stroke="#231f20" stroke-width="0.6"/>
<line x1="218.95" y1="478.40" x2="218.95" y2="479.90" stroke="#231f20" stroke-width="0.6"/>
<line x1="220.70" y1="478.40" x2="220.70" y2="479.90" stroke="#231f20" stroke-width="0.6"/>
<line x1="222.18" y1="478.40" x2="222.18" y2="479.90" stroke="#231f20" stroke-width="0.6"/>
<line x1="223.46" y1="478.40" x2="223.46" y2="479.90" stroke="#231f20" stroke-width="0.6"/>
<line x1="224.59" y1="478.40" x2="224.59" y2="479.90" stroke="#231f20" stroke-width="0.6"/>
<line x1="254.30" y1="478.40" x2="254.30" y2="479.90" stroke="#231f20" stroke-width="0.6"/>
<line x1="258.19" y1="478.40" x2="258.19" y2="479.90" stroke="#231f20" stroke-width="0.6"/>
<line x1="260.94" y1="478.40" x2="260.94" y2="479.90" stroke="#231f20" stroke-width="0.6"/>
<line x1="263.08" y1="478.40" x2="263.08" y2="479.90" stroke="#231f20" stroke-width="0.6"/>
<line x1="264.83" y1="478.40" x2="264.83" y2="479.90" stroke="#231f20" stroke-width="0.6"/>
<line x1="266.31" y1="478.40" x2="266.31" y2="479.90" stroke="#231f20" stroke-width="0.6"/>
<line x1="267.59" y1="478.40" x2="267.59" y2="479.90" stroke="#231f20" stroke-width="0.6"/>
<line x1="268.71" y1="478.40" x2="268.71" y2="479.90" stroke="#231f20" stroke-width="0.6"/>
<line x1="276.17" y1="478.40" x2="276.17" y2="479.90" stroke="#231f20" stroke-width="0.6"/>
<line x1="180.48" y1="478.40" x2="180.48" y2="480.00" stroke="#231f20" stroke-width="0.55"/>
<line x1="181.91" y1="478.40" x2="181.91" y2="480.00" stroke="#231f20" stroke-width="0.55"/>
<line x1="183.34" y1="478.40" x2="183.34" y2="480.00" stroke="#231f20" stroke-width="0.55"/>
<line x1="184.77" y1="478.40" x2="184.77" y2="480.00" stroke="#231f20" stroke-width="0.55"/>
<line x1="186.20" y1="478.40" x2="186.20" y2="480.00" stroke="#231f20" stroke-width="0.55"/>
<line x1="187.62" y1="478.40" x2="187.62" y2="480.00" stroke="#231f20" stroke-width="0.55"/>
<line x1="189.05" y1="478.40" x2="189.05" y2="480.00" stroke="#231f20" stroke-width="0.55"/>
<line x1="190.48" y1="478.40" x2="190.48" y2="480.00" stroke="#231f20" stroke-width="0.55"/>
<line x1="191.91" y1="478.40" x2="191.91" y2="480.00" stroke="#231f20" stroke-width="0.55"/>
<line x1="193.34" y1="478.40" x2="193.34" y2="480.00" stroke="#231f20" stroke-width="0.55"/>
<line x1="194.77" y1="478.40" x2="194.77" y2="480.00" stroke="#231f20" stroke-width="0.55"/>
<line x1="196.19" y1="478.40" x2="196.19" y2="480.00" stroke="#231f20" stroke-width="0.55"/>
<line x1="197.62" y1="478.40" x2="197.62" y2="480.00" stroke="#231f20" stroke-width="0.55"/>
<line x1="199.05" y1="478.40" x2="199.05" y2="480.00" stroke="#231f20" stroke-width="0.55"/>
<text transform="translate(228.65,499.20) scale(0.72,1)" font-size="9" text-anchor="middle" fill="#231f20" color="#231f20" font-weight="normal" >Siglec-9</text>
<text x="237.00" y="437.00" font-size="8.4" text-anchor="middle" fill="#231f20" color="#231f20" font-weight="normal" >57.7%</text>
<rect x="320.10" y="22.69" width="12.90" height="86.01" fill="#de808c"/>
<rect x="346.80" y="22.69" width="12.40" height="86.01" fill="#de808c"/>
<line x1="316.30" y1="19.50" x2="316.30" y2="109.30" stroke="#231f20" stroke-width="1.35"/>
<line x1="315.70" y1="108.70" x2="364.60" y2="108.70" stroke="#231f20" stroke-width="1.35"/>
<line x1="313.10" y1="108.70" x2="316.30" y2="108.70" stroke="#231f20" stroke-width="0.85"/>
<line x1="314.20" y1="105.23" x2="316.30" y2="105.23" stroke="#231f20" stroke-width="0.85"/>
<line x1="314.20" y1="101.76" x2="316.30" y2="101.76" stroke="#231f20" stroke-width="0.85"/>
<line x1="314.20" y1="98.30" x2="316.30" y2="98.30" stroke="#231f20" stroke-width="0.85"/>
<line x1="314.20" y1="94.83" x2="316.30" y2="94.83" stroke="#231f20" stroke-width="0.85"/>
<line x1="313.10" y1="91.36" x2="316.30" y2="91.36" stroke="#231f20" stroke-width="0.85"/>
<line x1="314.20" y1="87.89" x2="316.30" y2="87.89" stroke="#231f20" stroke-width="0.85"/>
<line x1="314.20" y1="84.42" x2="316.30" y2="84.42" stroke="#231f20" stroke-width="0.85"/>
<line x1="314.20" y1="80.96" x2="316.30" y2="80.96" stroke="#231f20" stroke-width="0.85"/>
<line x1="314.20" y1="77.49" x2="316.30" y2="77.49" stroke="#231f20" stroke-width="0.85"/>
<line x1="313.10" y1="74.02" x2="316.30" y2="74.02" stroke="#231f20" stroke-width="0.85"/>
<line x1="314.20" y1="70.55" x2="316.30" y2="70.55" stroke="#231f20" stroke-width="0.85"/>
<line x1="314.20" y1="67.08" x2="316.30" y2="67.08" stroke="#231f20" stroke-width="0.85"/>
<line x1="314.20" y1="63.62" x2="316.30" y2="63.62" stroke="#231f20" stroke-width="0.85"/>
<line x1="314.20" y1="60.15" x2="316.30" y2="60.15" stroke="#231f20" stroke-width="0.85"/>
<line x1="313.10" y1="56.68" x2="316.30" y2="56.68" stroke="#231f20" stroke-width="0.85"/>
<line x1="314.20" y1="53.21" x2="316.30" y2="53.21" stroke="#231f20" stroke-width="0.85"/>
<line x1="314.20" y1="49.74" x2="316.30" y2="49.74" stroke="#231f20" stroke-width="0.85"/>
<line x1="314.20" y1="46.28" x2="316.30" y2="46.28" stroke="#231f20" stroke-width="0.85"/>
<line x1="314.20" y1="42.81" x2="316.30" y2="42.81" stroke="#231f20" stroke-width="0.85"/>
<line x1="313.10" y1="39.34" x2="316.30" y2="39.34" stroke="#231f20" stroke-width="0.85"/>
<line x1="314.20" y1="35.87" x2="316.30" y2="35.87" stroke="#231f20" stroke-width="0.85"/>
<line x1="314.20" y1="32.40" x2="316.30" y2="32.40" stroke="#231f20" stroke-width="0.85"/>
<line x1="314.20" y1="28.94" x2="316.30" y2="28.94" stroke="#231f20" stroke-width="0.85"/>
<line x1="314.20" y1="25.47" x2="316.30" y2="25.47" stroke="#231f20" stroke-width="0.85"/>
<line x1="313.10" y1="22.00" x2="316.30" y2="22.00" stroke="#231f20" stroke-width="0.85"/>
<text x="309.30" y="111.40" font-size="7.5" text-anchor="end" fill="#231f20" color="#231f20" font-weight="normal" >0</text>
<text x="309.30" y="94.06" font-size="7.5" text-anchor="end" fill="#231f20" color="#231f20" font-weight="normal" >20</text>
<text x="309.30" y="76.72" font-size="7.5" text-anchor="end" fill="#231f20" color="#231f20" font-weight="normal" >40</text>
<text x="309.30" y="59.38" font-size="7.5" text-anchor="end" fill="#231f20" color="#231f20" font-weight="normal" >60</text>
<text x="309.30" y="42.04" font-size="7.5" text-anchor="end" fill="#231f20" color="#231f20" font-weight="normal" >80</text>
<text x="309.30" y="24.70" font-size="7.5" text-anchor="end" fill="#231f20" color="#231f20" font-weight="normal" >100</text>
<text transform="translate(291.50,63.10) rotate(-90) scale(0.74,1)" font-size="8.8" text-anchor="middle" fill="#231f20" color="#231f20">% Positive cells</text>
<line x1="326.20" y1="108.70" x2="326.20" y2="111.30" stroke="#231f20" stroke-width="0.85"/>
<text x="326.20" y="119.70" font-size="7.5" text-anchor="middle" fill="#231f20" color="#231f20" font-weight="normal" >Sig-7L</text>
<line x1="352.80" y1="108.70" x2="352.80" y2="111.30" stroke="#231f20" stroke-width="0.85"/>
<text x="352.80" y="119.70" font-size="7.5" text-anchor="middle" fill="#231f20" color="#231f20" font-weight="normal" >Sig-9L</text>
<text x="340.00" y="15.00" font-size="9.5" text-anchor="middle" fill="#231f20" color="#231f20" font-weight="normal" >MGUS</text>
<circle cx="322.30" cy="21.50" r="1.5" fill="#c8002c"/>
<circle cx="326.50" cy="24.40" r="1.5" fill="#c8002c"/>
<circle cx="330.50" cy="21.50" r="1.5" fill="#c8002c"/>
<circle cx="348.80" cy="21.50" r="1.5" fill="#c8002c"/>
<circle cx="352.80" cy="23.20" r="1.5" fill="#c8002c"/>
<circle cx="356.90" cy="22.00" r="1.5" fill="#c8002c"/>
<rect x="409.40" y="35.01" width="12.80" height="73.69" fill="#80a0c0"/>
<rect x="434.90" y="34.74" width="13.00" height="73.96" fill="#80a0c0"/>
<line x1="406.30" y1="19.50" x2="406.30" y2="109.30" stroke="#231f20" stroke-width="1.35"/>
<line x1="405.70" y1="108.70" x2="453.90" y2="108.70" stroke="#231f20" stroke-width="1.35"/>
<line x1="403.10" y1="108.70" x2="406.30" y2="108.70" stroke="#231f20" stroke-width="0.85"/>
<line x1="404.20" y1="105.23" x2="406.30" y2="105.23" stroke="#231f20" stroke-width="0.85"/>
<line x1="404.20" y1="101.76" x2="406.30" y2="101.76" stroke="#231f20" stroke-width="0.85"/>
<line x1="404.20" y1="98.30" x2="406.30" y2="98.30" stroke="#231f20" stroke-width="0.85"/>
<line x1="404.20" y1="94.83" x2="406.30" y2="94.83" stroke="#231f20" stroke-width="0.85"/>
<line x1="403.10" y1="91.36" x2="406.30" y2="91.36" stroke="#231f20" stroke-width="0.85"/>
<line x1="404.20" y1="87.89" x2="406.30" y2="87.89" stroke="#231f20" stroke-width="0.85"/>
<line x1="404.20" y1="84.42" x2="406.30" y2="84.42" stroke="#231f20" stroke-width="0.85"/>
<line x1="404.20" y1="80.96" x2="406.30" y2="80.96" stroke="#231f20" stroke-width="0.85"/>
<line x1="404.20" y1="77.49" x2="406.30" y2="77.49" stroke="#231f20" stroke-width="0.85"/>
<line x1="403.10" y1="74.02" x2="406.30" y2="74.02" stroke="#231f20" stroke-width="0.85"/>
<line x1="404.20" y1="70.55" x2="406.30" y2="70.55" stroke="#231f20" stroke-width="0.85"/>
<line x1="404.20" y1="67.08" x2="406.30" y2="67.08" stroke="#231f20" stroke-width="0.85"/>
<line x1="404.20" y1="63.62" x2="406.30" y2="63.62" stroke="#231f20" stroke-width="0.85"/>
<line x1="404.20" y1="60.15" x2="406.30" y2="60.15" stroke="#231f20" stroke-width="0.85"/>
<line x1="403.10" y1="56.68" x2="406.30" y2="56.68" stroke="#231f20" stroke-width="0.85"/>
<line x1="404.20" y1="53.21" x2="406.30" y2="53.21" stroke="#231f20" stroke-width="0.85"/>
<line x1="404.20" y1="49.74" x2="406.30" y2="49.74" stroke="#231f20" stroke-width="0.85"/>
<line x1="404.20" y1="46.28" x2="406.30" y2="46.28" stroke="#231f20" stroke-width="0.85"/>
<line x1="404.20" y1="42.81" x2="406.30" y2="42.81" stroke="#231f20" stroke-width="0.85"/>
<line x1="403.10" y1="39.34" x2="406.30" y2="39.34" stroke="#231f20" stroke-width="0.85"/>
<line x1="404.20" y1="35.87" x2="406.30" y2="35.87" stroke="#231f20" stroke-width="0.85"/>
<line x1="404.20" y1="32.40" x2="406.30" y2="32.40" stroke="#231f20" stroke-width="0.85"/>
<line x1="404.20" y1="28.94" x2="406.30" y2="28.94" stroke="#231f20" stroke-width="0.85"/>
<line x1="404.20" y1="25.47" x2="406.30" y2="25.47" stroke="#231f20" stroke-width="0.85"/>
<line x1="403.10" y1="22.00" x2="406.30" y2="22.00" stroke="#231f20" stroke-width="0.85"/>
<text x="399.30" y="111.40" font-size="7.5" text-anchor="end" fill="#231f20" color="#231f20" font-weight="normal" >0</text>
<text x="399.30" y="94.06" font-size="7.5" text-anchor="end" fill="#231f20" color="#231f20" font-weight="normal" >20</text>
<text x="399.30" y="76.72" font-size="7.5" text-anchor="end" fill="#231f20" color="#231f20" font-weight="normal" >40</text>
<text x="399.30" y="59.38" font-size="7.5" text-anchor="end" fill="#231f20" color="#231f20" font-weight="normal" >60</text>
<text x="399.30" y="42.04" font-size="7.5" text-anchor="end" fill="#231f20" color="#231f20" font-weight="normal" >80</text>
<text x="399.30" y="24.70" font-size="7.5" text-anchor="end" fill="#231f20" color="#231f20" font-weight="normal" >100</text>
<text transform="translate(381.20,62.80) rotate(-90) scale(0.74,1)" font-size="8.8" text-anchor="middle" fill="#231f20" color="#231f20">% Positive cells</text>
<line x1="415.90" y1="108.70" x2="415.90" y2="111.30" stroke="#231f20" stroke-width="0.85"/>
<text x="415.90" y="119.70" font-size="7.5" text-anchor="middle" fill="#231f20" color="#231f20" font-weight="normal" >Sig-7L</text>
<line x1="441.40" y1="108.70" x2="441.40" y2="111.30" stroke="#231f20" stroke-width="0.85"/>
<text x="441.40" y="119.70" font-size="7.5" text-anchor="middle" fill="#231f20" color="#231f20" font-weight="normal" >Sig-9L</text>
<text x="430.00" y="15.00" font-size="9.5" text-anchor="middle" fill="#231f20" color="#231f20" font-weight="normal" >ND-MM</text>
<circle cx="410.70" cy="22.60" r="1.45" fill="#0b4a86"/>
<circle cx="413.80" cy="23.10" r="1.45" fill="#0b4a86"/>
<circle cx="417.20" cy="22.60" r="1.45" fill="#0b4a86"/>
<circle cx="420.70" cy="22.50" r="1.45" fill="#0b4a86"/>
<circle cx="415.50" cy="30.80" r="1.45" fill="#0b4a86"/>
<circle cx="415.50" cy="47.20" r="1.45" fill="#0b4a86"/>
<circle cx="415.50" cy="52.90" r="1.45" fill="#0b4a86"/>
<circle cx="415.50" cy="58.80" r="1.45" fill="#0b4a86"/>
<rect x="435.25" y="21.15" width="2.7" height="2.7" fill="#0b4a86"/>
<rect x="438.75" y="21.15" width="2.7" height="2.7" fill="#0b4a86"/>
<rect x="442.15" y="23.05" width="2.7" height="2.7" fill="#0b4a86"/>
<rect x="444.25" y="21.25" width="2.7" height="2.7" fill="#0b4a86"/>
<rect x="437.85" y="25.95" width="2.7" height="2.7" fill="#0b4a86"/>
<rect x="439.55" y="44.95" width="2.7" height="2.7" fill="#0b4a86"/>
<rect x="437.85" y="55.85" width="2.7" height="2.7" fill="#0b4a86"/>
<rect x="442.15" y="55.05" width="2.7" height="2.7" fill="#0b4a86"/>
<rect x="319.10" y="154.43" width="20.90" height="76.97" fill="#c8102e"/>
<line x1="329.55" y1="154.43" x2="329.55" y2="152.20" stroke="#231f20" stroke-width="1.1"/>
<line x1="324.95" y1="152.20" x2="334.15" y2="152.20" stroke="#231f20" stroke-width="1.1"/>
<rect x="344.70" y="161.11" width="21.00" height="70.29" fill="#0f4c81"/>
<line x1="355.20" y1="161.11" x2="355.20" y2="156.99" stroke="#231f20" stroke-width="1.1"/>
<line x1="350.60" y1="156.99" x2="359.80" y2="156.99" stroke="#231f20" stroke-width="1.1"/>
<rect x="370.20" y="160.37" width="20.60" height="71.03" fill="#3cb34a"/>
<line x1="380.50" y1="160.37" x2="380.50" y2="158.31" stroke="#231f20" stroke-width="1.1"/>
<line x1="375.90" y1="158.31" x2="385.10" y2="158.31" stroke="#231f20" stroke-width="1.1"/>
<line x1="316.50" y1="146.40" x2="316.50" y2="232.00" stroke="#231f20" stroke-width="1.35"/>
<line x1="315.90" y1="231.40" x2="396.20" y2="231.40" stroke="#231f20" stroke-width="1.35"/>
<line x1="313.30" y1="231.40" x2="316.50" y2="231.40" stroke="#231f20" stroke-width="0.85"/>
<line x1="314.40" y1="228.10" x2="316.50" y2="228.10" stroke="#231f20" stroke-width="0.85"/>
<line x1="314.40" y1="224.80" x2="316.50" y2="224.80" stroke="#231f20" stroke-width="0.85"/>
<line x1="314.40" y1="221.50" x2="316.50" y2="221.50" stroke="#231f20" stroke-width="0.85"/>
<line x1="314.40" y1="218.20" x2="316.50" y2="218.20" stroke="#231f20" stroke-width="0.85"/>
<line x1="313.30" y1="214.90" x2="316.50" y2="214.90" stroke="#231f20" stroke-width="0.85"/>
<line x1="314.40" y1="211.60" x2="316.50" y2="211.60" stroke="#231f20" stroke-width="0.85"/>
<line x1="314.40" y1="208.30" x2="316.50" y2="208.30" stroke="#231f20" stroke-width="0.85"/>
<line x1="314.40" y1="205.00" x2="316.50" y2="205.00" stroke="#231f20" stroke-width="0.85"/>
<line x1="314.40" y1="201.70" x2="316.50" y2="201.70" stroke="#231f20" stroke-width="0.85"/>
<line x1="313.30" y1="198.40" x2="316.50" y2="198.40" stroke="#231f20" stroke-width="0.85"/>
<line x1="314.40" y1="195.10" x2="316.50" y2="195.10" stroke="#231f20" stroke-width="0.85"/>
<line x1="314.40" y1="191.80" x2="316.50" y2="191.80" stroke="#231f20" stroke-width="0.85"/>
<line x1="314.40" y1="188.50" x2="316.50" y2="188.50" stroke="#231f20" stroke-width="0.85"/>
<line x1="314.40" y1="185.20" x2="316.50" y2="185.20" stroke="#231f20" stroke-width="0.85"/>
<line x1="313.30" y1="181.90" x2="316.50" y2="181.90" stroke="#231f20" stroke-width="0.85"/>
<line x1="314.40" y1="178.60" x2="316.50" y2="178.60" stroke="#231f20" stroke-width="0.85"/>
<line x1="314.40" y1="175.30" x2="316.50" y2="175.30" stroke="#231f20" stroke-width="0.85"/>
<line x1="314.40" y1="172.00" x2="316.50" y2="172.00" stroke="#231f20" stroke-width="0.85"/>
<line x1="314.40" y1="168.70" x2="316.50" y2="168.70" stroke="#231f20" stroke-width="0.85"/>
<line x1="313.30" y1="165.40" x2="316.50" y2="165.40" stroke="#231f20" stroke-width="0.85"/>
<line x1="314.40" y1="162.10" x2="316.50" y2="162.10" stroke="#231f20" stroke-width="0.85"/>
<line x1="314.40" y1="158.80" x2="316.50" y2="158.80" stroke="#231f20" stroke-width="0.85"/>
<line x1="314.40" y1="155.50" x2="316.50" y2="155.50" stroke="#231f20" stroke-width="0.85"/>
<line x1="314.40" y1="152.20" x2="316.50" y2="152.20" stroke="#231f20" stroke-width="0.85"/>
<line x1="313.30" y1="148.90" x2="316.50" y2="148.90" stroke="#231f20" stroke-width="0.85"/>
<text x="309.50" y="234.10" font-size="7.5" text-anchor="end" fill="#231f20" color="#231f20" font-weight="normal" >0</text>
<text x="309.50" y="217.60" font-size="7.5" text-anchor="end" fill="#231f20" color="#231f20" font-weight="normal" >20</text>
<text x="309.50" y="201.10" font-size="7.5" text-anchor="end" fill="#231f20" color="#231f20" font-weight="normal" >40</text>
<text x="309.50" y="184.60" font-size="7.5" text-anchor="end" fill="#231f20" color="#231f20" font-weight="normal" >60</text>
<text x="309.50" y="168.10" font-size="7.5" text-anchor="end" fill="#231f20" color="#231f20" font-weight="normal" >80</text>
<text x="309.50" y="151.60" font-size="7.5" text-anchor="end" fill="#231f20" color="#231f20" font-weight="normal" >100</text>
<text transform="translate(290.60,189.60) rotate(-90) scale(0.74,1)" font-size="8.8" text-anchor="middle" fill="#231f20" color="#231f20">% Siglec-7L+</text>
<line x1="329.40" y1="231.40" x2="329.40" y2="234.00" stroke="#231f20" stroke-width="0.85"/>
<text x="329.40" y="243.30" font-size="7.8" text-anchor="middle" fill="#231f20" color="#231f20" font-weight="normal" >MM1S</text>
<line x1="355.30" y1="231.40" x2="355.30" y2="234.00" stroke="#231f20" stroke-width="0.85"/>
<text x="355.30" y="243.30" font-size="7.8" text-anchor="middle" fill="#231f20" color="#231f20" font-weight="normal" >H929</text>
<line x1="380.60" y1="231.40" x2="380.60" y2="234.00" stroke="#231f20" stroke-width="0.85"/>
<text x="380.60" y="243.30" font-size="7.8" text-anchor="middle" fill="#231f20" color="#231f20" font-weight="normal" >JJN3</text>
<rect x="435.80" y="151.62" width="21.20" height="79.98" fill="#c8102e"/>
<line x1="446.40" y1="151.62" x2="446.40" y2="150.47" stroke="#231f20" stroke-width="1.1"/>
<line x1="441.80" y1="150.47" x2="451.00" y2="150.47" stroke="#231f20" stroke-width="1.1"/>
<rect x="461.00" y="150.88" width="21.40" height="80.72" fill="#0f4c81"/>
<line x1="471.70" y1="150.88" x2="471.70" y2="150.06" stroke="#231f20" stroke-width="1.1"/>
<line x1="467.10" y1="150.06" x2="476.30" y2="150.06" stroke="#231f20" stroke-width="1.1"/>
<rect x="486.80" y="150.39" width="21.20" height="81.21" fill="#3cb34a"/>
<line x1="497.40" y1="150.39" x2="497.40" y2="149.56" stroke="#231f20" stroke-width="1.1"/>
<line x1="492.80" y1="149.56" x2="502.00" y2="149.56" stroke="#231f20" stroke-width="1.1"/>
<line x1="433.20" y1="146.90" x2="433.20" y2="232.20" stroke="#231f20" stroke-width="1.35"/>
<line x1="432.60" y1="231.60" x2="513.00" y2="231.60" stroke="#231f20" stroke-width="1.35"/>
<line x1="430.00" y1="231.60" x2="433.20" y2="231.60" stroke="#231f20" stroke-width="0.85"/>
<line x1="431.10" y1="228.31" x2="433.20" y2="228.31" stroke="#231f20" stroke-width="0.85"/>
<line x1="431.10" y1="225.02" x2="433.20" y2="225.02" stroke="#231f20" stroke-width="0.85"/>
<line x1="431.10" y1="221.74" x2="433.20" y2="221.74" stroke="#231f20" stroke-width="0.85"/>
<line x1="431.10" y1="218.45" x2="433.20" y2="218.45" stroke="#231f20" stroke-width="0.85"/>
<line x1="430.00" y1="215.16" x2="433.20" y2="215.16" stroke="#231f20" stroke-width="0.85"/>
<line x1="431.10" y1="211.87" x2="433.20" y2="211.87" stroke="#231f20" stroke-width="0.85"/>
<line x1="431.10" y1="208.58" x2="433.20" y2="208.58" stroke="#231f20" stroke-width="0.85"/>
<line x1="431.10" y1="205.30" x2="433.20" y2="205.30" stroke="#231f20" stroke-width="0.85"/>
<line x1="431.10" y1="202.01" x2="433.20" y2="202.01" stroke="#231f20" stroke-width="0.85"/>
<line x1="430.00" y1="198.72" x2="433.20" y2="198.72" stroke="#231f20" stroke-width="0.85"/>
<line x1="431.10" y1="195.43" x2="433.20" y2="195.43" stroke="#231f20" stroke-width="0.85"/>
<line x1="431.10" y1="192.14" x2="433.20" y2="192.14" stroke="#231f20" stroke-width="0.85"/>
<line x1="431.10" y1="188.86" x2="433.20" y2="188.86" stroke="#231f20" stroke-width="0.85"/>
<line x1="431.10" y1="185.57" x2="433.20" y2="185.57" stroke="#231f20" stroke-width="0.85"/>
<line x1="430.00" y1="182.28" x2="433.20" y2="182.28" stroke="#231f20" stroke-width="0.85"/>
<line x1="431.10" y1="178.99" x2="433.20" y2="178.99" stroke="#231f20" stroke-width="0.85"/>
<line x1="431.10" y1="175.70" x2="433.20" y2="175.70" stroke="#231f20" stroke-width="0.85"/>
<line x1="431.10" y1="172.42" x2="433.20" y2="172.42" stroke="#231f20" stroke-width="0.85"/>
<line x1="431.10" y1="169.13" x2="433.20" y2="169.13" stroke="#231f20" stroke-width="0.85"/>
<line x1="430.00" y1="165.84" x2="433.20" y2="165.84" stroke="#231f20" stroke-width="0.85"/>
<line x1="431.10" y1="162.55" x2="433.20" y2="162.55" stroke="#231f20" stroke-width="0.85"/>
<line x1="431.10" y1="159.26" x2="433.20" y2="159.26" stroke="#231f20" stroke-width="0.85"/>
<line x1="431.10" y1="155.98" x2="433.20" y2="155.98" stroke="#231f20" stroke-width="0.85"/>
<line x1="431.10" y1="152.69" x2="433.20" y2="152.69" stroke="#231f20" stroke-width="0.85"/>
<line x1="430.00" y1="149.40" x2="433.20" y2="149.40" stroke="#231f20" stroke-width="0.85"/>
<text x="426.20" y="234.30" font-size="7.5" text-anchor="end" fill="#231f20" color="#231f20" font-weight="normal" >0</text>
<text x="426.20" y="217.86" font-size="7.5" text-anchor="end" fill="#231f20" color="#231f20" font-weight="normal" >20</text>
<text x="426.20" y="201.42" font-size="7.5" text-anchor="end" fill="#231f20" color="#231f20" font-weight="normal" >40</text>
<text x="426.20" y="184.98" font-size="7.5" text-anchor="end" fill="#231f20" color="#231f20" font-weight="normal" >60</text>
<text x="426.20" y="168.54" font-size="7.5" text-anchor="end" fill="#231f20" color="#231f20" font-weight="normal" >80</text>
<text x="426.20" y="152.10" font-size="7.5" text-anchor="end" fill="#231f20" color="#231f20" font-weight="normal" >100</text>
<text transform="translate(407.00,189.00) rotate(-90) scale(0.74,1)" font-size="8.8" text-anchor="middle" fill="#231f20" color="#231f20">% Siglec-9L+</text>
<line x1="446.40" y1="231.60" x2="446.40" y2="234.20" stroke="#231f20" stroke-width="0.85"/>
<text x="446.40" y="243.50" font-size="7.8" text-anchor="middle" fill="#231f20" color="#231f20" font-weight="normal" >MM1S</text>
<line x1="471.70" y1="231.60" x2="471.70" y2="234.20" stroke="#231f20" stroke-width="0.85"/>
<text x="471.70" y="243.50" font-size="7.8" text-anchor="middle" fill="#231f20" color="#231f20" font-weight="normal" >H929</text>
<line x1="497.40" y1="231.60" x2="497.40" y2="234.20" stroke="#231f20" stroke-width="0.85"/>
<text x="497.40" y="243.50" font-size="7.8" text-anchor="middle" fill="#231f20" color="#231f20" font-weight="normal" >JJN3</text>
<rect x="202.50" y="272.65" width="42.00" height="80.35" fill="#de808c"/>
<line x1="191.40" y1="256.30" x2="191.40" y2="353.60" stroke="#231f20" stroke-width="1.35"/>
<line x1="190.80" y1="353.00" x2="255.80" y2="353.00" stroke="#231f20" stroke-width="1.35"/>
<line x1="188.20" y1="353.00" x2="191.40" y2="353.00" stroke="#231f20" stroke-width="0.85"/>
<line x1="189.30" y1="349.23" x2="191.40" y2="349.23" stroke="#231f20" stroke-width="0.85"/>
<line x1="189.30" y1="345.46" x2="191.40" y2="345.46" stroke="#231f20" stroke-width="0.85"/>
<line x1="189.30" y1="341.70" x2="191.40" y2="341.70" stroke="#231f20" stroke-width="0.85"/>
<line x1="189.30" y1="337.93" x2="191.40" y2="337.93" stroke="#231f20" stroke-width="0.85"/>
<line x1="188.20" y1="334.16" x2="191.40" y2="334.16" stroke="#231f20" stroke-width="0.85"/>
<line x1="189.30" y1="330.39" x2="191.40" y2="330.39" stroke="#231f20" stroke-width="0.85"/>
<line x1="189.30" y1="326.62" x2="191.40" y2="326.62" stroke="#231f20" stroke-width="0.85"/>
<line x1="189.30" y1="322.86" x2="191.40" y2="322.86" stroke="#231f20" stroke-width="0.85"/>
<line x1="189.30" y1="319.09" x2="191.40" y2="319.09" stroke="#231f20" stroke-width="0.85"/>
<line x1="188.20" y1="315.32" x2="191.40" y2="315.32" stroke="#231f20" stroke-width="0.85"/>
<line x1="189.30" y1="311.55" x2="191.40" y2="311.55" stroke="#231f20" stroke-width="0.85"/>
<line x1="189.30" y1="307.78" x2="191.40" y2="307.78" stroke="#231f20" stroke-width="0.85"/>
<line x1="189.30" y1="304.02" x2="191.40" y2="304.02" stroke="#231f20" stroke-width="0.85"/>
<line x1="189.30" y1="300.25" x2="191.40" y2="300.25" stroke="#231f20" stroke-width="0.85"/>
<line x1="188.20" y1="296.48" x2="191.40" y2="296.48" stroke="#231f20" stroke-width="0.85"/>
<line x1="189.30" y1="292.71" x2="191.40" y2="292.71" stroke="#231f20" stroke-width="0.85"/>
<line x1="189.30" y1="288.94" x2="191.40" y2="288.94" stroke="#231f20" stroke-width="0.85"/>
<line x1="189.30" y1="285.18" x2="191.40" y2="285.18" stroke="#231f20" stroke-width="0.85"/>
<line x1="189.30" y1="281.41" x2="191.40" y2="281.41" stroke="#231f20" stroke-width="0.85"/>
<line x1="188.20" y1="277.64" x2="191.40" y2="277.64" stroke="#231f20" stroke-width="0.85"/>
<line x1="189.30" y1="273.87" x2="191.40" y2="273.87" stroke="#231f20" stroke-width="0.85"/>
<line x1="189.30" y1="270.10" x2="191.40" y2="270.10" stroke="#231f20" stroke-width="0.85"/>
<line x1="189.30" y1="266.34" x2="191.40" y2="266.34" stroke="#231f20" stroke-width="0.85"/>
<line x1="189.30" y1="262.57" x2="191.40" y2="262.57" stroke="#231f20" stroke-width="0.85"/>
<line x1="188.20" y1="258.80" x2="191.40" y2="258.80" stroke="#231f20" stroke-width="0.85"/>
<text x="186.00" y="355.70" font-size="7.5" text-anchor="end" fill="#231f20" color="#231f20" font-weight="normal" >0</text>
<text x="186.00" y="336.86" font-size="7.5" text-anchor="end" fill="#231f20" color="#231f20" font-weight="normal" >20</text>
<text x="186.00" y="318.02" font-size="7.5" text-anchor="end" fill="#231f20" color="#231f20" font-weight="normal" >40</text>
<text x="186.00" y="299.18" font-size="7.5" text-anchor="end" fill="#231f20" color="#231f20" font-weight="normal" >60</text>
<text x="186.00" y="280.34" font-size="7.5" text-anchor="end" fill="#231f20" color="#231f20" font-weight="normal" >80</text>
<text x="186.00" y="261.50" font-size="7.5" text-anchor="end" fill="#231f20" color="#231f20" font-weight="normal" >100</text>
<text transform="translate(167.50,307.60) rotate(-90) scale(0.74,1)" font-size="8.8" text-anchor="middle" fill="#231f20" color="#231f20">% Siglec-7+</text>
<line x1="223.50" y1="353.00" x2="223.50" y2="355.60" stroke="#231f20" stroke-width="0.85"/>
<text x="223.50" y="364.90" font-size="7.8" text-anchor="middle" fill="#231f20" color="#231f20" font-weight="normal" >BMA-NK</text>
<circle cx="213.20" cy="264.70" r="1.5" fill="#c8002c"/>
<circle cx="218.00" cy="265.20" r="1.5" fill="#c8002c"/>
<circle cx="220.80" cy="262.50" r="1.5" fill="#c8002c"/>
<circle cx="225.60" cy="261.70" r="1.5" fill="#c8002c"/>
<circle cx="228.30" cy="264.70" r="1.5" fill="#c8002c"/>
<circle cx="232.90" cy="264.40" r="1.5" fill="#c8002c"/>
<circle cx="222.90" cy="268.70" r="1.5" fill="#c8002c"/>
<circle cx="225.60" cy="271.40" r="1.5" fill="#c8002c"/>
<circle cx="220.80" cy="275.40" r="1.5" fill="#c8002c"/>
<circle cx="223.50" cy="281.30" r="1.5" fill="#c8002c"/>
<circle cx="223.50" cy="319.00" r="1.5" fill="#c8002c"/>
<rect x="323.00" y="392.30" width="27.00" height="85.70" fill="#c8102e"/>
<line x1="336.50" y1="392.30" x2="336.50" y2="386.33" stroke="#231f20" stroke-width="1.1"/>
<line x1="331.90" y1="386.33" x2="341.10" y2="386.33" stroke="#231f20" stroke-width="1.1"/>
<rect x="363.80" y="390.21" width="27.00" height="87.79" fill="#0f4c81"/>
<line x1="377.30" y1="390.21" x2="377.30" y2="388.04" stroke="#231f20" stroke-width="1.1"/>
<line x1="372.70" y1="388.04" x2="381.90" y2="388.04" stroke="#231f20" stroke-width="1.1"/>
<line x1="316.10" y1="380.80" x2="316.10" y2="478.60" stroke="#231f20" stroke-width="1.35"/>
<line x1="315.50" y1="478.00" x2="395.00" y2="478.00" stroke="#231f20" stroke-width="1.35"/>
<line x1="312.90" y1="478.00" x2="316.10" y2="478.00" stroke="#231f20" stroke-width="0.85"/>
<line x1="314.00" y1="474.21" x2="316.10" y2="474.21" stroke="#231f20" stroke-width="0.85"/>
<line x1="314.00" y1="470.42" x2="316.10" y2="470.42" stroke="#231f20" stroke-width="0.85"/>
<line x1="314.00" y1="466.64" x2="316.10" y2="466.64" stroke="#231f20" stroke-width="0.85"/>
<line x1="314.00" y1="462.85" x2="316.10" y2="462.85" stroke="#231f20" stroke-width="0.85"/>
<line x1="312.90" y1="459.06" x2="316.10" y2="459.06" stroke="#231f20" stroke-width="0.85"/>
<line x1="314.00" y1="455.27" x2="316.10" y2="455.27" stroke="#231f20" stroke-width="0.85"/>
<line x1="314.00" y1="451.48" x2="316.10" y2="451.48" stroke="#231f20" stroke-width="0.85"/>
<line x1="314.00" y1="447.70" x2="316.10" y2="447.70" stroke="#231f20" stroke-width="0.85"/>
<line x1="314.00" y1="443.91" x2="316.10" y2="443.91" stroke="#231f20" stroke-width="0.85"/>
<line x1="312.90" y1="440.12" x2="316.10" y2="440.12" stroke="#231f20" stroke-width="0.85"/>
<line x1="314.00" y1="436.33" x2="316.10" y2="436.33" stroke="#231f20" stroke-width="0.85"/>
<line x1="314.00" y1="432.54" x2="316.10" y2="432.54" stroke="#231f20" stroke-width="0.85"/>
<line x1="314.00" y1="428.76" x2="316.10" y2="428.76" stroke="#231f20" stroke-width="0.85"/>
<line x1="314.00" y1="424.97" x2="316.10" y2="424.97" stroke="#231f20" stroke-width="0.85"/>
<line x1="312.90" y1="421.18" x2="316.10" y2="421.18" stroke="#231f20" stroke-width="0.85"/>
<line x1="314.00" y1="417.39" x2="316.10" y2="417.39" stroke="#231f20" stroke-width="0.85"/>
<line x1="314.00" y1="413.60" x2="316.10" y2="413.60" stroke="#231f20" stroke-width="0.85"/>
<line x1="314.00" y1="409.82" x2="316.10" y2="409.82" stroke="#231f20" stroke-width="0.85"/>
<line x1="314.00" y1="406.03" x2="316.10" y2="406.03" stroke="#231f20" stroke-width="0.85"/>
<line x1="312.90" y1="402.24" x2="316.10" y2="402.24" stroke="#231f20" stroke-width="0.85"/>
<line x1="314.00" y1="398.45" x2="316.10" y2="398.45" stroke="#231f20" stroke-width="0.85"/>
<line x1="314.00" y1="394.66" x2="316.10" y2="394.66" stroke="#231f20" stroke-width="0.85"/>
<line x1="314.00" y1="390.88" x2="316.10" y2="390.88" stroke="#231f20" stroke-width="0.85"/>
<line x1="314.00" y1="387.09" x2="316.10" y2="387.09" stroke="#231f20" stroke-width="0.85"/>
<line x1="312.90" y1="383.30" x2="316.10" y2="383.30" stroke="#231f20" stroke-width="0.85"/>
<text x="309.60" y="480.70" font-size="7.5" text-anchor="end" fill="#231f20" color="#231f20" font-weight="normal" >0</text>
<text x="309.60" y="461.76" font-size="7.5" text-anchor="end" fill="#231f20" color="#231f20" font-weight="normal" >20</text>
<text x="309.60" y="442.82" font-size="7.5" text-anchor="end" fill="#231f20" color="#231f20" font-weight="normal" >40</text>
<text x="309.60" y="423.88" font-size="7.5" text-anchor="end" fill="#231f20" color="#231f20" font-weight="normal" >60</text>
<text x="309.60" y="404.94" font-size="7.5" text-anchor="end" fill="#231f20" color="#231f20" font-weight="normal" >80</text>
<text x="309.60" y="386.00" font-size="7.5" text-anchor="end" fill="#231f20" color="#231f20" font-weight="normal" >100</text>
<text transform="translate(291.00,429.60) rotate(-90) scale(0.74,1)" font-size="8.8" text-anchor="middle" fill="#231f20" color="#231f20">% Siglec-7+ cells</text>
<line x1="336.50" y1="478.00" x2="336.50" y2="480.60" stroke="#231f20" stroke-width="0.85"/>
<text x="336.50" y="489.90" font-size="7.8" text-anchor="middle" fill="#231f20" color="#231f20" font-weight="normal" >IL-2 act-NK</text>
<line x1="377.30" y1="478.00" x2="377.30" y2="480.60" stroke="#231f20" stroke-width="0.85"/>
<text x="377.30" y="489.90" font-size="7.8" text-anchor="middle" fill="#231f20" color="#231f20" font-weight="normal" >exp-NK</text>
<rect x="439.00" y="421.94" width="27.00" height="56.06" fill="#c8102e"/>
<line x1="452.50" y1="421.94" x2="452.50" y2="417.11" stroke="#231f20" stroke-width="1.1"/>
<line x1="447.90" y1="417.11" x2="457.10" y2="417.11" stroke="#231f20" stroke-width="1.1"/>
<line x1="432.60" y1="380.80" x2="432.60" y2="478.60" stroke="#231f20" stroke-width="1.35"/>
<line x1="432.00" y1="478.00" x2="506.60" y2="478.00" stroke="#231f20" stroke-width="1.35"/>
<line x1="429.40" y1="478.00" x2="432.60" y2="478.00" stroke="#231f20" stroke-width="0.85"/>
<line x1="430.50" y1="474.21" x2="432.60" y2="474.21" stroke="#231f20" stroke-width="0.85"/>
<line x1="430.50" y1="470.42" x2="432.60" y2="470.42" stroke="#231f20" stroke-width="0.85"/>
<line x1="430.50" y1="466.64" x2="432.60" y2="466.64" stroke="#231f20" stroke-width="0.85"/>
<line x1="430.50" y1="462.85" x2="432.60" y2="462.85" stroke="#231f20" stroke-width="0.85"/>
<line x1="429.40" y1="459.06" x2="432.60" y2="459.06" stroke="#231f20" stroke-width="0.85"/>
<line x1="430.50" y1="455.27" x2="432.60" y2="455.27" stroke="#231f20" stroke-width="0.85"/>
<line x1="430.50" y1="451.48" x2="432.60" y2="451.48" stroke="#231f20" stroke-width="0.85"/>
<line x1="430.50" y1="447.70" x2="432.60" y2="447.70" stroke="#231f20" stroke-width="0.85"/>
<line x1="430.50" y1="443.91" x2="432.60" y2="443.91" stroke="#231f20" stroke-width="0.85"/>
<line x1="429.40" y1="440.12" x2="432.60" y2="440.12" stroke="#231f20" stroke-width="0.85"/>
<line x1="430.50" y1="436.33" x2="432.60" y2="436.33" stroke="#231f20" stroke-width="0.85"/>
<line x1="430.50" y1="432.54" x2="432.60" y2="432.54" stroke="#231f20" stroke-width="0.85"/>
<line x1="430.50" y1="428.76" x2="432.60" y2="428.76" stroke="#231f20" stroke-width="0.85"/>
<line x1="430.50" y1="424.97" x2="432.60" y2="424.97" stroke="#231f20" stroke-width="0.85"/>
<line x1="429.40" y1="421.18" x2="432.60" y2="421.18" stroke="#231f20" stroke-width="0.85"/>
<line x1="430.50" y1="417.39" x2="432.60" y2="417.39" stroke="#231f20" stroke-width="0.85"/>
<line x1="430.50" y1="413.60" x2="432.60" y2="413.60" stroke="#231f20" stroke-width="0.85"/>
<line x1="430.50" y1="409.82" x2="432.60" y2="409.82" stroke="#231f20" stroke-width="0.85"/>
<line x1="430.50" y1="406.03" x2="432.60" y2="406.03" stroke="#231f20" stroke-width="0.85"/>
<line x1="429.40" y1="402.24" x2="432.60" y2="402.24" stroke="#231f20" stroke-width="0.85"/>
<line x1="430.50" y1="398.45" x2="432.60" y2="398.45" stroke="#231f20" stroke-width="0.85"/>
<line x1="430.50" y1="394.66" x2="432.60" y2="394.66" stroke="#231f20" stroke-width="0.85"/>
<line x1="430.50" y1="390.88" x2="432.60" y2="390.88" stroke="#231f20" stroke-width="0.85"/>
<line x1="430.50" y1="387.09" x2="432.60" y2="387.09" stroke="#231f20" stroke-width="0.85"/>
<line x1="429.40" y1="383.30" x2="432.60" y2="383.30" stroke="#231f20" stroke-width="0.85"/>
<text x="426.10" y="480.70" font-size="7.5" text-anchor="end" fill="#231f20" color="#231f20" font-weight="normal" >0</text>
<text x="426.10" y="461.76" font-size="7.5" text-anchor="end" fill="#231f20" color="#231f20" font-weight="normal" >20</text>
<text x="426.10" y="442.82" font-size="7.5" text-anchor="end" fill="#231f20" color="#231f20" font-weight="normal" >40</text>
<text x="426.10" y="423.88" font-size="7.5" text-anchor="end" fill="#231f20" color="#231f20" font-weight="normal" >60</text>
<text x="426.10" y="404.94" font-size="7.5" text-anchor="end" fill="#231f20" color="#231f20" font-weight="normal" >80</text>
<text x="426.10" y="386.00" font-size="7.5" text-anchor="end" fill="#231f20" color="#231f20" font-weight="normal" >100</text>
<text transform="translate(407.50,430.20) rotate(-90) scale(0.74,1)" font-size="8.8" text-anchor="middle" fill="#231f20" color="#231f20">% Siglec-9+ cells</text>
<line x1="452.50" y1="478.00" x2="452.50" y2="480.60" stroke="#231f20" stroke-width="0.85"/>
<text x="452.50" y="489.90" font-size="7.8" text-anchor="middle" fill="#231f20" color="#231f20" font-weight="normal" >IL-2 act-NK</text>
<line x1="492.30" y1="478.00" x2="492.30" y2="480.60" stroke="#231f20" stroke-width="0.85"/>
<text x="492.30" y="489.90" font-size="7.8" text-anchor="middle" fill="#231f20" color="#231f20" font-weight="normal" >exp-NK</text>
<path d="M28.70,618.50 L29.65,618.36 L30.60,618.22 L31.55,618.07 L32.50,617.92 L33.45,617.76 L34.40,617.59 L35.36,617.41 L36.31,617.22 L37.26,617.03 L38.21,616.82 L39.16,616.61 L40.11,616.38 L41.06,616.14 L42.01,615.88 L42.96,615.61 L43.91,615.32 L44.86,615.02 L45.81,614.69 L46.76,614.34 L47.72,613.97 L48.67,613.57 L49.62,613.14 L50.57,612.68 L51.52,612.18 L52.47,611.63 L53.42,611.04 L54.37,610.40 L55.32,609.69 L56.27,608.91 L57.22,608.04 L58.17,607.08 L59.12,606.00 L60.08,604.78 L61.03,603.39 L61.98,601.80 L62.93,599.96 L63.88,597.79 L64.83,595.22 L65.78,592.11 L65.78,592.11 L65.89,591.72 L65.99,591.32 L66.10,590.91 L66.21,590.48 L66.32,590.05 L66.42,589.61 L66.53,589.16 L66.64,588.69 L66.74,588.21 L66.85,587.72 L66.96,587.22 L67.06,586.70 L67.17,586.17 L67.28,585.62 L67.39,585.06 L67.49,584.48 L67.60,583.89 L67.71,583.27 L67.81,582.64 L67.92,581.99 L68.03,581.32 L68.13,580.62 L68.24,579.91 L68.35,579.17 L68.46,578.40 L68.56,577.61 L68.67,576.80 L68.78,575.95 L68.88,575.08 L68.99,574.17 L69.10,573.23 L69.20,572.25 L69.31,571.23 L69.42,570.18 L69.53,569.08 L69.63,567.94 L69.74,566.75 L69.85,565.51 L69.95,564.22 L70.06,562.87 L70.17,561.45 L70.28,559.97 L70.38,558.43 L70.49,556.80 L70.60,555.09 L70.70,553.30 L70.81,551.41 L70.92,549.42 L71.02,547.32 L71.13,545.10 L71.24,542.75 L71.35,540.25 L71.45,537.60 L71.56,534.78 L71.67,531.77 L71.77,528.55 L71.88,525.10 L71.99,521.39 L72.09,517.40" fill="none" stroke="#3db54a" stroke-width="1.25"/>
<path d="M152.30,618.50 L151.35,618.36 L150.40,618.22 L149.45,618.07 L148.50,617.92 L147.55,617.76 L146.60,617.59 L145.64,617.41 L144.69,617.22 L143.74,617.03 L142.79,616.82 L141.84,616.61 L140.89,616.38 L139.94,616.14 L138.99,615.88 L138.04,615.61 L137.09,615.32 L136.14,615.02 L135.19,614.69 L134.24,614.34 L133.28,613.97 L132.33,613.57 L131.38,613.14 L130.43,612.68 L129.48,612.18 L128.53,611.63 L127.58,611.04 L126.63,610.40 L125.68,609.69 L124.73,608.91 L123.78,608.04 L122.83,607.08 L121.88,606.00 L120.92,604.78 L119.97,603.39 L119.02,601.80 L118.07,599.96 L117.12,597.79 L116.17,595.22 L115.22,592.11 L115.22,592.11 L115.11,591.72 L115.01,591.32 L114.90,590.91 L114.79,590.48 L114.68,590.05 L114.58,589.61 L114.47,589.16 L114.36,588.69 L114.26,588.21 L114.15,587.72 L114.04,587.22 L113.94,586.70 L113.83,586.17 L113.72,585.62 L113.61,585.06 L113.51,584.48 L113.40,583.89 L113.29,583.27 L113.19,582.64 L113.08,581.99 L112.97,581.32 L112.87,580.62 L112.76,579.91 L112.65,579.17 L112.54,578.40 L112.44,577.61 L112.33,576.80 L112.22,575.95 L112.12,575.08 L112.01,574.17 L111.90,573.23 L111.80,572.25 L111.69,571.23 L111.58,570.18 L111.47,569.08 L111.37,567.94 L111.26,566.75 L111.15,565.51 L111.05,564.22 L110.94,562.87 L110.83,561.45 L110.72,559.97 L110.62,558.43 L110.51,556.80 L110.40,555.09 L110.30,553.30 L110.19,551.41 L110.08,549.42 L109.98,547.32 L109.87,545.10 L109.76,542.75 L109.65,540.25 L109.55,537.60 L109.44,534.78 L109.33,531.77 L109.23,528.55 L109.12,525.10 L109.01,521.39 L108.91,517.40" fill="none" stroke="#3db54a" stroke-width="1.25"/>
<line x1="28.60" y1="517.40" x2="28.60" y2="641.40" stroke="#231f20" stroke-width="1.2"/>
<line x1="28.00" y1="640.80" x2="155.80" y2="640.80" stroke="#231f20" stroke-width="1.2"/>
<line x1="25.60" y1="640.80" x2="28.60" y2="640.80" stroke="#231f20" stroke-width="0.85"/>
<text x="23.20" y="643.70" font-size="8.1" text-anchor="end" fill="#231f20" color="#231f20" font-weight="normal" >0</text>
<line x1="25.60" y1="618.35" x2="28.60" y2="618.35" stroke="#231f20" stroke-width="0.85"/>
<text x="23.20" y="621.25" font-size="8.1" text-anchor="end" fill="#231f20" color="#231f20" font-weight="normal" >1</text>
<line x1="25.60" y1="595.90" x2="28.60" y2="595.90" stroke="#231f20" stroke-width="0.85"/>
<text x="23.20" y="598.80" font-size="8.1" text-anchor="end" fill="#231f20" color="#231f20" font-weight="normal" >2</text>
<line x1="25.60" y1="573.45" x2="28.60" y2="573.45" stroke="#231f20" stroke-width="0.85"/>
<text x="23.20" y="576.35" font-size="8.1" text-anchor="end" fill="#231f20" color="#231f20" font-weight="normal" >3</text>
<line x1="25.60" y1="551.00" x2="28.60" y2="551.00" stroke="#231f20" stroke-width="0.85"/>
<text x="23.20" y="553.90" font-size="8.1" text-anchor="end" fill="#231f20" color="#231f20" font-weight="normal" >4</text>
<line x1="25.60" y1="528.55" x2="28.60" y2="528.55" stroke="#231f20" stroke-width="0.85"/>
<text x="23.20" y="531.45" font-size="8.1" text-anchor="end" fill="#231f20" color="#231f20" font-weight="normal" >5</text>
<line x1="28.70" y1="640.80" x2="28.70" y2="643.60" stroke="#231f20" stroke-width="0.85"/>
<text x="27.50" y="652.20" font-size="7.9" text-anchor="middle" fill="#231f20" color="#231f20" font-weight="normal" >−10</text>
<line x1="59.60" y1="640.80" x2="59.60" y2="643.60" stroke="#231f20" stroke-width="0.85"/>
<text x="58.40" y="652.20" font-size="7.9" text-anchor="middle" fill="#231f20" color="#231f20" font-weight="normal" >−5</text>
<line x1="90.50" y1="640.80" x2="90.50" y2="643.60" stroke="#231f20" stroke-width="0.85"/>
<text x="90.50" y="652.20" font-size="7.9" text-anchor="middle" fill="#231f20" color="#231f20" font-weight="normal" >0</text>
<line x1="121.40" y1="640.80" x2="121.40" y2="643.60" stroke="#231f20" stroke-width="0.85"/>
<text x="121.40" y="652.20" font-size="7.9" text-anchor="middle" fill="#231f20" color="#231f20" font-weight="normal" >5</text>
<line x1="152.30" y1="640.80" x2="152.30" y2="643.60" stroke="#231f20" stroke-width="0.85"/>
<text x="152.30" y="652.20" font-size="7.9" text-anchor="middle" fill="#231f20" color="#231f20" font-weight="normal" >10</text>
<text x="92.30" y="514.50" font-size="9.3" text-anchor="middle" fill="#231f20" color="#231f20" font-weight="normal" >H929</text>
<text transform="translate(13.20,584.10) rotate(-90) scale(0.74,1)" font-size="8.0" text-anchor="middle" fill="#231f20" color="#231f20">−log<tspan font-size="5.6" dy="1.6">10</tspan><tspan dy="-1.6"> (</tspan><tspan font-style="italic">p</tspan>)</text>
<text transform="translate(90.50,660.10) scale(0.74,1)" font-size="8.0" text-anchor="middle" fill="#231f20" color="#231f20" font-weight="normal" >log<tspan font-size="5.6" dy="1.6">2</tspan><tspan dy="-1.6"> (untreated intensity-sialidase</tspan></text>
<text transform="translate(90.00,671.00) scale(0.74,1)" font-size="8.0" text-anchor="middle" fill="#231f20" color="#231f20" font-weight="normal" >treated intensity)</text>
<circle cx="93.20" cy="606.60" r="1.15" fill="#d0173c"/>
<circle cx="92.70" cy="614.90" r="1.15" fill="#d0173c"/>
<circle cx="92.50" cy="616.50" r="1.15" fill="#d0173c"/>
<circle cx="91.90" cy="620.20" r="1.15" fill="#d0173c"/>
<circle cx="90.00" cy="624.90" r="1.15" fill="#d0173c"/>
<circle cx="89.20" cy="626.10" r="1.15" fill="#d0173c"/>
<circle cx="87.30" cy="627.10" r="1.15" fill="#d0173c"/>
<circle cx="93.10" cy="626.80" r="1.15" fill="#d0173c"/>
<circle cx="81.90" cy="628.80" r="1.15" fill="#d0173c"/>
<circle cx="80.80" cy="631.80" r="1.15" fill="#d0173c"/>
<circle cx="84.20" cy="631.50" r="1.15" fill="#d0173c"/>
<circle cx="86.90" cy="632.50" r="1.15" fill="#d0173c"/>
<circle cx="91.90" cy="631.10" r="1.15" fill="#d0173c"/>
<circle cx="91.50" cy="633.40" r="1.15" fill="#d0173c"/>
<circle cx="90.40" cy="634.90" r="1.15" fill="#d0173c"/>
<circle cx="91.20" cy="636.50" r="1.15" fill="#d0173c"/>
<circle cx="90.00" cy="638.00" r="1.15" fill="#d0173c"/>
<circle cx="90.80" cy="639.50" r="1.15" fill="#d0173c"/>
<circle cx="90.40" cy="640.70" r="1.15" fill="#d0173c"/>
<circle cx="101.20" cy="628.20" r="1.15" fill="#d0173c"/>
<circle cx="94.20" cy="637.20" r="1.15" fill="#d0173c"/>
<circle cx="88.50" cy="634.20" r="1.15" fill="#d0173c"/>
<circle cx="92.30" cy="604.80" r="1.15" fill="#12508f"/>
<circle cx="83.20" cy="609.90" r="1.15" fill="#12508f"/>
<circle cx="98.50" cy="614.90" r="1.15" fill="#12508f"/>
<circle cx="106.00" cy="614.20" r="1.15" fill="#12508f"/>
<circle cx="94.20" cy="616.10" r="1.15" fill="#12508f"/>
<circle cx="76.70" cy="621.70" r="1.15" fill="#12508f"/>
<circle cx="97.10" cy="621.10" r="1.15" fill="#12508f"/>
<circle cx="89.20" cy="623.20" r="1.15" fill="#12508f"/>
<circle cx="91.90" cy="622.50" r="1.15" fill="#12508f"/>
<circle cx="93.80" cy="622.80" r="1.15" fill="#12508f"/>
<circle cx="85.00" cy="628.00" r="1.15" fill="#12508f"/>
<circle cx="88.50" cy="630.30" r="1.15" fill="#12508f"/>
<circle cx="88.10" cy="631.80" r="1.15" fill="#12508f"/>
<circle cx="91.50" cy="628.80" r="1.15" fill="#12508f"/>
<circle cx="93.10" cy="634.20" r="1.15" fill="#12508f"/>
<circle cx="97.10" cy="634.90" r="1.15" fill="#12508f"/>
<circle cx="87.50" cy="638.00" r="1.15" fill="#12508f"/>
<circle cx="87.80" cy="639.50" r="1.15" fill="#12508f"/>
<circle cx="93.10" cy="638.80" r="1.15" fill="#12508f"/>
<circle cx="131.70" cy="544.00" r="1.15" fill="#12508f"/>
<text x="129.70" y="539.10" font-size="8.0" text-anchor="start" fill="#2aa6e0" color="#2aa6e0" font-weight="normal" >PSGL-1</text>
<path d="M208.90,622.76 L209.85,622.61 L210.80,622.46 L211.75,622.29 L212.70,622.12 L213.65,621.94 L214.60,621.76 L215.54,621.57 L216.49,621.36 L217.44,621.15 L218.39,620.93 L219.34,620.69 L220.29,620.45 L221.24,620.19 L222.19,619.92 L223.14,619.63 L224.09,619.33 L225.04,619.01 L225.99,618.67 L226.94,618.30 L227.88,617.92 L228.83,617.51 L229.78,617.07 L230.73,616.60 L231.68,616.10 L232.63,615.56 L233.58,614.98 L234.53,614.35 L235.48,613.66 L236.43,612.92 L237.38,612.10 L238.33,611.21 L239.28,610.22 L240.22,609.13 L241.17,607.91 L242.12,606.54 L243.07,604.99 L244.02,603.23 L244.97,601.21 L245.92,598.86 L245.92,598.86 L246.06,598.47 L246.21,598.07 L246.35,597.66 L246.50,597.24 L246.64,596.81 L246.78,596.37 L246.93,595.92 L247.07,595.45 L247.22,594.97 L247.36,594.48 L247.50,593.97 L247.65,593.45 L247.79,592.91 L247.94,592.36 L248.08,591.79 L248.22,591.21 L248.37,590.60 L248.51,589.98 L248.66,589.34 L248.80,588.67 L248.94,587.99 L249.09,587.28 L249.23,586.55 L249.38,585.79 L249.52,585.00 L249.66,584.19 L249.81,583.35 L249.95,582.48 L250.10,581.57 L250.24,580.63 L250.38,579.65 L250.53,578.63 L250.67,577.57 L250.82,576.47 L250.96,575.32 L251.10,574.12 L251.25,572.87 L251.39,571.55 L251.54,570.18 L251.68,568.74 L251.82,567.23 L251.97,565.65 L252.11,563.98 L252.26,562.23 L252.40,560.38 L252.54,558.43 L252.69,556.36 L252.83,554.18 L252.98,551.86 L253.12,549.39 L253.26,546.77 L253.41,543.97 L253.55,540.97 L253.70,537.76 L253.84,534.31 L253.98,530.60 L254.13,526.58 L254.27,522.23 L254.42,517.50" fill="none" stroke="#3db54a" stroke-width="1.25"/>
<path d="M332.30,621.33 L331.35,621.22 L330.40,621.11 L329.45,620.99 L328.50,620.87 L327.55,620.74 L326.60,620.60 L325.66,620.46 L324.71,620.32 L323.76,620.16 L322.81,620.00 L321.86,619.83 L320.91,619.65 L319.96,619.45 L319.01,619.25 L318.06,619.04 L317.11,618.81 L316.16,618.57 L315.21,618.31 L314.26,618.03 L313.32,617.74 L312.37,617.42 L311.42,617.09 L310.47,616.72 L309.52,616.32 L308.57,615.90 L307.62,615.43 L306.67,614.92 L305.72,614.36 L304.77,613.74 L303.82,613.06 L302.87,612.30 L301.92,611.45 L300.98,610.49 L300.03,609.40 L299.08,608.15 L298.13,606.70 L297.18,605.00 L296.23,602.99 L295.28,600.55 L295.28,600.55 L295.16,600.21 L295.04,599.86 L294.93,599.51 L294.81,599.14 L294.69,598.76 L294.57,598.37 L294.45,597.98 L294.33,597.57 L294.22,597.14 L294.10,596.71 L293.98,596.26 L293.86,595.80 L293.74,595.32 L293.62,594.83 L293.51,594.32 L293.39,593.80 L293.27,593.26 L293.15,592.70 L293.03,592.12 L292.91,591.52 L292.80,590.90 L292.68,590.26 L292.56,589.60 L292.44,588.91 L292.32,588.19 L292.20,587.45 L292.09,586.67 L291.97,585.87 L291.85,585.03 L291.73,584.15 L291.61,583.24 L291.50,582.29 L291.38,581.30 L291.26,580.25 L291.14,579.17 L291.02,578.02 L290.90,576.82 L290.79,575.56 L290.67,574.24 L290.55,572.84 L290.43,571.37 L290.31,569.81 L290.19,568.17 L290.08,566.42 L289.96,564.57 L289.84,562.60 L289.72,560.50 L289.60,558.26 L289.48,555.86 L289.37,553.28 L289.25,550.51 L289.13,547.52 L289.01,544.28 L288.89,540.77 L288.77,536.95 L288.66,532.77 L288.54,528.18 L288.42,523.11 L288.30,517.50" fill="none" stroke="#3db54a" stroke-width="1.25"/>
<line x1="208.90" y1="517.50" x2="208.90" y2="641.20" stroke="#231f20" stroke-width="1.2"/>
<line x1="208.30" y1="640.60" x2="336.00" y2="640.60" stroke="#231f20" stroke-width="1.2"/>
<line x1="205.90" y1="640.60" x2="208.90" y2="640.60" stroke="#231f20" stroke-width="0.85"/>
<text x="203.50" y="643.50" font-size="8.1" text-anchor="end" fill="#231f20" color="#231f20" font-weight="normal" >0</text>
<line x1="205.90" y1="618.00" x2="208.90" y2="618.00" stroke="#231f20" stroke-width="0.85"/>
<text x="203.50" y="620.90" font-size="8.1" text-anchor="end" fill="#231f20" color="#231f20" font-weight="normal" >1</text>
<line x1="205.90" y1="595.40" x2="208.90" y2="595.40" stroke="#231f20" stroke-width="0.85"/>
<text x="203.50" y="598.30" font-size="8.1" text-anchor="end" fill="#231f20" color="#231f20" font-weight="normal" >2</text>
<line x1="205.90" y1="572.80" x2="208.90" y2="572.80" stroke="#231f20" stroke-width="0.85"/>
<text x="203.50" y="575.70" font-size="8.1" text-anchor="end" fill="#231f20" color="#231f20" font-weight="normal" >3</text>
<line x1="205.90" y1="550.20" x2="208.90" y2="550.20" stroke="#231f20" stroke-width="0.85"/>
<text x="203.50" y="553.10" font-size="8.1" text-anchor="end" fill="#231f20" color="#231f20" font-weight="normal" >4</text>
<line x1="205.90" y1="527.60" x2="208.90" y2="527.60" stroke="#231f20" stroke-width="0.85"/>
<text x="203.50" y="530.50" font-size="8.1" text-anchor="end" fill="#231f20" color="#231f20" font-weight="normal" >5</text>
<line x1="208.90" y1="640.60" x2="208.90" y2="643.40" stroke="#231f20" stroke-width="0.85"/>
<text x="207.70" y="652.00" font-size="7.9" text-anchor="middle" fill="#231f20" color="#231f20" font-weight="normal" >−10</text>
<line x1="239.75" y1="640.60" x2="239.75" y2="643.40" stroke="#231f20" stroke-width="0.85"/>
<text x="238.55" y="652.00" font-size="7.9" text-anchor="middle" fill="#231f20" color="#231f20" font-weight="normal" >−5</text>
<line x1="270.60" y1="640.60" x2="270.60" y2="643.40" stroke="#231f20" stroke-width="0.85"/>
<text x="270.60" y="652.00" font-size="7.9" text-anchor="middle" fill="#231f20" color="#231f20" font-weight="normal" >0</text>
<line x1="301.45" y1="640.60" x2="301.45" y2="643.40" stroke="#231f20" stroke-width="0.85"/>
<text x="301.45" y="652.00" font-size="7.9" text-anchor="middle" fill="#231f20" color="#231f20" font-weight="normal" >5</text>
<line x1="332.30" y1="640.60" x2="332.30" y2="643.40" stroke="#231f20" stroke-width="0.85"/>
<text x="332.30" y="652.00" font-size="7.9" text-anchor="middle" fill="#231f20" color="#231f20" font-weight="normal" >10</text>
<text x="272.40" y="514.50" font-size="9.3" text-anchor="middle" fill="#231f20" color="#231f20" font-weight="normal" >JJN3</text>
<text transform="translate(193.50,584.05) rotate(-90) scale(0.74,1)" font-size="8.0" text-anchor="middle" fill="#231f20" color="#231f20">−log<tspan font-size="5.6" dy="1.6">10</tspan><tspan dy="-1.6"> (</tspan><tspan font-style="italic">p</tspan>)</text>
<text transform="translate(270.60,659.90) scale(0.74,1)" font-size="8.0" text-anchor="middle" fill="#231f20" color="#231f20" font-weight="normal" >log<tspan font-size="5.6" dy="1.6">2</tspan><tspan dy="-1.6"> (untreated intensity-sialidase</tspan></text>
<text transform="translate(270.10,670.80) scale(0.74,1)" font-size="8.0" text-anchor="middle" fill="#231f20" color="#231f20" font-weight="normal" >treated intensity)</text>
<circle cx="272.50" cy="608.50" r="1.15" fill="#d0173c"/>
<circle cx="266.80" cy="624.90" r="1.15" fill="#d0173c"/>
<circle cx="263.10" cy="629.20" r="1.15" fill="#d0173c"/>
<circle cx="265.00" cy="629.50" r="1.15" fill="#d0173c"/>
<circle cx="275.00" cy="626.80" r="1.15" fill="#d0173c"/>
<circle cx="263.80" cy="634.20" r="1.15" fill="#d0173c"/>
<circle cx="267.30" cy="633.40" r="1.15" fill="#d0173c"/>
<circle cx="268.10" cy="634.90" r="1.15" fill="#d0173c"/>
<circle cx="270.00" cy="633.80" r="1.15" fill="#d0173c"/>
<circle cx="271.50" cy="631.80" r="1.15" fill="#d0173c"/>
<circle cx="272.70" cy="632.20" r="1.15" fill="#d0173c"/>
<circle cx="273.10" cy="634.20" r="1.15" fill="#d0173c"/>
<circle cx="271.90" cy="635.70" r="1.15" fill="#d0173c"/>
<circle cx="275.80" cy="634.50" r="1.15" fill="#d0173c"/>
<circle cx="270.40" cy="638.00" r="1.15" fill="#d0173c"/>
<circle cx="270.60" cy="639.90" r="1.15" fill="#d0173c"/>
<circle cx="273.80" cy="633.00" r="1.15" fill="#d0173c"/>
<circle cx="261.50" cy="618.90" r="1.15" fill="#12508f"/>
<circle cx="269.60" cy="620.50" r="1.15" fill="#12508f"/>
<circle cx="265.80" cy="627.10" r="1.15" fill="#12508f"/>
<circle cx="264.20" cy="630.70" r="1.15" fill="#12508f"/>
<circle cx="276.80" cy="627.10" r="1.15" fill="#12508f"/>
<circle cx="279.10" cy="629.40" r="1.15" fill="#12508f"/>
<circle cx="279.60" cy="630.20" r="1.15" fill="#12508f"/>
<circle cx="275.80" cy="631.80" r="1.15" fill="#12508f"/>
<circle cx="266.20" cy="636.10" r="1.15" fill="#12508f"/>
<circle cx="267.30" cy="636.80" r="1.15" fill="#12508f"/>
<circle cx="271.50" cy="636.50" r="1.15" fill="#12508f"/>
<circle cx="269.20" cy="635.30" r="1.15" fill="#12508f"/>
<circle cx="234.80" cy="619.70" r="1.15" fill="#12508f"/>
<circle cx="269.00" cy="576.10" r="1.15" fill="#12508f"/>
<circle cx="294.20" cy="518.70" r="1.15" fill="#12508f"/>
<text x="295.70" y="525.90" font-size="8.0" text-anchor="start" fill="#2aa6e0" color="#2aa6e0" font-weight="normal" >CD43</text>
<circle cx="298.10" cy="576.10" r="1.15" fill="#12508f"/>
<text x="299.10" y="584.50" font-size="8.0" text-anchor="start" fill="#2aa6e0" color="#2aa6e0" font-weight="normal" >PSGL-1</text>
<path d="M385.60,617.97 L386.55,617.86 L387.50,617.74 L388.45,617.61 L389.40,617.48 L390.35,617.34 L391.30,617.20 L392.24,617.05 L393.19,616.89 L394.14,616.72 L395.09,616.54 L396.04,616.36 L396.99,616.16 L397.94,615.95 L398.89,615.73 L399.84,615.50 L400.79,615.25 L401.74,614.98 L402.69,614.70 L403.64,614.40 L404.58,614.07 L405.53,613.72 L406.48,613.34 L407.43,612.94 L408.38,612.49 L409.33,612.01 L410.28,611.48 L411.23,610.90 L412.18,610.26 L413.13,609.55 L414.08,608.76 L415.03,607.88 L415.98,606.87 L416.92,605.73 L417.87,604.42 L418.82,602.90 L419.77,601.11 L420.72,598.98 L421.67,596.39 L422.62,593.19 L422.62,593.19 L422.72,592.82 L422.81,592.44 L422.91,592.05 L423.01,591.66 L423.10,591.25 L423.20,590.83 L423.30,590.40 L423.39,589.96 L423.49,589.50 L423.59,589.04 L423.68,588.56 L423.78,588.06 L423.88,587.56 L423.97,587.04 L424.07,586.50 L424.17,585.95 L424.26,585.38 L424.36,584.79 L424.46,584.18 L424.55,583.56 L424.65,582.91 L424.75,582.24 L424.84,581.55 L424.94,580.84 L425.04,580.10 L425.14,579.34 L425.23,578.55 L425.33,577.72 L425.43,576.87 L425.52,575.99 L425.62,575.07 L425.72,574.12 L425.81,573.12 L425.91,572.09 L426.01,571.01 L426.10,569.89 L426.20,568.72 L426.30,567.49 L426.39,566.21 L426.49,564.87 L426.59,563.46 L426.68,561.98 L426.78,560.43 L426.88,558.80 L426.97,557.08 L427.07,555.27 L427.17,553.35 L427.26,551.33 L427.36,549.18 L427.46,546.91 L427.55,544.48 L427.65,541.90 L427.75,539.15 L427.84,536.20 L427.94,533.04 L428.04,529.64 L428.13,525.97 L428.23,522.00 L428.33,517.70" fill="none" stroke="#3db54a" stroke-width="1.25"/>
<path d="M509.00,617.97 L508.05,617.86 L507.10,617.74 L506.15,617.61 L505.20,617.48 L504.25,617.34 L503.30,617.20 L502.36,617.05 L501.41,616.89 L500.46,616.72 L499.51,616.54 L498.56,616.36 L497.61,616.16 L496.66,615.95 L495.71,615.73 L494.76,615.50 L493.81,615.25 L492.86,614.98 L491.91,614.70 L490.96,614.40 L490.02,614.07 L489.07,613.72 L488.12,613.34 L487.17,612.94 L486.22,612.49 L485.27,612.01 L484.32,611.48 L483.37,610.90 L482.42,610.26 L481.47,609.55 L480.52,608.76 L479.57,607.88 L478.62,606.87 L477.68,605.73 L476.73,604.42 L475.78,602.90 L474.83,601.11 L473.88,598.98 L472.93,596.39 L471.98,593.19 L471.98,593.19 L471.88,592.82 L471.79,592.44 L471.69,592.05 L471.59,591.66 L471.50,591.25 L471.40,590.83 L471.30,590.40 L471.21,589.96 L471.11,589.50 L471.01,589.04 L470.92,588.56 L470.82,588.06 L470.72,587.56 L470.63,587.04 L470.53,586.50 L470.43,585.95 L470.34,585.38 L470.24,584.79 L470.14,584.18 L470.05,583.56 L469.95,582.91 L469.85,582.24 L469.76,581.55 L469.66,580.84 L469.56,580.10 L469.46,579.34 L469.37,578.55 L469.27,577.72 L469.17,576.87 L469.08,575.99 L468.98,575.07 L468.88,574.12 L468.79,573.12 L468.69,572.09 L468.59,571.01 L468.50,569.89 L468.40,568.72 L468.30,567.49 L468.21,566.21 L468.11,564.87 L468.01,563.46 L467.92,561.98 L467.82,560.43 L467.72,558.80 L467.63,557.08 L467.53,555.27 L467.43,553.35 L467.34,551.33 L467.24,549.18 L467.14,546.91 L467.05,544.48 L466.95,541.90 L466.85,539.15 L466.76,536.20 L466.66,533.04 L466.56,529.64 L466.47,525.97 L466.37,522.00 L466.27,517.70" fill="none" stroke="#3db54a" stroke-width="1.25"/>
<line x1="385.60" y1="517.70" x2="385.60" y2="641.60" stroke="#231f20" stroke-width="1.2"/>
<line x1="385.00" y1="641.00" x2="512.40" y2="641.00" stroke="#231f20" stroke-width="1.2"/>
<line x1="382.60" y1="641.00" x2="385.60" y2="641.00" stroke="#231f20" stroke-width="0.85"/>
<text x="380.20" y="643.90" font-size="8.1" text-anchor="end" fill="#231f20" color="#231f20" font-weight="normal" >0</text>
<line x1="382.60" y1="618.40" x2="385.60" y2="618.40" stroke="#231f20" stroke-width="0.85"/>
<text x="380.20" y="621.30" font-size="8.1" text-anchor="end" fill="#231f20" color="#231f20" font-weight="normal" >1</text>
<line x1="382.60" y1="595.80" x2="385.60" y2="595.80" stroke="#231f20" stroke-width="0.85"/>
<text x="380.20" y="598.70" font-size="8.1" text-anchor="end" fill="#231f20" color="#231f20" font-weight="normal" >2</text>
<line x1="382.60" y1="573.20" x2="385.60" y2="573.20" stroke="#231f20" stroke-width="0.85"/>
<text x="380.20" y="576.10" font-size="8.1" text-anchor="end" fill="#231f20" color="#231f20" font-weight="normal" >3</text>
<line x1="382.60" y1="550.60" x2="385.60" y2="550.60" stroke="#231f20" stroke-width="0.85"/>
<text x="380.20" y="553.50" font-size="8.1" text-anchor="end" fill="#231f20" color="#231f20" font-weight="normal" >4</text>
<line x1="382.60" y1="528.00" x2="385.60" y2="528.00" stroke="#231f20" stroke-width="0.85"/>
<text x="380.20" y="530.90" font-size="8.1" text-anchor="end" fill="#231f20" color="#231f20" font-weight="normal" >5</text>
<line x1="385.60" y1="641.00" x2="385.60" y2="643.80" stroke="#231f20" stroke-width="0.85"/>
<text x="384.40" y="652.40" font-size="7.9" text-anchor="middle" fill="#231f20" color="#231f20" font-weight="normal" >−10</text>
<line x1="416.45" y1="641.00" x2="416.45" y2="643.80" stroke="#231f20" stroke-width="0.85"/>
<text x="415.25" y="652.40" font-size="7.9" text-anchor="middle" fill="#231f20" color="#231f20" font-weight="normal" >−5</text>
<line x1="447.30" y1="641.00" x2="447.30" y2="643.80" stroke="#231f20" stroke-width="0.85"/>
<text x="447.30" y="652.40" font-size="7.9" text-anchor="middle" fill="#231f20" color="#231f20" font-weight="normal" >0</text>
<line x1="478.15" y1="641.00" x2="478.15" y2="643.80" stroke="#231f20" stroke-width="0.85"/>
<text x="478.15" y="652.40" font-size="7.9" text-anchor="middle" fill="#231f20" color="#231f20" font-weight="normal" >5</text>
<line x1="509.00" y1="641.00" x2="509.00" y2="643.80" stroke="#231f20" stroke-width="0.85"/>
<text x="509.00" y="652.40" font-size="7.9" text-anchor="middle" fill="#231f20" color="#231f20" font-weight="normal" >10</text>
<text x="448.80" y="514.50" font-size="9.3" text-anchor="middle" fill="#231f20" color="#231f20" font-weight="normal" >MM1S</text>
<text transform="translate(370.20,584.35) rotate(-90) scale(0.74,1)" font-size="8.0" text-anchor="middle" fill="#231f20" color="#231f20">−log<tspan font-size="5.6" dy="1.6">10</tspan><tspan dy="-1.6"> (</tspan><tspan font-style="italic">p</tspan>)</text>
<text transform="translate(447.30,660.30) scale(0.74,1)" font-size="8.0" text-anchor="middle" fill="#231f20" color="#231f20" font-weight="normal" >log<tspan font-size="5.6" dy="1.6">2</tspan><tspan dy="-1.6"> (untreated intensity-sialidase</tspan></text>
<text transform="translate(446.80,671.20) scale(0.74,1)" font-size="8.0" text-anchor="middle" fill="#231f20" color="#231f20" font-weight="normal" >treated intensity)</text>
<circle cx="443.90" cy="604.30" r="1.15" fill="#d0173c"/>
<circle cx="442.10" cy="609.10" r="1.15" fill="#d0173c"/>
<circle cx="439.20" cy="612.80" r="1.15" fill="#d0173c"/>
<circle cx="444.80" cy="614.00" r="1.15" fill="#d0173c"/>
<circle cx="443.60" cy="615.70" r="1.15" fill="#d0173c"/>
<circle cx="442.10" cy="617.10" r="1.15" fill="#d0173c"/>
<circle cx="445.70" cy="621.50" r="1.15" fill="#d0173c"/>
<circle cx="444.20" cy="622.90" r="1.15" fill="#d0173c"/>
<circle cx="448.90" cy="622.30" r="1.15" fill="#d0173c"/>
<circle cx="454.10" cy="625.60" r="1.15" fill="#d0173c"/>
<circle cx="449.80" cy="627.40" r="1.15" fill="#d0173c"/>
<circle cx="444.20" cy="632.40" r="1.15" fill="#d0173c"/>
<circle cx="441.90" cy="635.00" r="1.15" fill="#d0173c"/>
<circle cx="446.00" cy="635.00" r="1.15" fill="#d0173c"/>
<circle cx="447.70" cy="633.80" r="1.15" fill="#d0173c"/>
<circle cx="449.70" cy="633.50" r="1.15" fill="#d0173c"/>
<circle cx="453.60" cy="632.60" r="1.15" fill="#d0173c"/>
<circle cx="446.60" cy="637.80" r="1.15" fill="#d0173c"/>
<circle cx="447.10" cy="640.20" r="1.15" fill="#d0173c"/>
<circle cx="451.60" cy="567.30" r="1.15" fill="#12508f"/>
<circle cx="453.80" cy="582.50" r="1.15" fill="#12508f"/>
<circle cx="451.80" cy="594.70" r="1.15" fill="#12508f"/>
<circle cx="459.40" cy="614.00" r="1.15" fill="#12508f"/>
<circle cx="458.60" cy="621.80" r="1.15" fill="#12508f"/>
<circle cx="450.60" cy="620.00" r="1.15" fill="#12508f"/>
<circle cx="449.50" cy="622.10" r="1.15" fill="#12508f"/>
<circle cx="444.20" cy="624.40" r="1.15" fill="#12508f"/>
<circle cx="444.80" cy="626.20" r="1.15" fill="#12508f"/>
<circle cx="445.70" cy="628.90" r="1.15" fill="#12508f"/>
<circle cx="449.80" cy="629.10" r="1.15" fill="#12508f"/>
<circle cx="453.90" cy="627.40" r="1.15" fill="#12508f"/>
<circle cx="455.10" cy="630.90" r="1.15" fill="#12508f"/>
<circle cx="448.30" cy="632.40" r="1.15" fill="#12508f"/>
<circle cx="453.90" cy="635.00" r="1.15" fill="#12508f"/>
<circle cx="444.20" cy="636.10" r="1.15" fill="#12508f"/>
<circle cx="445.40" cy="636.70" r="1.15" fill="#12508f"/>
<circle cx="448.90" cy="637.50" r="1.15" fill="#12508f"/>
<circle cx="500.80" cy="533.70" r="1.15" fill="#12508f"/>
<text x="474.80" y="528.90" font-size="8.0" text-anchor="start" fill="#2aa6e0" color="#2aa6e0" font-weight="normal" >PSGL-1</text>
<rect x="0" y="676" width="520" height="1" fill="#000" fill-opacity="0.45"/>
<rect x="1" y="0" width="1" height="678" fill="#000" fill-opacity="0.25"/>
</svg></body></html>
